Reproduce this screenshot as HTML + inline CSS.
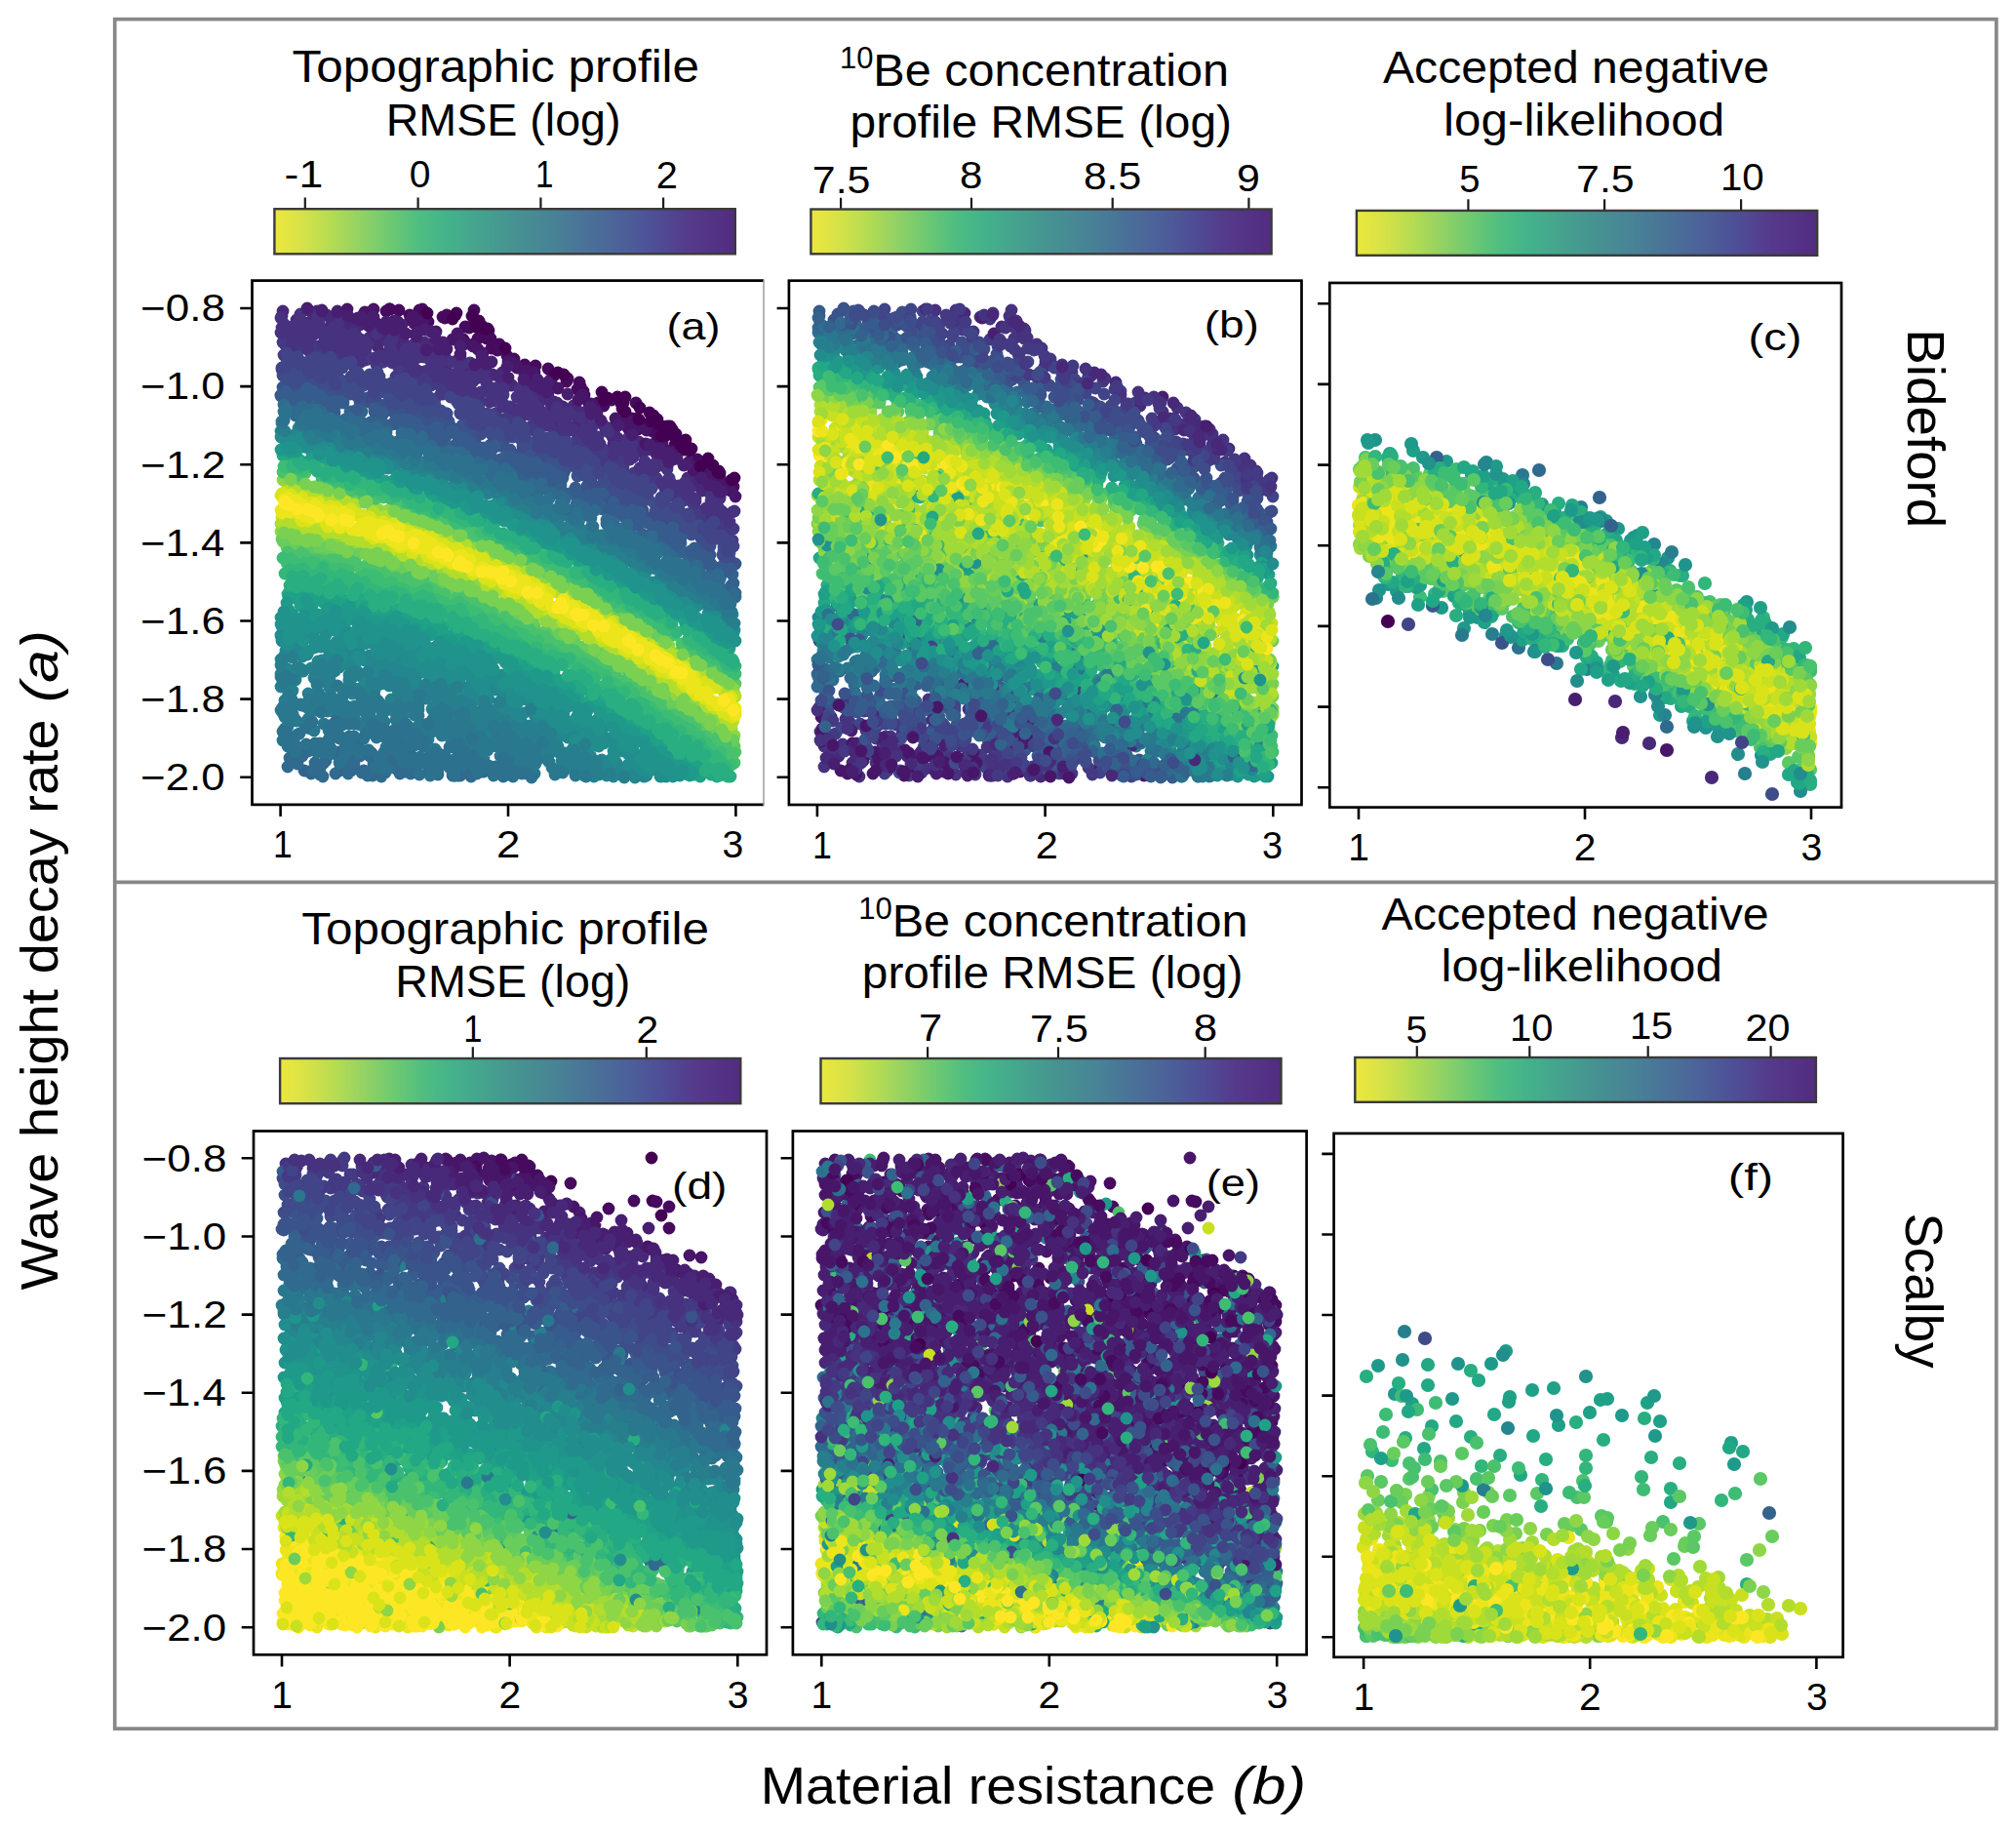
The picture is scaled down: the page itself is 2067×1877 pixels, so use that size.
<!DOCTYPE html>
<html><head><meta charset="utf-8"><title>Figure</title>
<style>html,body{margin:0;padding:0;background:#fff;overflow:hidden}svg{display:block}text{font-family:"Liberation Sans",sans-serif;fill:#000}</style></head><body>
<svg width="2067" height="1877" viewBox="0 0 2067 1877">
<rect width="2067" height="1877" fill="#fff"/>
<defs><linearGradient id="vg" x1="0" x2="1" y1="0" y2="0"><stop offset="0.00" stop-color="#ece73c"/><stop offset="0.06" stop-color="#d6e248"/><stop offset="0.12" stop-color="#b6dc52"/><stop offset="0.19" stop-color="#90d165"/><stop offset="0.25" stop-color="#6dc972"/><stop offset="0.31" stop-color="#50be80"/><stop offset="0.37" stop-color="#44b38b"/><stop offset="0.45" stop-color="#45a18e"/><stop offset="0.52" stop-color="#469291"/><stop offset="0.60" stop-color="#488396"/><stop offset="0.68" stop-color="#4a7198"/><stop offset="0.75" stop-color="#4c6299"/><stop offset="0.82" stop-color="#4e5097"/><stop offset="0.90" stop-color="#553a8b"/><stop offset="1.00" stop-color="#522c80"/></linearGradient></defs>
<g fill="none" stroke="#888888" stroke-width="3.7"><rect x="117.7" y="19.7" width="1929.2" height="1752.4"/><path d="M117.7 904.3H2046.9"/></g>
<g fill="none" stroke-linecap="round" stroke-width="12.8">
<path stroke="#a0da39" d="M295 496h0m0 0h0m16 3h0m11 2h0m2 2h0m-3 1h0m1 1h0m0 0h0m7-1h0m4 3h0m9 2h0m18 7h0m6 1h0m16 6h0m4-2h0m14 5h0m2 3h0m3-1h0m1 2h0m2 0h0m2 0h0m-122 7h0m7 4h0m8 0h0m1 1h0m21 3h0m2 0h0m93-12h0m1 3h0m5 1h0m14 6h0m-117 5h0m8-2h0m1 5h0m2-4h0m1 1h0m14 4h0m13 0h0m3 7h0m3-5h0m1 2h0m2 0h0m82-9h0m7 4h0m0 2h0m16 4h0m-106 4h0m7 4h0m9-4h0m1 2h0m8 1h0m0 3h0m4-1h0m1-1h0m3 5h0m7-1h0m1 3h0m2-1h0m12 2h0m59-13h0m12 7h0m7 3h0m1-1h0m-76 9h0m9 3h0m2-1h0m14 5h0m62-8h0m2-2h0m5 6h0m-59 8h0m0 2h0m0-3h0m7 6h0m4 2h0m4 1h0m1-1h0m4 2h0m2-2h0m1 2h0m2 2h0m0-2h0m5 3h0m53-13h0m5 5h0m17 5h0m-70 5h0m8 4h0m11 1h0m58-6h0m0 1h0m12 6h0m6 5h0m4 1h0m-68 7h0m0-6h0m8 5h0m9 6h0m1-3h0m51-6h0m7 1h0m16 10h0m2 0h0m-66 3h0m11 4h0m3 1h0m2 5h0m3-4h0m1 5h0m43-11h0m-35 16h0m3 0h0m2 1h0m2 2h0m11 1h0m3 5h0m2 0h0m46-11h0m6 4h0m1 1h0m7 6h0m-61 2h0m8 2h0m13 8h0m2-1h0m0 2h0m47-9h0m1 1h0m13 9h0m-59 4h0m9 2h0m4 1h0m4 2h0m8 5h0m41-12h0m7 3h0m4 3h0m-54 9h0m1-1h0m6 1h0m0 1h0m7 1h0m3 7h0m2 1h0m6 0h0m40-9h0m3 3h0m0-3h0m2 6h0m3-1h0m1-1h0m3 2h0m-43 11h0m5 3h0m2 0h0m1 2h0m3 1h0m44-8h0m0 2h0m1-2h0m8 7h0m-43 8h0m3 4h0m0-4h0m2 3h0m1 2h0m2 3h0m6 3h0m3-1h0m0 4h0m1 1h0m1-2h0m6 2h0m0 2h0m7 5h0m7 5h0"/>
<path stroke="#5ac864" d="M296 486h0m2 0h0m34 10h0m12 3h0m0 0h0m2 1h0m1 2h0m1-2h0m2 0h0m15 5h0m0-1h0m5 1h0m2 3h0m2 2h0m0-1h0m6 2h0m26 9h0m17 7h0m19 6h0m8-1h0m7 6h0m2 0h0m18 6h0m-183 15h0m3 0h0m5-1h0m187-5h0m12 5h0m0 0h0m3-3h0m-210 6h0m5 5h0m3-4h0m4 2h0m0 0h0m1-4h0m9 2h0m2 1h0m0 2h0m1-5h0m0 5h0m1-4h0m1-1h0m2 7h0m4-5h0m6 8h0m4-6h0m7 9h0m1-1h0m4-2h0m6 1h0m160-10h0m1 3h0m16 4h0m0 2h0m4 1h0m6 1h0m-215 2h0m27 2h0m7 3h0m3-5h0m5 8h0m4 3h0m3-6h0m3-2h0m4 3h0m1-1h0m1 6h0m2-2h0m7 4h0m5-5h0m5 0h0m137-8h0m4 3h0m6 6h0m8-1h0m5 1h0m4 4h0m-161 3h0m11-1h0m6-1h0m2 4h0m0 4h0m2 3h0m0-4h0m5 3h0m3-3h0m4 1h0m131-7h0m2 1h0m1 0h0m0 2h0m2-1h0m0-2h0m0 2h0m0-2h0m9 8h0m3 1h0m5 1h0m0 1h0m-147 2h0m6 1h0m1 1h0m3 6h0m13 4h0m125-12h0m1 0h0m5 4h0m17 7h0m4 0h0m-125 4h0m2 3h0m4 1h0m7 1h0m0 6h0m3-1h0m3-1h0m2 1h0m106-9h0m12 5h0m-116 7h0m5 6h0m1-2h0m1 2h0m3-4h0m2 2h0m3 4h0m1-3h0m3 4h0m1 0h0m2-2h0m6 3h0m1 0h0m0 3h0m102-9h0m0 0h0m0-2h0m3 3h0m6 1h0m2-1h0m2 3h0m7 1h0m1 2h0m-120 7h0m4 4h0m1-3h0m5 3h0m0-7h0m2 7h0m11 4h0m5-1h0m1-2h0m92-8h0m1 0h0m4 5h0m-105 8h0m0 0h0m2 0h0m1 2h0m14 4h0m1-1h0m11 6h0m101-4h0m3 2h0m-99 5h0m1 1h0m3 0h0m0 0h0m2 4h0m0 1h0m0-4h0m2 2h0m3 2h0m2 7h0m4-5h0m2 4h0m4-2h0m85-10h0m5 5h0m2 0h0m7 4h0m5 3h0m-101 2h0m0 0h0m9 12h0m10 1h0m96-8h0m0 3h0m-94 6h0m1 2h0m5-2h0m0 8h0m3-3h0m5 2h0m1 2h0m3 1h0m1-2h0m82-7h0m-79 22h0m2-6h0m5 0h0m7 6h0m1-2h0m3 5h0m-5 4h0m19 9h0m6 2h0m0 6h0m7-5h0m2 6h0m3-3h0m5 8h0m1-4h0m2 2h0m4 4h0m1 0h0m-3 2h0m4 12h0m2-4h0m6-3h0m3 1h0m1 1h0m2 1h0m1 6h0"/>
<path stroke="#24868e" d="M288 442h0m1-1h0m11 6h0m3-2h0m3-6h0m4 4h0m15 2h0m-14 4h0m4 3h0m1-3h0m4 4h0m6 2h0m3-1h0m0-1h0m2-2h0m0 8h0m1-11h0m7 10h0m1-5h0m2 1h0m7 5h0m2 1h0m4-3h0m1 4h0m2 0h0m1-3h0m0-1h0m-4 8h0m14-1h0m9 5h0m2-1h0m5 2h0m7 0h0m4 3h0m1-4h0m1 3h0m2-4h0m0 5h0m1-5h0m1 1h0m3 6h0m7-1h0m-7 7h0m17-4h0m1 2h0m1 6h0m0-9h0m1 0h0m2 9h0m1-1h0m3 0h0m9-3h0m3 5h0m7 3h0m4 1h0m24 10h0m2-1h0m2-1h0m3 3h0m-7 9h0m10-5h0m6 0h0m6 1h0m3-1h0m10 5h0m2 4h0m1 0h0m2-3h0m1 5h0m5-1h0m-2 4h0m5 3h0m5 1h0m4 3h0m5-2h0m3 5h0m5-1h0m6-3h0m0 5h0m7 7h0m2 2h0m5-1h0m11 3h0m2 5h0m5 9h0m10 0h0m2 0h0m2-1h0m0 3h0m6-2h0m1 2h0m0 2h0m9 7h0m6 4h0m15 3h0m12-1h0m5 10h0m4-3h0m1 8h0m9 10h0m8-4h0m0 4h0m3-4h0m4 2h0m1 5h0m4 0h0m-1 2h0m4 8h0m11-4h0m1 1h0m1 5h0m3 0h0m0-4h0m1 8h0m17 6h0m5 4h0m7 3h0m-6 5h0m5-1h0m7 5h0m3-4h0m1 7h0m-459 16h0m32-2h0m0-3h0m3 5h0m38 0h0m390-8h0m-459 18h0m2-1h0m4 5h0m1-7h0m5-2h0m6 6h0m2-1h0m2 4h0m14-8h0m9 7h0m3-8h0m1 8h0m6-1h0m5-3h0m1-5h0m4 0h0m3 9h0m7-1h0m19 0h0m3-1h0m2-4h0m18 7h0m49 0h0m-171 5h0m1 5h0m2-8h0m4 0h0m2-1h0m13 1h0m9 12h0m7-7h0m3 4h0m1 2h0m0-2h0m0-5h0m5 6h0m1-8h0m1 9h0m1-12h0m2 0h0m2 3h0m1 5h0m5 4h0m6-6h0m5 4h0m2-7h0m1 6h0m3-2h0m9-5h0m0 3h0m5-2h0m0-3h0m4 4h0m2 4h0m5-7h0m1 5h0m0-3h0m0 8h0m0-10h0m2 6h0m2 1h0m1 3h0m0-11h0m2 2h0m9 7h0m0-6h0m2 7h0m10-9h0m4 11h0m29-4h0m-158 6h0m1 0h0m3 6h0m3-4h0m8-2h0m18 2h0m11 8h0m6-9h0m14 12h0m0 0h0m1-8h0m1-3h0m6 0h0m6 7h0m1-4h0m1 8h0m5-12h0m0 2h0m5 3h0m6-5h0m1 2h0m1 3h0m6-4h0m0 3h0m1 7h0m0 0h0m3-11h0m3 2h0m0 9h0m4-10h0m4 4h0m4-3h0m0 0h0m1 2h0m2-1h0m3-2h0m3 9h0m1-4h0m6-5h0m3-2h0m6 8h0m1-7h0m1-1h0m0 6h0m3 1h0m5 1h0m1 3h0m1-4h0m0 6h0m3-3h0m10-4h0m5-1h0m0-5h0m9 6h0m3 7h0m6 0h0m7-5h0m12-1h0m-140 13h0m52-3h0m2-3h0m8 3h0m1 8h0m2-4h0m14 6h0m1-3h0m1-1h0m1-5h0m2 5h0m4-9h0m5 1h0m0 4h0m5-3h0m1 4h0m1 7h0m4-6h0m1-3h0m1 7h0m4-1h0m1-3h0m3 0h0m1-1h0m1 2h0m7 5h0m1-13h0m1 11h0m0 0h0m1-9h0m1 6h0m2-1h0m1-6h0m0 5h0m3-2h0m6 3h0m-60 15h0m16-8h0m10 2h0m11 1h0m6-3h0m1 3h0m1-2h0m0 3h0m2-4h0m1 0h0m2 6h0m3-3h0m9 10h0m6-2h0m0-10h0m2 8h0m2 2h0m3 2h0m1-11h0m1 4h0m4-2h0m19 7h0m3-4h0m-48 7h0m2 1h0m5 6h0m6-7h0m2 3h0m9 7h0m2-8h0m2 4h0m1 7h0m2-3h0m3-7h0m9-2h0m2 4h0m2 1h0m1-2h0m6 5h0m0 3h0m5-6h0m0 7h0m13-1h0m6-1h0m-62 8h0m1-4h0m9 0h0m14 5h0m6-5h0m2 3h0m3 3h0m6 6h0m1-12h0m3 4h0m15 7h0m0-3h0m2-5h0m5 3h0m2 5h0m3-1h0m16 1h0m-58 14h0m10-6h0m6-5h0m1 10h0m2-8h0m4-3h0m10 0h0m5 12h0m1-9h0m4 3h0m2-4h0m4 2h0m0 6h0m0-8h0m1 4h0m0-2h0m4 4h0m3-1h0m1-3h0m1 4h0m0-4h0m-19 17h0m9-2h0m3 8h0m3-7h0m1-2h0m1 4h0m10 5h0m1-4h0m8 3h0m1-3h0m6 3h0m-18 9h0m8 4h0m0-11h0m1 0h0m2 3h0m4 9h0m3-11h0m0 9h0m3-8h0m3 6h0m2 4h0m0 1h0m4-8h0m1 2h0m1 2h0m2-4h0m2 0h0m1 8h0m9-1h0m1 0h0m2-1h0"/>
<path stroke="#443a83" d="M305 349h0m6-10h0m39 4h0m-60 8h0m2 2h0m4-3h0m4 6h0m4-3h0m4 4h0m12-4h0m4 5h0m0 2h0m1 3h0m2-8h0m9-2h0m10 6h0m-55 5h0m41 1h0m4 8h0m7-4h0m9-1h0m7 1h0m1 1h0m3 6h0m1-4h0m1 3h0m2-9h0m8 1h0m0 2h0m3-1h0m0-1h0m4 1h0m2-1h0m2 7h0m1-6h0m0 7h0m4-5h0m2 1h0m10 1h0m2-3h0m2 0h0m0 5h0m6-1h0m10 0h0m-17 13h0m3-4h0m7-4h0m3 7h0m0 2h0m2-7h0m2 7h0m7 3h0m1-5h0m4-4h0m8 5h0m1 5h0m1-4h0m3 2h0m-41 5h0m7 1h0m26-2h0m1-1h0m1 3h0m0 0h0m10 2h0m0 7h0m1-10h0m1 10h0m4-12h0m2 3h0m5 2h0m4 0h0m2 3h0m3-2h0m1 7h0m1-4h0m4 1h0m3-2h0m10 2h0m8 0h0m15 3h0m-70 4h0m21-2h0m9 0h0m8 3h0m3 1h0m2-4h0m2 7h0m1-3h0m16-2h0m0 2h0m9 5h0m1 0h0m3 3h0m2-2h0m15 1h0m-30 6h0m9 6h0m7-3h0m0 4h0m1-5h0m3 1h0m4-4h0m4 0h0m7 2h0m3 3h0m0 0h0m1 5h0m7 0h0m15-9h0m-37 10h0m12 6h0m5 2h0m11-6h0m2-2h0m6 3h0m23 4h0m-18 12h0m0 1h0m4-3h0m12 5h0m3-6h0m0 8h0m1-4h0m3 5h0m2-3h0m1-3h0m1 5h0m0-1h0m8 4h0m4-11h0m7 11h0m-7 2h0m6 8h0m3-7h0m0-1h0m3 9h0m1 2h0m2 0h0m0-11h0m7 3h0m2 6h0m-20 8h0m8-4h0m8 7h0m4 0h0m0-3h0m3-1h0m11 6h0m13 4h0m1-6h0m-9 12h0m5 0h0m3 4h0m0-1h0m6-4h0m1-1h0m3-3h0m2 5h0m11-5h0m2 12h0m0-7h0m-4 9h0m11 6h0m4 2h0m2 1h0m10 4h0m5 7h0m2 7h0m2-1h0m1-5h0m0 5h0m6-2h0m7-3h0m1 1h0m2 3h0m2-3h0m2 5h0m-12 4h0m2 0h0m4 2h0m3 3h0m2-4h0m3 8h0m2-11h0m7 9h0m-8 7h0m2-2h0m5 7h0"/>
<path stroke="#460b5e" d="M396 319h0m3-2h0m1 0h0m9 1h0m21 0h0m3-1h0m53 1h0m-66 5h0m15-1h0m0 4h0m4 4h0m15-5h0m2 1h0m2-3h0m19 12h0m12-5h0m5 4h0m-19 14h0m6-12h0m9 11h0m6-5h0m3 5h0m2-8h0m1 7h0m1 1h0m-16 5h0m17 5h0m6 2h0m2-6h0m2 5h0m6 7h0m7 3h0m11 8h0m0-2h0m11 1h0m13 3h0m4 8h0m1 0h0m1-1h0m13 6h0m1-3h0m10 11h0m2-7h0m1 4h0m3 5h0m1 4h0m-2 2h0m7 7h0m9-1h0m6-3h0m0 6h0m8-6h0m9 0h0m2 2h0m14 1h0m-10 15h0m0 0h0m6 1h0m0 1h0m3 2h0m2-3h0m2 3h0m-4 6h0m3 2h0m3-3h0m5 2h0m1 2h0m2-2h0m4 3h0m9-5h0m0 10h0m-4 2h0m3 3h0m15 4h0m23 15h0m4 6h0m6 4h0m0 0h0m27 18h0"/>
<path stroke="#8ed645" d="M290 492h0m3 2h0m16 4h0m18 5h0m5 2h0m6 2h0m4 2h0m5 0h0m3 0h0m4 4h0m27 6h0m8 4h0m8 3h0m1-3h0m3 1h0m5 2h0m7 4h0m2 0h0m-127 15h0m13-1h0m3 0h0m4 1h0m6 0h0m108-12h0m5 1h0m6 3h0m12 5h0m-149 6h0m11-1h0m4 1h0m12 2h0m13 2h0m6 4h0m2 1h0m0-1h0m5 1h0m17 2h0m2-1h0m99-9h0m-120 13h0m14-1h0m1 2h0m2-3h0m1 1h0m2-1h0m0 0h0m0 2h0m9 2h0m1 0h0m0 1h0m6 3h0m3-3h0m1-2h0m0 4h0m13 4h0m86-11h0m9 2h0m4 1h0m0-1h0m18 11h0m1-1h0m0 0h0m-87 11h0m2 1h0m7 3h0m0 0h0m2 0h0m86-9h0m7 2h0m8 5h0m8 2h0m-97 6h0m0-3h0m2 1h0m2 0h0m3 0h0m0 2h0m2-2h0m4 2h0m7 5h0m2 0h0m2 3h0m4-3h0m3 2h0m62-12h0m5 0h0m4 4h0m1-2h0m3 4h0m3 1h0m2 2h0m11 4h0m3 0h0m-100 1h0m13 3h0m1 5h0m7-2h0m85-3h0m8 8h0m5 0h0m-79 4h0m8 4h0m14 4h0m2 2h0m2 0h0m67-10h0m12 8h0m-66 11h0m2 1h0m10 4h0m55-11h0m9 3h0m4 1h0m-61 12h0m2 1h0m4-1h0m82 6h0m5 0h0m1 1h0m-58 10h0m4 3h0m1 3h0m60-10h0m7 6h0m1-3h0m7 8h0m3 0h0m-65 2h0m2 2h0m1 3h0m1-1h0m1 0h0m7 5h0m55-9h0m4 4h0m0-1h0m8 5h0m3 0h0m4 4h0m-67 2h0m3 1h0m2 3h0m0-2h0m7 7h0m0-5h0m4 7h0m1-3h0m54-6h0m5 0h0m6 4h0m4 3h0m5 2h0m-54 12h0m2 1h0m2 2h0m4 1h0m3 0h0m44-9h0m10 2h0m-58 8h0m3 1h0m6 2h0m6 9h0m4-3h0m0 1h0m2 2h0m8 9h0m1-1h0m7 1h0m1 4h0m2 1h0m3 0h0m0 2h0m6 6h0m7-1h0m2 7h0m1 0h0"/>
<path stroke="#22a884" d="M290 467h0m2-2h0m6 2h0m7 3h0m3 2h0m9 3h0m6-1h0m9 0h0m-1 2h0m4 2h0m4 2h0m2 2h0m0-2h0m4 0h0m9 5h0m4-3h0m2 5h0m1-3h0m2 2h0m1-4h0m0 4h0m2-2h0m1 1h0m11 3h0m0 1h0m1 1h0m0 2h0m3 0h0m11 2h0m0 0h0m1 3h0m5 0h0m8 3h0m8 3h0m4 0h0m25 9h0m11 8h0m8-1h0m5 3h0m1 1h0m7 2h0m8 1h0m6 4h0m3 5h0m9 1h0m4 4h0m22 7h0m9 3h0m17 13h0m3 1h0m5-2h0m2 0h0m1 2h0m5 1h0m3 8h0m5-2h0m0 0h0m1 2h0m14 10h0m2-3h0m2 1h0m4 0h0m7 6h0m0-1h0m1-1h0m-311 15h0m1-1h0m313-8h0m0 0h0m3-2h0m8 2h0m2 9h0m7 0h0m-337 9h0m2-3h0m7-3h0m2 0h0m0 2h0m2 5h0m0 0h0m5 1h0m1 2h0m0 0h0m2-6h0m7-2h0m2 3h0m1 7h0m4-10h0m0-2h0m4 7h0m1-3h0m0 3h0m10 4h0m1-3h0m2 1h0m1-1h0m1 2h0m8 2h0m5-6h0m8 2h0m4 3h0m258-12h0m2 0h0m0 3h0m6 1h0m0 0h0m6 2h0m0-1h0m2 1h0m3 4h0m5-3h0m-324 9h0m0-1h0m19-1h0m7 4h0m0-4h0m6 3h0m5-1h0m3 6h0m12 3h0m6-7h0m1 2h0m1-1h0m4 3h0m0 1h0m5 2h0m2-4h0m3 1h0m2 0h0m2 2h0m1 1h0m2-1h0m13 3h0m10 0h0m227-9h0m10 1h0m6 3h0m2 4h0m-270 4h0m7-1h0m4 2h0m3 8h0m11-7h0m1-2h0m14 2h0m0 1h0m4 5h0m12 2h0m3-2h0m217-6h0m15 7h0m-236 4h0m8 2h0m7 4h0m4 5h0m9 1h0m7-1h0m9-1h0m206-3h0m0-3h0m15 5h0m-230 9h0m9 1h0m0-1h0m6-1h0m5 4h0m4 3h0m11 2h0m199-11h0m2 2h0m1 1h0m2 2h0m3-2h0m1 4h0m-225 5h0m3 2h0m6 3h0m7-4h0m9 6h0m7 4h0m1 2h0m5-4h0m-3 5h0m13 5h0m0-3h0m0-1h0m8 11h0m4 1h0m5-2h0m-7 8h0m4-2h0m0 0h0m2-2h0m1 6h0m2-3h0m1-4h0m2 5h0m2-5h0m1 0h0m2 9h0m0-3h0m2-1h0m9 7h0m0-3h0m10 2h0m0-3h0m-14 12h0m5-4h0m4 3h0m2-3h0m3 0h0m2 9h0m2-9h0m3 5h0m1 0h0m6 1h0m2 3h0m1 0h0m-4 8h0m3 0h0m4-3h0m5 0h0m5 7h0m0 0h0m14 11h0m2 1h0m4 4h0m3-3h0m9 5h0m1-2h0m-12 3h0m14 7h0m12 5h0m1 0h0m2 1h0m7-1h0m-15 5h0m4 2h0m3-3h0m8 6h0m3-8h0m4 10h0m4-4h0m3 7h0m2-1h0m1 8h0m1 1h0m8 3h0m6 2h0"/>
<path stroke="#69cd5b" d="M307 493h0m3 1h0m18 3h0m7 4h0m2-1h0m8 2h0m2 1h0m1-1h0m12 5h0m4-1h0m3 2h0m42 13h0m5 2h0m6 3h0m1 2h0m5 1h0m1 1h0m2-2h0m1 1h0m3-1h0m7 3h0m-1 1h0m11 5h0m14 8h0m4-1h0m-179 9h0m1 2h0m2 0h0m9-4h0m3 4h0m8 2h0m159-8h0m11 2h0m12 2h0m9 6h0m-201 1h0m5 2h0m3-1h0m17 0h0m8 0h0m4 3h0m7 0h0m2 0h0m3 1h0m7 1h0m10 2h0m141-6h0m0 2h0m1 0h0m0-2h0m3 4h0m1-1h0m10 3h0m-143 6h0m0 1h0m0 2h0m2-3h0m1 0h0m4 1h0m14 8h0m3-3h0m0-2h0m7 6h0m0-2h0m6 1h0m0 0h0m5 2h0m1-1h0m118-8h0m2 2h0m16 9h0m6 0h0m-137 2h0m11 9h0m2-9h0m6 5h0m1 2h0m9 3h0m8 2h0m99-11h0m4 1h0m8 6h0m2 1h0m-123 7h0m6-1h0m0-2h0m5 3h0m1 1h0m1-1h0m5 1h0m3 1h0m6 3h0m3 3h0m8 2h0m97-10h0m11 3h0m1 1h0m8 5h0m-128 2h0m25 2h0m2 5h0m12 1h0m3 2h0m97-3h0m3-1h0m10 6h0m-104 4h0m3 1h0m2-2h0m5 4h0m4 4h0m0 1h0m96-10h0m10 5h0m1 1h0m2 4h0m6 1h0m-87 9h0m15 6h0m84-9h0m1 5h0m5 0h0m-95 6h0m6 0h0m6 5h0m4 3h0m3 4h0m3-2h0m5 1h0m0 0h0m3 0h0m86-3h0m4 2h0m3 2h0m-80 11h0m2-1h0m4 3h0m1-1h0m2 4h0m15 5h0m16 8h0m62-13h0m4 3h0m2-2h0m6 5h0m0 0h0m2 2h0m-87 7h0m6 1h0m1 0h0m2-1h0m9 3h0m3 7h0m5 2h0m3 7h0m11 4h0m2 1h0m4 0h0m11 9h0m2-4h0m4 7h0m2 1h0m15 13h0m7 3h0m6 5h0m4 0h0"/>
<path stroke="#228d8d" d="M291 445h0m-3 3h0m5 6h0m4-2h0m11 4h0m1-8h0m1 10h0m1-5h0m2 2h0m4 5h0m3-4h0m11 3h0m5-1h0m2 3h0m16-1h0m-14 5h0m1-3h0m4 1h0m5-1h0m1 0h0m1 3h0m6 7h0m2-3h0m7 3h0m0-1h0m4-2h0m12 5h0m-7 4h0m4-1h0m17-1h0m1 4h0m17 6h0m12 7h0m11 2h0m2-3h0m3 2h0m2 3h0m6 2h0m2-5h0m4 6h0m0 3h0m4-2h0m1-1h0m1-1h0m3 3h0m5 1h0m2-4h0m6 8h0m1 2h0m1 1h0m3 1h0m1-7h0m2 11h0m1-8h0m20 10h0m3-3h0m-8 5h0m14 5h0m8 3h0m0-3h0m4 4h0m3-1h0m2 3h0m2 0h0m1 0h0m1 4h0m5 1h0m8 2h0m6 3h0m3-2h0m13 6h0m-2 4h0m6 1h0m2 5h0m2-7h0m0 3h0m9 2h0m0-1h0m2 6h0m6 1h0m-3 2h0m4 2h0m4-2h0m7 5h0m3-3h0m0 4h0m5 3h0m1-1h0m9 3h0m3 4h0m4 6h0m3 0h0m24 6h0m-15 1h0m29 10h0m4 3h0m1 6h0m2 0h0m1-2h0m1-1h0m3 0h0m1 6h0m1 3h0m1-3h0m3-2h0m9 6h0m-5 4h0m5 5h0m2-5h0m4 3h0m5-3h0m1 3h0m11 8h0m-437 13h0m20-2h0m11 1h0m409-11h0m1 6h0m3 2h0m2-2h0m0 3h0m1-6h0m2 3h0m-450 16h0m0-1h0m6 4h0m3 1h0m2-10h0m4 7h0m2 0h0m4-5h0m3 4h0m1-7h0m6 9h0m1-4h0m1 3h0m8-9h0m2 12h0m1-11h0m2-1h0m0 7h0m0-3h0m10-2h0m7 4h0m3-5h0m0 12h0m2-4h0m4-2h0m4-2h0m3 5h0m3-4h0m6 1h0m4 3h0m0 0h0m4-1h0m9-2h0m4 5h0m355-9h0m1-1h0m-460 14h0m3 1h0m16 9h0m5-3h0m5-3h0m2-2h0m2-3h0m0 4h0m9-1h0m2 0h0m5 2h0m3-6h0m2 0h0m2 2h0m21-1h0m4 1h0m7-1h0m5 9h0m1-7h0m1-1h0m0-2h0m2 12h0m0 1h0m2-13h0m0 8h0m1-8h0m0 5h0m3 0h0m3 4h0m2-4h0m1 0h0m2 0h0m1 6h0m1-1h0m1-5h0m0-4h0m6 6h0m2 1h0m3 5h0m2 0h0m3-10h0m0-3h0m2 8h0m1-1h0m1 6h0m0-4h0m0 2h0m2-4h0m12 3h0m8-3h0m3 5h0m6-3h0m-108 9h0m1-3h0m16 0h0m2 3h0m33-4h0m14 5h0m6 2h0m5-2h0m0-5h0m2 3h0m3 8h0m3-3h0m1 1h0m2-1h0m1 5h0m2-11h0m0 2h0m2 2h0m2 3h0m1 3h0m1-1h0m2-5h0m1 3h0m4-4h0m0-5h0m1 12h0m1-6h0m0 4h0m2 0h0m1-1h0m1-6h0m2-3h0m1 12h0m5-9h0m3 3h0m3 5h0m4 2h0m3-1h0m5 0h0m0 1h0m0 0h0m3-1h0m-52 6h0m0-4h0m9 3h0m1 6h0m0-6h0m9-2h0m3 8h0m1-9h0m5 8h0m6 2h0m3-10h0m8 7h0m1 1h0m1-6h0m3 4h0m4 4h0m4-4h0m0 3h0m6-9h0m1 7h0m2 0h0m0-4h0m1 6h0m2-5h0m8 2h0m0 6h0m1-5h0m10 5h0m7 0h0m-63 8h0m19-5h0m5 8h0m1-1h0m2 2h0m0-6h0m16-2h0m3 2h0m8-3h0m1 10h0m3 2h0m3-2h0m0-5h0m7 5h0m4 0h0m0 0h0m1-5h0m2 4h0m9 3h0m-56 4h0m27 1h0m5 2h0m1 0h0m8-3h0m1 0h0m7 7h0m1-3h0m5-6h0m1 3h0m2 4h0m1 2h0m1 1h0m4-9h0m2 5h0m5-1h0m2 3h0m0-2h0m1 3h0m7-5h0m-28 12h0m4 0h0m2-2h0m4 1h0m5 7h0m0-3h0m3 4h0m0 3h0m2-6h0m4 6h0m2-9h0m1 5h0m0-6h0m3 9h0m0 1h0m11-7h0m3-3h0m2 8h0m1-7h0m4 8h0m0-1h0m-32 7h0m10-2h0m0 2h0m6-2h0m10 1h0m1 2h0m2 4h0m1-5h0m1 7h0m5 2h0m1-7h0m1-1h0m3-5h0m1 6h0m2 4h0m1-10h0m0 9h0m2-6h0m1 2h0m-28 12h0m20 5h0m3-5h0m1 6h0m3-4h0m1-1h0m1 2h0m4-5h0m5 4h0m2-4h0m1 8h0m3-5h0m4 1h0m5 6h0m2-5h0m-16 8h0m0 6h0m7-6h0m6 1h0m2 2h0m5 5h0m1-2h0m0-5h0m2 11h0m2-5h0m4 4h0m4-9h0m0 10h0m1-7h0m0-2h0m-19 11h0m13 2h0m0 3h0m8 2h0m2-3h0m5 0h0m3 3h0m2-2h0m0 7h0m1 0h0m0-9h0m5 9h0m2-6h0"/>
<path stroke="#3a538b" d="M300 388h0m2 1h0m1 2h0m2-2h0m25 0h0m-40 8h0m4-2h0m5 5h0m3-4h0m2 5h0m2-7h0m4 4h0m0-2h0m1 2h0m3-4h0m3 4h0m7 6h0m1-6h0m8 7h0m2-3h0m1-8h0m1 2h0m2 9h0m15 0h0m7-8h0m26 6h0m-65 5h0m19-1h0m9 0h0m1 5h0m15-6h0m3 6h0m4-1h0m4-3h0m1 4h0m3 1h0m0-5h0m1 4h0m8 3h0m6 3h0m1 1h0m0-2h0m8 2h0m1-1h0m10-4h0m1 1h0m0-3h0m-32 12h0m8 0h0m1-4h0m9 2h0m1-2h0m2 3h0m6-3h0m4 11h0m8-2h0m4 4h0m1 0h0m2-8h0m0 8h0m1-6h0m9 3h0m5-2h0m3 5h0m3-1h0m6-8h0m2 8h0m-28 6h0m8-1h0m11 0h0m3-2h0m3 4h0m0 2h0m1-6h0m1 1h0m3 1h0m0 0h0m12-1h0m4 5h0m1 4h0m2 1h0m2 0h0m1-1h0m8-3h0m1 3h0m11 0h0m-31 4h0m13 6h0m1-3h0m16 4h0m2 4h0m2-9h0m0 4h0m1-1h0m2 2h0m1 0h0m1 1h0m4-9h0m1 10h0m6 3h0m-1 2h0m0 5h0m5-2h0m7-1h0m3 0h0m1 9h0m3-3h0m6-8h0m0 6h0m2 3h0m1-8h0m3 1h0m0 6h0m3-1h0m8-5h0m5 3h0m2 6h0m-9 3h0m15 2h0m1 6h0m2-4h0m12 7h0m-17 6h0m25 9h0m2-5h0m17-6h0m9 10h0m-9 14h0m0-11h0m0 7h0m1-5h0m3-1h0m11 9h0m3-5h0m5 7h0m1-5h0m1 2h0m-13 5h0m7 3h0m1-3h0m2-1h0m5 3h0m1 4h0m8 0h0m2-6h0m0 7h0m2-3h0m2 6h0m11-5h0m2 6h0m4 0h0m-11 4h0m1 4h0m12 3h0m1-8h0m3 1h0m2 9h0m19 1h0m-13 2h0m2 2h0m3 3h0m12-3h0m14 10h0m0 3h0m2 9h0m3-1h0m13 0h0m3 0h0m4-2h0m-5 11h0m0-1h0m1 4h0m10-3h0"/>
<path stroke="#482979" d="M290 319h0m26-1h0m9 1h0m21 0h0m-57 5h0m5 11h0m10-7h0m8 6h0m0-3h0m9-4h0m2-3h0m2 0h0m2-2h0m8 1h0m4 4h0m1 5h0m14-3h0m3 4h0m2-6h0m10 6h0m-67 3h0m31 2h0m8-2h0m6 3h0m4 4h0m1 5h0m12-7h0m1-5h0m14 10h0m5-6h0m8 8h0m4-7h0m1 3h0m1-3h0m3-2h0m2 0h0m1 9h0m4-3h0m-23 6h0m2 4h0m6 8h0m8-13h0m6 5h0m1 0h0m6-3h0m1 3h0m1 1h0m1 4h0m14 3h0m4-12h0m4 6h0m2 3h0m2-2h0m2-1h0m2 0h0m6-2h0m2 8h0m1 3h0m3 7h0m9-3h0m3 6h0m1-9h0m1 4h0m7 3h0m3-1h0m2 2h0m-11 13h0m2-8h0m5-2h0m1 6h0m5-4h0m7 0h0m3 1h0m8 3h0m6 1h0m2 3h0m1-4h0m1-2h0m2-1h0m3 8h0m18 2h0m-14 4h0m1 0h0m9 6h0m2 3h0m0-3h0m3 4h0m5-6h0m3-3h0m1 8h0m3-8h0m8 7h0m3 0h0m-7 6h0m0 1h0m10 5h0m3-3h0m3 1h0m0 2h0m1 1h0m1-1h0m4 2h0m11-1h0m-13 17h0m16-13h0m1 6h0m1 6h0m5-9h0m5 10h0m4-4h0m-4 5h0m4 2h0m11-1h0m7 6h0m0-2h0m5 1h0m0 7h0m-2 1h0m1 7h0m4-6h0m1 1h0m11-2h0m0 6h0m5 0h0m5-1h0m3 2h0m6 6h0m-14 4h0m9-1h0m0-2h0m13 2h0m2 8h0m2 3h0m1-2h0m2-4h0m26 21h0m3 0h0m1 3h0m8 6h0m3 4h0m8-2h0m0-1h0m7 9h0m3 2h0"/>
<path stroke="#c8e020" d="M298 501h0m-5 4h0m0-1h0m2 0h0m4 3h0m22 2h0m1 0h0m9 5h0m1 2h0m0-2h0m1-1h0m4 2h0m3 2h0m9-1h0m3 0h0m-63 15h0m3-1h0m50-11h0m21 4h0m20 8h0m7 0h0m-94 1h0m4 1h0m10 3h0m0-2h0m0 1h0m10 5h0m0-3h0m9 4h0m19 3h0m54-7h0m6-1h0m4-1h0m12 7h0m-78 4h0m20 2h0m6 4h0m3 1h0m3 1h0m1 0h0m1 1h0m4 0h0m4 0h0m4 3h0m0-3h0m2 0h0m46-4h0m1-2h0m-38 14h0m26 8h0m9-1h0m27-10h0m3 2h0m2-1h0m1-1h0m0 4h0m5 0h0m12 5h0m3 2h0m-57 3h0m16 3h0m11 6h0m13 2h0m25-9h0m4 1h0m6 3h0m10 5h0m6 0h0m4 1h0m-56 3h0m2-1h0m9 0h0m19 12h0m6 1h0m27-12h0m1 3h0m-24 10h0m4 3h0m1 1h0m0 1h0m3 2h0m1-2h0m41-3h0m6 1h0m7 3h0m-35 9h0m7 2h0m8 6h0m1 0h0m12 3h0m18 9h0m1 5h0m8 1h0m21-13h0m13 7h0m-26 11h0m3 1h0m9 8h0m33-8h0m-24 10h0m12 7h0m5 4h0m25-9h0m-21 13h0m13 6h0m28-6h0m6 4h0m-22 10h0m5 0h0m14 9h0m34 2h0m1 0h0m2-1h0m0 1h0m-32 2h0m10 8h0m9 4h0m1-2h0m16-9h0m11 7h0m-16 15h0m0-4h0m7 6h0m2-1h0m7 8h0m4 3h0m6 3h0"/>
<path stroke="#33638d" d="M288 406h0m5 11h0m12-1h0m1-5h0m0 5h0m0-6h0m3 1h0m6 7h0m0-8h0m3 7h0m6-3h0m3 1h0m1 3h0m-18 2h0m24 1h0m25 1h0m2 0h0m5 3h0m5-3h0m9 11h0m4-2h0m1 0h0m5 1h0m-19 4h0m3 2h0m9-4h0m3 0h0m5 5h0m1-4h0m2 2h0m0-2h0m8 0h0m15 5h0m6 3h0m2-3h0m5 1h0m2 2h0m-3 5h0m6 3h0m0-1h0m12 4h0m18 4h0m3-2h0m10 3h0m2 2h0m6-1h0m10-1h0m-32 3h0m3 3h0m3-3h0m3 1h0m8 1h0m2 4h0m1-1h0m1 1h0m3-1h0m2-3h0m2 7h0m4-3h0m3-3h0m4 2h0m1 3h0m7 4h0m3-1h0m5 5h0m2 5h0m0-6h0m3 2h0m1 6h0m1-6h0m9 6h0m4 3h0m6-2h0m-12 5h0m12 3h0m2-3h0m8 4h0m6 3h0m2-2h0m2 6h0m10-4h0m0 4h0m-7 2h0m3 2h0m13 0h0m8 6h0m1 4h0m4-4h0m1-2h0m1 7h0m0-3h0m1 1h0m5 2h0m-10 3h0m8 3h0m8-3h0m1 0h0m4 1h0m0-2h0m2 3h0m12 2h0m4 3h0m6 3h0m4 3h0m1 7h0m4-1h0m8 10h0m2-1h0m9-1h0m2 8h0m6-4h0m1 4h0m3-4h0m5 7h0m9-1h0m4 0h0m-11 14h0m0-10h0m6 6h0m4-5h0m2 4h0m7 4h0m9 3h0m-9 2h0m4 2h0m8 0h0m11 4h0m11 4h0m2-2h0m1 3h0m-9 11h0m5-6h0m11 9h0m1-1h0m0-10h0m1 9h0m-4 5h0m-416 167h0m-20 20h0m7 3h0m29-3h0m25 0h0"/>
<path stroke="#b2dd2d" d="M301 502h0m10 0h0m1 0h0m4 2h0m6 2h0m7 5h0m3-2h0m6 5h0m3-3h0m8 2h0m1 0h0m5 1h0m8 3h0m-72 14h0m65-13h0m27 7h0m12 4h0m6 0h0m1 1h0m-113 6h0m0 0h0m3-3h0m5 5h0m11 1h0m3 3h0m8-3h0m2 3h0m2-1h0m5 1h0m3 3h0m5 0h0m3 0h0m1 0h0m1-1h0m3 1h0m54-13h0m13 5h0m10 1h0m6 2h0m-95 6h0m21 3h0m7 4h0m4-3h0m4 5h0m7 1h0m2-1h0m2 4h0m7-1h0m0 1h0m1-1h0m47-12h0m9 4h0m2-1h0m5 0h0m4 6h0m2-5h0m10 4h0m3 4h0m1-1h0m8 2h0m-94 3h0m4-1h0m5 1h0m18 3h0m2 4h0m2-1h0m3 3h0m12 2h0m42-13h0m16 8h0m5 0h0m2-1h0m6 5h0m1-2h0m1 1h0m-61 5h0m1 2h0m17 6h0m4 0h0m1 3h0m56-8h0m19 7h0m-70 3h0m1 1h0m10 1h0m18 10h0m46-7h0m0-3h0m-45 11h0m10 2h0m0 0h0m14 7h0m2 2h0m8 2h0m34-12h0m5 5h0m16 6h0m3 1h0m-61 2h0m3-1h0m10 4h0m0 2h0m2 1h0m5 5h0m43-10h0m5 0h0m0 3h0m3 2h0m11 5h0m7 1h0m-43 9h0m4 1h0m5 4h0m33-13h0m1 3h0m12 5h0m-40 6h0m8 2h0m1 6h0m2-1h0m4 3h0m2-1h0m0 1h0m36-7h0m0-2h0m8 7h0m3 1h0m5 2h0m-35 8h0m2 1h0m1 2h0m0 1h0m13 4h0m34-7h0m10 5h0m-43 4h0m4 2h0m46-3h0m10 7h0m2 5h0m0-2h0m7 3h0m-45 3h0m6 6h0m8 4h0m4 1h0m30-9h0m4 0h0m7 6h0m1 1h0m-36 7h0m3-1h0m4 6h0m1-2h0m0-1h0m2 2h0m6 2h0m39 0h0m-23 11h0m2 3h0m4 0h0m24-10h0m1 0h0m-10 25h0m6 3h0m0 1h0"/>
<path stroke="#1fa187" d="M319 470h0m1 2h0m2-2h0m11 4h0m6-3h0m0 4h0m20 6h0m2 3h0m12 1h0m1 0h0m8 3h0m13 5h0m8 0h0m4 1h0m8 3h0m1 2h0m1 0h0m24 7h0m7 4h0m1-2h0m4 3h0m1 0h0m3 3h0m2 1h0m3 0h0m13 3h0m7 9h0m11 0h0m15 7h0m35 14h0m5 6h0m2-3h0m2 1h0m10 5h0m1 2h0m4 3h0m7 3h0m1 1h0m11 6h0m1-1h0m1-2h0m2 4h0m0-2h0m5 3h0m1 0h0m6 6h0m0-4h0m6 5h0m1 0h0m2 3h0m9 6h0m7 6h0m3 0h0m2-2h0m1 2h0m1 2h0m1 0h0m1-1h0m1-1h0m4 2h0m-345 15h0m5-1h0m1 1h0m7-3h0m2 2h0m4 2h0m4-2h0m1 2h0m327-11h0m14 7h0m3 1h0m3 1h0m-359 9h0m0-2h0m6 0h0m1 3h0m5-1h0m11-4h0m1 1h0m1 0h0m6 7h0m1-5h0m3-3h0m1 1h0m2 8h0m1-7h0m8 4h0m1-3h0m2 1h0m1-2h0m1 6h0m2 1h0m1 3h0m0-1h0m7-1h0m4-4h0m2 0h0m17-2h0m0 3h0m0 5h0m2-6h0m1 5h0m269-11h0m7-1h0m7 9h0m-296 8h0m11 0h0m1 0h0m7 1h0m6-1h0m0 7h0m5-5h0m3 2h0m1-4h0m0 0h0m2 4h0m6-2h0m0 8h0m5-1h0m2-5h0m3 3h0m266-5h0m5 1h0m2 2h0m-276 6h0m12 0h0m4 2h0m3 9h0m3-9h0m7 6h0m5 1h0m1-3h0m5 6h0m7 1h0m235-13h0m11 5h0m2-3h0m1 8h0m-248 8h0m3 0h0m3 0h0m3-1h0m0 1h0m4-1h0m4 9h0m4-3h0m1 0h0m1-4h0m3 6h0m1 1h0m3-1h0m1 1h0m7-2h0m2 2h0m215-11h0m7 1h0m3 5h0m1-4h0m1 2h0m1 2h0m-238 9h0m12 10h0m4-5h0m5 6h0m9-8h0m-1 9h0m5 3h0m3 8h0m8-7h0m2 4h0m4-6h0m11 9h0m7 2h0m-6 2h0m2 8h0m0-3h0m1-2h0m2-4h0m6 13h0m1-7h0m8 10h0m16 1h0m1 6h0m2 2h0m6-2h0m1 1h0m0 6h0m5-2h0m8 5h0m3 6h0m1-1h0m1-3h0m4 6h0m3 0h0m-2 3h0m3-1h0m3-1h0m8 5h0m2 4h0m11 3h0m5 1h0m-13 4h0m8-2h0m1 6h0m5 1h0m1-3h0m3 4h0m2 0h0m3 4h0m-7 5h0m10-2h0m3 1h0m4 0h0m2 6h0m3-1h0m1 2h0m0 4h0m11 10h0m1-7h0m0-1h0m2 6h0m0-6h0m3 6h0m1 4h0"/>
<path stroke="#3e4c8a" d="M305 377h0m2-1h0m1 1h0m-19 2h0m1 6h0m8 4h0m1-3h0m2-7h0m1 9h0m2 3h0m1-1h0m1-11h0m3 6h0m5 4h0m0-10h0m1 5h0m1-4h0m1 10h0m4-5h0m4-2h0m1 3h0m3 2h0m1 0h0m6-4h0m1 6h0m6-2h0m7 2h0m31-2h0m-84 5h0m22 2h0m6-1h0m3-1h0m11 2h0m9 3h0m1-4h0m3-2h0m4 6h0m3 6h0m0-8h0m2-4h0m3 2h0m3 11h0m1-5h0m1-7h0m1 3h0m3-1h0m9 1h0m2 0h0m2 9h0m1-4h0m9 2h0m7 1h0m14 1h0m-50 1h0m13 4h0m1-1h0m2-3h0m15 7h0m6 0h0m2 1h0m0-4h0m6 3h0m8 1h0m0-3h0m4 2h0m2-1h0m4 3h0m4-1h0m11 2h0m1-1h0m-25 5h0m18 2h0m12 0h0m1-1h0m6 3h0m14-1h0m6 4h0m7-1h0m4 6h0m2-3h0m17 3h0m-26 2h0m11 2h0m1 8h0m6-9h0m5 11h0m0-5h0m2 6h0m2 0h0m7-6h0m5 1h0m8 2h0m-9 4h0m6 0h0m9 4h0m1 6h0m2-2h0m4-3h0m8 5h0m16 2h0m-13 10h0m13-7h0m11 2h0m12 13h0m2 2h0m7-2h0m0 9h0m0-2h0m4 1h0m2-4h0m1 0h0m1 1h0m3-6h0m2 8h0m1 0h0m9 4h0m-15 2h0m5 8h0m10-4h0m3 0h0m5 5h0m0-3h0m2 6h0m8 0h0m0 7h0m7-1h0m2-2h0m0 8h0m3-4h0m0 1h0m1-7h0m3 8h0m1 1h0m1-3h0m6 1h0m1-2h0m7 6h0m-15 3h0m15 10h0m5-1h0m0-9h0m5-1h0m5 8h0m3-5h0m0 5h0m10 2h0m-16 5h0m7 0h0m1 3h0m1 0h0m9 3h0m1 2h0m1-2h0m2 1h0m1-2h0m1 3h0m1-3h0m2 0h0m6 4h0m1-3h0m11 6h0m-16 1h0m7 6h0m2-2h0m2 0h0m1 0h0m1-3h0m2 11h0m3-4h0m-2 6h0m14 5h0m0-4h0m1 10h0m3-6h0m2 8h0"/>
<path stroke="#4ac16d" d="M290 484h0m13 0h0m1-1h0m4 5h0m3-2h0m2-1h0m35 9h0m0 4h0m3 2h0m2-2h0m2 0h0m2 0h0m4 5h0m14-1h0m2-1h0m-5 5h0m3 0h0m1 1h0m9 4h0m6-3h0m0 1h0m2 1h0m12 3h0m10 3h0m12 6h0m15 5h0m5 1h0m9 5h0m15 6h0m10 4h0m4 4h0m1-1h0m1 1h0m1 2h0m7 1h0m4 0h0m0-2h0m1 2h0m2 5h0m4 1h0m2 1h0m9 1h0m-222 8h0m5 6h0m3-2h0m4 0h0m1 1h0m2-5h0m4 6h0m2 1h0m1 0h0m29 0h0m174-13h0m4 3h0m0-1h0m2 2h0m1 0h0m0 0h0m10 5h0m0 2h0m3 2h0m3 0h0m2-1h0m-242 2h0m2 1h0m2-1h0m13 0h0m6 0h0m1 4h0m0-3h0m4 3h0m1-2h0m2 0h0m1 1h0m0-1h0m4-2h0m1 2h0m3 5h0m9-3h0m1-1h0m2-1h0m5 4h0m1-4h0m1 4h0m2-3h0m1 1h0m1 2h0m6 7h0m3-5h0m1 5h0m0-4h0m5-1h0m1 4h0m8-4h0m1 3h0m158-10h0m5 3h0m3 0h0m3-1h0m5 6h0m4 2h0m2 2h0m7-1h0m-196 8h0m9-1h0m2-5h0m3 2h0m6 4h0m1 1h0m0-2h0m3-1h0m1 2h0m6 6h0m2 1h0m2-8h0m4-1h0m0 9h0m6 0h0m2-2h0m2-3h0m3-1h0m147-4h0m14 7h0m10 3h0m-175 6h0m0-5h0m1 7h0m2-6h0m6-1h0m2 9h0m0-4h0m2-3h0m1 10h0m0-10h0m3 8h0m3-4h0m2 6h0m4-5h0m0 5h0m12-1h0m7 0h0m1 2h0m132-12h0m2 4h0m13 6h0m4 1h0m-166 3h0m6 0h0m2-1h0m11 5h0m2 0h0m0-4h0m5 9h0m0-9h0m2 1h0m2 4h0m5 0h0m3 5h0m6 1h0m0 1h0m121-12h0m8 5h0m1-1h0m2 0h0m2-1h0m0 0h0m1 0h0m0-2h0m4 7h0m5 3h0m5 1h0m-161 3h0m9 3h0m4-3h0m13-1h0m1 1h0m1 4h0m5 6h0m2-1h0m3 1h0m119-10h0m-107 13h0m1 2h0m1 5h0m6 0h0m2-1h0m2 1h0m2 1h0m3 0h0m3 4h0m122-7h0m6 1h0m-132 7h0m4 2h0m2-1h0m6 3h0m2 3h0m3 3h0m1-3h0m4-3h0m5 6h0m3-1h0m3 4h0m1 0h0m106-11h0m1 0h0m6 4h0m8 7h0m-138 1h0m17 2h0m2 7h0m1-8h0m5 11h0m0-8h0m3 2h0m4 2h0m2 1h0m12 4h0m5-1h0m93-11h0m3 1h0m4 3h0m1 1h0m13 6h0m-135 2h0m7 1h0m4-1h0m2 2h0m4 2h0m0 2h0m2 4h0m5-5h0m7 7h0m5 1h0m3-6h0m1 2h0m101-7h0m2 2h0m-112 10h0m13 1h0m3-1h0m3 6h0m0 4h0m8 8h0m2-1h0m1-2h0m5-1h0m3 4h0m2 2h0m1 7h0m-3 1h0m16 5h0m1 4h0m1-1h0m5 2h0m1-3h0m2 0h0m9 6h0m-11 1h0m11 10h0m3-8h0m1 8h0m10 3h0m-3 2h0m14 5h0m0-5h0m2 4h0m3 3h0m4-1h0m1 6h0m1 7h0m6-4h0m1 10h0"/>
<path stroke="#3dbc74" d="M291 478h0m3 1h0m1-1h0m2 2h0m13 3h0m20 5h0m0 2h0m10 1h0m4 1h0m0 1h0m8 1h0m2-1h0m14 8h0m3 1h0m2 1h0m10 0h0m3-1h0m-5 2h0m9 2h0m6 1h0m4 4h0m1-1h0m17 3h0m0 3h0m8 3h0m4 2h0m3 4h0m1-3h0m8 2h0m23 8h0m2 4h0m5 2h0m4-3h0m17 10h0m7 2h0m6 1h0m1 5h0m2-3h0m7 4h0m0-2h0m2 2h0m1 5h0m-229 13h0m8 1h0m230-13h0m20 11h0m3-1h0m3 0h0m3-1h0m1 4h0m-264 4h0m0-1h0m3 0h0m0 3h0m4-3h0m7 5h0m4-4h0m0 3h0m0-2h0m1 1h0m2 2h0m3 1h0m2-6h0m0 7h0m3 0h0m1-5h0m9 2h0m6 4h0m0 0h0m2-1h0m1 4h0m7-4h0m3 0h0m1 3h0m4-1h0m201-9h0m3-1h0m8 4h0m2 3h0m4 1h0m9 4h0m-268 7h0m12-4h0m11 1h0m5-2h0m5 1h0m4 3h0m8 3h0m5-3h0m3 1h0m6-5h0m6 8h0m1-3h0m1-4h0m0 7h0m3 4h0m0 0h0m1-9h0m0 6h0m9 1h0m3 0h0m3-2h0m188-5h0m4 0h0m7 5h0m1 0h0m1 4h0m5 0h0m0 0h0m-224 2h0m5-1h0m3 3h0m15-2h0m4 5h0m0-1h0m2-3h0m1 2h0m1-1h0m2 4h0m1 1h0m1-2h0m2 2h0m1 5h0m1-7h0m9-1h0m1 7h0m1-3h0m0 2h0m1-3h0m2 1h0m1-7h0m3 9h0m1 0h0m6 2h0m161-13h0m8 3h0m8 6h0m-183 9h0m10-2h0m2-1h0m1 1h0m1 0h0m0 2h0m4 1h0m5 3h0m4 3h0m1-5h0m0-5h0m2 4h0m0 5h0m1-2h0m2-3h0m3 5h0m1 1h0m5-1h0m6 3h0m142-12h0m11 3h0m2 1h0m6 4h0m1 1h0m1-5h0m8 8h0m-175 3h0m3-1h0m5 2h0m1 3h0m0 1h0m10-2h0m6 4h0m5 4h0m140-13h0m4 2h0m8 1h0m1 6h0m2-2h0m2-3h0m-167 10h0m12 3h0m12 1h0m6 2h0m0 4h0m6 1h0m10 2h0m127-13h0m5 2h0m9 2h0m12 9h0m2 0h0m-146 9h0m2 3h0m1-3h0m5 4h0m140-9h0m10 3h0m1 4h0m3 3h0m0-1h0m1-2h0m1-2h0m-150 11h0m1-3h0m8 2h0m0 0h0m1 3h0m1-3h0m2 2h0m2 6h0m7-4h0m1 4h0m6-2h0m119-10h0m6 1h0m5 3h0m11 8h0m-138 8h0m0-1h0m1-5h0m1 6h0m1 3h0m4-6h0m7 3h0m126-4h0m1 1h0m6 2h0m-129 12h0m3-3h0m4 2h0m2 7h0m5 0h0m2-3h0m0 7h0m2-2h0m1-1h0m0-4h0m1 4h0m5 1h0m-1 10h0m6-1h0m10 4h0m2 1h0m6 6h0m9 3h0m3 0h0m4 5h0m6 2h0m-2 4h0m9 1h0m6 2h0m9 7h0m-13 7h0m10-4h0m5 6h0m4-3h0m2 2h0m3 4h0m-3 3h0m11 7h0m1 2h0m0-3h0m2-5h0m0 5h0m6 9h0m5-1h0"/>
<path stroke="#481668" d="M356 317h0m18 3h0m9-3h0m19 15h0m4 2h0m2 0h0m13-6h0m2-3h0m1 0h0m0 6h0m8 0h0m2-3h0m13 12h0m17 8h0m5-6h0m2 5h0m3 7h0m4-2h0m7 3h0m5 3h0m4 5h0m1-1h0m0 5h0m26 4h0m2 2h0m1-2h0m1 3h0m5 3h0m0-2h0m8 9h0m2 3h0m0-7h0m1 8h0m7-6h0m15 9h0m-12 3h0m14-1h0m7 5h0m25 7h0m-4 5h0m13 4h0m0 1h0m3 0h0m22 14h0m2 3h0m11 0h0m0 7h0m9-1h0m9 2h0m0 15h0m17-2h0m0 4h0m3 4h0m12 0h0m12 13h0m3 3h0m2 5h0m17 4h0m10 3h0m-11 2h0m11 0h0m7 6h0m4 6h0m5 6h0"/>
<path stroke="#dae319" d="M288 508h0m1-2h0m0 2h0m2-1h0m7 0h0m1 2h0m11 1h0m10 5h0m7 0h0m0 5h0m4 0h0m8-1h0m1 3h0m5-2h0m1 1h0m10 3h0m4-2h0m1 3h0m5 2h0m2 2h0m0-1h0m4 0h0m7 2h0m1 1h0m-71 3h0m7 0h0m18 3h0m2 3h0m1 0h0m3-3h0m10 4h0m23 3h0m8-8h0m3 0h0m9-1h0m10 2h0m3 5h0m0-3h0m3 5h0m0-2h0m4 1h0m7 2h0m-41 4h0m4 3h0m0 0h0m9-1h0m17 8h0m1 0h0m12 0h0m2-8h0m15-2h0m5 3h0m0-1h0m3 5h0m4 1h0m1 1h0m3 0h0m-46 3h0m3 0h0m11 6h0m1-4h0m14 7h0m5 2h0m4 1h0m5-13h0m6 3h0m3-1h0m8 0h0m2 2h0m0 3h0m1 0h0m5 0h0m3 0h0m5 4h0m2 2h0m4-4h0m5 4h0m-46 4h0m7-2h0m6 3h0m9 1h0m2 2h0m5-1h0m18-3h0m9 4h0m3-1h0m12 5h0m-36 3h0m12 5h0m7 3h0m17 5h0m3-11h0m5 0h0m4 4h0m4 2h0m5-2h0m4 6h0m3-1h0m-26 7h0m5-3h0m1 5h0m16 5h0m11-9h0m6 4h0m2 0h0m-7 12h0m11 5h0m3 3h0m0-1h0m19-9h0m1 2h0m3 3h0m1-1h0m0 0h0m5 2h0m3 4h0m-25 2h0m0 3h0m4 0h0m2 2h0m5 3h0m2-2h0m5 4h0m2 2h0m10-12h0m19 8h0m-11 14h0m0-2h0m8 6h0m3 1h0m1-12h0m4 0h0m7 1h0m5 3h0m1 3h0m7 3h0m1 1h0m4 0h0m-17 10h0m3-2h0m1 4h0m11 3h0m9-6h0m3-1h0m9 5h0m-22 6h0m3-1h0m15 8h0m10 2h0m14-2h0m6 2h0m-25 2h0m0 2h0m1-1h0m3 1h0m2 1h0m2 1h0m9 3h0m5 4h0m5-9h0m8 5h0m11 6h0m-23 2h0m2 2h0m7 3h0m1 2h0m4 2h0m0-2h0m0 4h0m0-3h0m11-8h0m8 4h0m-11 11h0m8 7h0m0-3h0m20-5h0m1 10h0m-10 5h0m6 3h0m4 2h0m1-4h0m1 2h0"/>
<path stroke="#ece51b" d="M291 512h0m3 1h0m1-1h0m0-2h0m9 7h0m0-4h0m0 1h0m6 3h0m13 0h0m-35 6h0m1 3h0m8-1h0m1-4h0m2-3h0m2 5h0m3-1h0m1 4h0m0-1h0m0-4h0m1 3h0m1-3h0m0 3h0m3-2h0m2 7h0m2-6h0m5 8h0m6-11h0m0 10h0m2-7h0m5 0h0m0 2h0m5 4h0m3-6h0m2 8h0m4-4h0m1 1h0m4-3h0m1 6h0m0-1h0m5-2h0m-19 6h0m5-1h0m0-1h0m2 5h0m2-4h0m0 8h0m0-8h0m2 2h0m11 8h0m4-1h0m2 2h0m4-7h0m1 2h0m2 5h0m1 0h0m1-8h0m3-1h0m2 9h0m1-7h0m8 1h0m0 6h0m1-5h0m0 2h0m2-1h0m2 2h0m2-2h0m4 2h0m8-1h0m-31 5h0m4 0h0m3 0h0m2 1h0m0 1h0m0-2h0m0 4h0m7-2h0m0 2h0m4 0h0m3 4h0m0-5h0m1 1h0m0 4h0m1-7h0m2 9h0m2-4h0m1 1h0m2 0h0m0 2h0m1-6h0m0 10h0m0-5h0m0 0h0m6-3h0m3 6h0m4-7h0m1-2h0m0 4h0m4 3h0m0-6h0m5 3h0m3 2h0m6 3h0m-18 3h0m5 2h0m4 0h0m9 5h0m3 2h0m4-2h0m1-5h0m3 10h0m1-7h0m1 3h0m0 3h0m4 0h0m0-1h0m8 1h0m4 0h0m1-2h0m3 3h0m-15 2h0m3 3h0m7-1h0m1-1h0m4 5h0m0-3h0m5 2h0m1-5h0m1 10h0m5 1h0m5-2h0m2-1h0m5 5h0m9-1h0m1 1h0m-6 2h0m6 1h0m1 1h0m5 7h0m2-5h0m0-1h0m1-1h0m2 8h0m3-8h0m1 8h0m5 0h0m4-4h0m0 5h0m3-4h0m2 1h0m-13 5h0m8 2h0m3 1h0m4 3h0m2 1h0m3-5h0m1 2h0m4 5h0m0-7h0m2 8h0m0-8h0m2 9h0m2-1h0m4 3h0m0-1h0m16 1h0m1-1h0m-25 3h0m13 5h0m5 1h0m4-4h0m1 3h0m6 4h0m1 1h0m2-1h0m2-5h0m1 8h0m1-6h0m0 2h0m7 12h0m2 1h0m2-1h0m1 2h0m3-9h0m4 3h0m1-1h0m2 4h0m2 0h0m1 0h0m4 4h0m2 1h0m3 0h0m-11 3h0m1 3h0m10 7h0m5 2h0m1-11h0m3 4h0m2 2h0m4 5h0m4-7h0m3 5h0m2-1h0m-17 5h0m6 1h0m6 1h0m2 4h0m1-1h0m2 1h0m0-6h0m0 6h0m0-3h0m2 0h0m2 3h0m3 3h0m0-5h0m1 5h0m0-1h0m1-2h0m1-5h0m3 3h0m0 2h0m0 1h0m6 0h0m1 0h0m1 1h0m2 1h0m-5 6h0m1 3h0m6-1h0m1-1h0m2 3h0m0 3h0m2 1h0m0 1h0m0-1h0m1-8h0m0 5h0m2 6h0m1-10h0m1 1h0m2 6h0m1-5h0m1 1h0m2 3h0m0 5h0m3 0h0m3-3h0m-4 8h0m3-1h0m6 4h0m1 3h0m0-2h0m0-8h0m5 8h0m1-3h0m1 1h0m1 0h0m0 9h0m1 4h0m1-4h0m2-1h0m1 1h0m5 11h0m0-1h0m3 0h0m3-2h0m0 1h0m1 1h0m3 6h0m7 3h0m1 3h0m6 0h0m3-7h0m1 8h0m0-6h0m0 3h0m1-4h0m1 0h0m6 9h0m0 5h0m0 2h0"/>
<path stroke="#365c8d" d="M288 405h0m5-4h0m17 4h0m5-7h0m6 3h0m5 4h0m-28 3h0m6 2h0m1-3h0m6 0h0m1 0h0m2 1h0m16-1h0m0 5h0m2-2h0m7 3h0m1 5h0m1-6h0m1 0h0m2 0h0m2 2h0m3-2h0m3 1h0m32 6h0m-41 4h0m23-3h0m18 2h0m7 1h0m1 0h0m14 7h0m0 0h0m4 3h0m4-3h0m1 2h0m1 1h0m1-1h0m1 1h0m1-3h0m-11 5h0m19-1h0m5 7h0m3 6h0m7-6h0m1 4h0m5-7h0m3 7h0m4 2h0m9-6h0m5 6h0m-32 1h0m2 2h0m14 0h0m2 6h0m0-7h0m2-1h0m9 9h0m6-5h0m1 0h0m3 4h0m0-7h0m1 7h0m4-3h0m2 2h0m9 4h0m4 2h0m4-1h0m1 1h0m1-1h0m5-3h0m-18 7h0m1 1h0m12 1h0m1-3h0m10 8h0m5-3h0m1 4h0m5-3h0m1 1h0m3 1h0m4 3h0m4-2h0m10 2h0m3 0h0m-23 5h0m6 3h0m2-2h0m5 0h0m1-3h0m2 7h0m7 3h0m3-10h0m0 0h0m6 4h0m1 4h0m3 1h0m0-5h0m0 8h0m6-1h0m2-2h0m-17 4h0m9 3h0m2-2h0m1 3h0m0-3h0m3 0h0m9-1h0m13 10h0m2 5h0m11 3h0m1 3h0m6 3h0m1-8h0m3 2h0m4-2h0m11 9h0m-4 7h0m8 2h0m2 2h0m2-1h0m0 0h0m6 2h0m5-4h0m7 7h0m1-5h0m-2 13h0m0-2h0m2 1h0m3-2h0m5 1h0m7 8h0m1 0h0m2-4h0m4 1h0m1 2h0m7 1h0m4-3h0m-15 11h0m2-1h0m5-3h0m4-2h0m0 10h0m1-2h0m4-5h0m2 10h0m3-2h0m2-5h0m-6 10h0m16 3h0m2-1h0m2-2h0m7 10h0m1-3h0m3 2h0m3 1h0m-3 6h0m2-3h0m0-1h0m4 5h0m0-1h0m9 4h0m5 4h0m2-3h0m1 2h0m3-2h0"/>
<path stroke="#32b67a" d="M300 479h0m0-2h0m2 2h0m4 0h0m3-2h0m2 0h0m11 3h0m7 1h0m4 6h0m0-3h0m6 4h0m0-1h0m2 2h0m2 0h0m8 0h0m8 8h0m0-5h0m12 3h0m9 3h0m1 4h0m8 0h0m8-1h0m9 8h0m12 2h0m3 0h0m1 4h0m9 4h0m3-1h0m4 0h0m9 7h0m0-4h0m9 2h0m1 2h0m8 4h0m2-1h0m5 2h0m2 1h0m-2 1h0m6 2h0m6 0h0m16 9h0m3 1h0m3 1h0m8 6h0m2-1h0m5 3h0m4-3h0m0 7h0m3-1h0m8 3h0m3 4h0m4 0h0m0-1h0m0 0h0m1 1h0m15 8h0m4 1h0m-266 12h0m9 0h0m5-1h0m18 3h0m2-4h0m247-7h0m12 12h0m7 0h0m-305 1h0m2 0h0m2 1h0m2 0h0m4-1h0m5 0h0m5 6h0m3-3h0m3 5h0m2-6h0m1 0h0m4 1h0m2-2h0m1 5h0m4-3h0m3 4h0m2 1h0m2-5h0m1 1h0m7 6h0m0 3h0m3-12h0m1 10h0m0 2h0m5-3h0m2-6h0m1 4h0m1 0h0m5 0h0m1 4h0m3 0h0m1 0h0m4-3h0m218-9h0m25 11h0m-271 3h0m17 2h0m12-1h0m5 1h0m2 1h0m2 1h0m0 0h0m2 0h0m7 3h0m4 0h0m6-1h0m2 5h0m0-7h0m6 6h0m1-3h0m1 0h0m6 5h0m1 1h0m6 0h0m5-3h0m1 3h0m2-4h0m7 3h0m168-12h0m11 4h0m2 0h0m2 4h0m0-1h0m0-5h0m4 2h0m3 2h0m5 5h0m-207 6h0m5-3h0m8 6h0m1 0h0m1-2h0m10 6h0m8 0h0m10-2h0m1 5h0m174-8h0m3 1h0m2-2h0m3 1h0m1-1h0m2 4h0m2 2h0m-201 5h0m1 0h0m3 2h0m7-1h0m3-1h0m1 0h0m1-1h0m1 6h0m9 7h0m1-5h0m0 4h0m1-3h0m6 2h0m1-6h0m4 6h0m178-8h0m10 6h0m3 2h0m-187 4h0m8 3h0m2 2h0m4-4h0m2 7h0m2 3h0m4-5h0m170-3h0m12 7h0m1-2h0m0-1h0m-176 7h0m5 5h0m6 3h0m5-1h0m0 4h0m3-2h0m0-4h0m4 7h0m158-12h0m6 3h0m2-3h0m2 4h0m1 2h0m1 1h0m9 4h0m-182 3h0m13 5h0m2-6h0m0 0h0m1 7h0m3-5h0m1 2h0m4 3h0m0-2h0m3-1h0m0 6h0m6-7h0m9 10h0m151-6h0m1-3h0m2 6h0m7 1h0m-161 7h0m2-3h0m5 3h0m1 1h0m8 4h0m14 4h0m-17 1h0m7 4h0m8 4h0m0-6h0m5 6h0m0 3h0m3-2h0m5 3h0m6-3h0m-15 5h0m1 2h0m21 8h0m1 0h0m7-4h0m0 4h0m0 3h0m0-3h0m5-2h0m-3 8h0m4-2h0m2 5h0m1 5h0m1-7h0m1-1h0m4 8h0m3-3h0m2 3h0m0 2h0m1 5h0m5 3h0m1-4h0m2-1h0m3 5h0m1 0h0m9 1h0m0 6h0m3 11h0m5-7h0m4 1h0m9 3h0m-2 8h0m6 4h0m2 1h0m0-5h0m5 6h0m1 4h0m2 0h0m2-6h0m4 5h0m-3 5h0m7 5h0m2-4h0m1 1h0m0 3h0m0-1h0"/>
<path stroke="#46327e" d="M288 326h0m3 6h0m1 1h0m3 2h0m5 0h0m6-5h0m2-8h0m6 11h0m9-1h0m3-8h0m1 7h0m16 4h0m4-3h0m-59 9h0m1-5h0m10 9h0m2 4h0m1-5h0m1-4h0m4 8h0m2-10h0m3 2h0m2 3h0m1 6h0m1-1h0m2 0h0m4-10h0m1 4h0m1-5h0m4 4h0m1-3h0m3 6h0m3 5h0m4-10h0m7 7h0m6 3h0m1-6h0m2 1h0m1 5h0m5-3h0m1-4h0m6 5h0m6 2h0m12-7h0m16 6h0m-103 8h0m3-3h0m5-3h0m9 9h0m15-6h0m2 1h0m3-2h0m1 6h0m4 0h0m4-6h0m1 0h0m3 2h0m2 7h0m1-4h0m3 4h0m1-6h0m7 0h0m4 0h0m6 2h0m1 2h0m1-1h0m2-5h0m22-1h0m0 9h0m1-4h0m0 1h0m2 3h0m14-3h0m0 3h0m7-7h0m6 6h0m2 2h0m-65 2h0m4 7h0m15-3h0m3-2h0m1-1h0m8 3h0m0 0h0m4 3h0m0-4h0m2 4h0m3-3h0m2 0h0m5-3h0m1 3h0m2-1h0m2 3h0m1 3h0m4 1h0m1-10h0m1 0h0m5 2h0m5 0h0m6 3h0m2 1h0m3-3h0m2 0h0m4 4h0m10 0h0m10 5h0m10-4h0m-65 13h0m8-4h0m0-2h0m3 1h0m12-1h0m5 3h0m3 4h0m0-8h0m8 10h0m0-5h0m3 6h0m1-1h0m3-4h0m3 3h0m3-4h0m0-1h0m1 1h0m0 5h0m8 0h0m3-2h0m4 5h0m2-2h0m0-4h0m5 0h0m3-5h0m1 2h0m1 7h0m-34 5h0m6 7h0m1-7h0m3 6h0m7 3h0m1-6h0m10 7h0m8-11h0m0 6h0m4-1h0m5 0h0m9 0h0m16 0h0m3 2h0m7 5h0m-41 7h0m8-6h0m4 3h0m1 8h0m0 0h0m9 1h0m6-11h0m5 12h0m1-8h0m2 1h0m2 5h0m5-5h0m2-1h0m5 7h0m19 0h0m-42 2h0m7 6h0m12-3h0m3 5h0m3-1h0m1 5h0m0-10h0m5 4h0m1 1h0m8-2h0m3 2h0m3 1h0m5 1h0m3-7h0m3 3h0m10 3h0m12 5h0m-45 3h0m5 7h0m9-9h0m1 5h0m1-1h0m0 8h0m4-9h0m5 4h0m9 2h0m3-3h0m3 5h0m1-1h0m1-3h0m2-3h0m1-3h0m1 12h0m12-7h0m3 3h0m-22 6h0m7 7h0m0-7h0m3 1h0m0 6h0m1-4h0m0-4h0m0 5h0m2 2h0m16 3h0m2 1h0m9-3h0m1-5h0m4 7h0m1-3h0m-19 11h0m11-4h0m4 0h0m2 6h0m0 3h0m1-9h0m1 4h0m1 3h0m12 4h0m-5 7h0m4 4h0m10-2h0m1-6h0m3 2h0m10 3h0m-6 14h0m4 6h0m4-5h0m10 2h0m6-3h0m5 6h0m-18 7h0m1 0h0m13-2h0m3 3h0m7 5h0m0-3h0m16-3h0m0 6h0m3 2h0m6-6h0m-14 11h0m6 9h0m4 1h0m2-9h0m1-1h0m3 3h0m1 3h0m10-2h0m2-1h0m-5 11h0"/>
<path stroke="#277f8e" d="M290 441h0m2 1h0m24 3h0m2 0h0m8-4h0m8 6h0m0-3h0m0-1h0m4 4h0m5-4h0m4 3h0m8 0h0m-36 4h0m2 0h0m3-2h0m1 1h0m21 0h0m4 8h0m1-5h0m2 0h0m3 0h0m3 1h0m2-1h0m2-3h0m5 11h0m4-1h0m2-5h0m1 2h0m5 4h0m14 1h0m-17 1h0m12 0h0m8 0h0m5 4h0m8 1h0m1-2h0m1 2h0m3 8h0m2-2h0m4 1h0m0-3h0m9 2h0m20 1h0m-30 2h0m11 2h0m5 0h0m4 1h0m7 1h0m3 5h0m1-7h0m6 7h0m4 2h0m3-4h0m0 1h0m1 3h0m10 0h0m-8 3h0m3 0h0m11 1h0m3 2h0m1 5h0m3 1h0m1-3h0m0-3h0m7 4h0m6 3h0m16 2h0m-18 2h0m10 1h0m16 9h0m0-4h0m4 4h0m3 3h0m2-2h0m1-1h0m1 2h0m4 5h0m6 0h0m1 2h0m1 2h0m2 0h0m1-2h0m7 0h0m2 4h0m3 0h0m2 0h0m4 5h0m0 4h0m1-4h0m1 1h0m5 10h0m8-4h0m1-3h0m5-2h0m1 7h0m2 4h0m4-1h0m1 1h0m0 7h0m6-3h0m0 2h0m4 1h0m2 0h0m8-3h0m2 7h0m6 2h0m0 1h0m7 0h0m-16 1h0m9 3h0m6-1h0m2 3h0m2 2h0m1-3h0m4 4h0m0 5h0m9-2h0m3 0h0m-6 5h0m4-1h0m4 3h0m2 1h0m1 0h0m2 1h0m5 2h0m6 1h0m10 3h0m-4 3h0m4 2h0m6 4h0m1 4h0m0-7h0m0 2h0m1 1h0m3 6h0m1-1h0m7-1h0m1 0h0m-3 7h0m3-3h0m2 1h0m3 2h0m4 3h0m4-1h0m0 5h0m2 0h0m6 1h0m3 0h0m0-1h0m0 7h0m5 0h0m15 14h0m2-3h0m3-1h0m2 9h0m-465 43h0m2-6h0m10-2h0m5 10h0m20 0h0m5-3h0m6 3h0m10-7h0m-58 14h0m0 3h0m5 0h0m5 3h0m5 0h0m5-9h0m3 0h0m11 7h0m4-1h0m3-2h0m0 7h0m7 0h0m4-10h0m3-1h0m15 4h0m0 5h0m5-4h0m1-4h0m3 2h0m10-2h0m18 3h0m7 7h0m-114 5h0m8 8h0m0-6h0m1 4h0m3-2h0m16 3h0m2 1h0m8-3h0m12-4h0m19-1h0m4 7h0m1-6h0m6 4h0m7 2h0m6-10h0m2-1h0m1 8h0m1-3h0m6-4h0m8 2h0m9 5h0m1-8h0m3 10h0m1-1h0m1-9h0m1 4h0m2 6h0m2 1h0m0 0h0m10 1h0m6-6h0m1-4h0m2 9h0m2 2h0m2-8h0m7-1h0m1 6h0m0-3h0m2-6h0m5 10h0m4 2h0m1-2h0m7-7h0m-177 14h0m16 4h0m5 2h0m6-7h0m5 8h0m2-6h0m23 3h0m4 3h0m17-11h0m4 4h0m16 4h0m11-5h0m0 7h0m7-6h0m1-2h0m3 4h0m4-6h0m2 9h0m2 1h0m1-9h0m1 6h0m0 4h0m4-5h0m11-4h0m6 11h0m2-2h0m4 0h0m0-10h0m8 6h0m3-2h0m3-1h0m10 1h0m2 5h0m2-2h0m6 2h0m13 3h0m0-1h0m1-7h0m1 7h0m14-6h0m32 7h0m-168 12h0m29-9h0m3 8h0m3-2h0m18-2h0m17-1h0m13-3h0m7-2h0m1 12h0m2-9h0m2 2h0m1 2h0m13-7h0m1 9h0m3-1h0m7 5h0m1-5h0m2-8h0m2 7h0m1-6h0m2 10h0m2-3h0m3 0h0m1-1h0m0 3h0m7 3h0m1-3h0m-74 4h0m33 10h0m7-9h0m1-1h0m4 3h0m2 5h0m9 2h0m3-5h0m8 2h0m4 6h0m6-10h0m2-2h0m0 10h0m0-9h0m1 2h0m4 4h0m0-5h0m6 8h0m3-6h0m5 2h0m1-5h0m2 2h0m4 6h0m0 3h0m7-9h0m9 6h0m-58 8h0m8-4h0m3 13h0m2-4h0m0 2h0m3-2h0m2-6h0m5-2h0m4 6h0m4-7h0m3 4h0m2-4h0m2 4h0m0 4h0m4-2h0m10 3h0m0-5h0m1 9h0m4-9h0m3 6h0m1 2h0m0-3h0m3-1h0m1 1h0m17 4h0m11-6h0m-63 19h0m14-12h0m1 2h0m4-2h0m7 3h0m2-3h0m5 0h0m2 0h0m2 2h0m2 8h0m1-4h0m2-4h0m1 1h0m3 8h0m0 0h0m9 1h0m0-1h0m1 2h0m5-5h0m2-2h0m0 6h0m1-5h0m10 3h0m-26 7h0m1 0h0m2 2h0m2-3h0m5 2h0m2 5h0m1-1h0m1 3h0m1-11h0m1 10h0m2-6h0m2 0h0m4 8h0m0-2h0m3-6h0m2 6h0m12-1h0m14 3h0"/>
<path stroke="#28ae80" d="M306 474h0m4 3h0m12 0h0m3 6h0m9 4h0m4-4h0m0-1h0m11 3h0m1 3h0m6-1h0m4 1h0m3 1h0m1 2h0m32 8h0m5 3h0m4 2h0m8 0h0m7 2h0m11 4h0m19 11h0m22 5h0m4 0h0m1 1h0m10 3h0m1 1h0m-2 2h0m3 1h0m1 0h0m13 4h0m0 3h0m3-2h0m7 8h0m3 0h0m1 1h0m2 1h0m9 1h0m2 2h0m1-1h0m6 4h0m2 4h0m0-1h0m3 4h0m7 0h0m18 7h0m5 4h0m2 1h0m8 2h0m20 10h0m-305 14h0m3-9h0m2 1h0m4 9h0m1-9h0m2 5h0m2 3h0m0-9h0m1 7h0m2-1h0m2 4h0m0-4h0m1 4h0m1-3h0m5-1h0m1 2h0m5-6h0m16 8h0m1-2h0m261-8h0m3 1h0m2 1h0m5 3h0m9 5h0m-322 1h0m22 2h0m12 4h0m1-5h0m8-1h0m4 2h0m11 6h0m3-5h0m2-2h0m12 7h0m6 5h0m6-1h0m2-1h0m1-2h0m7 4h0m1-3h0m14 3h0m225-7h0m2 3h0m1 3h0m5 1h0m2-1h0m-268 7h0m6-3h0m1 0h0m4 4h0m20 0h0m2-2h0m3 3h0m3 2h0m3 1h0m1 1h0m0-5h0m3-1h0m2 8h0m1-4h0m1-4h0m7 6h0m1-3h0m7 0h0m4 5h0m203-10h0m9 4h0m1 1h0m2 1h0m0 2h0m2-3h0m8 4h0m-234 2h0m2 1h0m1 2h0m4-1h0m14 1h0m1 5h0m1 1h0m2-2h0m1 6h0m9-5h0m195-8h0m16 8h0m-208 9h0m3-3h0m1 0h0m6 7h0m0 0h0m5 1h0m1-1h0m11 3h0m196-8h0m12 6h0m7 5h0m-216 1h0m8 0h0m4 7h0m7-3h0m2 1h0m0 0h0m1 3h0m0-4h0m3 6h0m3-1h0m2 3h0m0-6h0m2 3h0m9 4h0m2 0h0m181-6h0m2 2h0m3-3h0m1 2h0m5-2h0m-198 8h0m2 2h0m0 1h0m7 7h0m0-6h0m1 1h0m3 4h0m2-4h0m2 4h0m3-2h0m2 3h0m2 3h0m8-4h0m164-9h0m8 5h0m3-1h0m1 2h0m0 2h0m-170 13h0m2-1h0m1 0h0m11 0h0m6 5h0m6 15h0m1-4h0m1-1h0m12 5h0m6 0h0m-1 8h0m0 0h0m4-5h0m1 5h0m3 5h0m0-7h0m1 9h0m1-4h0m10-1h0m3 2h0m-11 5h0m5 1h0m2 2h0m1-3h0m6-1h0m2 9h0m0-1h0m8 5h0m2 0h0m1-2h0m8 9h0m3 4h0m3-5h0m3 0h0m7 6h0m-4 5h0m2-2h0m1 5h0m9 4h0m5-6h0m12 6h0m-25 5h0m7 3h0m12-3h0m1 5h0m3-5h0m9 4h0m1 0h0m0 16h0m2-3h0m8 2h0m3-1h0m2 7h0m2-7h0m3 3h0m3 5h0m3 0h0"/>
<path stroke="#2a788e" d="M289 432h0m2-1h0m23 1h0m4 1h0m-29 1h0m19 2h0m5 1h0m6-2h0m6 3h0m2 3h0m1 1h0m2-6h0m1 4h0m7 7h0m1-5h0m1 1h0m2-5h0m14 7h0m2-3h0m0 0h0m6 3h0m2-1h0m-10 5h0m3 6h0m5-7h0m3 5h0m1-4h0m3 3h0m2 1h0m11 0h0m0-1h0m1 4h0m1 2h0m1 2h0m7 1h0m2-3h0m3 2h0m3-4h0m2 2h0m7 0h0m4 1h0m0-1h0m-10 5h0m6 3h0m1-3h0m8-1h0m5 10h0m16-2h0m-1 6h0m7 1h0m7 0h0m3 1h0m10 9h0m3-5h0m1-2h0m1 2h0m9 5h0m4-3h0m3 5h0m7 6h0m7-3h0m2 0h0m3 7h0m9 3h0m5 1h0m4-2h0m3 11h0m1-4h0m1-1h0m3-1h0m3-2h0m3 7h0m3 2h0m4 1h0m3-2h0m1 0h0m4 1h0m-4 13h0m9-7h0m4 2h0m0 4h0m1-3h0m1 2h0m3 5h0m5-6h0m6 5h0m9 4h0m0 0h0m5 4h0m1-3h0m14 7h0m0 5h0m-1 5h0m9-1h0m1 3h0m1-3h0m3 4h0m5-1h0m2 2h0m13 6h0m4 5h0m8-3h0m3 8h0m7-4h0m1 3h0m3 8h0m4 1h0m0 0h0m4 2h0m5 6h0m1-3h0m4 3h0m3-5h0m-6 7h0m7 2h0m3 0h0m1 0h0m3 0h0m10 9h0m6 1h0m2 4h0m5 0h0m3 3h0m1 2h0m2-2h0m3 0h0m4 9h0m5 4h0m8 7h0m0-1h0m5 1h0m-460 68h0m4-2h0m5 3h0m-9 4h0m6 12h0m29-10h0m3 11h0m11 0h0m7-10h0m6 5h0m6 0h0m10 3h0m2 2h0m60 0h0m-140 12h0m9-8h0m0 10h0m1-7h0m2 1h0m7 2h0m7 3h0m1-9h0m0 7h0m7-2h0m8-3h0m2 4h0m1-1h0m1-4h0m4 3h0m2-3h0m3 4h0m1 5h0m5-13h0m1 7h0m1 3h0m7 1h0m4-1h0m6 0h0m2-5h0m2 7h0m9-7h0m1-5h0m3 4h0m1 1h0m1 6h0m8 1h0m3 1h0m8-4h0m3 2h0m8 0h0m4 1h0m6-2h0m24 2h0m-165 2h0m2 3h0m2 4h0m6 4h0m0-3h0m1 0h0m1-4h0m1 3h0m3 4h0m12-2h0m2-2h0m1-7h0m3 0h0m10 0h0m4 1h0m7 1h0m6 9h0m3-10h0m1 2h0m0 4h0m4-5h0m0 8h0m1-1h0m6 1h0m0-7h0m12 2h0m3-2h0m0-2h0m0 9h0m5 1h0m8-8h0m1 0h0m1 9h0m12-2h0m3 0h0m0-2h0m3-8h0m1 7h0m12-2h0m1 0h0m2 0h0m1-5h0m15 9h0m2-6h0m4 10h0m2 0h0m3-7h0m3 2h0m2-6h0m11 11h0m1-9h0m4 5h0m0-6h0m-184 16h0m3-2h0m23 2h0m4 2h0m10-7h0m5 7h0m5 4h0m7-11h0m20 1h0m9 4h0m8 5h0m2-10h0m16 11h0m10-6h0m5-2h0m2 9h0m4-4h0m5-7h0m2 0h0m6 10h0m1-11h0m0 11h0m4-3h0m3-7h0m1 6h0m6 3h0m0 2h0m3-1h0m4-7h0m1-1h0m5 5h0m0 1h0m7-8h0m1 10h0m8-7h0m10 9h0m14-11h0m3 7h0m9-6h0m5 9h0m-120 12h0m16-10h0m5 3h0m14 1h0m1-2h0m7 10h0m16-11h0m14 0h0m0 6h0m1-4h0m5-3h0m1 12h0m0-8h0m5-4h0m0 9h0m5 1h0m7 3h0m0-7h0m4 2h0m5-1h0m0 2h0m5-2h0m5-3h0m2 8h0m6-9h0m0 7h0m2-3h0m11-1h0m3 6h0m1 1h0m12-8h0m-74 22h0m0-11h0m2 6h0m4-3h0m3-1h0m5 3h0m17-2h0m2 3h0m1 2h0m9-9h0m1 9h0m6 2h0m0-9h0m9 10h0m1-11h0m3 1h0m1 9h0m1-4h0m1-1h0m1 6h0m0-13h0m2 9h0m11 1h0m1 1h0m-54 6h0m8-2h0m5 0h0m17 1h0m7 3h0m1-4h0m1 8h0m18-6h0m3 7h0m4-4h0m4 2h0m13 3h0m11 1h0"/>
<path stroke="#306a8e" d="M291 415h0m19 2h0m-9 5h0m2 4h0m2-2h0m14-4h0m0 4h0m1 0h0m4-2h0m0 0h0m2-2h0m1 6h0m0-4h0m2 0h0m3 5h0m5 3h0m9 1h0m8-1h0m4 2h0m1-3h0m4 3h0m3 1h0m5 0h0m-24 1h0m18 0h0m2 5h0m4 2h0m2-3h0m1-1h0m2 4h0m10-3h0m8 6h0m2 0h0m0-1h0m16 1h0m8 1h0m1 1h0m-12 6h0m9 0h0m5-3h0m6 2h0m3 3h0m1-6h0m9 9h0m1 4h0m3 1h0m3 3h0m3-1h0m3 0h0m3 1h0m2-1h0m1-2h0m2 3h0m4-1h0m5 2h0m0-2h0m5 4h0m13 6h0m-3 4h0m10 1h0m2 3h0m4-5h0m1 2h0m1 9h0m1-7h0m1-1h0m5 3h0m5 3h0m1-5h0m4 8h0m2-3h0m-5 5h0m7 5h0m18 1h0m1-1h0m2 7h0m1-3h0m2 0h0m3-1h0m1 1h0m1-4h0m1 5h0m9 4h0m1 1h0m9 3h0m1 1h0m0 0h0m1 7h0m2-5h0m12 5h0m-10 5h0m18-2h0m5 9h0m2 2h0m4-8h0m12 14h0m0-4h0m7 3h0m1 4h0m5 2h0m8 2h0m0-6h0m-7 9h0m15 4h0m6 6h0m1 2h0m3-3h0m1 0h0m4 2h0m3-8h0m0 16h0m1-2h0m1-3h0m6 0h0m1 1h0m3 2h0m1 0h0m5 7h0m1-2h0m1 7h0m1-1h0m25 5h0m2 14h0m1-6h0m4 3h0m3 1h0m4 4h0m4-5h0m1 5h0m2-7h0m1 9h0m1-4h0m1 12h0m15 2h0m0 4h0m0 0h0m-410 128h0m-19 25h0m33 0h0m7-5h0m-68 17h0m3 0h0m5 6h0m5-8h0m6-5h0m7 12h0m8 1h0m1-1h0m2-2h0m6-8h0m7 3h0m0-4h0m3 8h0m2 4h0m1-9h0m9 5h0m7-4h0m10 0h0m2-3h0m2 11h0m12-6h0m1 4h0m8-6h0m18 0h0m12 7h0m6 0h0m25 1h0m-170 3h0m26 3h0m2 2h0m5 3h0m0-6h0m3 8h0m13-3h0m11-8h0m2 0h0m0 8h0m2-4h0m1 0h0m0 1h0m2-4h0m1-2h0m8 8h0m3-1h0m3 0h0m0 4h0m0-3h0m5 3h0m7-9h0m1-2h0m1 12h0m4-4h0m2-5h0m9 1h0m2-4h0m2 9h0m6-2h0m5 2h0m3-3h0m16-1h0m9 5h0m15 1h0m1 0h0m3 0h0m4 0h0m2-6h0m2-1h0m7 8h0m5-3h0m1 0h0m7-2h0"/>
<path stroke="#7ad151" d="M298 492h0m0-1h0m0 0h0m15 5h0m9 3h0m6 1h0m8 3h0m12 3h0m26 9h0m2-1h0m28 10h0m9 5h0m2 1h0m0-2h0m9 4h0m7 2h0m2 0h0m2 1h0m6 3h0m8 2h0m1 1h0m8 3h0m-167 2h0m8 2h0m3 4h0m1-3h0m2 3h0m9 3h0m1-2h0m2 1h0m2-1h0m3 1h0m3 0h0m15 5h0m130-10h0m3 0h0m-125 13h0m8 4h0m19 2h0m4 1h0m2 3h0m4-4h0m0 5h0m1-1h0m1-5h0m0 5h0m1 0h0m9-1h0m97-11h0m8 0h0m5 6h0m4 1h0m0-3h0m8 6h0m3 2h0m-132 3h0m11 2h0m3 1h0m17 1h0m7 8h0m6 0h0m100-13h0m11 10h0m1-1h0m6 3h0m-121 2h0m24 6h0m7 4h0m7 3h0m3-2h0m9 2h0m84-10h0m6 7h0m3-2h0m-92 10h0m5 0h0m9 6h0m8 3h0m1-4h0m1 4h0m71-13h0m13 4h0m2 3h0m7 0h0m1 3h0m2 1h0m0-4h0m1 0h0m3 6h0m1-1h0m-93 5h0m2 1h0m6-1h0m1 2h0m4 4h0m3-1h0m2 1h0m79-7h0m10 6h0m-83 7h0m3 3h0m100 1h0m3 1h0m1-1h0m3 5h0m5 1h0m1-1h0m-75 10h0m4 4h0m2-2h0m77-5h0m2 0h0m-55 19h0m72-8h0m1 0h0m1 1h0m17 12h0m-80 2h0m2 2h0m4 1h0m6 2h0m2 5h0m1-5h0m2 3h0m0 2h0m8 0h0m68-5h0m1 3h0m5 1h0m-72 7h0m4 1h0m2 3h0m3 0h0m1-1h0m2 5h0m8 1h0m63-8h0m7 5h0m4 2h0m-67 11h0m5 2h0m1-4h0m1 5h0m66-10h0m-47 21h0m0 1h0m0-5h0m0 3h0m1-4h0m1 7h0m4 3h0m3 0h0m9 8h0m11 4h0m0 0h0m-1 4h0m12 5h0m0 0h0m3 5h0m1 2h0"/>
<path stroke="#440154" d="M438 321h0m30 0h0m-4 6h0m3-4h0m17 1h0m2 3h0m2 8h0m3-6h0m6 8h0m3 0h0m18 20h0m51 26h0m3-1h0m6 2h0m39 18h0m2 8h0m4-2h0m10-1h0m4 7h0m1 5h0m1-6h0m2-6h0m15 11h0m-15 4h0m14 8h0m11-7h0m1 9h0m3-6h0m0 3h0m0-2h0m4 3h0m1 5h0m3 12h0m5-1h0m1-9h0m3 0h0m2 3h0m4 5h0m0 6h0m4 4h0m3 2h0m1 4h0m2-10h0m6 9h0m-2 2h0m19 8h0m-8 8h0m13-1h0m5 7h0m1-1h0m1 2h0m12 7h0m3-2h0"/>
<path stroke="#1f9a8a" d="M288 461h0m7 1h0m3 1h0m6 0h0m51 15h0m20 4h0m0-1h0m1-1h0m2 2h0m2 0h0m1 2h0m26 4h0m2 3h0m1 3h0m15 6h0m2-1h0m0-6h0m1 8h0m0-1h0m12 2h0m13 5h0m8 6h0m1-3h0m4 5h0m2-4h0m3 1h0m7 7h0m4 3h0m1-2h0m7-1h0m8 6h0m7 2h0m1 2h0m2 2h0m9 3h0m8 4h0m3 0h0m6 5h0m3-1h0m5 2h0m7 2h0m5 4h0m1 2h0m1-2h0m3 6h0m8 2h0m1 0h0m1-2h0m4 4h0m12 8h0m9 1h0m17 10h0m0 5h0m8-5h0m2 3h0m3 2h0m5 2h0m-5 3h0m10 3h0m1-4h0m6 7h0m8 4h0m6 2h0m-341 14h0m347-8h0m1-4h0m9 11h0m1-6h0m4 3h0m5 4h0m3-1h0m-390 4h0m0 9h0m2-2h0m18 2h0m4-3h0m1 0h0m16 3h0m2-4h0m0 6h0m2-2h0m9 2h0m1 0h0m5 0h0m1-1h0m2 0h0m1-6h0m14 5h0m2 1h0m308-11h0m4 6h0m5-3h0m2 9h0m0-2h0m10 2h0m-404 1h0m1 0h0m20 2h0m4-2h0m2 0h0m13 4h0m2-1h0m1-2h0m2 4h0m4-4h0m1 0h0m4 5h0m3 0h0m6-3h0m1-3h0m3 7h0m13 0h0m3 1h0m0 4h0m3-5h0m1 1h0m3-1h0m3 6h0m3-3h0m4-3h0m1 1h0m0 5h0m4-3h0m1-6h0m1-2h0m6 9h0m2-2h0m296-2h0m0-2h0m4-2h0m1 3h0m4 5h0m6-1h0m-316 7h0m3 2h0m2-5h0m2 6h0m5-2h0m4 0h0m1-3h0m10 8h0m5-2h0m1-2h0m15 8h0m6 0h0m267-8h0m2 0h0m1 1h0m1 3h0m2-3h0m3 6h0m5 1h0m-290 1h0m0 3h0m6-1h0m5 0h0m1 3h0m1-1h0m1 1h0m4 5h0m6-10h0m3 5h0m3-1h0m0 5h0m6-5h0m1 7h0m255-10h0m-264 14h0m13 2h0m5 3h0m4-3h0m6-1h0m7 2h0m1 3h0m3 1h0m4 0h0m0 11h0m2 1h0m3-4h0m9 6h0m11-3h0m5 6h0m0 2h0m6-6h0m2 9h0m1 6h0m3-1h0m2 2h0m4 2h0m10 1h0m6 5h0m0 4h0m12 5h0m3-1h0m10 11h0m1-6h0m0 6h0m9 2h0m5 0h0m0-1h0m6 3h0m-7 5h0m6 2h0m6 8h0m1-3h0m0-4h0m1 1h0m1 2h0m5-1h0m3 2h0m1 1h0m1 5h0m8 1h0m3 7h0m3 4h0m11 0h0m4 6h0m2 0h0m2 6h0m10 3h0m7 2h0m1 4h0m1 3h0m2 1h0m3-3h0"/>
<path stroke="#414487" d="M294 362h0m-5 15h0m5-2h0m0-3h0m2-7h0m5 4h0m4-3h0m3 8h0m1-3h0m9-2h0m1 1h0m3 0h0m1 0h0m1-4h0m2 9h0m5-6h0m3 2h0m3 3h0m2-8h0m5 8h0m7 3h0m4-5h0m3 0h0m2-1h0m-43 11h0m7-4h0m2 2h0m3 7h0m4-8h0m6 6h0m1 0h0m7-5h0m13 6h0m6-5h0m1 3h0m0-2h0m4 9h0m3-1h0m4-2h0m0-3h0m1-1h0m6 3h0m2-5h0m2 4h0m20 4h0m6-2h0m-71 6h0m37 0h0m2 9h0m1-5h0m1-6h0m9 2h0m2 3h0m4-2h0m1-2h0m4 4h0m1 2h0m5 1h0m1 5h0m0-11h0m8 3h0m2-4h0m1 10h0m5-2h0m8-2h0m2 6h0m-7 4h0m0-3h0m4 3h0m7 0h0m20-2h0m6 4h0m2 3h0m5 3h0m4-1h0m0-4h0m6 6h0m1-3h0m2 0h0m3 4h0m-19 5h0m11-1h0m0 2h0m1-2h0m1 6h0m0-7h0m3 5h0m2-5h0m3 8h0m7-6h0m1 6h0m2-5h0m1 5h0m1-3h0m2 5h0m24 1h0m-45 1h0m7 1h0m23-1h0m7 12h0m0-5h0m8 0h0m5 0h0m0 6h0m1-9h0m1 9h0m15-2h0m-1 4h0m0 9h0m1-10h0m2 11h0m5-10h0m3 10h0m4-11h0m2 9h0m8-4h0m0 6h0m3 2h0m1-8h0m-14 9h0m3 1h0m9 9h0m1-6h0m2 0h0m2 2h0m0-5h0m0 9h0m2-8h0m1 0h0m3 3h0m1-5h0m1 13h0m6-11h0m4 4h0m1 1h0m6 4h0m5 11h0m11-5h0m3 3h0m2-1h0m0 8h0m8-3h0m3 3h0m-9 3h0m5 3h0m9-2h0m1 4h0m1-5h0m2 3h0m1 3h0m4-3h0m1 7h0m2-4h0m2-6h0m2 8h0m1 3h0m5-2h0m-7 3h0m3 1h0m14 5h0m1 5h0m3-3h0m3-5h0m0 0h0m10 9h0m-2 3h0m3 0h0m9 8h0m2 3h0m14 12h0m8-4h0m0 1h0m3-4h0m-6 11h0m3 5h0m2 0h0m3-1h0m1 2h0m2-3h0m3 0h0m0 4h0m8 2h0m-2 5h0m0 4h0m6-4h0"/>
<path stroke="#481f70" d="M315 316h0m15 3h0m0-1h0m16 2h0m11 4h0m9 3h0m1-1h0m3-1h0m1 4h0m7 5h0m0-5h0m4-4h0m1 0h0m1 4h0m12 1h0m5 5h0m3-6h0m0 2h0m1 4h0m3-5h0m4 3h0m-20 3h0m2 1h0m10 1h0m3-2h0m9 6h0m11 3h0m0-4h0m9-3h0m6 2h0m4 3h0m0 4h0m-9 12h0m13-1h0m4-7h0m4 7h0m14 5h0m0-8h0m15 19h0m7-9h0m1 3h0m3 5h0m2 0h0m4-2h0m16 5h0m1 11h0m16 2h0m14 0h0m-3 6h0m5-1h0m3 5h0m5 3h0m1-10h0m20 12h0m23 13h0m1 7h0m6-1h0m4 8h0m18 5h0m14 10h0m18 10h0m10 4h0m-2 4h0m3 0h0m5 1h0m1 2h0m3-2h0m0 9h0m2-6h0m2 3h0m4-1h0m7 7h0m3-1h0m15 14h0m8 7h0m7 2h0m3 5h0m3 0h0"/>
<path stroke="#fde725" d="M292 514h0m0 2h0m4 2h0m9 4h0m10 0h0m4 2h0m6 2h0m2 3h0m13 4h0m13 0h0m5 1h0m40 10h0m-6 3h0m12 2h0m5 1h0m15 7h0m25 9h0m1 1h0m8 1h0m1 2h0m11 9h0m2-3h0m3 3h0m4 2h0m15 5h0m9 0h0m2 1h0m11-1h0m-2 7h0m10 3h0m17 11h0m10 1h0m21 15h0m3-5h0m2 5h0m14 6h0m1 2h0m6-1h0m10 11h0m11 1h0m25 15h0m1-1h0m1 2h0m8 8h0m18 6h0m5 4h0m8 3h0m8 10h0m6 1h0m43 28h0m10 10h0"/>
<path stroke="#20938c" d="M295 459h0m3 1h0m2-1h0m27 7h0m11-2h0m1 1h0m2 7h0m10 0h0m6 3h0m0-4h0m11-2h0m-3 7h0m5 3h0m10-2h0m4-1h0m3 8h0m1-7h0m1 0h0m2 4h0m20 8h0m6 2h0m4 4h0m1 0h0m5-3h0m1 3h0m7 2h0m1-1h0m4-2h0m5 7h0m0-4h0m11 5h0m-2 2h0m8 3h0m3 1h0m3 1h0m1 1h0m7-2h0m8 5h0m6-4h0m-3 11h0m0 0h0m5-1h0m5-1h0m3 4h0m1-2h0m5 0h0m1 3h0m4 5h0m2-1h0m2-1h0m2 2h0m2-3h0m1 3h0m0 0h0m16 12h0m1-2h0m11 6h0m0-2h0m5 2h0m11-1h0m-6 4h0m2 1h0m1 0h0m0 2h0m1-2h0m0 4h0m1-6h0m1 5h0m2 2h0m2-5h0m13 9h0m7 0h0m1 2h0m-3 4h0m4 0h0m5 2h0m1 5h0m2-5h0m4 8h0m0-5h0m3 0h0m0 4h0m2-2h0m1 0h0m3 0h0m3 2h0m-6 3h0m12 1h0m3 3h0m1-1h0m0 3h0m9 0h0m3 1h0m-1 7h0m7 1h0m3-2h0m0 6h0m5-2h0m7 5h0m4 2h0m3 2h0m-12 1h0m21 3h0m3 0h0m1 0h0m0 8h0m6 0h0m-392 14h0m53-1h0m341-9h0m9 3h0m13 6h0m-419 7h0m0 7h0m7-6h0m5 6h0m2-5h0m6 8h0m4-12h0m1 7h0m11 5h0m5-4h0m0-1h0m2 2h0m3-5h0m5-2h0m5 10h0m0-6h0m5 2h0m17-1h0m3-1h0m3 6h0m6-1h0m18 1h0m313-12h0m1 0h0m14 3h0m0 2h0m3 7h0m4-6h0m1 2h0m3-1h0m0 2h0m4 2h0m-443 13h0m1-7h0m8 2h0m6 7h0m3-12h0m29 1h0m15 7h0m7-6h0m2-3h0m10 10h0m6-6h0m1 6h0m1-5h0m2-2h0m6 0h0m9 3h0m1-3h0m5 4h0m2 4h0m5-5h0m2-1h0m1-3h0m5 1h0m7 9h0m4-2h0m304-10h0m1 7h0m7-3h0m2 5h0m4 2h0m2 2h0m-394 3h0m60 1h0m3-1h0m14 7h0m1-4h0m4 8h0m5-8h0m4-5h0m3 10h0m0-1h0m3 0h0m1-3h0m0 6h0m1-1h0m1-3h0m1 4h0m8-4h0m4 1h0m3 3h0m-43 3h0m29 1h0m1 7h0m8-3h0m7-4h0m5 5h0m2 2h0m2-6h0m0 1h0m4 0h0m2-4h0m1 6h0m3 2h0m1 2h0m2-6h0m2 8h0m2-1h0m-13 6h0m3-1h0m11-1h0m1-1h0m15 13h0m9-5h0m-13 7h0m13-1h0m3 7h0m2-6h0m5-1h0m4 11h0m1-6h0m3 3h0m9-1h0m1 1h0m0 2h0m3 0h0m0 1h0m6 0h0m0-1h0m-14 9h0m7 2h0m2-7h0m5 4h0m5 4h0m0-3h0m4 0h0m0-2h0m3 3h0m1 2h0m3 2h0m9 2h0m8 1h0m-9 9h0m3-8h0m4 0h0m0 12h0m0-10h0m3 5h0m1-6h0m1 10h0m4 1h0m6 1h0m1 8h0m0-2h0m14-2h0m3 6h0m7 7h0m1 7h0m3-8h0m6 7h0m1 2h0m3-5h0m8 0h0m2 8h0m-5 9h0m5 5h0m0-8h0m0 8h0m4-8h0m3-3h0m4 11h0m1-4h0m3 1h0m7 3h0m-18 5h0m8-4h0m7 3h0m1 0h0m3-2h0m0 6h0m3-4h0m0 1h0m2 8h0m2-1h0m5 0h0m3-5h0"/>
<path stroke="#2c718e" d="M293 419h0m-2 12h0m0-9h0m1-1h0m1 3h0m17 7h0m2-1h0m2 0h0m1-5h0m5 6h0m3 2h0m2-10h0m1 5h0m1 3h0m6 0h0m1 2h0m5-4h0m-27 5h0m5 0h0m16 3h0m4-3h0m1 3h0m9-3h0m0 1h0m8 7h0m0-3h0m0 3h0m4 3h0m1-4h0m3 0h0m22 6h0m8-1h0m-15 4h0m2 1h0m12-1h0m4 1h0m1 4h0m3-3h0m8 5h0m0 1h0m2 0h0m3-2h0m3 2h0m2-2h0m1 3h0m0-1h0m2 0h0m17 3h0m-24 1h0m13 2h0m1-1h0m12 4h0m1-1h0m0 0h0m5-2h0m4 6h0m7 0h0m1 5h0m2 0h0m6-2h0m2-2h0m1 1h0m7 3h0m4-3h0m-24 4h0m14 2h0m0-2h0m6 2h0m1 4h0m4-4h0m1 2h0m4 0h0m6 4h0m3-3h0m17 8h0m3 0h0m-24 2h0m19 2h0m4 4h0m11-7h0m1 9h0m6 0h0m3 0h0m8 2h0m-6 4h0m16 7h0m10-1h0m12 5h0m-2 5h0m1-2h0m1 2h0m4 0h0m12 10h0m1-5h0m-3 6h0m18 7h0m19 3h0m9 3h0m-7 6h0m9-4h0m1 7h0m1-1h0m4 3h0m0-2h0m1-6h0m6 8h0m1-2h0m6 2h0m2 11h0m1-4h0m4-2h0m3 4h0m7 2h0m1-4h0m-7 11h0m3 0h0m1 3h0m9 2h0m2 0h0m0 0h0m1-4h0m1 7h0m1-5h0m2 7h0m5-4h0m1-3h0m3 8h0m0-4h0m1 0h0m3-2h0m5 8h0m7-1h0m-13 8h0m6-5h0m1 1h0m5 2h0m2 4h0m4 4h0m3 1h0m3 0h0m1-1h0m1 0h0m-4 3h0m10 3h0m1 1h0m0 0h0m1-4h0m2 2h0m7 10h0m0-4h0m1 8h0m5 0h0m-429 121h0m9-10h0m-39 20h0m3 0h0m12 3h0m2-1h0m6-6h0m25-2h0m1 4h0m6 7h0m1-12h0m1 10h0m4-10h0m7-1h0m0 13h0m5-13h0m0 13h0m12-3h0m7-10h0m1 10h0m1-8h0m9 8h0m1-5h0m11 1h0m9-2h0m2-4h0m6 10h0m6 1h0m11-11h0m-149 17h0m2 1h0m3 5h0m4-7h0m4 6h0m1 3h0m10-4h0m9-1h0m5 0h0m6 3h0m3-3h0m0-4h0m2 9h0m9-10h0m6 10h0m0-8h0m0 4h0m1-6h0m1 8h0m4 0h0m1-1h0m10 5h0m2-12h0m5 12h0m8-13h0m9 0h0m1 10h0m3-1h0m1 1h0m0-7h0m4 9h0m1-2h0m1-10h0m1 6h0m2-5h0m9 7h0m4-1h0m3 1h0m9 1h0m2-5h0m25 6h0m6-3h0m3 0h0m14-6h0m-181 14h0m22 0h0m7 1h0m6 1h0m1-3h0m9 12h0m6-8h0m2-2h0m12 0h0m21 4h0m3 1h0m2-6h0m16 4h0m3-3h0m0 9h0m5 1h0m6-4h0m2 3h0m2 1h0m3-6h0m9 0h0m2 7h0m1-8h0m0-2h0m5-2h0m2 11h0m3-8h0m3 1h0m3 4h0m8-1h0m0 2h0m1 3h0m2-12h0m4 3h0m3 0h0m0-3h0m3 9h0m4-6h0m7 8h0m26-5h0m0 4h0m4-1h0m-136 6h0m7 2h0m6 0h0m32 6h0m9-10h0m2 11h0m3-9h0m3 1h0m1 5h0m1-3h0m12-2h0m5 8h0m0-5h0m9-6h0m11 2h0m4-1h0m0 7h0m1-5h0m8 0h0m2-2h0m1 5h0m4 5h0m0 0h0m2-9h0m0 4h0m1-1h0m3 1h0m4 6h0m6-2h0m3-4h0m1 3h0m0 3h0m9-3h0m5 0h0m5 4h0"/>
</g>
<g fill="none" stroke-linecap="round" stroke-width="12.8">
<path stroke="#46327e" d="M1037 318h0m-32 7h0m37 4h0m-44 11h0m77 31h0m5 4h0m19 7h0m21 1h0m29 22h0m7 10h0m31-5h0m20 8h0m-15 4h0m26 10h0m-2 7h0m18 7h0m9-1h0m13 29h0m20-4h0m0 11h0m12 8h0m8 8h0m8-7h0m-352 227h0m41 10h0m-80 28h0m12-3h0m47 2h0m-108 9h0m17 20h0m82-11h0m-82 24h0m29-6h0m123 6h0m39-2h0"/>
<path stroke="#22a884" d="M912 397h0m3-3h0m48 19h0m19 12h0m23 10h0m23 6h0m35 16h0m50 24h0m7 5h0m49 26h0m10 3h0m19 10h0m-304 20h0m328-1h0m3-4h0m22 17h0m-94 3h0m95 2h0m-222 26h0m-180 25h0m261-9h0m-185 23h0m53-1h0m18-4h0m24-5h0m-124 14h0m92 9h0m122-8h0m-227 12h0m111 7h0m26 2h0m94-8h0m-134 22h0m31 0h0m3 3h0m0-4h0m21-3h0m2-1h0m27 12h0m-26 25h0m109 1h0m13 0h0m22 12h0m6 0h0m2 11h0m0 4h0m11-3h0m-70 8h0m61-3h0m28 10h0m75-6h0m-84 18h0m19 10h0m10-3h0m2-2h0m2 17h0m44 2h0m5 1h0"/>
<path stroke="#3a538b" d="M890 327h0m17-3h0m51 21h0m23 18h0m4 3h0m47 18h0m6 1h0m7-5h0m39 18h0m2 6h0m36 14h0m-2 6h0m28 19h0m10-5h0m2 9h0m4 6h0m16 2h0m18 3h0m-1 10h0m1-2h0m23 16h0m58 32h0m6 11h0m-168 186h0m-243 14h0m26-3h0m14 2h0m26 1h0m0-3h0m33 4h0m-94 4h0m23-1h0m43 11h0m73 0h0m-51 2h0m111 8h0m10-3h0m-37 22h0m17 8h0m100 2h0m29 14h0m54-9h0"/>
<path stroke="#8ed645" d="M855 410h0m1 0h0m4 1h0m18 4h0m52 18h0m6-2h0m-12 6h0m55 11h0m1 3h0m34 14h0m4 0h0m-129 23h0m86-12h0m119 25h0m-223 8h0m11 5h0m18 2h0m55-12h0m39 8h0m132 4h0m-284 14h0m23-8h0m18 1h0m12-3h0m11 4h0m58 5h0m161-8h0m-283 12h0m57 8h0m9-7h0m3 9h0m12-4h0m-58 16h0m16-9h0m10 13h0m6-13h0m31 9h0m88-1h0m40 2h0m2 1h0m112-8h0m19 5h0m-319 7h0m66 11h0m1-9h0m0 4h0m22-6h0m3 0h0m12 6h0m35 3h0m12-3h0m1 0h0m1-7h0m3 4h0m21 3h0m-78 16h0m46 4h0m7-11h0m69 10h0m3-8h0m151-1h0m-246 19h0m12-5h0m18 6h0m6-9h0m31 10h0m3-5h0m7 6h0m40-8h0m3 7h0m8 3h0m130-2h0m-163 10h0m2 4h0m30-5h0m34-6h0m113 1h0m-209 16h0m9 0h0m62 7h0m41-4h0m42 3h0m-85 8h0m19 6h0m15 11h0m11 6h0m6-5h0m12-4h0m62 5h0m-61 12h0m10 0h0m19 13h0m6-3h0m-15 20h0m49 17h0m32-10h0m-46 24h0"/>
<path stroke="#481668" d="M843 747h0m199 8h0m32 10h0m-184 7h0m65 3h0m36 1h0m1 7h0m105-1h0m60-4h0m-295 12h0m7 3h0m177-2h0m77-1h0m37 4h0"/>
<path stroke="#ece51b" d="M860 443h0m16 2h0m1-4h0m-29 11h0m94 18h0m11-1h0m13 6h0m-52 14h0m76-8h0m7-1h0m-76 15h0m29 2h0m72 6h0m-10 10h0m71 10h0m-107 14h0m129 15h0m43 3h0m-82 6h0m63 10h0m17-11h0m6 21h0m34 24h0m42 0h0m13 8h0m45 26h0m10 37h0"/>
<path stroke="#33638d" d="M842 333h0m2 2h0m19-1h0m-4 4h0m98 17h0m-22 13h0m21 0h0m13 2h0m29 8h0m33 19h0m2 3h0m10 2h0m36 18h0m68 39h0m25 5h0m42 25h0m38 24h0m4-4h0m29 22h0m6 5h0m-415 173h0m32-5h0m27 1h0m109 6h0m-67 9h0m-14 15h0m86-7h0m8 8h0m0 8h0m3 7h0m42-5h0m-48 18h0m16-4h0m10 3h0m60 6h0m9-3h0m-9 11h0m-80 10h0m90-3h0m25 3h0m11-1h0m78 0h0"/>
<path stroke="#32b67a" d="M852 388h0m15 2h0m11 3h0m9 1h0m22 10h0m38 13h0m80 32h0m-119 22h0m27-1h0m143 1h0m-235 45h0m317-2h0m-241 15h0m247-10h0m10 3h0m-86 37h0m154 0h0m6 7h0m-382 32h0m27 3h0m406-1h0m-403 12h0m74-2h0m-79 7h0m68 9h0m184-3h0m-193 11h0m3 0h0m90 2h0m-13 11h0m3-3h0m9 17h0m8 6h0m10-3h0m5-2h0m99-1h0m29 7h0m16-6h0m42 3h0m-112 19h0m11 0h0m136 11h0m-121 21h0m31 8h0m8 0h0m20 14h0m13-8h0m3 3h0m43 7h0m-4 9h0m-27 10h0m29 22h0"/>
<path stroke="#228d8d" d="M869 369h0m6-3h0m8-1h0m4 8h0m7 1h0m22 7h0m1 3h0m0-2h0m48 13h0m6 2h0m17 8h0m47 24h0m32 12h0m21 15h0m15 2h0m11 1h0m41 23h0m2 1h0m13 9h0m5 3h0m7 8h0m20 8h0m23 19h0m2-2h0m25 11h0m-385 34h0m411-13h0m14 9h0m2 2h0m-361 23h0m33 26h0m-81 24h0m14 16h0m52 3h0m22-2h0m81 2h0m-125 12h0m23-3h0m18 1h0m8 4h0m2-2h0m-70 13h0m61 2h0m31 4h0m91 17h0m129-1h0m-96 30h0m28-1h0m33-1h0m4 10h0m8 2h0m65-6h0m9 4h0m-52 15h0m29 15h0m18 5h0m-3 9h0"/>
<path stroke="#28ae80" d="M839 377h0m78 29h0m16 0h0m16 7h0m7 1h0m131 58h0m2 2h0m-208 16h0m235 1h0m53 25h0m-189 13h0m214-2h0m21 9h0m-298 12h0m311 3h0m17 6h0m4 0h0m-227 22h0m-119 14h0m383-4h0m-400 18h0m243 7h0m-248 3h0m39 10h0m23-6h0m2 1h0m58-4h0m116 7h0m-190 17h0m3 0h0m18-4h0m32-1h0m15-4h0m21 4h0m-134 11h0m50 6h0m137 2h0m-9 7h0m9 9h0m34 5h0m7 4h0m152-3h0m1-6h0m-114 18h0m32-4h0m-24 26h0m4 4h0m43 8h0m10 0h0m77-1h0m-110 10h0m14 4h0m18 1h0m1 3h0m76-11h0m-65 15h0m-8 12h0m79 5h0"/>
<path stroke="#4ac16d" d="M860 396h0m60 16h0m36 11h0m11 10h0m12 0h0m26 14h0m-116 14h0m158 7h0m8 2h0m61 24h0m-194 12h0m212 0h0m16 11h0m-152 4h0m-108 12h0m177 1h0m-215 24h0m15-4h0m340-5h0m-351 15h0m42 0h0m330-3h0m-372 14h0m2 6h0m8 0h0m33 2h0m-56 5h0m1 0h0m5 11h0m24-2h0m53-8h0m15 4h0m344 4h0m-430 5h0m58 7h0m30 4h0m4-4h0m23 5h0m12-2h0m2 2h0m214-11h0m-303 15h0m115 3h0m13 0h0m42 5h0m11 0h0m4-10h0m17 7h0m-84 10h0m23 10h0m54-4h0m-78 13h0m67 11h0m22 5h0m13 1h0m12-1h0m11 0h0m21-9h0m18 0h0m-55 15h0m31 17h0m29 0h0m45 20h0m-11 7h0m33-3h0m5 9h0m38 24h0m11 16h0m2 1h0"/>
<path stroke="#2a788e" d="M849 345h0m7 4h0m14 4h0m7 2h0m10-2h0m105 42h0m22-1h0m45 30h0m39 9h0m-15 1h0m4 7h0m12 1h0m39 22h0m15 4h0m34 15h0m11 14h0m8-2h0m6 9h0m60 46h0m8 1h0m23 9h0m-444 50h0m32 23h0m-44 15h0m97 3h0m-64 26h0m18 7h0m-53 2h0m96 3h0m7 2h0m11 17h0m25-1h0m173 5h0m-157 3h0m48 11h0m21-3h0m10 7h0m38 4h0m32 6h0m-53 6h0m25 0h0m31 7h0m43 36h0m17 7h0"/>
<path stroke="#7ad151" d="M843 401h0m33 4h0m-12 3h0m1 2h0m25 8h0m45 6h0m8 11h0m29 11h0m13 5h0m26 11h0m29 12h0m-156 13h0m173-6h0m16 8h0m-225 3h0m228-2h0m22 1h0m-253 13h0m1 8h0m37-7h0m86 11h0m146-11h0m14 7h0m-252 8h0m46 8h0m10-3h0m96-6h0m59 11h0m-228 4h0m29 11h0m9-1h0m37-8h0m5 2h0m1 3h0m67 3h0m-82 9h0m70-4h0m72-1h0m126 6h0m-337 8h0m20 0h0m13 2h0m12 1h0m12-5h0m108 0h0m-146 14h0m8 6h0m227 7h0m0-12h0m137 6h0m-271 15h0m10-1h0m26-4h0m21 7h0m20-9h0m1 7h0m202-7h0m12 11h0m-218 2h0m50 2h0m12 0h0m-84 23h0m31-5h0m13 2h0m23 3h0m48-9h0m9 10h0m52 1h0m-126 3h0m157 7h0m-106 11h0m28-1h0m38-4h0m-32 24h0m31-5h0m23 0h0m2 3h0m31-7h0m-53 15h0m29 6h0m6 3h0m3-5h0m1-2h0m12-4h0m-9 33h0m18 4h0m7-2h0m10 2h0m30 16h0m-12 15h0m2-2h0m6 8h0"/>
<path stroke="#24868e" d="M852 353h0m54 19h0m7 4h0m23 11h0m4-1h0m100 36h0m34 19h0m43 19h0m31 18h0m40 17h0m-250 77h0m357-3h0m4 4h0m-389 23h0m108 17h0m-48 24h0m-117 16h0m107 2h0m35-11h0m-123 20h0m4-1h0m35-3h0m113 23h0m-76 5h0m35 0h0m5-2h0m67 9h0m68 2h0m52-1h0m-182 9h0m33 6h0m4-4h0m88 3h0m-38 8h0m1 2h0m42 4h0m-67 5h0m93 3h0m17 10h0m28 9h0m24 19h0m21 18h0m7-3h0m25 5h0"/>
<path stroke="#c8e020" d="M856 424h0m4 7h0m25 2h0m-18 1h0m2 1h0m15 8h0m1 1h0m26-3h0m-72 7h0m11 11h0m14-4h0m3 5h0m3-4h0m11-5h0m24 6h0m1-8h0m3 4h0m26 0h0m12 5h0m4-6h0m-44 23h0m21-6h0m43 5h0m55 1h0m-132 14h0m11-11h0m23 10h0m20-8h0m66 4h0m-116 18h0m34-10h0m46 8h0m76-8h0m-213 15h0m124 9h0m5-10h0m29 4h0m42-1h0m56 5h0m-151 15h0m5-5h0m7 6h0m68-5h0m16-6h0m15 1h0m41 1h0m11-2h0m10 10h0m-119 11h0m37-7h0m21 1h0m63 2h0m10 5h0m11 0h0m-148 9h0m61 5h0m38-7h0m35 1h0m4-2h0m18 8h0m-162 15h0m196-8h0m9 11h0m-126 2h0m33 0h0m4 3h0m55 8h0m44-11h0m9 5h0m-11 12h0m13 9h0m-43 5h0m13-4h0m42 3h0m-10 19h0m20-1h0m41-3h0m-82 16h0m45 2h0m21-7h0m9 10h0m16-5h0m4 6h0m-79 8h0m46 5h0m11-3h0m27 5h0m7-8h0m-11 16h0m-26 16h0m30-2h0m3 15h0"/>
<path stroke="#414487" d="M959 334h0m18 11h0m77 26h0m-6 18h0m40 0h0m1-5h0m13 5h0m-4 7h0m6-2h0m63 37h0m7 12h0m10 7h0m39 14h0m1 0h0m64 46h0m3-6h0m14 5h0m-465 148h0m110 41h0m-103 14h0m2 15h0m93 4h0m-79 15h0m110 6h0m39-7h0m61-1h0m-168 15h0m134 6h0m21 0h0m11 0h0m14-2h0m17 16h0m143-7h0m-306 14h0m72 1h0m16 1h0m59 5h0m42-1h0m20 0h0m12 4h0m82-1h0"/>
<path stroke="#482979" d="M1047 342h0m6 5h0m63 39h0m58 22h0m32 24h0m15-5h0m39 33h0m9 17h0m19 6h0m-447 267h0m253 18h0m-220 14h0m28 1h0m75-2h0m17-6h0m219 8h0m-264 5h0m41 1h0m4-3h0m24 9h0m35-5h0m3 5h0m35-2h0"/>
<path stroke="#443a83" d="M1015 327h0m24 8h0m-24 13h0m7-1h0m23 18h0m26 11h0m6-8h0m12 6h0m2 13h0m18 16h0m60 7h0m57 25h0m-20 18h0m26 8h0m23 15h0m14 2h0m-377 197h0m-41 13h0m58 3h0m5 2h0m-74 32h0m62-4h0m56 17h0m52-8h0m-105 37h0m5-2h0m12 4h0m25-3h0m7 0h0m19-3h0m14-3h0m-105 12h0m103 10h0m30 1h0m1 7h0m0 5h0m140-7h0"/>
<path stroke="#dae319" d="M876 428h0m-17 8h0m17 2h0m7-1h0m5 10h0m21-2h0m-60 15h0m51-1h0m22 0h0m2-5h0m-76 13h0m69 5h0m43-5h0m-116 12h0m76 0h0m57 6h0m23 0h0m-148 17h0m38-11h0m8 12h0m4-9h0m17 7h0m8 0h0m86-1h0m3 2h0m5-12h0m3 9h0m21-4h0m24 7h0m-154 4h0m112 2h0m24-2h0m7 11h0m8-3h0m-101 16h0m73-10h0m-167 17h0m87-1h0m95 0h0m46 8h0m-64 3h0m117 10h0m10-5h0m16 7h0m-76 11h0m33-2h0m66 4h0m-98 14h0m12-3h0m55-4h0m41 8h0m-82 14h0m3-10h0m99 10h0m4-1h0m-110 3h0m43 2h0m64 10h0m10-5h0m11 4h0m-23 11h0m19-7h0m16 15h0m10 1h0m7 5h0m-99 6h0m33 7h0m7-7h0m45 4h0m34-2h0m-27 19h0m11-2h0m12-1h0"/>
<path stroke="#3e4c8a" d="M946 319h0m9 16h0m-13 1h0m5 5h0m49 16h0m22 13h0m8 10h0m20 2h0m43 9h0m29 21h0m40 24h0m35 20h0m34 19h0m10-1h0m1-6h0m14 9h0m16 22h0m2 4h0m19 8h0m13 14h0m-421 156h0m15 46h0m-27 8h0m296 1h0m-308 16h0m99-4h0m1 8h0m13 0h0m108 3h0m-11 21h0m146 3h0m68-2h0m-213 4h0"/>
<path stroke="#a0da39" d="M843 419h0m40 8h0m33 6h0m28 4h0m-101 17h0m15 2h0m2 2h0m30 0h0m14-6h0m0 8h0m43-9h0m22 1h0m5-3h0m-132 16h0m27 5h0m39 2h0m-20 10h0m3 0h0m5-2h0m-51 16h0m41 7h0m1-3h0m10 2h0m2-2h0m2 0h0m39 2h0m21-8h0m-123 14h0m22 9h0m23-1h0m6-2h0m9-5h0m6 4h0m14-5h0m87-4h0m10 4h0m89 5h0m-200 17h0m97-9h0m18 2h0m124 3h0m-283 10h0m27 4h0m84-4h0m186 3h0m-281 15h0m98 3h0m50-8h0m36 1h0m81 2h0m-152 18h0m13-8h0m53 7h0m2-3h0m16 6h0m9-4h0m11-6h0m16 11h0m5-1h0m89-10h0m-209 16h0m14-3h0m226 4h0m2 3h0m2 2h0m-139 15h0m16-2h0m21 0h0m6-9h0m16 13h0m27-3h0m1 0h0m-118 7h0m1 2h0m35-3h0m46 5h0m126-2h0m-185 10h0m1 8h0m117-1h0m45 5h0m29-13h0m18 11h0m-142 3h0m42 2h0m-26 24h0m8-7h0m6-3h0m7 8h0m18-7h0m42 10h0m-76 10h0m35-2h0m3 0h0m51-3h0m5 9h0m-112 6h0m75-3h0m2 6h0m28 4h0m3-2h0m22 2h0m-41 10h0m5 0h0m22 3h0m15-3h0m-70 10h0m60 35h0"/>
<path stroke="#b2dd2d" d="M841 415h0m37 11h0m14 12h0m14 23h0m41-6h0m-57 10h0m81-3h0m36 8h0m3 5h0m21-3h0m-180 5h0m9 0h0m48 5h0m10 3h0m13-8h0m135 12h0m-217 12h0m14 1h0m69 0h0m54-5h0m46-6h0m35 11h0m-225 10h0m99-4h0m77 3h0m61 1h0m8-8h0m-231 21h0m80-4h0m14 5h0m1 3h0m2 0h0m18-1h0m86-5h0m1 8h0m44-6h0m-262 11h0m119 5h0m72 2h0m9-9h0m103 2h0m2 9h0m-127 4h0m8 8h0m23-9h0m3 10h0m48-12h0m77 12h0m-223 12h0m22-10h0m48 9h0m37-2h0m13-5h0m73 8h0m3-8h0m57 8h0m-175 4h0m93 0h0m10 13h0m18-1h0m7-1h0m24-4h0m26-2h0m12-1h0m14 8h0m-187 15h0m22 0h0m74-9h0m29-1h0m57 2h0m8 2h0m5 6h0m-116 1h0m15 11h0m71-2h0m9-3h0m0-3h0m31 2h0m20 2h0m-237 8h0m90 5h0m44 2h0m2-1h0m104-1h0m-107 10h0m54-2h0m59 4h0m-71 13h0m-14 11h0m38 7h0m21 5h0m-41 3h0m10 7h0m52 18h0m19 26h0"/>
<path stroke="#1f9a8a" d="M867 380h0m9 6h0m34 0h0m60 25h0m40 21h0m93 33h0m-226 38h0m330 16h0m2 4h0m9 11h0m13 7h0m22 0h0m-294 9h0m-108 62h0m36 11h0m-16 9h0m24 3h0m51 5h0m30-5h0m123 8h0m-172 8h0m40-1h0m55 6h0m-178 11h0m132-2h0m43-2h0m15 4h0m1 14h0m111 0h0m-136 5h0m24 8h0m18-8h0m4 1h0m22 5h0m2-4h0m9 6h0m-31 13h0m128 18h0m47-8h0m-68 19h0m15 2h0m6-8h0m41 22h0m26 16h0m16-5h0m-31 9h0m22-2h0m36 19h0"/>
<path stroke="#365c8d" d="M840 319h0m33 19h0m6 0h0m17 8h0m71 12h0m0 9h0m8-3h0m23 3h0m52 32h0m76 34h0m29 11h0m-6 9h0m11-4h0m5 6h0m93 46h0m20 27h0m19 19h0m-344 100h0m4 16h0m25 40h0m-20 17h0m-35 19h0m3-10h0m46 4h0m3 1h0m22 7h0m111-11h0m-157 23h0m27-10h0m91 11h0m-5 15h0m20-13h0m-24 19h0m18 7h0m14-9h0m45 13h0m60 3h0m1 8h0"/>
<path stroke="#2c718e" d="M839 341h0m18 7h0m7-5h0m35 11h0m29 13h0m7 0h0m56 26h0m25 4h0m3 0h0m156 79h0m37 24h0m2 3h0m26 5h0m4 11h0m23 23h0m24 7h0m8 6h0m-283 108h0m-115 13h0m176 3h0m-218 9h0m20 4h0m49-3h0m-50 24h0m41-7h0m40-6h0m64 19h0m21-1h0m16 9h0m44-8h0m65 4h0m-146 9h0m13 5h0m66-6h0m14 21h0m6 4h0m26 2h0m21 2h0m-14 16h0m25-6h0m33 12h0m0 13h0"/>
<path stroke="#277f8e" d="M851 356h0m16 3h0m7 1h0m1 3h0m35 7h0m52 24h0m68 22h0m73 32h0m25 11h0m3 7h0m2 0h0m1 6h0m7-5h0m13 2h0m6 8h0m1 8h0m79 41h0m53 39h0m4-1h0m2 3h0m-441 43h0m177 34h0m-189 22h0m122 5h0m9 0h0m-102 13h0m125-6h0m11-3h0m-76 17h0m43 1h0m-14 7h0m60 7h0m58-1h0m-34 11h0m238 8h0m-184 7h0m56 8h0m-16 22h0m12 2h0m11 1h0m5-3h0m11-5h0m18 7h0m13-5h0m1 13h0m1 3h0m40 16h0"/>
<path stroke="#306a8e" d="M839 336h0m35 6h0m7 11h0m14-1h0m1 0h0m27 5h0m44 3h0m-47 11h0m5-2h0m14-4h0m18 9h0m1-5h0m15 5h0m1-1h0m1 6h0m54 9h0m-20 4h0m16 6h0m33 11h0m39 19h0m22 9h0m24 13h0m20 13h0m15 11h0m58 33h0m0 0h0m11 12h0m24 11h0m9 8h0m0-3h0m22 19h0m-384 115h0m-32 14h0m22 16h0m6-10h0m-66 21h0m84-9h0m2 7h0m91-4h0m19 7h0m-48 14h0m73 13h0m14 3h0m63 4h0m-134 12h0m103 0h0m42 6h0m-58 7h0m100 19h0"/>
<path stroke="#20938c" d="M873 370h0m28 7h0m-4 3h0m54 13h0m23 20h0m49 10h0m82 36h0m-5 5h0m49 21h0m8 6h0m5 8h0m31 18h0m6-2h0m-282 47h0m357-1h0m20 17h0m-325 30h0m-95 35h0m55-6h0m21 6h0m-88 9h0m12 5h0m41-8h0m12 5h0m5 5h0m24 10h0m8-4h0m7-4h0m52 7h0m-32 8h0m27-1h0m11-1h0m7 11h0m-69 4h0m76 11h0m7 6h0m43 0h0m14 16h0m16-3h0m40 29h0m125 7h0m-79 26h0m20-11h0m3 6h0m15 3h0m14 13h0m13-2h0m26 6h0"/>
<path stroke="#481f70" d="M1036 327h0m-49 375h0m-18 62h0m81-2h0m-104 19h0m-36 8h0m104 6h0m25-2h0"/>
<path stroke="#fde725" d="M888 447h0m-48 20h0m51-5h0m37 0h0m23 11h0m-35 3h0m57 19h0m31-5h0m9 9h0m25 6h0m30 19h0m47 19h0m68 51h0m40 22h0m62 24h0m12 19h0m-53 30h0"/>
<path stroke="#1fa187" d="M856 379h0m9 5h0m7 1h0m14-1h0m1 6h0m47 6h0m3 9h0m16-1h0m14 11h0m41 9h0m35 18h0m12 4h0m0-1h0m17 18h0m98 42h0m19 17h0m1-3h0m15 11h0m38 16h0m5 6h0m46 25h0m-110 15h0m117-3h0m-435 25h0m260-12h0m-236 25h0m56 1h0m46-6h0m-142 18h0m29-1h0m20 0h0m-5 7h0m36 8h0m23-4h0m76 7h0m-85 1h0m13 1h0m53 10h0m70-7h0m149 0h0m41 2h0m-278 10h0m76 2h0m-71 17h0m45-4h0m12 0h0m92 20h0m61-3h0m-30 14h0m41 5h0m-26 16h0m11-13h0m-18 19h0m8 2h0m47 4h0m-51 8h0m43 2h0m33-5h0m39 24h0"/>
<path stroke="#3dbc74" d="M849 389h0m5 2h0m120 38h0m19 12h0m8-4h0m31 16h0m15 6h0m66 27h0m12 12h0m30 13h0m-263 12h0m293 4h0m3-2h0m-316 17h0m200 11h0m156 2h0m-332 18h0m39-5h0m12 3h0m-76 5h0m32 10h0m-55 14h0m8 1h0m2-13h0m4 10h0m2-1h0m16-4h0m104 5h0m300-7h0m-353 13h0m81 0h0m293 8h0m-348 12h0m25 1h0m8 2h0m36-6h0m2 5h0m-83 7h0m91 5h0m152-4h0m-163 13h0m28 9h0m0 7h0m15 5h0m92 1h0m21 1h0m-78 6h0m34 0h0m18 6h0m17-7h0m29 26h0m25 39h0m22 9h0m10-1h0m18-3h0m4 8h0m6-2h0m19 20h0"/>
<path stroke="#69cd5b" d="M894 412h0m40 19h0m34 1h0m-3 54h0m103 0h0m14-4h0m-200 14h0m214-2h0m9 2h0m-256 11h0m38 8h0m231-11h0m3 2h0m-264 18h0m4 18h0m25-2h0m73 2h0m-113 6h0m72 6h0m24-7h0m136 9h0m124-5h0m-357 10h0m8-1h0m59 3h0m14 1h0m3 5h0m65-2h0m17-5h0m11 2h0m14 7h0m175-8h0m27 8h0m-377 12h0m16-5h0m13-2h0m12 7h0m13-5h0m25 4h0m86-2h0m-155 10h0m5 1h0m35 5h0m20 1h0m13-9h0m40 7h0m21-5h0m4 9h0m5-8h0m8 8h0m2-1h0m11-2h0m241 4h0m-315 7h0m1 1h0m21-5h0m8 4h0m70-3h0m11 5h0m5 4h0m70 2h0m6-7h0m152 4h0m-301 5h0m55 1h0m49 2h0m135 9h0m-224 14h0m62-11h0m8-1h0m49 6h0m43 0h0m24 3h0m-148 4h0m9 2h0m21 8h0m44-1h0m12-9h0m53 12h0m109 1h0m-164 6h0m101 22h0m-68 14h0m44 8h0m24-3h0m33 5h0m-18 18h0m4-8h0m6 5h0m7-3h0m3 3h0m16-6h0m-23 20h0m31-3h0m-30 7h0m20 6h0"/>
<path stroke="#5ac864" d="M921 422h0m35 8h0m1 0h0m32 20h0m-131 38h0m55-2h0m-30 27h0m261 3h0m-246 11h0m-34 18h0m5-6h0m243-2h0m-227 11h0m22 18h0m138-6h0m194 9h0m-329 11h0m6 0h0m15-3h0m10 8h0m43 2h0m17-10h0m100 10h0m-236 4h0m32 8h0m4 0h0m55-7h0m35 6h0m18-7h0m77-2h0m126 10h0m-229 16h0m14-13h0m7 2h0m22 11h0m37-13h0m-41 24h0m10-9h0m89 24h0m-61 7h0m69 7h0m30 2h0m-6 13h0m-26 2h0m17 13h0m24-7h0m4 7h0m4-1h0m9-7h0m0 6h0m21 5h0m4 9h0m3-7h0m37 17h0m6 2h0m-27 18h0m35-8h0m2 3h0m-41 6h0m61 6h0m16 20h0"/>
<path stroke="#c8e020" d="M860 420h0m14 13h0m-18 6h0m25-3h0m13 7h0m4 3h0m-29 4h0m10 3h0m85 3h0m-109 7h0m35 2h0m31 4h0m34-6h0m10-1h0m35 12h0m0-4h0m-141 7h0m16 6h0m6 5h0m20 1h0m14-3h0m13 3h0m1-7h0m93-2h0m-149 19h0m37-2h0m37 4h0m30-9h0m57 1h0m4 6h0m20 0h0m-215 5h0m1 9h0m11 4h0m65-12h0m5 4h0m92 6h0m18-4h0m26-6h0m15 9h0m-200 12h0m13-7h0m7 2h0m2 7h0m9-10h0m81 0h0m26 1h0m53 9h0m32-5h0m4 0h0m-128 19h0m2-8h0m13-2h0m86 6h0m35 0h0m38 6h0m-129 14h0m19-9h0m74-1h0m5 10h0m37-7h0m-205 14h0m71-4h0m108 10h0m30-1h0m29-3h0m5 1h0m-133 19h0m36-10h0m50-3h0m2 13h0m69-5h0m-133 12h0m23-2h0m56 1h0m20 7h0m9-5h0m35 2h0m13 2h0m0 1h0m-80 2h0m13 4h0m2-2h0m6 4h0m58-6h0m11 4h0m-108 14h0m21-3h0m19 0h0m16 4h0m43-1h0m18 1h0m5-3h0m2 3h0m-63 15h0m18 3h0m1 2h0m30-6h0m6 3h0m46 1h0m-80 13h0m54-6h0m1 8h0m-72 5h0m4 6h0m17-4h0m54 4h0m15-4h0m-23 13h0m5 4h0"/>
<path stroke="#a0da39" d="M861 417h0m7 0h0m-3 8h0m39 5h0m13-5h0m-1 9h0m25 5h0m5 5h0m-39 8h0m59 6h0m5 0h0m11-4h0m-111 18h0m29-10h0m108 3h0m-148 18h0m12-3h0m45 4h0m7 1h0m-75 6h0m11 3h0m18 3h0m33 6h0m61-8h0m35 7h0m-163 3h0m67 2h0m173-1h0m16 6h0m-161 11h0m89 4h0m52 1h0m33-7h0m11-2h0m-195 16h0m15 5h0m0-5h0m5 9h0m13-7h0m31-4h0m-150 22h0m22-2h0m19-6h0m83 4h0m33-2h0m10 4h0m27-6h0m43 5h0m27-2h0m72 1h0m0 3h0m10-1h0m-323 9h0m84 9h0m56 0h0m2-3h0m29-8h0m17 10h0m15 2h0m19-1h0m19-2h0m17 4h0m17-10h0m-156 11h0m38 1h0m27 1h0m67 11h0m53-11h0m51-2h0m10 12h0m3-7h0m-220 9h0m48 3h0m25 5h0m35 2h0m4-9h0m27 12h0m39-3h0m61 1h0m-223 3h0m110 12h0m122-5h0m3-5h0m7 3h0m-238 9h0m65 3h0m41 4h0m34 6h0m122-2h0m-198 13h0m57-10h0m41 5h0m65 2h0m-87 17h0m45 3h0m2-5h0m53 5h0m-72 7h0m31-6h0m23 9h0m18 3h0m-51 2h0m6 1h0m23 2h0m19 14h0m3 0h0m1 10h0m16-7h0m-32 13h0m44 1h0m-5 11h0m-19 17h0m1-2h0"/>
<path stroke="#32b67a" d="M850 388h0m39 7h0m44 8h0m-17 3h0m15 4h0m1-2h0m23 12h0m23 13h0m21 0h0m-91 28h0m200 20h0m34 24h0m41 19h0m3 2h0m-292 7h0m342 25h0m-170 6h0m-162 13h0m-56 12h0m42 2h0m5-2h0m-42 24h0m46-2h0m17-6h0m111 2h0m116 2h0m-236 19h0m1-7h0m16 2h0m20 1h0m4 1h0m32-6h0m-6 14h0m28 2h0m13-2h0m22 9h0m-32 4h0m32 10h0m3 6h0m56 12h0m8 8h0m22-3h0m18-5h0m7 2h0m3 2h0m-48 12h0m12 1h0m25-1h0m4 2h0m31 8h0m5 2h0m17 22h0m26-6h0m-31 12h0m55 12h0m44 11h0m-14 24h0"/>
<path stroke="#69cd5b" d="M861 407h0m19 5h0m2-2h0m9 2h0m72 32h0m23 6h0m30 8h0m-110 7h0m166 18h0m-93 18h0m128 0h0m4-3h0m-186 12h0m217 7h0m-278 12h0m308 8h0m-258 13h0m5 5h0m1 1h0m14-4h0m1-6h0m71 12h0m181-11h0m20 10h0m-339 6h0m1 2h0m25 8h0m33-8h0m293 1h0m-352 16h0m3-8h0m52 13h0m3-5h0m0-3h0m6 3h0m2-8h0m21 6h0m0-2h0m20 6h0m3-6h0m95 3h0m168-6h0m8 6h0m-349 8h0m57 5h0m11-5h0m4 12h0m33-7h0m6-1h0m14 3h0m3 5h0m248-1h0m-400 4h0m56 1h0m65 7h0m28 1h0m30 2h0m239-4h0m-300 9h0m30 4h0m36 4h0m37-4h0m-53 8h0m4 9h0m38-6h0m6 0h0m4 5h0m32 3h0m3-4h0m23 12h0m13 1h0m-45 6h0m24 5h0m40-4h0m19 8h0m1-1h0m41 4h0m-86 3h0m20-1h0m7 11h0m8-5h0m12-4h0m55 11h0m-5 7h0m33 0h0m-87 8h0m37 21h0m4-7h0m28 2h0"/>
<path stroke="#3dbc74" d="M885 402h0m134 45h0m33 19h0m2 1h0m38 17h0m-113 11h0m172 20h0m-219 8h0m230-3h0m-118 15h0m149 3h0m7 1h0m-346 16h0m17 5h0m181 10h0m18-10h0m-138 14h0m329 3h0m5 3h0m-405 11h0m36 10h0m13-5h0m7 4h0m40-10h0m80 8h0m140 3h0m-292 9h0m16 3h0m54-7h0m2-3h0m4 9h0m5-7h0m19 6h0m18-8h0m65 3h0m-120 18h0m40 5h0m32-13h0m21 13h0m-71 2h0m106 5h0m-8 11h0m177 1h0m-230 12h0m24 2h0m44 6h0m7-1h0m10 4h0m14-11h0m5 10h0m5-5h0m16-7h0m12 11h0m28-11h0m-65 20h0m11-1h0m58 5h0m6 27h0m10 2h0m32 0h0m6-2h0m-11 8h0m8 3h0m16-2h0m21 39h0m14 0h0m0 0h0"/>
<path stroke="#481f70" d="M1007 326h0m12 16h0m173 65h0m-192 300h0m-150 70h0m4-6h0m102 17h0m83 5h0"/>
<path stroke="#ece51b" d="M841 431h0m1 0h0m21 6h0m7 16h0m31-1h0m8 3h0m27 1h0m17 10h0m9-1h0m-106 14h0m8 6h0m48-1h0m126 23h0m31 9h0m-190 7h0m118 5h0m136 18h0m19 8h0m34 43h0m42 16h0m-32 8h0m58 20h0m26-11h0m13 30h0"/>
<path stroke="#7ad151" d="M856 411h0m40 3h0m14 8h0m61 23h0m3-2h0m13 5h0m48 20h0m28 15h0m11 3h0m-117 8h0m137 3h0m-103 9h0m-153 31h0m118 2h0m4 5h0m217-2h0m9 3h0m-345 1h0m15 6h0m73 7h0m7 0h0m9-9h0m9-1h0m8 5h0m59-5h0m88-2h0m86 1h0m6 8h0m-351 10h0m6-2h0m17 3h0m39-6h0m7 7h0m2-7h0m12 7h0m69-8h0m8 10h0m35-8h0m32 2h0m-200 10h0m102 13h0m46-2h0m20 1h0m-96 13h0m64-10h0m0 9h0m26 2h0m21-10h0m63 0h0m124 0h0m11 0h0m7 6h0m2-2h0m7 7h0m-282 12h0m104-9h0m41 5h0m14 3h0m133-5h0m-273 10h0m50 6h0m20 1h0m38 4h0m3-5h0m64 0h0m-101 15h0m2-7h0m56 0h0m21 5h0m7-3h0m0 8h0m-67 10h0m47-5h0m48 3h0m8 7h0m4-1h0m17-5h0m-51 13h0m11 3h0m62 5h0m-5 11h0m25-5h0m1-4h0m-48 24h0m5-11h0m3 2h0m25 3h0m2 1h0m41-2h0m-89 10h0m20 10h0m30-4h0m4 4h0m18-8h0m23-1h0m0 13h0m-27 19h0m10 9h0m7 21h0"/>
<path stroke="#443a83" d="M957 334h0m28-12h0m12 25h0m28 1h0m51 26h0m24 1h0m-38 10h0m2 3h0m55-3h0m12 6h0m-30 3h0m1 2h0m41 3h0m6 2h0m6 16h0m9-4h0m-8 11h0m48 14h0m4-1h0m22 20h0m15 13h0m13-8h0m31 29h0m11 12h0m-297 206h0m-31 6h0m-101 25h0m48 3h0m-21 14h0m75 18h0m61-1h0m-102 21h0m109-10h0m18 1h0"/>
<path stroke="#46327e" d="M959 318h0m59 3h0m-9 2h0m31 24h0m10 0h0m0-10h0m3 9h0m-25 6h0m35 1h0m5 4h0m49 29h0m42 29h0m34 13h0m32 2h0m-12 10h0m22-3h0m-10 12h0m2 3h0m24 5h0m3-6h0m-291 259h0m-96 27h0m169-9h0m-135 15h0m7 12h0m4 9h0m-23 9h0m85 5h0m-129 8h0m130 4h0m5 4h0m62-7h0m7 0h0m48 2h0m86-4h0"/>
<path stroke="#481668" d="M852 735h0m22 27h0m54 7h0m-24 5h0m35 2h0m22-1h0m-90 14h0m24 4h0m32 2h0m8-9h0"/>
<path stroke="#2a788e" d="M868 348h0m-11 2h0m96 21h0m89 43h0m26 16h0m55 24h0m60 29h0m9 6h0m-9 3h0m13 1h0m3-1h0m62 46h0m21 13h0m10 10h0m-434 60h0m214 15h0m-234 40h0m7-3h0m24 12h0m8-7h0m59 2h0m33 11h0m24 3h0m5-5h0m3 20h0m12 9h0m61 9h0m-15 9h0m49 1h0m4-3h0m-32 9h0m13 1h0m14 2h0m3 16h0m71 3h0m94 6h0m-67 18h0m21-2h0"/>
<path stroke="#3a538b" d="M876 324h0m14 8h0m61 18h0m14 5h0m47 16h0m23 20h0m3-2h0m12 4h0m61 9h0m26 23h0m-24 9h0m41 11h0m56 17h0m15 16h0m11 18h0m-390 159h0m22 69h0m24-6h0m4 4h0m42-4h0m-8 13h0m-2 16h0m53-4h0m156 1h0m-192 12h0m72 7h0m10-4h0m11-3h0m33 11h0m118-9h0m-38 24h0m-15 5h0m81 1h0"/>
<path stroke="#365c8d" d="M856 330h0m35 6h0m23 5h0m1-5h0m35 25h0m8-6h0m5 10h0m58 18h0m44 26h0m21 10h0m11 9h0m2-5h0m6 4h0m1-5h0m14 3h0m14 12h0m25 19h0m11 5h0m41 23h0m51 33h0m2-3h0m23 8h0m3 4h0m2 5h0m-6 6h0m-375 138h0m29-2h0m73 1h0m-172 21h0m100 6h0m28 24h0m78-6h0m19-4h0m-197 13h0m184 0h0m-154 14h0m117 8h0m1 1h0m8 2h0m44-6h0m3-2h0m2 8h0m5-8h0m30 15h0m2 9h0m11-5h0m-21 6h0m22 0h0m114 12h0m-87 13h0m4-7h0"/>
<path stroke="#1fa187" d="M851 369h0m7 8h0m33 8h0m76 27h0m4 2h0m9 1h0m16 13h0m211 97h0m-265 33h0m296-4h0m-233 11h0m72-1h0m194 5h0m6 3h0m-392 5h0m194 9h0m215 0h0m-385 36h0m-63 12h0m4-4h0m39 4h0m86 9h0m-104 10h0m0-1h0m191 3h0m62-5h0m14-2h0m-259 15h0m121 2h0m9 6h0m36 17h0m44-2h0m17 13h0m52-7h0m-77 8h0m43 1h0m2 5h0m-9 12h0m38 7h0m19 3h0m24 1h0m21 21h0m47 15h0m7 9h0"/>
<path stroke="#33638d" d="M841 332h0m13 8h0m48 3h0m1 5h0m10-6h0m5 5h0m7 2h0m-8 6h0m11-2h0m62 26h0m16 4h0m5 5h0m50 18h0m7 10h0m43 10h0m47 35h0m5-5h0m16 10h0m41 27h0m19 9h0m-5 2h0m38 21h0m9 5h0m11-3h0m-454 164h0m23-3h0m171 5h0m-185 13h0m61 2h0m72 5h0m10 0h0m171-6h0m-259 7h0m19 0h0m49 10h0m105 22h0m18 2h0m109 5h0m-169 3h0m42 3h0m16 3h0m4 7h0m1-9h0m22 5h0m22-6h0m9 1h0m-51 18h0"/>
<path stroke="#482979" d="M949 317h0m37 9h0m32-3h0m9 12h0m95 47h0m47 34h0m26 16h0m25-3h0m9 8h0m16 24h0m7 0h0m-248 265h0m-117 36h0m18 1h0m-45 12h0m43-1h0m16-2h0m11 3h0m14-4h0m-34 18h0m33-1h0m81 1h0"/>
<path stroke="#4ac16d" d="M847 393h0m42 12h0m78 26h0m11 3h0m4 4h0m46 18h0m21 9h0m20 7h0m26 14h0m5 1h0m54 36h0m8-3h0m5 1h0m-110 24h0m139-5h0m-327 13h0m151-4h0m-151 11h0m30 10h0m-47 6h0m1-2h0m73 13h0m-7 13h0m15-10h0m13 9h0m-72 9h0m69 1h0m37-7h0m22 12h0m40-9h0m-79 21h0m29-6h0m27 7h0m-31 5h0m35-1h0m20 2h0m13-1h0m13-1h0m212 6h0m-202 11h0m26 4h0m0 0h0m6 0h0m40 0h0m-87 6h0m40 13h0m29-13h0m35 11h0m-40 7h0m67 7h0m-40 3h0m14 2h0m54 6h0m7 12h0m18 3h0m-2 16h0m-9 23h0"/>
<path stroke="#28ae80" d="M839 379h0m1 6h0m40 4h0m29 7h0m10 4h0m18 3h0m54 27h0m17 5h0m24 11h0m29 10h0m41 21h0m17 11h0m-1 3h0m7 3h0m3-4h0m12 10h0m42 19h0m23 19h0m0-2h0m65 36h0m-195 13h0m198-7h0m-425 22h0m13 0h0m29-8h0m185 4h0m-205 18h0m55-11h0m28 9h0m19 3h0m20-4h0m-105 18h0m16-13h0m-14 17h0m67-1h0m12 1h0m-118 13h0m124 1h0m40 10h0m-12 1h0m26 0h0m42 12h0m12-11h0m117 2h0m-97 22h0m2 2h0m22-8h0m1 4h0m-20 13h0m11-6h0m46-1h0m102 3h0m-89 18h0m0 3h0m13-2h0m-22 16h0m23 5h0m42 4h0m7 5h0m-8 5h0m33 8h0m21 10h0m4 9h0m6 16h0"/>
<path stroke="#5ac864" d="M840 397h0m4-2h0m47 12h0m43 15h0m32 10h0m15 9h0m2 0h0m11 4h0m8 0h0m84 40h0m3 3h0m15 2h0m-244 44h0m30 0h0m283-1h0m-278 23h0m317 0h0m1 0h0m-327 5h0m1 3h0m30-4h0m9 8h0m85 3h0m11 0h0m16 2h0m188-10h0m12 8h0m-356 5h0m29 0h0m73 8h0m118-1h0m-225 6h0m40 4h0m16 4h0m4-5h0m0 6h0m27 2h0m2 1h0m-78 7h0m75 1h0m21 2h0m3 0h0m7-7h0m296 2h0m-350 12h0m22 9h0m10-2h0m49-3h0m0 10h0m17 7h0m7-4h0m0 2h0m25-7h0m25 22h0m19 5h0m28-6h0m49 15h0m1 5h0m13-9h0m12 3h0m20 4h0m-78 11h0m18-4h0m3 6h0m-8 10h0m11-6h0m18 13h0m24-1h0m-29 12h0m36 3h0m-18 20h0m3-3h0m88 1h0"/>
<path stroke="#b2dd2d" d="M890 443h0m8-9h0m7 5h0m3 3h0m-47 7h0m35 0h0m67 14h0m28 4h0m8-2h0m-153 21h0m43-3h0m38-5h0m8-2h0m3 1h0m34 0h0m48-1h0m17 4h0m-197 12h0m21 7h0m11 2h0m26-7h0m23 8h0m33-9h0m118 10h0m-233 5h0m87-1h0m37-3h0m40 3h0m31 6h0m28 1h0m23 1h0m2 1h0m-231 5h0m61 6h0m37-3h0m36 7h0m124-6h0m3 2h0m25 4h0m-302 5h0m54-4h0m32 4h0m20 6h0m105 1h0m64-4h0m9 5h0m12-8h0m3-4h0m11 13h0m8-5h0m0 5h0m-284 5h0m44 8h0m20-10h0m5 7h0m5-5h0m37 2h0m19 3h0m66-6h0m12 2h0m5 8h0m23-3h0m28-1h0m-221 5h0m20 1h0m8 6h0m82 5h0m12-4h0m22-6h0m56 0h0m21 9h0m15-3h0m-141 15h0m47-3h0m11 5h0m23-9h0m15 2h0m52 3h0m27 1h0m23-3h0m9-5h0m-124 17h0m49 8h0m89-11h0m2 7h0m5 0h0m2-5h0m-130 25h0m42-6h0m14 4h0m85-10h0m2 1h0m3 4h0m1 4h0m7-4h0m0 5h0m10 1h0m-130 8h0m30-5h0m9 5h0m17-2h0m10 9h0m3-9h0m67 6h0m6-6h0m-118 10h0m5 0h0m16 0h0m18 6h0m2-4h0m77 1h0m-92 25h0m77 5h0m11 4h0m3-7h0m-95 17h0m64 7h0m42-2h0m-47 4h0m4 2h0m25 5h0m1-3h0m18-1h0"/>
<path stroke="#228d8d" d="M855 366h0m178 59h0m38 23h0m50 26h0m31 12h0m53 27h0m2 1h0m15 15h0m56 29h0m-272 62h0m-167 31h0m25-6h0m29 1h0m11 11h0m73 15h0m9 9h0m28 0h0m-28 5h0m18 7h0m5 2h0m7-1h0m18-6h0m8 8h0m-8 10h0m14-2h0m26-3h0m-27 13h0m35 6h0m7-3h0m19 8h0m67-4h0m-18 27h0m43 18h0m96 24h0"/>
<path stroke="#22a884" d="M844 375h0m0-3h0m7 7h0m24 4h0m5 5h0m19 6h0m8 4h0m48 15h0m2-3h0m55 27h0m45 20h0m20 9h0m15 5h0m-97 30h0m159 7h0m11 0h0m43 18h0m-357 25h0m94 4h0m-105 17h0m97-9h0m-93 14h0m240-3h0m196 7h0m-355 16h0m122-4h0m256 5h0m-449 5h0m12 4h0m-22 20h0m1-9h0m14 1h0m5 0h0m6 5h0m42 2h0m4 11h0m19 0h0m19 3h0m9-5h0m236 5h0m-284 7h0m89 20h0m16-1h0m78 5h0m107-5h0m-172 13h0m15 1h0m25-6h0m36 7h0m196 2h0m-173 10h0m70-3h0m2-3h0m-86 20h0m42 1h0m13 4h0m34-2h0m-87 10h0m39-3h0m3 2h0m23-1h0m-5 15h0m26 3h0m29 7h0m5 18h0m7 8h0m40 19h0"/>
<path stroke="#24868e" d="M915 375h0m52 10h0m-11 12h0m64 17h0m6 3h0m7 6h0m18 1h0m1 6h0m7 2h0m15 14h0m47 17h0m58 34h0m11 6h0m8 4h0m9 4h0m16 13h0m18 9h0m1 3h0m21 10h0m-301 19h0m-123 68h0m163 1h0m-17 20h0m-135 10h0m92 0h0m0 2h0m1-3h0m-42 10h0m94 8h0m-79 7h0m33 10h0m97 4h0m21 2h0m157 4h0m-103 13h0m85-1h0m-84 15h0m9 9h0m37 1h0m-4 14h0m21 1h0m8 7h0m24 8h0m18 1h0"/>
<path stroke="#20938c" d="M845 362h0m1 3h0m26 5h0m11 9h0m47 5h0m73 37h0m32 5h0m8 4h0m8 5h0m16 13h0m75 40h0m52 26h0m-278 45h0m35-10h0m323 22h0m-202 14h0m223-4h0m4 2h0m-401 46h0m-58 13h0m286-4h0m-278 18h0m53-6h0m8 11h0m51 10h0m38 12h0m9-5h0m24 6h0m20-8h0m28 1h0m-39 22h0m45 2h0m19 12h0m72-10h0m-85 14h0m126-2h0m-110 14h0m22 2h0m106 38h0m12 4h0m46 18h0"/>
<path stroke="#1f9a8a" d="M911 392h0m70 17h0m28 15h0m24 10h0m3 0h0m21 13h0m28 5h0m18 19h0m0-1h0m-208 32h0m274 4h0m5 0h0m23 15h0m8 4h0m7 4h0m36 22h0m45 32h0m-416 32h0m169-3h0m-204 15h0m5-2h0m-8 15h0m320-7h0m-277 12h0m28 6h0m37 5h0m11-5h0m29 2h0m-47 15h0m13-5h0m17 8h0m3-13h0m19 10h0m18-8h0m16 10h0m35-1h0m-78 14h0m22 1h0m24 1h0m3-12h0m4 11h0m12-2h0m5 2h0m22-4h0m-9 18h0m1-5h0m150 4h0m1-9h0m-135 19h0m11 4h0m46-6h0m78 4h0m-91 10h0m13 2h0m3 5h0m9-6h0m29 2h0m-38 12h0m37 3h0m6 3h0m-24 2h0m111 33h0m7 19h0m6 2h0m2-1h0m5-5h0"/>
<path stroke="#414487" d="M907 317h0m26 8h0m19 7h0m2-1h0m-10 6h0m10 1h0m19 16h0m87 5h0m-37 8h0m22 0h0m21 15h0m47 21h0m9 12h0m17 1h0m10 7h0m10 12h0m13 5h0m58 29h0m48 28h0m-415 227h0m84 2h0m52-1h0m-85 13h0m94-2h0m-126 6h0m16 11h0m66-6h0m0-1h0m15 7h0m11 0h0m13-1h0m-96 13h0m44 1h0m3 2h0m-57 7h0m93 7h0m16-7h0m11 5h0m3-9h0m8 3h0m37 4h0m2 3h0m58-9h0m-202 18h0m154 3h0"/>
<path stroke="#306a8e" d="M852 336h0m10 4h0m16 1h0m81 27h0m16 13h0m24 5h0m12 9h0m40 7h0m55 30h0m12 11h0m31 21h0m26 8h0m6 9h0m8 5h0m17 9h0m-360 191h0m8 11h0m23-3h0m31 3h0m204-9h0m-236 14h0m131-2h0m-84 19h0m46 4h0m26 14h0m16-7h0m67 8h0m-10 7h0m25 4h0m-1 11h0m25 7h0m2-8h0m25-1h0m14 6h0m18 18h0m-39 5h0m59 4h0"/>
<path stroke="#277f8e" d="M846 350h0m48 19h0m8-1h0m36 14h0m22 0h0m13 11h0m30 11h0m1 0h0m26 8h0m88 50h0m24 13h0m20 10h0m19 4h0m33 23h0m1-2h0m7 6h0m36 25h0m33 12h0m-402 117h0m221 7h0m-250 9h0m34 1h0m66 1h0m13 0h0m22 4h0m13 4h0m86 31h0m7-6h0m7 19h0m75-7h0m-72 10h0m82 14h0m20 12h0m-5 9h0m20-4h0"/>
<path stroke="#dae319" d="M862 430h0m-23 4h0m1 7h0m38 1h0m3-2h0m-42 21h0m35-13h0m17 5h0m1 1h0m9 6h0m10-8h0m10 0h0m16 8h0m7 1h0m0 0h0m-71 9h0m17 5h0m49-13h0m8 0h0m15 4h0m-73 14h0m53 1h0m48-5h0m14 1h0m-74 15h0m87-2h0m18 11h0m1-3h0m3-2h0m7 1h0m-105 9h0m125 8h0m8 1h0m-111 15h0m13-1h0m65-10h0m12 0h0m12 7h0m27-2h0m-191 17h0m21-4h0m3 7h0m98-12h0m31 9h0m2-2h0m36 5h0m-16 13h0m23-3h0m15 5h0m4-1h0m40-1h0m1 2h0m-43 5h0m37 9h0m2-5h0m2 2h0m11-4h0m-24 17h0m15 4h0m16-9h0m47 5h0m-100 6h0m31 8h0m31-1h0m-39 6h0m16 5h0m15 4h0m15-3h0m8 7h0m36-1h0m8-4h0m-92 14h0m74-3h0m29 2h0m-84 19h0m42-7h0m47-4h0m2 4h0m5 1h0m-22 12h0m-26 13h0m39 3h0m14 4h0m32 12h0"/>
<path stroke="#fde725" d="M882 448h0m36 12h0m-16 2h0m60 12h0m-117 4h0m94-1h0m40 7h0m3-6h0m12 16h0m34 6h0m59 38h0m17 6h0m-25 6h0m32-2h0m58 21h0m-7 10h0m13 2h0m21 13h0m23 3h0m21 13h0"/>
<path stroke="#3e4c8a" d="M866 318h0m14 0h0m45 2h0m-39 3h0m24 4h0m18 2h0m-25 14h0m51 5h0m10 4h0m24 7h0m3 1h0m15 3h0m16 0h0m-20 8h0m47 2h0m-17 13h0m15-5h0m28 14h0m19 10h0m4-10h0m7 14h0m26 20h0m11-9h0m21 3h0m35 32h0m54 40h0m31 21h0m3-7h0m2 12h0m11 14h0m-368 119h0m-79 67h0m17-4h0m34 8h0m149 10h0m97-5h0m-216 22h0m5-10h0m6 10h0m118-3h0m-138 8h0m179 15h0m4-2h0m20 10h0m-205 12h0m216-3h0m51 3h0"/>
<path stroke="#8ed645" d="M838 405h0m59 29h0m40 4h0m32 18h0m23 1h0m25 7h0m6 2h0m0-2h0m-113 17h0m111-3h0m16 0h0m10 1h0m-199 12h0m250 12h0m-219 1h0m20 9h0m36-2h0m178 0h0m-230 14h0m69 5h0m14 0h0m10-11h0m50 7h0m-150 19h0m55-9h0m21 6h0m-52 10h0m30-3h0m22 1h0m10 4h0m14-2h0m90 0h0m-221 14h0m3 7h0m49-9h0m83 7h0m1-9h0m17 11h0m2-7h0m63 0h0m6 4h0m54 3h0m86-6h0m6 2h0m-284 6h0m40 4h0m11 4h0m10 4h0m47-2h0m200-4h0m-263 11h0m109 3h0m31-5h0m59 10h0m-186 4h0m29 2h0m26 4h0m69-2h0m62 2h0m104-3h0m-138 11h0m5 4h0m28-4h0m-179 13h0m133 7h0m12 0h0m9 4h0m10-10h0m15 9h0m26-9h0m1 2h0m-38 10h0m16 1h0m26 30h0m23 6h0m3 3h0m13-12h0m-32 17h0m29 8h0m9 15h0m47-2h0m0 8h0m-22 12h0m23 3h0m7 0h0"/>
<path stroke="#2c718e" d="M865 349h0m74 17h0m28 12h0m13 12h0m2-5h0m21 9h0m21 6h0m7 2h0m41 17h0m3 8h0m7 6h0m4-7h0m37 27h0m20 5h0m32 16h0m35 21h0m3 4h0m6 2h0m10 9h0m4 2h0m62 37h0m-446 81h0m-2 42h0m9 12h0m149-12h0m4 9h0m-101 11h0m56 0h0m23-2h0m92 23h0m-68 6h0m49 16h0m22-1h0m38 7h0m6 0h0m-56 2h0m87 17h0m58 6h0m-48 17h0m13-7h0m10 21h0m38-1h0"/>
<path stroke="#ece51b" d="M865 432h0m-25 9h0m6 18h0m33-5h0m39-1h0m-23 10h0m24 1h0m-35 20h0m72-3h0m18-5h0m38 11h0m-113 11h0m38 4h0m29-5h0m25 5h0m96 12h0m-103 8h0m94 0h0m10 28h0m0 5h0m-83 17h0m73-12h0m9 11h0m12 0h0m71-3h0m-17 12h0m27 6h0m7 27h0m40-2h0m8-6h0m-17 22h0m27-7h0m-62 18h0m44-5h0m57 5h0m-8 11h0m13-5h0m-26 15h0m33 6h0"/>
<path stroke="#2c718e" d="M845 335h0m41 17h0m16 5h0m15 7h0m37 8h0m9 1h0m6 0h0m27 9h0m3 7h0m28 12h0m39 16h0m17 6h0m4 0h0m17 22h0m47 12h0m-10 5h0m49 17h0m25 26h0m15 10h0m26 12h0m2 3h0m10 9h0m-353 80h0m-53 51h0m47 12h0m32 1h0m-62 16h0m76-1h0m41-9h0m-128 23h0m65-12h0m66 10h0m44 3h0m-76 1h0m47 0h0m11 2h0m36 22h0m71 3h0m79 55h0m22-9h0m2 4h0m21 3h0"/>
<path stroke="#277f8e" d="M851 349h0m24 9h0m39 14h0m55 13h0m43 22h0m22 3h0m2 5h0m18 10h0m28 16h0m48 20h0m37 19h0m34 18h0m26 21h0m26 20h0m22 11h0m-331 37h0m-36 28h0m-9 16h0m-50 40h0m14-4h0m28-5h0m151 7h0m38-3h0m-193 18h0m25-3h0m30-6h0m140 10h0m-205 3h0m40 3h0m24-4h0m91 5h0m-33 12h0m20 0h0m2 2h0m8 4h0m16-1h0m-2 8h0m1-2h0m27 10h0m60 21h0m59 9h0m24 18h0m3 15h0m6 0h0m10 8h0"/>
<path stroke="#306a8e" d="M862 339h0m28 0h0m17 16h0m18 4h0m0-1h0m26 9h0m27 13h0m16 6h0m37 17h0m11 1h0m24 13h0m38 16h0m7 3h0m18 10h0m1-8h0m39 33h0m42 21h0m35 24h0m26 14h0m10 5h0m-264 127h0m-179 19h0m41 1h0m8-10h0m16 6h0m103 4h0m6 2h0m-173 16h0m72 5h0m53-1h0m4 7h0m17-5h0m12 7h0m14 0h0m24-5h0m-28 13h0m17 3h0m-62 4h0m54 0h0m23 8h0m-4 6h0m78 5h0m25 7h0m-61 12h0m36-6h0m160 1h0m-144 11h0m20 4h0"/>
<path stroke="#4ac16d" d="M854 401h0m6-3h0m15 0h0m5 9h0m89 26h0m67 22h0m27 16h0m-163 14h0m242 27h0m8 2h0m-292 7h0m212 7h0m-210 38h0m93-3h0m-106 21h0m37-8h0m7 7h0m24-6h0m-63 11h0m31 3h0m25 1h0m8 4h0m3-2h0m27-4h0m7 5h0m18-3h0m7 3h0m42-6h0m54 2h0m201 1h0m13 6h0m-407 7h0m16-3h0m16 8h0m12 4h0m38-5h0m35 6h0m114-1h0m-127 2h0m27 10h0m4-2h0m15-3h0m4 5h0m91-7h0m94 5h0m-252 9h0m110 8h0m14-7h0m45 9h0m-85 2h0m35 5h0m21 3h0m81 3h0m-116 10h0m15-2h0m37-6h0m25 8h0m-12 12h0m22-5h0m-1 13h0m73 12h0m-38 12h0m18-8h0m34 11h0m2-2h0m47-7h0m-121 17h0m9 4h0m40-11h0m17 9h0m10 12h0m2 0h0m8 6h0m3-7h0m1 7h0m10-6h0m6 4h0m8 22h0m3 3h0m-4 13h0"/>
<path stroke="#28ae80" d="M864 389h0m31 5h0m23 11h0m10 3h0m28 10h0m7 2h0m134 54h0m-258 32h0m52 5h0m297 14h0m19 12h0m-70 35h0m120-2h0m-375 8h0m-25 14h0m10 9h0m8-2h0m250-3h0m-261 19h0m33-4h0m4-7h0m274 5h0m-293 9h0m23 5h0m30 4h0m49-6h0m22-3h0m43 9h0m77-9h0m-213 15h0m20 0h0m30 8h0m18 1h0m-6 6h0m27 7h0m15-5h0m94 3h0m27 3h0m-189 11h0m55-6h0m5 6h0m68 2h0m-40 7h0m5 0h0m236 1h0m-135 23h0m23 8h0m19 1h0m-34 17h0m20-10h0m26 6h0m15 6h0m24 6h0m12 21h0m20 0h0m7 0h0m-6 9h0m10 3h0"/>
<path stroke="#8ed645" d="M862 407h0m31 16h0m96 38h0m38 7h0m-173 15h0m52 4h0m4 1h0m-5 5h0m24-3h0m140 1h0m17 8h0m-215 5h0m29 5h0m31 2h0m19 0h0m21 0h0m157 6h0m-273 5h0m1 4h0m105 4h0m47-5h0m8 4h0m-150 5h0m13 7h0m92 4h0m6-5h0m23-3h0m85 6h0m54-11h0m-282 15h0m26 4h0m0-5h0m70 1h0m8 6h0m0 2h0m12 4h0m38-8h0m38-1h0m4 9h0m14-1h0m126-2h0m-278 5h0m19 1h0m85 0h0m22 9h0m12-11h0m46 2h0m65 4h0m50 0h0m-351 11h0m71 3h0m57 7h0m24-3h0m6-5h0m5 0h0m19 3h0m12-1h0m69 2h0m108-8h0m-121 20h0m131-5h0m-254 12h0m67 5h0m41-1h0m46 8h0m18 0h0m-80 3h0m12 10h0m9-10h0m19 6h0m12 4h0m15-9h0m-74 16h0m54-4h0m18 7h0m45-2h0m10 0h0m-62 14h0m18 5h0m46 2h0m-25 8h0m53-6h0m18 8h0m15 5h0m19-1h0m-31 14h0m10-4h0m21 4h0m19-6h0m-52 18h0m21-8h0m4 11h0m-1 12h0m27 14h0"/>
<path stroke="#1f9a8a" d="M860 371h0m16 9h0m13 5h0m32 6h0m-18 1h0m32 0h0m32 13h0m78 39h0m-103 95h0m-5 8h0m304 2h0m-289 45h0m-61 26h0m32 4h0m-53 17h0m29-10h0m7 22h0m3 0h0m63-5h0m-74 10h0m26 2h0m13 1h0m119 8h0m-34 17h0m109 13h0m-23 8h0m1 1h0m18-4h0m11 0h0m-34 11h0m35 2h0m31 7h0m-1 6h0m45 11h0m-49 6h0m48 2h0m18-2h0m1 18h0m17 0h0m-6 10h0m18 0h0m13-1h0"/>
<path stroke="#46327e" d="M983 331h0m1-3h0m51-4h0m39 49h0m39 5h0m20 10h0m-21 4h0m58 18h0m14 22h0m32-9h0m-14 15h0m3 2h0m8-1h0m30 17h0m1-5h0m32 30h0m6-4h0m5 7h0m-269 222h0m-150 11h0m36 18h0m-16 14h0m-43 16h0m236-8h0m-183 25h0m120 1h0m74 0h0m-125 8h0m59-7h0m11 2h0"/>
<path stroke="#69cd5b" d="M871 401h0m46 19h0m26 4h0m15 11h0m76 32h0m7-3h0m16 16h0m12-2h0m-215 36h0m17 17h0m275-11h0m-299 18h0m7 6h0m19-3h0m11-4h0m73 5h0m-105 10h0m70 0h0m8 2h0m68 2h0m204-2h0m-304 8h0m38 3h0m0 8h0m13-7h0m13 6h0m203 0h0m-301 7h0m6 4h0m7-8h0m4 7h0m11 5h0m1-6h0m56 1h0m5-4h0m34 3h0m3 6h0m266 0h0m-325 7h0m42-6h0m5 11h0m54-1h0m39 1h0m-98 9h0m12 2h0m39-4h0m50 5h0m9-7h0m199 2h0m-314 17h0m54 1h0m30-3h0m137-1h0m-151 11h0m42 11h0m17-2h0m10-4h0m33 0h0m10 1h0m-37 15h0m19-6h0m1 8h0m21-6h0m12 9h0m54-4h0m69 3h0m-146 15h0m36-5h0m-17 12h0m23-2h0m15 10h0m17 12h0m2-8h0m8-3h0m-37 19h0m57 7h0m21-1h0m-25 14h0m8-9h0m24 7h0m5-1h0m3 3h0m-20 4h0m24 10h0m15-7h0"/>
<path stroke="#443a83" d="M987 338h0m50 14h0m3 6h0m24 0h0m-9 26h0m92 23h0m42 12h0m-8 10h0m18 0h0m34 36h0m4 0h0m4 6h0m25 0h0m35 21h0m-415 237h0m-31 24h0m37 0h0m52-6h0m67-1h0m22 0h0m-48 19h0m5-7h0m-124 12h0m128 3h0m10 1h0m5 5h0m15-5h0m4-3h0m3 9h0m8-5h0m-134 10h0m2 8h0m38-1h0m55-3h0m98-4h0m22 9h0"/>
<path stroke="#5ac864" d="M865 398h0m9 6h0m18 8h0m7 0h0m3 0h0m41 11h0m17 10h0m5-3h0m62 26h0m10 4h0m-6 4h0m10 1h0m24 8h0m-96 30h0m144-10h0m1 3h0m1 6h0m45 21h0m-302 16h0m23 6h0m136-9h0m-165 26h0m47 0h0m7 9h0m2-5h0m325-2h0m-309 21h0m5-8h0m9-2h0m31 8h0m283-4h0m-386 22h0m141-10h0m52 10h0m210-13h0m-413 15h0m28 7h0m71 3h0m36 1h0m15 0h0m7-12h0m7 12h0m18-8h0m18 9h0m24-7h0m122 6h0m-182 3h0m29 3h0m90 9h0m105-2h0m-182 12h0m34 0h0m6 9h0m54 9h0m-39 15h0m83 8h0m8 5h0m-16 13h0m14-10h0m-13 23h0m2-5h0m70 7h0m-5 14h0m9 0h0m18-4h0m-9 6h0m4 6h0m13 20h0"/>
<path stroke="#481668" d="M875 722h0m-34 9h0m1 4h0m62-4h0m-61 19h0m-1 10h0m191 8h0m25-8h0m-173 20h0m12-9h0m4 8h0m31-7h0m37 10h0m29-11h0m3 11h0m-123 12h0m35-8h0m14 6h0m246 3h0"/>
<path stroke="#32b67a" d="M860 385h0m5 9h0m4 1h0m18 1h0m69 23h0m95 41h0m17 8h0m-107 21h0m153 2h0m-245 33h0m112-5h0m34 26h0m-87 1h0m123 1h0m175 4h0m-368 20h0m143-4h0m-139 11h0m17 8h0m55-12h0m323 1h0m-371 20h0m11 3h0m55-1h0m-89 14h0m76-9h0m52 11h0m-102 12h0m6 1h0m1 0h0m1-7h0m2 10h0m14-1h0m1 1h0m6-11h0m23 3h0m207-3h0m-192 15h0m53-2h0m82 24h0m-53 6h0m36 1h0m12 9h0m13-7h0m26 1h0m4-3h0m9 5h0m148-1h0m-192 13h0m20 3h0m57 8h0m34-3h0m-43 17h0m16 5h0m35-8h0m-38 15h0m34 6h0m15 1h0m24-1h0m-42 8h0m95-2h0m-70 19h0m66 12h0m-11 20h0m3 9h0"/>
<path stroke="#7ad151" d="M848 408h0m30 10h0m11-5h0m109 41h0m17 8h0m-91 23h0m151 0h0m-180 8h0m201 3h0m7 3h0m-180 9h0m202 1h0m1 1h0m-284 21h0m34-1h0m95-4h0m178-6h0m6 9h0m-301 13h0m7-7h0m16 10h0m20-8h0m73-4h0m-126 26h0m17-11h0m55 11h0m16-13h0m6 9h0m17 1h0m3-3h0m95 2h0m134-8h0m-310 14h0m88 7h0m53-6h0m1 9h0m196-10h0m2 4h0m4-1h0m4 3h0m-311 7h0m90 11h0m7-1h0m56 2h0m28-2h0m63-9h0m82 1h0m-341 14h0m78 11h0m47-12h0m51 1h0m13 6h0m-94 8h0m39 6h0m59-2h0m23 0h0m12 7h0m9-10h0m148 2h0m-202 18h0m56-4h0m4 8h0m46-8h0m112-2h0m-216 14h0m65-3h0m28 8h0m-48 9h0m7 1h0m24 6h0m18 3h0m2-12h0m23 10h0m-43 11h0m51-2h0m-49 10h0m11 6h0m62 1h0m21 1h0m46-6h0m-117 10h0m28 2h0m23 11h0m16 9h0m0-5h0m17 8h0m24-7h0m-13 20h0"/>
<path stroke="#228d8d" d="M931 388h0m15 9h0m39 12h0m34 2h0m19 16h0m4 2h0m1 7h0m44 11h0m33 21h0m9 4h0m51 28h0m10 10h0m3 2h0m15 7h0m34 17h0m-353 67h0m21 13h0m95 10h0m-153 9h0m148-3h0m-145 18h0m270 6h0m-264 12h0m32-4h0m11-3h0m39-3h0m30 26h0m13-4h0m8 7h0m23 5h0m109 6h0m-76 3h0m62 9h0m0 1h0m-15 13h0m26-2h0m11 2h0m-5 13h0m46 1h0m-25 13h0m1-5h0m14 3h0m31-6h0m5 9h0m-12 13h0"/>
<path stroke="#dae319" d="M877 431h0m1 10h0m-3 8h0m7 10h0m18-2h0m-11 7h0m28 7h0m31 1h0m3-4h0m20 3h0m-80 18h0m100-10h0m16-1h0m9 9h0m-111 11h0m20 4h0m34-11h0m31 1h0m41 7h0m2-1h0m7-5h0m13 7h0m-102 10h0m61-3h0m20 3h0m37 1h0m7-1h0m-52 21h0m52-4h0m24-1h0m-117 11h0m8 6h0m16-5h0m12 6h0m8-9h0m67 0h0m5 7h0m3-5h0m18 1h0m2-6h0m6 11h0m-71 5h0m9-1h0m83 11h0m-88 6h0m14-1h0m33 1h0m48 8h0m23-1h0m10 2h0m-28 11h0m1 0h0m50 3h0m-116 1h0m59 13h0m6-9h0m24-3h0m43 4h0m-55 20h0m5-7h0m20 2h0m15-5h0m-8 16h0m72 10h0m19 5h0m-14 20h0m1 38h0"/>
<path stroke="#a0da39" d="M856 416h0m9 2h0m4 2h0m1 4h0m6-4h0m67 26h0m2-2h0m16 14h0m-103 14h0m145-8h0m13 9h0m-168 13h0m14-9h0m181 7h0m13 4h0m-197 10h0m49 0h0m38-5h0m21 6h0m35 0h0m74-3h0m-210 8h0m6 1h0m0 4h0m0-3h0m0-1h0m83 8h0m48-2h0m16-1h0m9 0h0m-188 16h0m50-4h0m58 1h0m0 3h0m33-5h0m42 9h0m34-1h0m14-1h0m44-1h0m14 1h0m1-7h0m-167 14h0m1 8h0m90 1h0m0-6h0m-84 19h0m9-2h0m14 2h0m27 0h0m46-3h0m2 0h0m22 4h0m25-7h0m24 6h0m33-4h0m5-1h0m-234 10h0m100 6h0m24 5h0m27 0h0m24-4h0m83 2h0m4 0h0m-292 9h0m130 3h0m5-6h0m5 9h0m33-6h0m34 5h0m55-1h0m56-5h0m1 4h0m-152 7h0m5 10h0m12 0h0m154-6h0m-174 8h0m2 1h0m63 12h0m4-13h0m5 4h0m27 8h0m20-7h0m72-3h0m-120 17h0m12-3h0m32 2h0m13 0h0m24 4h0m-84 19h0m56-8h0m37 6h0m58-10h0m-100 22h0m7-7h0m31 4h0m-43 20h0m12-3h0m48 12h0m0-3h0m-47 14h0m16-2h0m23 5h0m2 16h0"/>
<path stroke="#3dbc74" d="M852 389h0m1 2h0m2-2h0m2 5h0m18 0h0m26 13h0m40 8h0m6 4h0m-3 1h0m9 2h0m16 8h0m22 7h0m7 1h0m16 3h0m8 11h0m2 0h0m10 3h0m8 4h0m33 11h0m-4 7h0m14 3h0m62 32h0m48 21h0m-285 20h0m310 2h0m-370 17h0m225-4h0m163-7h0m5 1h0m1 5h0m-397 12h0m180-2h0m-181 12h0m4 2h0m2 1h0m19-2h0m19 1h0m383 0h0m7 5h0m9-2h0m-428 18h0m3 1h0m100-9h0m184 9h0m-242 7h0m3-1h0m56 3h0m12 7h0m130-4h0m64 4h0m40-3h0m-265 7h0m13 7h0m24 4h0m274 13h0m-159 9h0m17 0h0m-19 9h0m19 4h0m2-7h0m10 2h0m2 8h0m36-6h0m18 7h0m-23 12h0m1 0h0m37-6h0m9 4h0m90-5h0m-158 12h0m33 8h0m20 5h0m12-13h0m9 5h0m10 3h0m19 4h0m-60 3h0m24 12h0m69 7h0m29 20h0m-50 8h0"/>
<path stroke="#24868e" d="M840 351h0m18 6h0m177 61h0m7 1h0m12 11h0m49 19h0m24 16h0m7 3h0m22 14h0m46 30h0m32 21h0m-345 41h0m-25 64h0m39-2h0m-48 17h0m29-2h0m-41 9h0m32 2h0m20-4h0m43 11h0m41-4h0m-89 7h0m6 5h0m21-4h0m3 3h0m13 0h0m9-3h0m15 2h0m-28 14h0m17 3h0m6-5h0m94 5h0m-45 12h0m33 3h0m14 3h0m20-9h0m138 0h0m58 22h0m-176 8h0m10 2h0m22 5h0m172 27h0m-91 6h0m23 12h0m38 11h0m6-2h0m16-3h0"/>
<path stroke="#414487" d="M896 319h0m8 10h0m29-4h0m13 5h0m13 0h0m45 21h0m33 23h0m44 3h0m-39 8h0m29 4h0m43 2h0m-20 8h0m29-1h0m-2 15h0m1 3h0m1-1h0m53 24h0m4 1h0m18 6h0m-4 5h0m2 3h0m19 7h0m19 6h0m28 15h0m8 8h0m-332 168h0m17 5h0m154 47h0m-201 32h0m68 8h0m-26 9h0m0 6h0m39-5h0m37-3h0m34 6h0"/>
<path stroke="#1fa187" d="M855 377h0m80 21h0m138 63h0m30 16h0m9 0h0m-171 32h0m41 1h0m203 5h0m25 20h0m-276 20h0m118 17h0m12-7h0m45 6h0m167 3h0m13 8h0m-186 6h0m-258 21h0m24 3h0m36 16h0m197 0h0m-225 2h0m7 5h0m36 2h0m45 2h0m-32 9h0m65 15h0m6-5h0m4 12h0m16-3h0m54-4h0m-57 15h0m38 15h0m25 5h0m14-1h0m14-4h0m165 6h0m8-12h0m-171 21h0m10 3h0m24-6h0m9 4h0m106-9h0m-133 22h0m81 26h0m13 0h0m5 7h0m24-9h0m26-3h0m21 3h0m-97 15h0m93 8h0m-42 18h0m43 9h0"/>
<path stroke="#482979" d="M989 321h0m140 63h0m15 8h0m59 21h0m-10 15h0m5 2h0m6-1h0m10 12h0m26-1h0m8 15h0m-164 283h0m-208 27h0m81-3h0m204 2h0m-314 13h0m29-6h0m36 8h0m104 16h0m51 1h0"/>
<path stroke="#481f70" d="M885 723h0m170 16h0m-182 10h0m169 1h0m-164 12h0m27-5h0m-50 26h0m88-6h0m17 16h0"/>
<path stroke="#365c8d" d="M840 324h0m24 9h0m29 2h0m-10 3h0m24 11h0m30-7h0m55 27h0m27 13h0m2 6h0m4 0h0m43 10h0m48 17h0m26 26h0m8-1h0m35 26h0m2 6h0m42 23h0m3 6h0m14 9h0m28 11h0m9 14h0m5 5h0m-407 116h0m-42 26h0m158 2h0m25 12h0m-53 15h0m38 0h0m86 0h0m-203 10h0m35-3h0m14 1h0m12 8h0m45 4h0m26 10h0m0-8h0m38 2h0m-128 7h0m57 0h0m116 7h0m-39 7h0m44 9h0m58-4h0m-35 20h0m58 15h0"/>
<path stroke="#22a884" d="M894 388h0m95 34h0m70 32h0m-212 71h0m34-5h0m36 24h0m302-6h0m4 6h0m14 12h0m22 9h0m2-1h0m5 9h0m14 6h0m-345 36h0m-51 3h0m59 25h0m7-6h0m66 2h0m-99 5h0m17 9h0m47 3h0m12-7h0m5-3h0m105 11h0m-66 5h0m-29 20h0m37-7h0m6 3h0m68 7h0m11 14h0m23-2h0m7-5h0m-84 19h0m14-11h0m6 10h0m38 3h0m0-12h0m-21 13h0m17 5h0m136 7h0m-78 9h0m8 2h0m50 4h0m10 18h0m33 10h0m-48 1h0m55 15h0"/>
<path stroke="#33638d" d="M839 326h0m38 5h0m26 18h0m34 6h0m13 3h0m-2 10h0m16 0h0m53 19h0m3 7h0m48 22h0m5 1h0m71 37h0m82 41h0m41 29h0m21 5h0m6 15h0m-316 125h0m-130 28h0m46-9h0m-48 24h0m126-9h0m-90 16h0m4-1h0m116 23h0m25-10h0m91 35h0m-25 6h0m55 3h0m68 16h0"/>
<path stroke="#2a788e" d="M855 353h0m29 1h0m7 4h0m6 1h0m4 2h0m5 0h0m19 6h0m4 1h0m7 6h0m2 1h0m4-5h0m27 17h0m34 10h0m35 18h0m1-8h0m3 4h0m32 20h0m58 22h0m140 89h0m5 4h0m-431 115h0m58 5h0m32 2h0m-86 6h0m94 5h0m-94 17h0m106-7h0m-36 24h0m48-3h0m6-10h0m154 0h0m-79 20h0m13 0h0m-40 15h0m47-4h0m147 0h0m-69 16h0m21 0h0m-9 13h0m20 1h0m13 10h0m33 20h0m10-6h0m5 11h0"/>
<path stroke="#fde725" d="M868 475h0m65-1h0m11 20h0m78 18h0m16 8h0m35-1h0m49 29h0m67 33h0m86 55h0m22 12h0"/>
<path stroke="#20938c" d="M874 378h0m51 12h0m4-5h0m33 15h0m35 9h0m25 15h0m76 39h0m29 16h0m65 39h0m-344 41h0m431 10h0m-279 8h0m-16 36h0m-79 16h0m-43 2h0m230 6h0m-254 15h0m32-2h0m0 4h0m42 3h0m54-7h0m162-4h0m-171 22h0m-9 6h0m36-1h0m18 7h0m35 5h0m2-1h0m95 8h0m-117 10h0m109 7h0m10-2h0m-26 14h0m11 2h0m9-3h0m86-3h0m-63 22h0m67 15h0m6 10h0m19 4h0m15 12h0m-10 10h0m13-3h0m6 9h0"/>
<path stroke="#c8e020" d="M842 421h0m9 26h0m12-13h0m43 8h0m11 2h0m18 3h0m-73 6h0m3-1h0m53-3h0m10 1h0m31 8h0m3 0h0m8 0h0m-87 16h0m6-3h0m79 2h0m11-10h0m12 7h0m1-4h0m-151 12h0m9 1h0m23-2h0m7 4h0m4 6h0m27-3h0m15-4h0m55 4h0m17-7h0m4 1h0m5 7h0m0-9h0m19 11h0m2-5h0m-183 14h0m17 6h0m42-4h0m5-6h0m5-1h0m29 3h0m2 3h0m44-2h0m22 6h0m53-4h0m-175 10h0m43-3h0m68 4h0m54-3h0m10 5h0m15-2h0m-170 20h0m3-3h0m29 6h0m15-11h0m17 7h0m45 1h0m5-2h0m15 4h0m10-5h0m21 0h0m22-4h0m8 7h0m0-3h0m17-1h0m-121 18h0m5-10h0m40 2h0m81-2h0m15 7h0m-5 18h0m9 2h0m3-2h0m17-5h0m-232 13h0m160 4h0m2 4h0m15-3h0m21-4h0m4 7h0m48-10h0m14-3h0m-142 27h0m15-10h0m29 8h0m54-4h0m26-2h0m32 3h0m2-3h0m-138 12h0m93 0h0m3-2h0m5 1h0m15-2h0m-67 15h0m21 3h0m92 1h0m13 1h0m9-2h0m2 6h0m18 2h0m-71 12h0m13-9h0m17 0h0m56 19h0m6 2h0m3-4h0m-135 13h0m32 5h0m60-6h0m-57 15h0m101 16h0m-25 15h0"/>
<path stroke="#3a538b" d="M855 328h0m4-6h0m70 12h0m-17 12h0m31 2h0m4-4h0m46 14h0m-12 8h0m86 39h0m17-4h0m14 3h0m-2 8h0m51 16h0m-19 6h0m55 25h0m14 12h0m13-7h0m12 12h0m15 14h0m1 5h0m26 16h0m26 13h0m6 9h0m-424 122h0m-22 53h0m16 3h0m23 2h0m37-2h0m57 0h0m-124 11h0m7 4h0m10-7h0m97 6h0m-100 3h0m36 9h0m70-9h0m9 25h0m19 0h0m-48 4h0m74 3h0m1-3h0m73 4h0m12 7h0m-77 6h0m71 6h0m30 1h0m-68 9h0m87-2h0m3 6h0m11-1h0"/>
<path stroke="#3e4c8a" d="M881 319h0m15 1h0m20 7h0m1-1h0m3 7h0m14 7h0m18-1h0m1 9h0m5-12h0m9 20h0m14 6h0m5-11h0m4 6h0m7 0h0m12 1h0m-12 9h0m70 14h0m9 14h0m10 5h0m19 10h0m23 7h0m-2 11h0m17 4h0m10 1h0m5-4h0m1 4h0m-5 1h0m9 18h0m65 12h0m7 17h0m25 12h0m-357 215h0m21 18h0m75-4h0m42-8h0m-192 22h0m1-4h0m43-2h0m14 8h0m89-5h0m-82 9h0m20 2h0m63 5h0m26-6h0m-134 24h0m90 15h0m55-4h0m82-8h0m12 6h0m21 2h0m-1 15h0"/>
<path stroke="#b2dd2d" d="M841 422h0m27 11h0m3-2h0m3-9h0m14 8h0m1-1h0m24 3h0m-72 13h0m27 0h0m38 0h0m11-6h0m5 2h0m24 2h0m-87 5h0m64 5h0m29 3h0m2 2h0m39 3h0m-138 9h0m137-4h0m26 5h0m-166 8h0m74 2h0m31 7h0m16-9h0m20 7h0m27-4h0m11 5h0m2-7h0m6 9h0m-161 11h0m55 3h0m25-3h0m19-7h0m0 0h0m1 6h0m64-8h0m34 10h0m-202 16h0m9-8h0m198-2h0m11 6h0m-215 16h0m130-6h0m11-1h0m22 8h0m7-12h0m40 12h0m19-5h0m-191 17h0m32-2h0m26-7h0m8 1h0m4 1h0m7 3h0m37-4h0m15 11h0m35-7h0m9 4h0m1-8h0m-152 24h0m23 1h0m15-11h0m16 3h0m4 1h0m8 6h0m30-7h0m31 0h0m15-4h0m33 10h0m1-5h0m1-6h0m26 5h0m32 5h0m-179 16h0m3-3h0m64-7h0m1 2h0m8 8h0m21-9h0m4 0h0m1 9h0m9-9h0m85 1h0m-156 20h0m23 3h0m55-10h0m11 10h0m101-10h0m-205 16h0m63 6h0m11-5h0m3 0h0m29-4h0m4 7h0m11 1h0m19-7h0m17-2h0m54 0h0m4 2h0m7 1h0m0 2h0m-166 12h0m18 1h0m15 5h0m46 1h0m0-4h0m115 4h0m-183 3h0m71 3h0m45 3h0m88 7h0m-70 10h0m3-2h0m8 7h0m-25 27h0m22-2h0m26-1h0m6-7h0m-36 21h0m16 3h0m22-5h0m19-7h0m-44 17h0m14 0h0m48 1h0m-34 21h0m1-3h0m11-8h0"/>
<path stroke="#2c718e" d="M866 348h0m9-11h0m12 21h0m50 10h0m7 3h0m30 16h0m22 0h0m14 2h0m7 18h0m36 5h0m22 14h0m53 25h0m0 2h0m20 3h0m12 17h0m19 9h0m8-2h0m54 28h0m28 23h0m10 14h0m18 15h0m-456 116h0m1-3h0m45 11h0m3 5h0m113 8h0m103-11h0m-94 19h0m1-4h0m7 12h0m-85 1h0m111 13h0m1-1h0m29-6h0m130 17h0m-47 10h0m6 5h0m-15 8h0m-19 13h0m56-3h0"/>
<path stroke="#24868e" d="M889 366h0m19 6h0m71 29h0m59 10h0m-3 11h0m54 25h0m76 37h0m38 21h0m53 35h0m4 8h0m9 4h0m5-2h0m23 15h0m-381 73h0m-71 17h0m59-10h0m-19 17h0m7 8h0m20 0h0m8-11h0m21 11h0m64-2h0m-145 5h0m81 5h0m49 7h0m31-7h0m24 0h0m-51 8h0m-75 23h0m130-2h0m40 4h0m9 14h0m1-4h0m84-1h0m-86 9h0m34 11h0m17-12h0m-6 25h0m54 9h0m22-6h0m25 12h0m-67 11h0m25-3h0m4 1h0m7-2h0m22 8h0m-9 1h0m38 2h0"/>
<path stroke="#7ad151" d="M874 414h0m67 18h0m12 3h0m32 12h0m36 15h0m21 9h0m-188 13h0m200-5h0m15 2h0m-175 18h0m190-8h0m15 9h0m-199 13h0m13 4h0m203-11h0m-277 25h0m7-13h0m46 1h0m86 11h0m178 1h0m-305 13h0m8 1h0m39-12h0m34 4h0m51-3h0m198 6h0m-281 17h0m3-8h0m154 4h0m13 6h0m139 0h0m-351 1h0m38 12h0m31-8h0m41 7h0m33-4h0m38 2h0m54-7h0m56 3h0m-275 13h0m29 0h0m34 5h0m14-6h0m11 5h0m60-6h0m8 5h0m29-1h0m19-2h0m32 4h0m127-5h0m6 3h0m-262 16h0m55-8h0m32 4h0m33 1h0m51 4h0m36-1h0m74-4h0m-268 22h0m43-1h0m36-6h0m15-2h0m14 6h0m0-3h0m101 4h0m-70 14h0m-81 9h0m18-3h0m40 5h0m19-4h0m32 3h0m53 2h0m-120 7h0m65 8h0m64-8h0m6 7h0m-65 11h0m78 8h0m-72 14h0m14-11h0m1 4h0m12-4h0m26 0h0m5 2h0m5-1h0m14 7h0m-47 9h0m27-3h0m13 2h0m10 3h0m26-5h0m11 7h0m-41 6h0m50 3h0m5 11h0m3-1h0"/>
<path stroke="#46327e" d="M980 318h0m-7 7h0m58 11h0m17 1h0m3 2h0m21 32h0m76 34h0m19-3h0m16 5h0m5 7h0m1-2h0m1 1h0m12 19h0m18 10h0m58 49h0m25 8h0m-465 229h0m31 19h0m-28 12h0m8-1h0m5 9h0m31-2h0m127 1h0m-129 16h0m36-7h0m98 3h0m15 5h0m-154 5h0m70-1h0m11-3h0m38 3h0m60 8h0m6-5h0m10-5h0"/>
<path stroke="#2a788e" d="M853 344h0m33 5h0m24 20h0m7-3h0m16 2h0m39 12h0m22 11h0m12-3h0m-20 11h0m34 2h0m1-1h0m5 5h0m32 27h0m21-5h0m9 11h0m7 2h0m16 9h0m29 7h0m-3 8h0m64 31h0m5 7h0m43 26h0m10 10h0m25 12h0m4-1h0m-348 69h0m-81 30h0m6 23h0m3-4h0m73 4h0m-61 13h0m1-2h0m6-7h0m6 5h0m65 1h0m2 1h0m-36 17h0m6-12h0m47 10h0m21-2h0m6 4h0m33-7h0m17 1h0m82-1h0m-148 19h0m13-1h0m11 1h0m40-7h0m80-1h0m-97 14h0m10-3h0m22 11h0m8-9h0m1 2h0m102 2h0m-111 8h0m39 3h0m7 10h0m19-2h0m-98 4h0m5 2h0m90 6h0m1 3h0m27 1h0m25-4h0m-60 14h0m72 8h0m35 23h0m6-6h0m4-3h0"/>
<path stroke="#277f8e" d="M842 353h0m8 3h0m60 15h0m46 15h0m4 4h0m6-2h0m-8 6h0m34 1h0m34 12h0m8 16h0m22 4h0m11 7h0m52 23h0m-2 6h0m17 0h0m98 55h0m5 8h0m20 12h0m19 9h0m5 7h0m5-2h0m-217 101h0m29 17h0m-182 9h0m8-5h0m64 6h0m-102 19h0m38-8h0m18 1h0m26-3h0m57-3h0m-61 23h0m15 3h0m266-3h0m-257 7h0m46 8h0m74 0h0m115 7h0m-92 15h0m6 3h0m-4 7h0m17 6h0m23-5h0m30 1h0m36 15h0m19 22h0"/>
<path stroke="#c8e020" d="M852 422h0m1 4h0m31 5h0m-17 14h0m20-11h0m10 1h0m11 7h0m-41 7h0m47 0h0m16 2h0m5 1h0m30 7h0m-117 4h0m30 3h0m69 7h0m8 2h0m-41 7h0m16 0h0m85 1h0m8-1h0m-129 10h0m52 7h0m22 0h0m-91 16h0m33 1h0m5-12h0m54 9h0m50-4h0m11 0h0m20-5h0m31 10h0m7-9h0m-230 19h0m108 4h0m18-10h0m13 7h0m28-7h0m19 9h0m32-3h0m7 3h0m3-1h0m19 4h0m7-3h0m2-5h0m-264 11h0m40 12h0m63-8h0m-15 9h0m98 0h0m28 1h0m3 3h0m89-1h0m1 6h0m1-5h0m-113 17h0m32-3h0m16-2h0m20 0h0m8 3h0m20 8h0m4-4h0m19-7h0m22 3h0m-4 10h0m17 1h0m8 2h0m15 0h0m-112 16h0m15-2h0m2-3h0m13 3h0m65 9h0m-51 8h0m32-7h0m35 12h0m15-10h0m-32 17h0m54 5h0m2-10h0m23 33h0m2 4h0m5-2h0m-96 13h0m102 3h0m-48 5h0m-17 26h0m32-5h0m14 3h0m15 1h0m-31 11h0"/>
<path stroke="#306a8e" d="M862 331h0m43 13h0m46 27h0m4-2h0m31 12h0m5 11h0m68 19h0m15 7h0m40 18h0m3 12h0m54 15h0m5 16h0m33 19h0m5 0h0m26 23h0m40 18h0m-338 83h0m-67 8h0m134 34h0m-62 19h0m-108 11h0m10-2h0m23 3h0m36 4h0m-70 5h0m51 1h0m7-2h0m107-2h0m-99 23h0m115 7h0m133 4h0m-79 8h0m27 0h0m-7 13h0m46 3h0m12 4h0m4 11h0m7 6h0m21 2h0m102 3h0"/>
<path stroke="#1fa187" d="M938 401h0m86 35h0m20 9h0m14 6h0m27 14h0m13 4h0m31 16h0m24 13h0m9 8h0m36 17h0m31 20h0m0-2h0m8 3h0m0 2h0m39 24h0m20 13h0m0 2h0m-303 4h0m-146 17h0m310 9h0m-292 7h0m5-1h0m54 7h0m142-8h0m31 7h0m89 1h0m-327 15h0m20-5h0m35-8h0m23 8h0m40 3h0m-42 8h0m25-2h0m247 6h0m-202 24h0m60 15h0m16 2h0m24 3h0m-6 11h0m47-2h0m-19 11h0m39 13h0m28 11h0m27-3h0m-29 6h0m37 9h0m22 27h0m5-10h0m11 1h0m4 20h0"/>
<path stroke="#32b67a" d="M855 390h0m43 8h0m30 14h0m3 1h0m2-1h0m13 6h0m36 9h0m21 5h0m7 4h0m20 9h0m22 15h0m1-4h0m1 7h0m21 6h0m-118 40h0m224 15h0m-256 20h0m-31 13h0m68 2h0m256-12h0m-255 22h0m86-7h0m-183 35h0m2-1h0m39 2h0m256-7h0m-303 19h0m58-7h0m23 11h0m357-11h0m7 5h0m-395 17h0m35-2h0m31 4h0m0-5h0m6 7h0m-100 11h0m13-3h0m93-3h0m27 4h0m4 4h0m6-12h0m-61 14h0m54 1h0m15 6h0m14 1h0m15-2h0m-31 12h0m30 8h0m8-5h0m19 5h0m21-12h0m83 2h0m26 6h0m-69 18h0m-55 5h0m73 22h0m-24 5h0m33-2h0m20 18h0m47 4h0m18 16h0m14 24h0m13 4h0m9-4h0m4 8h0"/>
<path stroke="#28ae80" d="M864 379h0m68 30h0m80 28h0m21 9h0m29 10h0m48 29h0m2 4h0m-117 8h0m156 6h0m-259 6h0m51 1h0m-50 21h0m64 21h0m269 0h0m5-1h0m-139 23h0m177 3h0m-332 24h0m365-2h0m-438 14h0m31 1h0m56 1h0m16 0h0m-40 8h0m6-2h0m272 0h0m-298 15h0m39 7h0m20-6h0m60-1h0m2 2h0m8-6h0m-93 15h0m20 2h0m45 8h0m51-3h0m16-3h0m137 0h0m-246 15h0m67-4h0m24 8h0m28-3h0m142-3h0m-159 15h0m51 8h0m46 2h0m63-1h0m-114 14h0m15 3h0m54 20h0m65 13h0m-9 10h0m5-3h0m51 41h0"/>
<path stroke="#3a538b" d="M865 316h0m10 3h0m-2 13h0m48-3h0m31 6h0m-54 4h0m32 7h0m19-5h0m4-2h0m13 22h0m44 12h0m11 3h0m2-5h0m8 3h0m2-2h0m4 8h0m8 0h0m61 19h0m-25 8h0m7 5h0m9-1h0m15 16h0m16 12h0m10 2h0m18 0h0m7 9h0m1-2h0m18 10h0m2-9h0m11 13h0m3 0h0m9 18h0m17 10h0m56 18h0m-436 186h0m45 2h0m-39 24h0m109-2h0m-111 21h0m96-8h0m16 5h0m86 5h0m100-10h0m-250 12h0m98 7h0m1-8h0m59 5h0m11 8h0m-178 3h0m201 24h0m11-5h0m43 5h0m10 1h0m-7 5h0m38 6h0"/>
<path stroke="#1f9a8a" d="M857 376h0m1-2h0m19 1h0m54 19h0m1 2h0m15 7h0m15 2h0m5 9h0m17 0h0m17 8h0m28 5h0m27 14h0m30 17h0m20 12h0m25 11h0m18 6h0m96 61h0m18 14h0m-273 18h0m304 6h0m-408 41h0m36 16h0m282-2h0m-284 9h0m27 13h0m41 4h0m-42 5h0m47 6h0m7 3h0m72-1h0m36 1h0m71-1h0m-133 15h0m25 4h0m5-1h0m24-7h0m-53 17h0m104 19h0m66 26h0m84-11h0m-89 17h0"/>
<path stroke="#414487" d="M934 317h0m20 12h0m9 4h0m3 9h0m12-1h0m15-1h0m4 3h0m26 12h0m21 8h0m-37 3h0m38 2h0m87 36h0m11 6h0m14 4h0m-23 8h0m47 25h0m14-8h0m6 15h0m8 1h0m4 0h0m47 22h0m19 24h0m6-2h0m-306 225h0m-130 12h0m41 12h0m5 7h0m42-3h0m32-7h0m116 8h0m-130 13h0m21-2h0m-86 6h0m143 2h0m14 5h0m4 8h0m101 9h0"/>
<path stroke="#b2dd2d" d="M843 417h0m12-1h0m14 8h0m11-2h0m16 9h0m26 2h0m-33 4h0m16 5h0m1 4h0m8-1h0m7-9h0m6 5h0m16 9h0m27 9h0m-96 15h0m103-10h0m20 0h0m22 8h0m-129 15h0m20 0h0m135-6h0m-181 15h0m32 4h0m111 3h0m45-11h0m9 1h0m-216 17h0m4-1h0m50-3h0m18 11h0m29-10h0m26 8h0m37 0h0m27-11h0m54 7h0m14 1h0m-251 11h0m35 6h0m43-10h0m25 7h0m4-5h0m17 1h0m7 3h0m9-1h0m13-4h0m28 0h0m0 6h0m61 3h0m46 5h0m4-1h0m-253 23h0m36-2h0m14-3h0m32 0h0m13 3h0m15 3h0m4-7h0m99 0h0m63 2h0m1-3h0m15 10h0m-246 13h0m78-12h0m44 4h0m65 1h0m12-2h0m4 8h0m-81 15h0m12-7h0m25 4h0m23-4h0m8-4h0m12 12h0m86-7h0m6 6h0m-134 2h0m46 12h0m96-10h0m5 10h0m7-1h0m-132 6h0m98 7h0m-171 5h0m117 11h0m38-3h0m93-6h0m1 7h0m-129 4h0m18 3h0m91 7h0m5-4h0m6-3h0m-64 14h0m35 6h0m45 2h0m-67 7h0m50-3h0m-14 18h0m19-5h0m-47 17h0m54-1h0m6 23h0"/>
<path stroke="#a0da39" d="M843 424h0m32-2h0m0 1h0m2-1h0m8-1h0m23 11h0m1-3h0m5 12h0m9-3h0m10-4h0m25 23h0m1-5h0m6 6h0m-82 16h0m122-10h0m4 11h0m15-12h0m-176 17h0m37-2h0m15 10h0m32-4h0m1 4h0m93-10h0m6 0h0m4 6h0m13-2h0m14 7h0m-206 4h0m67 10h0m153-4h0m5 0h0m-232 8h0m52 9h0m23-10h0m80 5h0m7 4h0m89-3h0m-253 9h0m29-1h0m26 11h0m28 0h0m2 0h0m23-3h0m24 0h0m58 3h0m26-4h0m46-4h0m13 0h0m1-2h0m-278 11h0m44 5h0m42 7h0m68-3h0m10-3h0m12 1h0m118-7h0m-227 20h0m48-3h0m13 1h0m6-1h0m9 0h0m2 0h0m54 4h0m1-3h0m4 0h0m25 0h0m27 2h0m17-4h0m48 1h0m-204 22h0m12-8h0m1 10h0m8-11h0m23 6h0m1-5h0m20 4h0m26 4h0m39 1h0m45-3h0m58-4h0m-181 12h0m15 3h0m24-3h0m62 6h0m2 4h0m10-1h0m-146 2h0m39 2h0m15 10h0m54-3h0m18-7h0m19 1h0m0 0h0m2 7h0m17 0h0m13 3h0m-98 3h0m43 8h0m20-4h0m18-3h0m50 1h0m3 8h0m63-8h0m19 7h0m-199 8h0m17 1h0m44 3h0m13-2h0m38-3h0m10 8h0m15-5h0m67-3h0m-148 15h0m25 6h0m46-1h0m2-10h0m92 11h0m3-11h0m-166 22h0m56-3h0m3 8h0m9-5h0m31-6h0m9 24h0m27-11h0m3 6h0m2 1h0m19-3h0m-118 18h0m52-3h0m31 1h0m25-3h0m11 8h0m-83 11h0m57-5h0m4 9h0m5-13h0m4 3h0m22 2h0m-44 10h0m3 0h0m20 4h0m9 4h0m-16 11h0m9 0h0m10-4h0m1 5h0m2-4h0"/>
<path stroke="#228d8d" d="M841 364h0m40 5h0m3 2h0m4 3h0m57 20h0m6 1h0m6 4h0m24 7h0m11 3h0m52 26h0m27 7h0m8 2h0m13 9h0m9 5h0m71 31h0m0 6h0m7 7h0m18 7h0m31 21h0m6 4h0m22 10h0m18 14h0m-311 26h0m342-6h0m-410 65h0m22 11h0m-41 5h0m11 3h0m12 7h0m40-9h0m36 6h0m17 5h0m-68 6h0m42 0h0m88 6h0m-48 4h0m270 8h0m-231 13h0m18-6h0m32 3h0m-43 12h0m52 1h0m-4 16h0m48 5h0m5-10h0m11 12h0m-6 13h0m7-3h0m14-6h0m32 16h0m19 4h0m-2 15h0m26-2h0m-26 11h0m4-2h0m16 8h0"/>
<path stroke="#443a83" d="M951 317h0m33 0h0m-14 6h0m1 5h0m3 3h0m1-6h0m15 5h0m35 24h0m11 1h0m9 7h0m9-5h0m-3 16h0m20-8h0m0 22h0m20 1h0m0-8h0m54 16h0m10 18h0m22-4h0m28 20h0m-21 6h0m33 20h0m10 4h0m-3 12h0m55 14h0m10-1h0m-10 15h0m-425 239h0m45 0h0m98 29h0m45 14h0m-101 2h0m59 10h0m23 1h0m76-2h0m17-6h0m56-3h0"/>
<path stroke="#365c8d" d="M872 327h0m1-3h0m24 8h0m4 11h0m35 8h0m13 1h0m2 5h0m29 3h0m20-2h0m-7 12h0m27 13h0m11-5h0m23 20h0m5 0h0m31 19h0m33 10h0m30 22h0m9 1h0m49 23h0m3 10h0m33 15h0m6 8h0m50 36h0m-381 153h0m-73 22h0m36 5h0m36 2h0m38-8h0m-77 12h0m25 2h0m48 0h0m7 6h0m16-3h0m70 3h0m5-7h0m19 39h0m28 0h0m38 0h0m127 8h0m-113 20h0m13-5h0m8-7h0m7 12h0m11 0h0"/>
<path stroke="#482979" d="M1040 330h0m5 4h0m44 42h0m26 17h0m106 33h0m8 21h0m0 0h0m1 6h0m-274 285h0m-48 27h0m7-5h0m106 3h0m-87 20h0m143-3h0m148-1h0m-317 6h0m81-1h0m69 6h0m82 5h0"/>
<path stroke="#fde725" d="M839 442h0m71 16h0m0-1h0m20 3h0m-12 9h0m-37 7h0m50 1h0m39-1h0m16 20h0m-72 27h0m142 4h0m52 13h0m21 14h0m-5 6h0m34 21h0m14 1h0m14-1h0m-8 15h0m33 14h0m23-3h0m65 58h0"/>
<path stroke="#33638d" d="M850 335h0m33 9h0m31 11h0m30 8h0m9-2h0m-6 7h0m66 16h0m75 34h0m14 0h0m-9 7h0m9 3h0m49 30h0m26 5h0m24 22h0m19 9h0m30 18h0m-311 125h0m64 33h0m-159 23h0m108 6h0m-40 12h0m7 0h0m31-8h0m-39 22h0m23-6h0m25 4h0m14-2h0m55 1h0m-113 9h0m44 7h0m17-5h0m50 4h0m42 4h0m77-13h0m-299 17h0m158 9h0m47-2h0m48 0h0m1 3h0m10 0h0m-84 8h0m70 1h0m24 6h0m23 13h0m57-5h0m-6 6h0m14 2h0"/>
<path stroke="#ece51b" d="M843 442h0m29 8h0m4 5h0m5 4h0m22 6h0m72 7h0m-113 14h0m112-1h0m12-7h0m-92 21h0m81 1h0m15-6h0m17 6h0m1 14h0m5-4h0m24 5h0m47 2h0m-91 10h0m92 3h0m-79 3h0m80 7h0m-142 8h0m168 2h0m8 6h0m11-6h0m19 2h0m-4 13h0m23-5h0m-23 20h0m21 16h0m26-6h0m3-2h0m4 11h0m0 9h0m39-4h0m-64 21h0m57 3h0m24-10h0m-32 16h0m59 16h0m16 3h0"/>
<path stroke="#481f70" d="M1237 437h0m-330 335h0m56 9h0m-89 10h0m51 0h0m16 5h0m51-1h0m49-3h0m49-6h0"/>
<path stroke="#dae319" d="M839 432h0m25-2h0m-10 15h0m30 2h0m5-5h0m26 6h0m10 8h0m11 2h0m14 2h0m-93 14h0m35-2h0m9 0h0m51-4h0m11-1h0m17 6h0m-140 11h0m51-4h0m46 4h0m11-8h0m52 13h0m18-2h0m-144 16h0m26-3h0m31-2h0m20 4h0m53-8h0m-111 15h0m76 2h0m61-4h0m-46 21h0m48-1h0m1-5h0m19-2h0m9 8h0m-39 10h0m6 6h0m95-11h0m-198 23h0m60-10h0m131 7h0m-1 9h0m47 8h0m-40 12h0m24-8h0m7 2h0m-33 15h0m48 8h0m59-1h0m-35 8h0m11-4h0m9 5h0m22 6h0m-40 12h0m42-8h0m3 17h0m18 2h0m29 2h0m-21 6h0m2 8h0m14-3h0m5 1h0m18-4h0m-54 14h0m39 2h0m1 1h0m3 1h0m-19 8h0m5 9h0"/>
<path stroke="#8ed645" d="M839 406h0m17 1h0m68 31h0m12-4h0m9 1h0m23 5h0m-122 22h0m150 0h0m14 2h0m24 4h0m-129 17h0m-62 9h0m42 7h0m83-10h0m27 6h0m-141 16h0m6-3h0m10 5h0m21 2h0m14-3h0m10-9h0m10 10h0m1-1h0m119-9h0m-207 18h0m12-5h0m61 4h0m7 6h0m11 2h0m35-7h0m87-1h0m80 0h0m-292 23h0m47 0h0m6-1h0m7-11h0m1 2h0m40 9h0m9-12h0m22 6h0m4-6h0m40 0h0m-142 16h0m61 4h0m3-2h0m16 4h0m7 5h0m35-8h0m45 2h0m12 5h0m49-7h0m-231 14h0m76-1h0m15 5h0m60-5h0m10 3h0m4-7h0m12 13h0m2-10h0m46 0h0m65 2h0m-303 9h0m97 8h0m58-8h0m1 4h0m12 3h0m7-2h0m77-3h0m23 0h0m86 1h0m30 8h0m-258 11h0m30 5h0m1-7h0m10-3h0m8 7h0m15 2h0m11-7h0m22-1h0m121 5h0m55 3h0m9 1h0m-291 6h0m25-2h0m38 10h0m114-1h0m1-11h0m13 10h0m122 2h0m-224 2h0m4 4h0m47 7h0m0-1h0m7-4h0m57-2h0m5-1h0m1-2h0m37 10h0m-110 8h0m6 6h0m23-2h0m2-2h0m15-2h0m5 4h0m41 1h0m9-8h0m-23 30h0m33-4h0m-19 21h0m7-4h0m11 6h0m7-6h0m44 18h0m4 1h0m-43 15h0m19-9h0m22 19h0m21 19h0"/>
<path stroke="#69cd5b" d="M861 405h0m11 3h0m39 14h0m64 18h0m-88 18h0m97-10h0m22 8h0m11 1h0m12 2h0m-98 9h0m108-4h0m62 36h0m4 0h0m1-5h0m-225 19h0m3-7h0m-29 15h0m6 0h0m5 1h0m-13 18h0m17-1h0m187 0h0m-217 15h0m9-7h0m4 1h0m34 3h0m34 4h0m30-2h0m256 2h0m-343 16h0m19-2h0m49 2h0m6-5h0m1-6h0m41 12h0m62-4h0m180-8h0m-333 23h0m1 0h0m15-8h0m27 10h0m3-1h0m38 0h0m19-9h0m-39 17h0m46 1h0m45 7h0m-109 2h0m32 6h0m15-2h0m24 2h0m11-4h0m3 0h0m36 6h0m12-3h0m17 7h0m20-2h0m88-2h0m94-6h0m-241 17h0m9 6h0m23-3h0m17-5h0m11 5h0m11-3h0m55 7h0m-91 5h0m8 5h0m112-5h0m-47 18h0m41-3h0m46 2h0m-120 11h0m2-4h0m3 2h0m13 4h0m17 4h0m25 0h0m17-4h0m77 4h0m-141 8h0m23-3h0m4 8h0m10-8h0m12 5h0m4-2h0m36-1h0m21 3h0m-40 15h0m4-1h0m36 11h0m7-2h0m3 16h0m10 7h0m15-7h0m-10 20h0m17-1h0m17-5h0"/>
<path stroke="#22a884" d="M867 382h0m12 6h0m0-1h0m21 3h0m24 5h0m47 25h0m63 25h0m23 10h0m11 3h0m-121 11h0m140-4h0m12 7h0m1 2h0m71 33h0m-215 23h0m47 17h0m230 1h0m42 27h0m5 3h0m11 7h0m-390 16h0m389-10h0m-417 14h0m160 1h0m16-3h0m2 5h0m-187 19h0m4-3h0m16-7h0m57 3h0m11 7h0m39-3h0m-58 14h0m-72 19h0m2-12h0m75 2h0m30 2h0m73 2h0m-52 12h0m63 4h0m41 0h0m141-8h0m-196 16h0m5-3h0m105 8h0m-96 13h0m24-2h0m57 21h0m3-6h0m22 10h0m3 7h0m25 16h0m13 3h0m26 13h0m7-7h0m69-5h0m-41 17h0m28 16h0"/>
<path stroke="#5ac864" d="M850 400h0m52 13h0m81 30h0m20 7h0m2-1h0m34 18h0m-114 15h0m128-5h0m21 2h0m2 0h0m-111 24h0m-122 11h0m36-3h0m248-1h0m-225 15h0m-24 17h0m45 2h0m112-10h0m145 2h0m6 6h0m8 2h0m-332 13h0m75 1h0m91 1h0m189-1h0m-360 12h0m317 0h0m-318 14h0m6-4h0m43-4h0m3 9h0m12-3h0m14-3h0m6-4h0m12 8h0m-73 7h0m41 10h0m60-11h0m25 4h0m12 8h0m10-3h0m4 3h0m-110 10h0m22-6h0m1 6h0m10-3h0m11-2h0m36 2h0m6 2h0m278-7h0m-279 15h0m33 0h0m29 9h0m12-5h0m-5 14h0m46 1h0m-144 8h0m71 6h0m53 1h0m5-3h0m-19 15h0m24 2h0m32 5h0m18-2h0m6-3h0m-10 6h0m-11 15h0m41 11h0m6 1h0m2-6h0m1 2h0m37-6h0m-45 11h0m25 2h0m37 4h0m45 0h0m-67 14h0m22 3h0m47 13h0m-13 15h0"/>
<path stroke="#4ac16d" d="M867 398h0m17 7h0m50 14h0m8 4h0m66 18h0m0 7h0m11 8h0m12 5h0m15 0h0m16 13h0m14 5h0m14 1h0m-159 75h0m279-7h0m10 2h0m-366 20h0m12 3h0m362-11h0m3 2h0m-384 12h0m38 0h0m27 3h0m15 4h0m337 3h0m-402 8h0m4 0h0m12 0h0m9 2h0m50 5h0m30-8h0m11 6h0m202-3h0m18-8h0m87 8h0m-405 7h0m50 7h0m5-4h0m34 4h0m1 5h0m-61 5h0m46 3h0m25-2h0m18 3h0m35-3h0m5 5h0m4-4h0m14 7h0m7-2h0m24-6h0m-124 11h0m30-2h0m16 1h0m13 9h0m33-5h0m11 8h0m11-1h0m62 0h0m-5 33h0m2 4h0m11-6h0m31 11h0m15-11h0m-58 24h0m23-6h0m10-5h0m49 13h0m33-2h0m-40 11h0m-10 13h0m50 0h0m9 5h0m5-3h0m-6 16h0m11-4h0m24 19h0m8 9h0m-25 7h0m27 2h0"/>
<path stroke="#481668" d="M860 723h0m101 2h0m45 9h0m-118 10h0m-34 20h0m82-8h0m-53 14h0m63 7h0m35-1h0m95-5h0m-178 19h0m16-6h0m13 7h0m45 2h0m26-1h0m62-3h0m17 7h0m19 1h0"/>
<path stroke="#20938c" d="M870 370h0m59 18h0m-9 5h0m0 3h0m53 7h0m3 9h0m19 4h0m1-1h0m43 17h0m20 15h0m18 1h0m38 17h0m25 13h0m2 2h0m46 30h0m-285 23h0m329 0h0m5 10h0m4-2h0m-402 12h0m256 94h0m-240 15h0m118-2h0m205 9h0m-249 3h0m44 7h0m40-7h0m41 3h0m7-1h0m133 7h0m-172 10h0m26 3h0m9-8h0m0 4h0m235 7h0m-253 4h0m81 8h0m51-7h0m-58 14h0m2 5h0m48 4h0m-47 12h0m25-1h0m38 9h0m13 7h0m15-5h0m44 19h0m-31 6h0m25 1h0m19-3h0m6 12h0m5 5h0"/>
<path stroke="#3e4c8a" d="M877 322h0m0 2h0m30 9h0m13-8h0m14 4h0m70 26h0m-28 9h0m47 12h0m11-3h0m1 2h0m29 9h0m23 17h0m3 4h0m-4 6h0m57 15h0m26 9h0m7 6h0m3 7h0m17 0h0m-5 14h0m9 7h0m1-4h0m27 8h0m28 17h0m3 0h0m29 14h0m-2 22h0m18-2h0m-445 116h0m86 40h0m137 31h0m-240 7h0m109 6h0m-56 16h0m32-7h0m2 5h0m5 1h0m219 1h0m-164 2h0m8 1h0m31 9h0m-53 7h0m69 7h0m21-3h0m35-1h0m-28 18h0m11-7h0m16 10h0m14-2h0m0-8h0m21 8h0m18-4h0m51 5h0"/>
<path stroke="#3dbc74" d="M850 386h0m3 10h0m9 2h0m43 7h0m18 6h0m59 22h0m25 6h0m16 10h0m14 3h0m15 9h0m4-1h0m-146 9h0m163-1h0m10 6h0m7 3h0m35 25h0m24 8h0m7 7h0m13 5h0m22 8h0m-346 11h0m109-4h0m-81 17h0m239-6h0m-251 13h0m222 9h0m-239 6h0m29 7h0m-14 14h0m171-1h0m-174 9h0m40-3h0m17 2h0m21 2h0m3 0h0m39 9h0m5-6h0m226 0h0m-324 9h0m61 11h0m15-5h0m43 5h0m21 0h0m-17 11h0m18-9h0m19 10h0m235 2h0m-310 3h0m74 5h0m3 6h0m2 13h0m10-12h0m59 1h0m-44 25h0m15-11h0m4 4h0m3-5h0m8 1h0m15 6h0m5-3h0m12 0h0m49-1h0m5 6h0m68-5h0m-82 16h0m-42 11h0m73-1h0m67 9h0m-67 9h0m40 4h0m-21 11h0m19 2h0m37 2h0m-16 8h0m25 8h0m5-7h0m-18 15h0m27-4h0"/>
</g>
<g fill="none" stroke-linecap="round" stroke-width="14.2">
<path stroke="#228d8d" d="M1538 520h0m48 11h0m-79 98h0m230 116h0m69 29h0"/>
<path stroke="#481668" d="M1709 769h0"/>
<path stroke="#5ac864" d="M1403 471h0m-2 10h0m95 20h0m83 28h0m-167 40h0m261 17h0m22-2h0m-215 22h0m28 6h0m9-10h0m79 5h0m138 8h0m14 10h0m-166 7h0m2 5h0m191 2h0m-171 16h0m183-9h0m12-1h0m2 0h0m-65 19h0m-29 20h0m43-8h0m70 3h0m14 0h0m19 3h0m-166 4h0m33 13h0m-8 4h0m6-1h0m27 6h0m24 23h0m34 9h0m11 21h0m20 21h0"/>
<path stroke="#7ad151" d="M1453 489h0m27 12h0m27 14h0m-23 4h0m30 5h0m30 7h0m-33 14h0m48-9h0m5 9h0m16 0h0m6-1h0m-146 2h0m10 11h0m-46 13h0m61 0h0m166-8h0m-154 24h0m151-10h0m23 3h0m-58 16h0m69 5h0m14-6h0m-139 17h0m27-5h0m108 7h0m24-6h0m8-5h0m22 9h0m-158 9h0m14 4h0m7 3h0m120-7h0m2 3h0m52 9h0m4 22h0m-96 8h0m12 7h0m-14 6h0m159 2h0m-117 17h0m2-6h0m136 2h0m-123 20h0m7-6h0m14 8h0m14-9h0m1 1h0m-4 19h0m10-1h0m16-6h0m26 6h0m-12 24h0"/>
<path stroke="#2c718e" d="M1557 664h0"/>
<path stroke="#414487" d="M1444 640h0"/>
<path stroke="#3dbc74" d="M1535 505h0m27 14h0m-48 41h0m158 0h0m-250 19h0m34 33h0m71 2h0m3 9h0m226 3h0m-165 17h0m9-5h0m191 11h0m36 4h0m-31 15h0m12-5h0m-157 19h0m3-2h0m47 1h0m144-7h0m9 41h0m-54 38h0m53-1h0m-2 32h0"/>
<path stroke="#a0da39" d="M1404 495h0m54 22h0m-61 12h0m22-7h0m19 3h0m38 5h0m21-12h0m1 0h0m9 8h0m-109 11h0m118-5h0m30 9h0m27 4h0m-166 2h0m16 12h0m11-1h0m32-9h0m70-2h0m29 2h0m6 4h0m5-6h0m-144 22h0m40 0h0m6-2h0m56-7h0m16 7h0m0 3h0m7-5h0m-88 17h0m36-2h0m134-5h0m1 0h0m-147 19h0m13-5h0m27 0h0m6-1h0m19 12h0m54-7h0m35-3h0m4 6h0m-115 8h0m27-1h0m14 7h0m6-5h0m22 0h0m103 1h0m-89 19h0m14 4h0m62-5h0m20-5h0m17 5h0m14 5h0m-134 5h0m57 8h0m3-5h0m59 6h0m20-7h0m-105 8h0m111 5h0m2 5h0m13 2h0m1-2h0m5 3h0m-95 3h0m27-1h0m5 10h0m51-10h0m10 8h0m4-6h0m-104 20h0m101-6h0m25 3h0m-78 10h0m5 5h0m4-5h0m47 9h0m25 2h0m51-11h0m-112 15h0m16 8h0m12-6h0m45 4h0m29-8h0m-54 21h0m23-1h0m-11 14h0m3-2h0m10-5h0m22 9h0m14-7h0m0 10h0m-38 3h0m29 7h0m-10 9h0m10-1h0m10 5h0"/>
<path stroke="#1fa187" d="M1449 462h0m192 68h0m-10 8h0m45 26h0m-57 77h0m-58 15h0m63 3h0m30 33h0m138 34h0"/>
<path stroke="#1f9a8a" d="M1425 465h0m34 4h0m-14 29h0m80 13h0m56 6h0m78 25h0m-227 64h0m20-4h0m26 21h0m84 26h0m140 84h0m86 5h0m22 13h0"/>
<path stroke="#b2dd2d" d="M1410 501h0m3 0h0m-15 11h0m25-1h0m1 1h0m2-8h0m17 10h0m13-10h0m17 2h0m-54 19h0m7-4h0m31 9h0m20-11h0m7 1h0m32 1h0m16 8h0m-138 9h0m9 2h0m4-3h0m1 2h0m8 2h0m2-9h0m29 2h0m46 4h0m23 0h0m-116 13h0m15-1h0m6 1h0m13-5h0m5 12h0m9-8h0m2 1h0m5 8h0m3 0h0m21-5h0m19-1h0m5 0h0m3 2h0m5-4h0m14 0h0m12-4h0m27 10h0m-134 5h0m58 9h0m2 0h0m13 2h0m32 0h0m29-1h0m15-5h0m7-2h0m41 7h0m-143 8h0m4-4h0m7 4h0m15 0h0m8 5h0m81-6h0m2 2h0m3 2h0m2-7h0m15 2h0m23-3h0m-147 14h0m39 3h0m4-4h0m16 13h0m20-7h0m1 3h0m48-4h0m-61 10h0m24 11h0m13 0h0m1-2h0m93-2h0m-117 10h0m13 1h0m19 7h0m51-9h0m53 15h0m20 8h0m0-1h0m6-2h0m-76 9h0m8-3h0m25 8h0m6-9h0m5 0h0m40 3h0m3 3h0m-77 14h0m74-5h0m77 19h0m11 18h0m-36 15h0m28-5h0m1-5h0m10 2h0m8 10h0m-67 7h0m12-2h0m1 5h0m12-5h0m20-2h0m18 5h0m-50 12h0m12-2h0m3 5h0m11 5h0m28-10h0m2 10h0m-43 1h0"/>
<path stroke="#277f8e" d="M1511 612h0m116 74h0m162 107h0"/>
<path stroke="#20938c" d="M1710 572h0m-164 79h0"/>
<path stroke="#dae319" d="M1409 521h0m19 6h0m3-2h0m1 5h0m8-5h0m10 4h0m61-6h0m-85 10h0m12 5h0m2-5h0m4 6h0m14-1h0m13-5h0m17 11h0m3-10h0m2-2h0m13 7h0m2 3h0m-80 10h0m9 0h0m4 4h0m1-8h0m63 4h0m2 5h0m9 0h0m33 2h0m11-4h0m-92 17h0m77-9h0m5 1h0m10 5h0m6-2h0m15-3h0m15-4h0m3 8h0m-127 9h0m11-2h0m43 3h0m14 5h0m21-9h0m31 1h0m16 5h0m8-1h0m0-5h0m3 2h0m23 9h0m-99 4h0m11 0h0m15 6h0m1-3h0m16 7h0m14-3h0m11 4h0m9-3h0m5-4h0m4-5h0m14 9h0m-55 15h0m9 2h0m4-11h0m42 1h0m11 2h0m-13 13h0m7 0h0m6 6h0m2-1h0m11-8h0m4 2h0m4 0h0m17 7h0m-33 6h0m8 4h0m19-5h0m3 6h0m9-4h0m25 8h0m27 2h0m-73 5h0m65 6h0m-41 8h0m14-1h0m9 1h0m23 5h0m19-4h0m-33 15h0m29 0h0m10-3h0m8 8h0m6-1h0m-18 14h0m32 2h0m22-5h0m-44 17h0m7 1h0m35-8h0m6 1h0m9 10h0m-19 2h0m21 2h0m-7 11h0m0 6h0m10-3h0m0 4h0m1-7h0m2 10h0m12-3h0m-20 18h0m19-5h0m-5 13h0"/>
<path stroke="#ece51b" d="M1403 505h0m27 10h0m11-5h0m-48 8h0m2 12h0m7-6h0m9-2h0m11 4h0m1-5h0m8 8h0m4-3h0m29 5h0m12-2h0m4-3h0m-75 7h0m16 5h0m4 4h0m9-9h0m12 2h0m10 8h0m1-3h0m13-6h0m0 2h0m23 0h0m-85 11h0m65 1h0m0 4h0m20 3h0m6-6h0m17 2h0m4 5h0m24-7h0m0-1h0m-63 13h0m28 5h0m8 4h0m5-5h0m8-5h0m8 8h0m7 0h0m2-5h0m11 2h0m35 5h0m13-6h0m-44 17h0m5 4h0m17-8h0m12 5h0m3-8h0m0 4h0m11-4h0m-18 15h0m7 6h0m10-3h0m8 7h0m35-1h0m-35 4h0m2 8h0m3-4h0m1 0h0m31 7h0m4-5h0m3-5h0m5 10h0m-29 6h0m61 4h0m10-7h0m-38 27h0m48-4h0m1 0h0m-4 10h0m0 1h0m38-1h0m-42 10h0m13 0h0m2 7h0m4 3h0m0-1h0m6-5h0m1 8h0m24-4h0m-27 5h0m44 11h0m1-5h0m5-1h0m4 1h0m-45 11h0m26-3h0m8 9h0m14 4h0m7-1h0m1-9h0m24 8h0m-35 5h0m8 0h0m3-2h0m1 0h0m0 1h0m6 12h0m3 0h0m9-3h0m1-8h0m6 25h0m27 0h0m2-10h0m-54 14h0m38 4h0m13-5h0m0 7h0m5-6h0m-28 13h0m14 0h0"/>
<path stroke="#c8e020" d="M1423 499h0m-16 5h0m35 5h0m19-1h0m-68 20h0m2-4h0m24-2h0m0-2h0m8 3h0m40 5h0m4 3h0m31-3h0m12-3h0m-86 11h0m38-2h0m10 6h0m14 4h0m7-10h0m1 0h0m9 4h0m7-4h0m-104 17h0m19 0h0m10 6h0m4-10h0m5 5h0m24 0h0m21-4h0m11 0h0m43 4h0m9-4h0m2 1h0m-100 21h0m3-9h0m26 0h0m4 5h0m4 4h0m30-8h0m11 3h0m15 4h0m14-6h0m9 10h0m21-4h0m6 4h0m-53 12h0m4 2h0m-43 6h0m64-2h0m4 0h0m36 3h0m6 1h0m15 0h0m28 0h0m2-2h0m-59 18h0m66 1h0m-79 9h0m4 0h0m1-3h0m16 6h0m9-4h0m81 2h0m-64 14h0m29-4h0m5 4h0m19 6h0m17-8h0m1 6h0m10-2h0m5-5h0m35 7h0m-116 4h0m61 9h0m-30 10h0m14 1h0m71-5h0m31 5h0m-78 8h0m10 10h0m35-3h0m28-6h0m8 2h0m-28 24h0m8 0h0m8-13h0m7 1h0m16 3h0m11 5h0m0-1h0m-71 6h0m17 1h0m24 6h0m0 0h0m20-7h0m6 1h0m26 12h0m-59 7h0m10-3h0m11 1h0m19 0h0m17 7h0m4-8h0m-36 17h0m2 7h0m21-6h0m11-3h0m9 16h0"/>
<path stroke="#28ae80" d="M1466 486h0m57 15h0m79 72h0m-158 28h0m76 27h0m11 0h0m40 27h0m31 7h0m111 54h0m19 8h0m35 24h0m83 45h0m6 11h0"/>
<path stroke="#69cd5b" d="M1408 488h0m23 9h0m7-2h0m63 8h0m-17 10h0m36-3h0m38 28h0m35 11h0m-165 24h0m3-10h0m29 22h0m26 0h0m32 16h0m9 12h0m23-8h0m18 7h0m151-2h0m3 3h0m-178 3h0m161 2h0m57 11h0m-165 6h0m29 6h0m136-11h0m6 1h0m14 5h0m-128 9h0m112 7h0m-107 19h0m139-1h0m23-9h0m17 23h0m-111 24h0m28-5h0m33 21h0m-5 7h0m-11 14h0m47 11h0m4 11h0m28 17h0"/>
<path stroke="#32b67a" d="M1427 468h0m43 12h0m-33 11h0m120 18h0m64 32h0m21 16h0m50 9h0m-252 25h0m1 10h0m12-6h0m295 3h0m-87 38h0m147-3h0m-223 13h0m5 2h0m236 6h0m-164 4h0m170 8h0m-119 43h0"/>
<path stroke="#8ed645" d="M1409 496h0m18 5h0m-8 10h0m32-6h0m24 3h0m44 9h0m-60 1h0m22 5h0m4-1h0m29 6h0m56 2h0m-141 9h0m89-4h0m18-1h0m-129 36h0m39-9h0m163 9h0m15-4h0m21 15h0m-138 12h0m10-2h0m152 3h0m2 3h0m22 0h0m-145 6h0m22 6h0m17 10h0m32 10h0m33 12h0m9-8h0m77 4h0m13 2h0m-52 9h0m44 9h0m-55 8h0m73 1h0m39 3h0m-120 6h0m5 6h0m47-7h0m55 24h0m22-6h0m2 5h0m26-3h0m5-2h0m1 0h0m-85 13h0m4-1h0m-2 15h0m12 6h0m28-3h0m-6 13h0m16 17h0m11-9h0m10 4h0m2 0h0m16 10h0"/>
<path stroke="#24868e" d="M1704 578h0m-293 35h0m296 120h0"/>
<path stroke="#482979" d="M1663 756h0m28 6h0m64 35h0"/>
<path stroke="#4ac16d" d="M1400 469h0m40 20h0m5-7h0m4-2h0m18 8h0m94 32h0m-147 66h0m31 1h0m16-5h0m224 7h0m5-1h0m32 2h0m-212 23h0m29-1h0m2-7h0m77 4h0m46 2h0m76 1h0m28 13h0m-194 16h0m32 1h0m18 8h0m156 0h0m8 1h0m15 16h0m16-9h0m-143 23h0m8-4h0m22 5h0m136 15h0m-13 8h0m-87 15h0m10 2h0m41 25h0"/>
<path stroke="#22a884" d="M1479 475h0m56 26h0m3 8h0m25 56h0m15 6h0m134 14h0m-206 38h0m57 25h0m19 5h0m226-3h0m-181 24h0m66 1h0m-31 23h0m13 0h0m61 41h0m79 34h0m28 29h0"/>
<path stroke="#4ac16d" d="M1403 472h0m23 11h0m67 12h0m38 4h0m5 15h0m6-7h0m56 36h0m-130 42h0m85-2h0m-103 5h0m236 2h0m-190 13h0m32 12h0m5 1h0m220 1h0m-196 21h0m36 0h0m52 13h0m168-5h0m-153 22h0m151-10h0m-155 23h0m200 2h0m-163 5h0m86 56h0m21 14h0m5 8h0"/>
<path stroke="#b2dd2d" d="M1401 507h0m17 5h0m5-7h0m12 4h0m4-1h0m15 4h0m-60 17h0m10-4h0m10-4h0m9 0h0m51-3h0m9 2h0m0-1h0m0 4h0m4-3h0m2 11h0m6-2h0m13-4h0m-108 9h0m41 1h0m-44 14h0m9 0h0m26 8h0m5-11h0m3 1h0m28 2h0m0 7h0m11-8h0m7 9h0m26 0h0m20-11h0m13 12h0m37 0h0m-165 4h0m2-2h0m7 3h0m10 4h0m35-6h0m8 9h0m10-8h0m20 9h0m2-11h0m48 5h0m13 5h0m58-2h0m-145 9h0m19 5h0m45-6h0m61 2h0m20 8h0m11 1h0m15-2h0m-53 4h0m3 8h0m59 4h0m-100 6h0m25 2h0m24 1h0m21-3h0m33 1h0m30-4h0m3 4h0m1-5h0m-114 13h0m27 3h0m90-1h0m-67 17h0m18 1h0m63 6h0m31 0h0m-97 9h0m14-2h0m8 3h0m-11 11h0m20 5h0m14-8h0m44 11h0m1-11h0m26 5h0m1 5h0m-45 12h0m17-3h0m29 4h0m2-7h0m15-1h0m30 5h0m-67 10h0m14-2h0m20 6h0m7-7h0m14 12h0m13-12h0m10 10h0m-63 6h0m16 0h0m29-3h0m8 1h0m5 6h0m22 3h0m9 1h0m-85 10h0m65-1h0m1 6h0m10-2h0m3-8h0m-56 16h0m42-2h0m-10 19h0m7 0h0m23 3h0m-17 8h0"/>
<path stroke="#277f8e" d="M1621 520h0"/>
<path stroke="#69cd5b" d="M1424 475h0m-30 6h0m32 14h0m50 7h0m-43 7h0m86 3h0m4 4h0m62 19h0m18 10h0m-186 10h0m106-9h0m11 5h0m88 7h0m11-1h0m6 2h0m-202 11h0m167-10h0m-171 16h0m14 7h0m52-1h0m15 2h0m123-1h0m-166 7h0m47 11h0m149-9h0m30-2h0m2 4h0m4 2h0m-175 18h0m2 0h0m185-6h0m12-1h0m-150 10h0m2 1h0m11 8h0m3-6h0m4 9h0m168-2h0m-198 3h0m207 7h0m-156 8h0m21 12h0m16 0h0m7-4h0m138 4h0m-110 11h0m95-10h0m-100 17h0m152 0h0m-67 13h0m29 69h0"/>
<path stroke="#1f9a8a" d="M1402 451h0m81 22h0m-53 30h0m111-12h0m106 43h0m25 20h0m5 1h0m-254 44h0m368 18h0m-276 16h0m-14 11h0m98 15h0"/>
<path stroke="#365c8d" d="M1469 621h0"/>
<path stroke="#7ad151" d="M1403 479h0m14 21h0m57-3h0m8 5h0m-80 25h0m35-5h0m118 7h0m6 16h0m-144 23h0m5-3h0m22 7h0m102-2h0m-78 12h0m38 2h0m34-8h0m109 2h0m27 13h0m-185 20h0m36-9h0m18 2h0m4 9h0m143-7h0m-100 27h0m12 12h0m171 5h0m-83 15h0m101 4h0m-82 10h0m133 2h0m-143 8h0m33 0h0m2 1h0m105 0h0m-93 10h0m108 2h0m-104 19h0m36 19h0m48 2h0"/>
<path stroke="#32b67a" d="M1577 516h0m-181 15h0m168-11h0m49 13h0m22 7h0m60 33h0m-258 20h0m34 16h0m313 18h0m-207 9h0m52 34h0m210-5h0m-193 23h0"/>
<path stroke="#1fa187" d="M1509 487h0m47 16h0m-11 2h0m71 77h0m-125 29h0m175 85h0m19-7h0"/>
<path stroke="#c8e020" d="M1400 502h0m6-8h0m20 4h0m-22 17h0m27-2h0m10-1h0m-46 16h0m13-4h0m9-6h0m14 11h0m12-2h0m22-3h0m27 7h0m-84 11h0m21-6h0m21-4h0m36 11h0m0-8h0m32 8h0m-107 6h0m24 3h0m6-2h0m61 7h0m0-1h0m14-2h0m2 5h0m24-4h0m-135 8h0m26-3h0m31 2h0m31 9h0m16-9h0m48 1h0m16 8h0m8-6h0m5-1h0m4-1h0m33 5h0m-134 15h0m44-2h0m11 0h0m34-1h0m13 7h0m6-7h0m-15 19h0m7-2h0m8 2h0m6-3h0m49 0h0m-105 9h0m22 4h0m15 0h0m16 5h0m48-4h0m4-5h0m-63 18h0m53-4h0m12 2h0m73 6h0m-98 4h0m17 8h0m6 4h0m55-1h0m40-2h0m-109 8h0m10-3h0m42 11h0m11-3h0m29 0h0m3 1h0m41 2h0m-46 13h0m8 0h0m1-4h0m24 1h0m15-8h0m-43 14h0m0 4h0m5 1h0m41 1h0m26-5h0m2 6h0m-57 9h0m5 11h0m7-3h0m22-8h0m8 8h0m33-8h0m5 1h0m-74 21h0m2-6h0m43-2h0m5 7h0m2-4h0m3 7h0m1-11h0m2 7h0m13-3h0m9 4h0m0-5h0m-72 14h0m38-1h0m16 7h0m9-3h0m5-3h0m11 1h0m1 5h0m-39 6h0m10 0h0m9-2h0m21 1h0m-4 31h0m11 14h0"/>
<path stroke="#24868e" d="M1524 474h0m113 58h0m59 26h0"/>
<path stroke="#22a884" d="M1510 483h0m102 35h0m84 51h0m-221 37h0m20 0h0m-26 10h0m124 36h0m235-2h0m-207 36h0m106 25h0m-20 4h0m17 9h0m118-6h0m-2 72h0"/>
<path stroke="#20938c" d="M1614 527h0m-200 78h0m130 46h0m138 63h0m67 32h0"/>
<path stroke="#dae319" d="M1424 512h0m15 4h0m2-1h0m10-2h0m-57 18h0m2-10h0m8-1h0m5 7h0m6-7h0m15 10h0m10-3h0m-45 7h0m21 5h0m9 5h0m1-9h0m32 9h0m10-3h0m17-2h0m2-3h0m-73 16h0m31 7h0m46-10h0m16 10h0m16-11h0m3 11h0m-80 2h0m44 2h0m29-3h0m14 6h0m19 1h0m9 0h0m3-6h0m3-1h0m8 4h0m-81 13h0m24 5h0m1-5h0m53 8h0m4-9h0m29 10h0m34-5h0m-72 19h0m33-2h0m2 2h0m3-11h0m42-1h0m6 8h0m-58 7h0m13 12h0m39 0h0m3-11h0m9 1h0m3 0h0m7 10h0m-57 4h0m26 1h0m3 9h0m2-4h0m15-2h0m-5 13h0m45 6h0m6-7h0m1 4h0m-25 6h0m14 0h0m21 4h0m26 7h0m5-6h0m2-5h0m-9 25h0m40-5h0m1 1h0m-51 9h0m7 9h0m25-2h0m2-4h0m7-4h0m1 1h0m20-1h0m-27 20h0m22-5h0m1 10h0m12-9h0m1 5h0m12-1h0m1-7h0m-38 16h0m4 4h0m12 3h0m3 2h0m1-5h0m11 2h0m0-7h0m12-2h0m16 13h0m-56 1h0m22 10h0m13 1h0m36 3h0m-10 17h0m10 14h0"/>
<path stroke="#3dbc74" d="M1469 489h0m-25 2h0m47 0h0m72 24h0m44 15h0m-22 13h0m127 44h0m-6 6h0m-125 50h0m26 12h0m152 16h0m-86 1h0m25 23h0m149 3h0m9-10h0m-73 12h0m25 3h0m-59 24h0m39 12h0"/>
<path stroke="#228d8d" d="M1624 634h0m-75 19h0m297 158h0"/>
<path stroke="#481f70" d="M1664 751h0"/>
<path stroke="#ece51b" d="M1421 515h0m-23 4h0m0 7h0m6-5h0m3 10h0m2-5h0m4 0h0m21 5h0m-35 8h0m28-1h0m16-4h0m16 9h0m57-3h0m-105 7h0m6 0h0m66 6h0m22 5h0m-69 2h0m47 1h0m14 7h0m22-1h0m0-1h0m1 0h0m2 5h0m5-6h0m18-1h0m3 1h0m19 2h0m2 0h0m-56 11h0m15 0h0m21-4h0m7 6h0m18 3h0m14 2h0m14-6h0m3 8h0m2-6h0m4-7h0m17 8h0m0 2h0m-96 13h0m52-8h0m7 5h0m1 5h0m15 2h0m3-11h0m-12 18h0m37-1h0m-16 10h0m11 11h0m14-3h0m44-1h0m6 1h0m7-4h0m-80 12h0m46 7h0m21-7h0m0 6h0m11-1h0m18 0h0m7-5h0m-38 15h0m13 1h0m12-2h0m0-2h0m5 4h0m-3 14h0m17 0h0m10 10h0m10 3h0m-6 14h0m15 5h0m18-5h0m2 6h0m11-2h0m17 3h0m-46 7h0m42 0h0m2-1h0m8-3h0m3 4h0m3 2h0m2-3h0m5 3h0m6 6h0m10 0h0m-26 6h0m3 0h0m3-3h0m7 2h0m6 10h0m21-2h0m-30 7h0m5-4h0m8 13h0m2 0h0m5-11h0m7 19h0m3 6h0m0 1h0"/>
<path stroke="#28ae80" d="M1423 469h0m3-3h0m44 7h0m133 58h0m12 11h0m6 3h0m27 2h0m-230 30h0m307 13h0m-229 28h0m2 1h0m308 17h0m4 3h0m-235 15h0m57 19h0m94 48h0m45 19h0"/>
<path stroke="#8ed645" d="M1430 501h0m35 2h0m-54 6h0m16 5h0m24-6h0m32 2h0m33 4h0m2-3h0m19 17h0m22-5h0m-79 12h0m-86 23h0m200 0h0m7-3h0m1-2h0m-192 13h0m23-5h0m8 11h0m78-11h0m86 5h0m20 5h0m-213 7h0m30 0h0m63 6h0m41-6h0m82-3h0m-113 22h0m103-5h0m40 9h0m30-13h0m-156 25h0m27-9h0m3 0h0m34 3h0m-16 11h0m45 1h0m81 2h0m1 0h0m8-4h0m30 9h0m-120 16h0m24-2h0m14-8h0m74 6h0m18 4h0m-100 13h0m3-3h0m101-4h0m1 2h0m-71 13h0m117 5h0m6-4h0m-134 12h0m4-4h0m24 10h0m7 3h0m84 0h0m17-1h0m6-12h0m-94 18h0m26 15h0m15 4h0m46 0h0m13-2h0m-60 17h0m9-8h0m-1 18h0m43 12h0m1 0h0m12-3h0m24 12h0m-23 12h0"/>
<path stroke="#a0da39" d="M1428 504h0m33 20h0m0 2h0m37-7h0m-96 13h0m8 6h0m3-2h0m5 2h0m60 0h0m71 7h0m3-12h0m8 11h0m3-3h0m-168 6h0m21 7h0m17 2h0m17-3h0m1-2h0m13 0h0m28 5h0m119-5h0m-216 11h0m67 24h0m3-1h0m30-4h0m119-7h0m2 11h0m53 2h0m-190 7h0m49 3h0m2 2h0m25 1h0m8-4h0m23-5h0m0-2h0m55 1h0m-108 18h0m56-6h0m35 8h0m61 0h0m11-4h0m-117 12h0m44 7h0m37 3h0m-56 10h0m15-7h0m43 12h0m96-6h0m-15 10h0m9-2h0m-72 20h0m9-2h0m107 1h0m-97 12h0m8 1h0m30 7h0m17 5h0m12 19h0m4-8h0m76 8h0m9 4h0m-51 2h0m34 8h0m-39 11h0m27 9h0m9 13h0m5-11h0m9 6h0m-10 12h0"/>
<path stroke="#5ac864" d="M1432 481h0m46 18h0m23-3h0m13 20h0m18 5h0m11 8h0m57 15h0m-11 10h0m23 7h0m70 31h0m5 5h0m-174 8h0m9-3h0m201 7h0m4 6h0m-223 3h0m10 1h0m2 5h0m72 8h0m1 5h0m1 6h0m7-3h0m38-2h0m59 0h0m55 2h0m11-10h0m30 23h0m-163 7h0m214 18h0m-106 19h0m-6 12h0m36 24h0m2-3h0m32 22h0m57 37h0"/>
<path stroke="#306a8e" d="M1709 745h0"/>
<path stroke="#2a788e" d="M1596 680h0"/>
<path stroke="#33638d" d="M1473 469h0m167 41h0"/>
<path stroke="#277f8e" d="M1714 566h0m-184 84h0m44 17h0"/>
<path stroke="#3e4c8a" d="M1587 676h0"/>
<path stroke="#c8e020" d="M1412 503h0m9-1h0m26 8h0m18 0h0m-39 15h0m6 6h0m30-12h0m16 4h0m3 6h0m38-5h0m-123 8h0m5 12h0m10 0h0m10 0h0m6-12h0m5 5h0m31 6h0m8-5h0m22 0h0m13 3h0m2 2h0m-104 3h0m91 9h0m2-7h0m23 4h0m21 2h0m24-3h0m12-1h0m-111 22h0m1-3h0m0-3h0m7-2h0m16 4h0m19 0h0m9-4h0m8 6h0m11-1h0m6-4h0m70 0h0m-124 9h0m12 1h0m13 8h0m2 1h0m10 2h0m30-10h0m29-1h0m3 7h0m13-5h0m-94 16h0m17-1h0m17 2h0m29 3h0m4 3h0m33-1h0m39-2h0m-64 15h0m13-2h0m21 5h0m0-13h0m5 12h0m31-5h0m19 2h0m4-9h0m-75 15h0m4 9h0m5-2h0m15 4h0m6-9h0m1-1h0m16 6h0m42 5h0m-49 4h0m10 7h0m17-1h0m22-9h0m40 12h0m12 1h0m-82 10h0m89 0h0m-16 17h0m36 0h0m-65 5h0m5 3h0m16 7h0m3-13h0m3 8h0m23 1h0m9 1h0m15-5h0m1 6h0m-4 16h0m12 0h0m37 0h0m1-11h0m-47 16h0m19 4h0m4-4h0m32 0h0m8 7h0m6 1h0m-101 2h0m46 11h0m12-3h0m35 0h0m2-1h0m-17 13h0m11 6h0m14-10h0m-12 13h0m17 18h0"/>
<path stroke="#22a884" d="M1510 485h0m12 9h0m3 2h0m41 12h0m91 46h0m-229 43h0m159 54h0m6 5h0m92 0h0m-48 23h0m207-6h0m-93 65h0m83 56h0m11 9h0"/>
<path stroke="#28ae80" d="M1440 489h0m96 2h0m-2 24h0m40-10h0m24 11h0m-4 8h0m27 1h0m11 19h0m31 22h0m11-5h0m5 7h0m8-2h0m-269 23h0m289 0h0m-42 24h0m-98 11h0m-74 7h0m165 3h0m134 1h0m-136 14h0m20 52h0m124 1h0m-100 15h0m153 77h0m3 6h0"/>
<path stroke="#4ac16d" d="M1463 493h0m60 16h0m6 7h0m7-3h0m6-7h0m87 49h0m7-3h0m16 7h0m-190 20h0m107 6h0m73-7h0m-161 21h0m177-5h0m45 0h0m-192 16h0m40 22h0m44 1h0m223 23h0m-188 4h0m144-1h0m58 10h0m-149 19h0m30 10h0m-7 4h0m16 8h0m129-6h0m-59 18h0m-29 15h0m13 3h0m5 9h0"/>
<path stroke="#32b67a" d="M1473 487h0m46 12h0m160 69h0m-259 24h0m31 2h0m127 47h0m11 7h0m262 16h0m-190 14h0m189 4h0m-112 52h0m40 2h0m13 12h0"/>
<path stroke="#ece51b" d="M1400 503h0m-2 6h0m10 6h0m1-7h0m0 2h0m1 5h0m5 2h0m11-13h0m-27 19h0m8 7h0m1-1h0m7-2h0m21-8h0m7 10h0m0 0h0m21 2h0m4-12h0m20 4h0m-88 13h0m6 2h0m3 2h0m1 1h0m5-6h0m17-3h0m0 3h0m6 1h0m7-3h0m5 3h0m21-3h0m13 0h0m-21 18h0m31 0h0m13 5h0m20-10h0m12 11h0m2-10h0m-96 20h0m28-3h0m20 1h0m47-4h0m21 1h0m25 4h0m34 7h0m-89 9h0m33 1h0m7-5h0m32 5h0m3 3h0m1-12h0m-30 24h0m8-7h0m1 0h0m4 3h0m3 3h0m1 2h0m9 13h0m7-10h0m18 0h0m11 7h0m15 3h0m-57 5h0m34 8h0m7 3h0m1-12h0m10 12h0m3-4h0m8-2h0m0 4h0m7-8h0m7 1h0m9-3h0m2 2h0m8 3h0m7 4h0m11 1h0m-45 17h0m13-8h0m3-5h0m2 4h0m27 12h0m1 1h0m18 0h0m-18 18h0m7 1h0m22-3h0m11 5h0m16-5h0m-46 12h0m30 0h0m4 1h0m13-1h0m-38 16h0m31 2h0m3 1h0m8-7h0m4 0h0m11 4h0m2 3h0m0-1h0m7 5h0m5-11h0m-47 14h0m15 4h0m24-5h0m1 5h0m1 5h0m2-8h0m14 8h0m2-6h0m3-1h0m5 8h0m-34 8h0m30-3h0m4 10h0m17-4h0m4 5h0m2-5h0m-2 14h0m5-5h0m4-3h0m-4 22h0m8 12h0"/>
<path stroke="#1fa187" d="M1521 488h0m107 46h0m60 38h0m-232 28h0m238 8h0m96 17h0m-119 75h0m79 40h0"/>
<path stroke="#3dbc74" d="M1426 483h0m10-5h0m43 9h0m4 0h0m10-6h0m97 42h0m5 18h0m27 7h0m-124 64h0m20 11h0m9 5h0m71-9h0m149-1h0m-179 15h0m12 4h0m15 18h0m58 22h0m200 6h0m-143 14h0m43 30h0m34 19h0m8 12h0"/>
<path stroke="#228d8d" d="M1619 536h0m4-1h0m60 53h0m-249 25h0m401 30h0m-135 81h0m82 49h0"/>
<path stroke="#7ad151" d="M1399 484h0m30 6h0m14 5h0m31 6h0m15 13h0m-15 6h0m-35 13h0m105 0h0m36 8h0m-181 18h0m26 3h0m203 7h0m-158 16h0m22 11h0m129 1h0m46-6h0m41 14h0m-136 16h0m158 7h0m24-3h0m-15 16h0m32 2h0m-160 3h0m167 5h0m5 5h0m31 15h0m-121 2h0m7 3h0m111 0h0m1 0h0m-102 18h0m29 3h0m66 33h0m35 15h0m10 6h0"/>
<path stroke="#481f70" d="M1615 717h0"/>
<path stroke="#b2dd2d" d="M1404 495h0m-1 17h0m4 5h0m7-11h0m30 1h0m-29 15h0m3 2h0m11-4h0m73 2h0m-90 16h0m6 0h0m26 7h0m35-13h0m6 7h0m33 3h0m16-1h0m19 1h0m-129 6h0m15 1h0m23 6h0m6-5h0m25-3h0m23 11h0m41-4h0m0-6h0m24 3h0m-174 18h0m10-9h0m58 5h0m13-2h0m6 0h0m97-1h0m19 2h0m16 9h0m-144 2h0m5 6h0m34 0h0m24 1h0m9 4h0m34-7h0m12-2h0m-44 19h0m24-2h0m4 6h0m53-3h0m24 2h0m0-7h0m34 6h0m-122 10h0m4 3h0m13-2h0m21-1h0m13 6h0m4-12h0m32 9h0m3-4h0m13 5h0m-45 7h0m49 5h0m10-1h0m2 0h0m16 3h0m6 1h0m2-3h0m3-6h0m-100 19h0m65-5h0m4 5h0m6-2h0m10-4h0m1 8h0m-37 13h0m66-5h0m21 10h0m19-1h0m-85 11h0m11-8h0m16 8h0m26 0h0m4-4h0m22 2h0m-66 17h0m10-5h0m2-1h0m41 2h0m21 2h0m9-5h0m19-2h0m-78 16h0m15 10h0m53-6h0m26 5h0m-73 9h0m5 3h0m21 1h0m22-2h0m10-2h0m30-4h0m7 16h0m4 7h0m5-5h0m2 5h0m-56 9h0m8-2h0m41 2h0m-10 27h0m7-2h0m11 5h0"/>
<path stroke="#69cd5b" d="M1398 482h0m16 2h0m55 12h0m36 20h0m42 16h0m39 12h0m11 6h0m28 4h0m-36 14h0m43 0h0m8-5h0m-134 23h0m75 0h0m-126 4h0m18 1h0m20 0h0m15 0h0m162-1h0m20 3h0m-112 14h0m139 5h0m14-6h0m-156 12h0m7 10h0m178-6h0m-185 15h0m21-2h0m33-2h0m119-1h0m-95 34h0m150-7h0m-125 16h0m64 35h0m28 2h0"/>
<path stroke="#dae319" d="M1406 511h0m15 0h0m1 3h0m2-6h0m7 0h0m-25 13h0m31 9h0m19-10h0m31 8h0m1-1h0m-91 10h0m13-3h0m5 11h0m8-2h0m3-5h0m44-4h0m6 9h0m58 2h0m2-1h0m-111 15h0m60-7h0m13-1h0m33 6h0m34 1h0m-127 10h0m33 1h0m9-3h0m41-4h0m1 7h0m31-4h0m2-2h0m13 9h0m0-2h0m-27 8h0m16 0h0m4-4h0m16 13h0m1-8h0m18 8h0m21-2h0m-25 14h0m7 0h0m1-8h0m4-1h0m52 11h0m-57 1h0m21 13h0m22-10h0m20 10h0m33-1h0m-40 8h0m6 2h0m13 3h0m4 13h0m13-4h0m33-2h0m11 2h0m-41 11h0m19 7h0m4 3h0m1-9h0m34 3h0m-54 9h0m72 17h0m6 7h0m2-9h0m-27 23h0m31-11h0m2 11h0m15-9h0m1-1h0m7 2h0m9 4h0m-44 14h0m11 2h0m30-9h0m24 7h0m7 2h0m-27 6h0m3 10h0m1-3h0m-17 9h0m37-3h0m12 7h0m-12 13h0m2-6h0m9 0h0"/>
<path stroke="#5ac864" d="M1467 483h0m-33 9h0m20-1h0m57 1h0m-12 23h0m11-6h0m14 4h0m43 16h0m9-1h0m3 10h0m26 7h0m3-6h0m4 5h0m11 10h0m21 4h0m-49 5h0m-162 19h0m30 2h0m205-3h0m32 6h0m-279 1h0m40 4h0m6 1h0m8 3h0m27 3h0m20 1h0m105-8h0m41-2h0m25 8h0m-164 17h0m188-6h0m2-4h0m13 3h0m-194 13h0m226-1h0m-134 36h0m59 0h0m102-3h0m-166 14h0m0-7h0m35 4h0m12 1h0m3 18h0m146-10h0m-140 16h0m116 59h0m1 4h0m7 2h0"/>
<path stroke="#440154" d="M1423 637h0"/>
<path stroke="#3a538b" d="M1540 659h0"/>
<path stroke="#2a788e" d="M1561 487h0m12 181h0"/>
<path stroke="#2c718e" d="M1407 614h0"/>
<path stroke="#24868e" d="M1562 496h0m78 36h0m2 2h0m37 15h0m18 163h0"/>
<path stroke="#8ed645" d="M1414 486h0m-19 13h0m48-3h0m18-4h0m-36 22h0m50-5h0m23 2h0m2 3h0m-79 8h0m5 2h0m64-1h0m48 7h0m3-2h0m1 3h0m11-1h0m-42 2h0m41 6h0m7-4h0m-139 17h0m36-1h0m11 8h0m145-7h0m-180 19h0m37-6h0m62 4h0m115 4h0m-193 3h0m202 9h0m11-1h0m2-2h0m-161 11h0m29 0h0m2 8h0m118-11h0m17 2h0m12 9h0m-104 12h0m101-3h0m38 1h0m20 4h0m-165 2h0m27 8h0m110 1h0m19 2h0m-129 8h0m23 8h0m46-2h0m64-4h0m21 5h0m-101 17h0m4 11h0m23-3h0m19 0h0m88 3h0m21 15h0m23-1h0m-125 8h0m6-2h0m110 18h0m24-2h0m-85 8h0m48 26h0m13-11h0m-5 17h0m3 6h0m7-7h0"/>
<path stroke="#20938c" d="M1410 451h0m124 35h0m194 93h0m-179 73h0m25 16h0m63 17h0m101 56h0m35 11h0"/>
<path stroke="#1f9a8a" d="M1447 455h0m96 39h0m132 57h0m-117 87h0m13 12h0m83 33h0m87 35h0m21 28h0"/>
<path stroke="#482979" d="M1656 719h0"/>
<path stroke="#a0da39" d="M1413 485h0m20 4h0m-36 24h0m16-8h0m4 1h0m13 6h0m2-8h0m7 2h0m6-1h0m30 5h0m14 0h0m10 0h0m-39 17h0m69 2h0m-19 16h0m18-7h0m-90 8h0m35 2h0m87 3h0m-156 10h0m6 3h0m3-3h0m23 12h0m44-7h0m19 5h0m15 1h0m22-7h0m37-1h0m16 6h0m2-6h0m62 7h0m-171 9h0m2 5h0m38-7h0m45 1h0m49 4h0m25 1h0m18 0h0m-147 12h0m3-8h0m51 8h0m61-5h0m33-1h0m-102 14h0m50 8h0m60-3h0m-93 17h0m3 1h0m1-3h0m25 0h0m33-7h0m53 9h0m5 1h0m10-9h0m19 7h0m26-3h0m-125 10h0m36 10h0m67-7h0m17 2h0m39 2h0m-84 5h0m15 4h0m43 0h0m-82 20h0m15-2h0m60 5h0m2-6h0m19 5h0m16-1h0m-84 8h0m9-1h0m5 6h0m9 1h0m44-7h0m10 6h0m7-5h0m-45 17h0m17-3h0m31 0h0m20 4h0m22-1h0m-27 15h0m9-5h0m30-3h0m-80 20h0m38-5h0m5 1h0m6 22h0m19-9h0m5 11h0m-16 9h0m19 2h0m6 2h0m4 7h0"/>
<path stroke="#28ae80" d="M1471 483h0m5-3h0m72 31h0m92 41h0m-211 16h0m225-4h0m29 3h0m-193 9h0m-41 17h0m81 20h0m268 28h0m-231 3h0m17 19h0m12-1h0m75 14h0m5 16h0m22 14h0m27 5h0m83 60h0"/>
<path stroke="#3e4c8a" d="M1817 814h0"/>
<path stroke="#ece51b" d="M1398 516h0m19-3h0m3 2h0m7 1h0m46 1h0m-79 1h0m3 9h0m2-6h0m3 3h0m6 3h0m2 4h0m1-4h0m4-5h0m0 5h0m9 0h0m12-1h0m2-4h0m0-2h0m3 4h0m24 7h0m16 0h0m5-9h0m-72 17h0m12-6h0m5 2h0m16-2h0m5 5h0m1-2h0m4 3h0m2 2h0m12-4h0m1 7h0m3-1h0m25-6h0m11 2h0m11-2h0m3 2h0m-111 11h0m3-3h0m9 0h0m1 4h0m50 0h0m1 6h0m4-11h0m7 11h0m2 0h0m1-7h0m4-4h0m4 9h0m8 0h0m2 3h0m1-3h0m1-7h0m11 5h0m21-2h0m23-1h0m-118 15h0m8-3h0m58 1h0m6 1h0m9 7h0m1 2h0m6-9h0m5 4h0m2-4h0m0 7h0m-13 9h0m1 0h0m49 0h0m1 0h0m4 0h0m4 6h0m2-1h0m2-4h0m6 1h0m18-3h0m-57 13h0m39 6h0m10-7h0m3 0h0m7 6h0m23-2h0m-71 11h0m29 1h0m23-4h0m5 11h0m3-5h0m0 2h0m10-1h0m20 1h0m-58 12h0m26 4h0m12-8h0m6-1h0m8 10h0m22 1h0m9-7h0m6 4h0m-41 4h0m16 13h0m5-5h0m21 3h0m5-5h0m2-3h0m2 4h0m9-5h0m-15 15h0m20 2h0m23 5h0m20 3h0m-43 14h0m11-5h0m2 3h0m4-4h0m19 1h0m14 2h0m-29 4h0m2 5h0m19-3h0m2-2h0m7 13h0m7-9h0m-4 17h0m5-7h0m1 12h0m1-9h0m9 8h0m12-6h0m-24 12h0m7 2h0m6 0h0m9-5h0m7 10h0m6 1h0m4-3h0m3-6h0m-7 19h0m4 0h0m13-2h0m0-1h0m11 0h0m0-3h0m2 10h0m16 2h0m-40 2h0m14 8h0m4-9h0m7 8h0m14 13h0m0 4h0m0 3h0"/>
<path stroke="#20938c" d="M1465 475h0m56 40h0m230 207h0m10 33h0m46 26h0"/>
<path stroke="#c8e020" d="M1399 487h0m-5 12h0m1-4h0m51 4h0m-26 12h0m15-1h0m37 3h0m-77 14h0m1-5h0m1 5h0m2-6h0m9-3h0m2 9h0m23-9h0m6 6h0m6 0h0m2 1h0m16 6h0m10-11h0m9 11h0m7 0h0m11-4h0m6 0h0m-101 12h0m13-4h0m16 10h0m18-2h0m4 2h0m14-2h0m25-5h0m20 2h0m-114 7h0m36 2h0m12 3h0m16 7h0m12-4h0m8-6h0m26-1h0m8 3h0m25 2h0m4-1h0m10 3h0m36-4h0m-177 14h0m30-1h0m15 8h0m45-8h0m27-3h0m4 9h0m23-9h0m11 11h0m11-7h0m2-5h0m15 8h0m-85 6h0m29 1h0m28 5h0m72 4h0m0-10h0m-60 19h0m1-1h0m88 8h0m-108 3h0m55 8h0m3-6h0m52 8h0m-74 12h0m71-7h0m32 8h0m4-5h0m37 6h0m-117 4h0m27 10h0m29 1h0m4-2h0m1 3h0m-49 6h0m43 7h0m3-3h0m9 3h0m6 0h0m9-12h0m38 4h0m-79 11h0m41 2h0m9-2h0m10 12h0m43-1h0m8-7h0m-34 13h0m24 9h0m-10 12h0m7-6h0m17 4h0m2-7h0m1 7h0m8-4h0m3 8h0m16-1h0m10 0h0m10-10h0m13 2h0m-70 12h0m20 9h0m29 0h0m2-3h0m2-5h0m6 6h0m2 3h0m6-6h0m5 4h0m-71 6h0m13 0h0m29 0h0m10-1h0m15 5h0m-7 15h0m13-7h0m1 7h0m-8 10h0m12 10h0"/>
<path stroke="#1fa187" d="M1551 493h0m42 36h0m-18 18h0m102 10h0m7-11h0m-182 20h0m184-5h0m-243 35h0m37-1h0m-26 25h0m334 0h0m17 3h0m-283 15h0m70 22h0m6 2h0m39 27h0m12 8h0m41 2h0"/>
<path stroke="#5ac864" d="M1424 476h0m44 17h0m9 6h0m8 10h0m1 5h0m6-10h0m15 4h0m60 11h0m10 25h0m-90 6h0m152 0h0m16 18h0m-221 9h0m114 7h0m-8 40h0m35 14h0m82 28h0m144 14h0m36 6h0m15 10h0m-110 20h0m2 5h0m110 2h0m-62 26h0m33 12h0m19 15h0m4 4h0"/>
<path stroke="#228d8d" d="M1617 698h0m229 95h0"/>
<path stroke="#1f9a8a" d="M1403 454h0m131 24h0m13 38h0m64 7h0m19 8h0m8 2h0m-119 90h0m-12 10h0m38 13h0m272-2h0m-201 25h0m110 38h0"/>
<path stroke="#b2dd2d" d="M1414 497h0m-6 15h0m11 1h0m30-1h0m24-2h0m1 5h0m-38 14h0m4 1h0m24 0h0m42 1h0m-100 13h0m11-2h0m49-7h0m41 5h0m49 0h0m-19 6h0m13 4h0m4 0h0m3 1h0m11 2h0m14 3h0m-120 6h0m24 7h0m42-1h0m31-7h0m-52 21h0m10 4h0m46-4h0m9-2h0m12-2h0m6 1h0m1-2h0m18 7h0m3-5h0m31 8h0m-95 10h0m5-3h0m14 2h0m8-2h0m83-1h0m7-5h0m23 9h0m-111 7h0m68 1h0m18 10h0m1-10h0m5 6h0m16-4h0m30 8h0m-152 3h0m65 0h0m44 4h0m19 4h0m6-8h0m5 11h0m-36 4h0m8 10h0m1-9h0m8 1h0m58-1h0m-85 19h0m79-5h0m-39 23h0m34-3h0m2 2h0m8-11h0m15 3h0m26 18h0m24 2h0m-70 13h0m48-4h0m5 6h0m1-5h0m9 5h0m31 2h0m3 1h0m14 11h0m-52 7h0m6 8h0m9-10h0m39-2h0m1 7h0m-27 10h0m7 8h0m-6 15h0m17 5h0m8 2h0m6 23h0"/>
<path stroke="#7ad151" d="M1401 471h0m40 17h0m-46 6h0m28 0h0m33 12h0m5 6h0m59 29h0m31-9h0m23 7h0m11 2h0m1-1h0m-22 10h0m58-1h0m4 12h0m-22 22h0m34-2h0m10-3h0m-149 11h0m20 12h0m17 1h0m8 1h0m54 4h0m-60 12h0m81-3h0m22 6h0m20 20h0m6 7h0m30-2h0m-33 11h0m15 2h0m116-2h0m0 1h0m8 12h0m-110 12h0m65-10h0m57-1h0m4 7h0m-132 7h0m158 4h0m-86 24h0m75 20h0m13-4h0m0 36h0m7 9h0"/>
<path stroke="#8ed645" d="M1417 500h0m36 1h0m-45 13h0m42-8h0m73 10h0m4 8h0m9-1h0m-3 13h0m11-3h0m26 11h0m23 0h0m-194 14h0m44-7h0m2 6h0m115-4h0m5 3h0m12 1h0m-56 14h0m14 0h0m121-9h0m-201 16h0m47-2h0m9 9h0m132-1h0m-138 11h0m168-4h0m1-2h0m15 11h0m0-3h0m-148 18h0m10-1h0m32-5h0m72-6h0m48 8h0m0 0h0m12 3h0m-115 4h0m13 3h0m113-3h0m-108 14h0m3 9h0m9-6h0m117 1h0m-118 18h0m47 0h0m4-5h0m101 2h0m5 3h0m-130 11h0m7-6h0m15 0h0m49 11h0m71-1h0m4-6h0m-118 14h0m26 1h0m16 2h0m14 27h0m8-1h0m32-3h0m62 5h0m14-5h0m-90 16h0m14 7h0m52-10h0m-37 19h0m9 0h0m20 22h0m30 22h0"/>
<path stroke="#306a8e" d="M1578 482h0"/>
<path stroke="#33638d" d="M1652 539h0"/>
<path stroke="#414487" d="M1786 761h0"/>
<path stroke="#3dbc74" d="M1481 485h0m17 11h0m46 6h0m-135 14h0m195 20h0m10 7h0m44 29h0m-211 14h0m223-11h0m46 14h0m-154 35h0m102 3h0m98-2h0m7-5h0m18 8h0m-195 33h0m89 25h0m29 9h0m75 11h0m13 48h0"/>
<path stroke="#32b67a" d="M1410 468h0m133 36h0m21 7h0m100 50h0m18 10h0m-70 14h0m-109 32h0m15 2h0m71 26h0m37 12h0m5-5h0m181 0h0m3 3h0m-231 6h0m142 58h0"/>
<path stroke="#22a884" d="M1501 479h0m59 20h0m-27 7h0m6-2h0m115 77h0m29-7h0m-154 58h0m181 22h0m103 24h0m-146 19h0m17 6h0m139 67h0"/>
<path stroke="#4ac16d" d="M1413 485h0m23-6h0m0 1h0m8 13h0m34 4h0m29 23h0m30-2h0m-82 25h0m122-7h0m-26 16h0m76-1h0m-1 19h0m-132 27h0m106-4h0m-25 20h0m156-11h0m-170 23h0m173-6h0m47 6h0m-223 12h0m3-2h0m13 3h0m11 1h0m180 1h0m-180 4h0m76 12h0m126-9h0m-66 13h0m112 19h0m23 4h0m-112 27h0m-7 7h0m22 20h0m11 3h0m79 15h0"/>
<path stroke="#2a788e" d="M1499 651h0"/>
<path stroke="#24868e" d="M1522 476h0m-109 110h0m110 45h0"/>
<path stroke="#dae319" d="M1408 504h0m24 0h0m4 4h0m19 8h0m24 1h0m-72 12h0m41-9h0m48 3h0m-102 22h0m12-12h0m40 7h0m3 4h0m13-4h0m1 0h0m1 5h0m9-7h0m3 6h0m16-10h0m18 11h0m-74 8h0m22-7h0m32 13h0m8-5h0m4 3h0m15-7h0m15 6h0m3-8h0m2 4h0m-63 8h0m22 2h0m2-2h0m7 13h0m3-4h0m3 0h0m26-3h0m8-2h0m5 8h0m9-10h0m8-2h0m5 8h0m18-2h0m-42 14h0m0 15h0m15-2h0m12 0h0m27-1h0m6 8h0m58-3h0m-72 5h0m13 5h0m37 4h0m8-9h0m19 4h0m-54 14h0m16-3h0m24 10h0m7-7h0m-4 22h0m18 1h0m6-7h0m56 5h0m-71 9h0m32 7h0m59-8h0m-43 11h0m1 6h0m3 0h0m20-6h0m18 0h0m-43 19h0m35-5h0m0 7h0m7-3h0m10 11h0m0 7h0m0-1h0m12-3h0m2 1h0m18 4h0m6-10h0m6 0h0m15 10h0m-41 8h0m21 4h0m44 3h0m-46 4h0m26 7h0m1 2h0m12-10h0m1-1h0m4 3h0m-39 13h0m10 1h0m31 8h0m-23 8h0m12 1h0m8 3h0m7-9h0"/>
<path stroke="#69cd5b" d="M1397 478h0m10-2h0m22 3h0m-16 23h0m86 10h0m45 4h0m-67 28h0m121 11h0m-189 8h0m66 0h0m176 6h0m15 8h0m-197 12h0m14 3h0m6 7h0m37 1h0m181-1h0m-15 13h0m17-8h0m16 10h0m-192 2h0m23 13h0m21-5h0m-15 8h0m51 12h0m0 5h0m2-2h0m70 18h0m15 3h0m121 1h0m-137 14h0m100-9h0m-70 22h0m9 2h0m15 0h0m32-8h0m-40 10h0m37 28h0m52 11h0m28 25h0m8 1h0"/>
<path stroke="#a0da39" d="M1395 483h0m4-5h0m1 5h0m-1 17h0m36-7h0m-22 19h0m7-4h0m20 1h0m19-4h0m1 6h0m13 5h0m55 10h0m-117 14h0m26-2h0m50-2h0m45 0h0m-135 14h0m83-2h0m5 5h0m63-7h0m1 0h0m10 9h0m11 0h0m6-6h0m2-3h0m-141 27h0m70-12h0m27 1h0m15 8h0m43-4h0m-118 8h0m93 2h0m62 1h0m4-1h0m9 6h0m2 3h0m6-2h0m-159 5h0m21 6h0m53 5h0m97-5h0m-64 10h0m-31 13h0m3 0h0m30 4h0m41 2h0m94 6h0m-51 12h0m47-6h0m2-5h0m1 10h0m28-8h0m1 11h0m2-6h0m-105 10h0m30-2h0m14 0h0m73 8h0m-93 16h0m16 1h0m73-1h0m3-2h0m-33 10h0m33 0h0m58 1h0m-98 18h0m8-5h0m81 8h0m21 4h0m-78 15h0m1-3h0m62 2h0m24 2h0m-53 11h0m51 4h0"/>
</g>
<g fill="none" stroke-linecap="round" stroke-width="12.8">
<path stroke="#28ae80" d="M300 1455h0m4-2h0m0-7h0m4 9h0m24-3h0m83 3h0m-126 7h0m4 3h0m28-4h0m2 7h0m1-9h0m14 4h0m16 2h0m2-2h0m3 6h0m40-1h0m-79 6h0m1 3h0m7 0h0m35-2h0m1-2h0m3 3h0m3 3h0m16 4h0m8-2h0m1-8h0m3 9h0m1-6h0m2 1h0m7 0h0m-89 14h0m31-7h0m12 13h0m14-6h0m1-6h0m1 1h0m3 1h0m16 4h0m4 6h0m14 0h0m9-2h0m3-3h0m2-4h0m11-3h0m6 11h0m7-1h0m22-9h0m-118 13h0m5 0h0m23 4h0m35-3h0m17 7h0m3 3h0m31-3h0m11 3h0m-67 7h0m14-1h0m1 0h0m33 2h0m1 6h0m1-3h0m5-1h0m9-4h0m7-4h0m34 13h0m69-11h0m2 8h0m-127 4h0m33 11h0m20-10h0m7 3h0m19 9h0m5-2h0m9-6h0m-53 17h0m11-4h0m1 1h0m41 4h0m26-3h0m2 3h0m-239 15h0m205 3h0m33-4h0m9-9h0m6 9h0m6 2h0m23 2h0m-210 3h0m86 0h0m50 2h0m8 4h0m6-1h0m13-5h0m16 6h0m4-7h0m6 4h0m1-5h0m7 5h0m6-5h0m0 4h0m3-2h0m5 10h0m-132 14h0m142-9h0m5-3h0m4 9h0m23 0h0m8 4h0m-44 1h0m24 0h0m10 2h0m13-1h0m5 10h0m-238 9h0m243-6h0m3 1h0m0 0h0m3 9h0m30-6h0m16 9h0m-202 2h0m183-1h0m3 11h0m7-1h0m14-4h0m6-3h0m-112 16h0m81-3h0m-405 21h0m356-3h0"/>
<path stroke="#46327e" d="M293 1193h0m10 6h0m2-4h0m4-5h0m16 7h0m2 0h0m2 1h0m5 2h0m4-7h0m13-3h0m20 6h0m6 3h0m5 3h0m2-9h0m2-1h0m7 10h0m12-2h0m-29 8h0m6 9h0m7-4h0m3-6h0m9 6h0m4-6h0m1 8h0m3-5h0m13 2h0m12 5h0m4-11h0m23 8h0m-84 9h0m20 2h0m12-2h0m4-5h0m8 0h0m0 0h0m18 11h0m8-11h0m10 8h0m2 5h0m11-1h0m6-6h0m-52 9h0m16 0h0m14 10h0m7 1h0m3 0h0m18-4h0m2 1h0m2-2h0m2 6h0m4-2h0m5 2h0m3-12h0m2 4h0m3 6h0m3 0h0m8 2h0m2-10h0m-51 11h0m49 1h0m3 1h0m3 5h0m1-7h0m16 6h0m8 1h0m6 6h0m-35 3h0m18 8h0m6 3h0m2-7h0m16 3h0m15-3h0m-23 8h0m4 10h0m4-4h0m3-1h0m0 0h0m8-3h0m16 0h0m8-1h0m13 2h0m1 7h0m3 0h0m-32 11h0m10-3h0m39 6h0m39 2h0m-68 6h0m9-1h0m18 3h0m5 0h0m2-3h0m4-2h0m7 8h0m11 0h0m4-6h0m4-1h0m6 11h0m1-5h0m4 3h0m2-10h0m4 8h0m-33 6h0m2 1h0m13 10h0m41-9h0m3 5h0m-16 9h0m2 1h0m8 6h0m16 2h0m8-6h0m6-3h0m-10 19h0m6-1h0m4-7h0m2 8h0m4 1h0m3-3h0m5-2h0m3 6h0m-13 16h0m0-10h0"/>
<path stroke="#33638d" d="M318 1266h0m-28 20h0m2-2h0m1 1h0m6-10h0m5 9h0m16-3h0m2 1h0m45 3h0m-69 9h0m4-1h0m9 6h0m17-1h0m2 3h0m2-5h0m0-3h0m25 6h0m4 0h0m3 2h0m-42 3h0m26 0h0m5-1h0m6 0h0m35 10h0m0 2h0m40 0h0m-61 4h0m3-2h0m15 12h0m2 0h0m15-5h0m1-2h0m0-3h0m18 0h0m1 1h0m10 3h0m2-6h0m1 11h0m30 1h0m-52 8h0m12 1h0m0-2h0m4-3h0m6-2h0m3 1h0m6 1h0m4 4h0m5-4h0m57 5h0m208 5h0m-250 9h0m10-4h0m2-2h0m0 3h0m7-1h0m10 7h0m1-2h0m3-4h0m3 2h0m-17 17h0m4-10h0m11 1h0m0-1h0m12 10h0m2-5h0m3 7h0m5-1h0m0-6h0m1 1h0m5-6h0m10 12h0m3 2h0m7 0h0m0 5h0m16 6h0m3-5h0m0 1h0m8 2h0m-23 6h0m10 5h0m5-4h0m11 1h0m0 0h0m5 3h0m7-2h0m1 9h0m2 0h0m3-10h0m19 8h0m-8 15h0m4-9h0m20-3h0m2 3h0m1 0h0m5 2h0m2 6h0m-26 3h0m11 3h0m5 2h0m14 4h0m12 5h0m20 1h0m11 0h0m4 9h0m13 0h0m2 1h0m5 0h0m-29 6h0m24 4h0m1 6h0m0-11h0m15 1h0m0-1h0m1 6h0m-3 10h0m15-2h0m0 3h0m6 3h0m-2 11h0m4-2h0m-33 136h0"/>
<path stroke="#ece51b" d="M300 1562h0m0 10h0m4 9h0m4-12h0m8 10h0m2 0h0m3 0h0m1-6h0m2-1h0m27 6h0m4-2h0m16 1h0m19-4h0m-97 16h0m2-6h0m6-1h0m1 6h0m1-5h0m3 12h0m4-12h0m25 7h0m7-7h0m4 5h0m4-2h0m1-2h0m1 3h0m7-4h0m2 9h0m11-2h0m22-1h0m-85 17h0m32-4h0m18-3h0m2-1h0m3 5h0m1 0h0m5 1h0m16 1h0m21-3h0m2 7h0m29 0h0m-139 14h0m1-3h0m2-6h0m3-3h0m1 5h0m7 5h0m2-7h0m14 4h0m8-6h0m9 2h0m12 8h0m16 1h0m13-11h0m4 10h0m6-6h0m2-5h0m4 1h0m3 11h0m3-10h0m3 4h0m12-3h0m8 7h0m6-8h0m7 5h0m4-1h0m5 1h0m-146 13h0m5 5h0m0-11h0m0 7h0m7-5h0m12 7h0m6 1h0m12 2h0m2-2h0m1 0h0m12-3h0m7-3h0m4-1h0m0 3h0m2 0h0m16 0h0m3 2h0m10-8h0m20 5h0m2-5h0m10 4h0m3-4h0m9-1h0m12 9h0m0-7h0m1-2h0m9 1h0m5 8h0m14-8h0m3 11h0m-197 13h0m36-8h0m5 8h0m18 2h0m2-12h0m6 0h0m8 12h0m36-4h0m5-5h0m1 5h0m5 3h0m5-9h0m1-2h0m5 0h0m26 9h0m12-9h0m5 8h0m14-5h0m3 6h0m16-5h0m19 1h0m40 5h0m5-8h0m-263 24h0m3-1h0m1-6h0m7-4h0m4 2h0m37 8h0m5-7h0m6 7h0m17-12h0m4 7h0m16-6h0m13 10h0m8-1h0m13-8h0m27 1h0m17-1h0m3-1h0m4 11h0m8-6h0m3-2h0m32 0h0m13-1h0m-128 11h0m74 1h0m13 1h0m52 0h0"/>
<path stroke="#dae319" d="M336 1544h0m-30 12h0m2 9h0m15 2h0m-28 6h0m12 6h0m25-7h0m7 5h0m8 4h0m6-3h0m23-3h0m13-7h0m-78 19h0m21-5h0m9 6h0m9-2h0m2-2h0m11-2h0m23 1h0m29 2h0m0-1h0m6 8h0m22-1h0m-97 5h0m5 5h0m22-4h0m1 10h0m10 1h0m10-3h0m24-4h0m6 4h0m23 3h0m19-4h0m-159 9h0m58 1h0m17-3h0m7 6h0m38-2h0m4-4h0m13 0h0m12 1h0m6 6h0m7 5h0m12-9h0m2 6h0m39-1h0m-193 15h0m16-7h0m24 8h0m16-11h0m72 7h0m1 3h0m26 2h0m7 1h0m7-5h0m27-7h0m5 12h0m20-7h0m-207 17h0m62-7h0m9-1h0m21 6h0m32-3h0m24-4h0m13 8h0m0 1h0m13-1h0m9 5h0m1-4h0m1-6h0m8 2h0m9 6h0m6-3h0m10 5h0m-236 2h0m10 1h0m25 3h0m36 2h0m69-2h0m27 4h0m44-5h0m11 1h0m7-4h0m3 3h0m2-4h0m2 4h0m21 6h0m13-2h0m16-5h0m28 7h0m-89 6h0m40-1h0m27 1h0m2-2h0"/>
<path stroke="#4ac16d" d="M456 1468h0m-131 19h0m2 9h0m32-6h0m2 1h0m-37 12h0m9 4h0m9 2h0m15-5h0m1-3h0m6 7h0m6-4h0m2-6h0m-13 15h0m1 7h0m7-5h0m1 0h0m5 1h0m9-3h0m11 2h0m13 9h0m8-7h0m-123 14h0m78-5h0m14 0h0m14 13h0m6-13h0m22 3h0m19 8h0m17-8h0m17 9h0m-45 5h0m5-3h0m4 4h0m6 1h0m1 3h0m20-2h0m2 3h0m6-2h0m6 2h0m6 3h0m16 1h0m-14 5h0m1 7h0m3-1h0m16 1h0m6-6h0m-106 14h0m37 0h0m46-5h0m2 3h0m6-3h0m3 0h0m21 8h0m1 5h0m14-4h0m3-5h0m11 4h0m2 0h0m2 3h0m18 1h0m3-8h0m5 8h0m76-10h0m-119 12h0m17 5h0m8-4h0m3 2h0m4 5h0m3-7h0m2 1h0m17 10h0m9-2h0m-18 9h0m5 2h0m14 6h0m12-2h0m8 2h0m6-6h0m9 4h0m-62 9h0m35-2h0m13 2h0m13-1h0m0 1h0m19 4h0m8-6h0m-6 21h0m3-10h0m8 6h0m0 5h0m5-6h0m15 2h0m-363 14h0m352-5h0m3-3h0m3 12h0m3-7h0m7-2h0m0 2h0m21 6h0m2 0h0m-23 3h0m24 11h0m2-3h0m6-1h0m9 5h0m9-5h0"/>
<path stroke="#2c718e" d="M485 1250h0m-173 26h0m112 14h0m-119 24h0m9-5h0m10-1h0m-27 8h0m3 1h0m10 4h0m1-1h0m11-3h0m7 0h0m6 7h0m3 5h0m-18 3h0m17-2h0m19 10h0m4-4h0m11 0h0m2-3h0m9 1h0m1-4h0m8 12h0m-15 5h0m1-2h0m7 6h0m13-6h0m1 5h0m12 5h0m2-3h0m4 4h0m3-10h0m2 10h0m8-12h0m2 5h0m2 6h0m31-4h0m-42 9h0m12 5h0m11-5h0m22 4h0m0 15h0m3-1h0m5-2h0m10-4h0m12 7h0m1-2h0m2 7h0m-21 3h0m32-1h0m4 0h0m1 7h0m18 5h0m5 0h0m7 1h0m5 8h0m1 5h0m9-5h0m3-1h0m1 1h0m1 3h0m7 6h0m2-2h0m4 6h0m30 5h0m1-6h0m39 5h0m-34 13h0m3-9h0m13 13h0m1-2h0m1-5h0m5-3h0m3 10h0m1-4h0m3-4h0m12 8h0m-16 12h0m3-10h0m6 4h0m9-4h0m5 2h0m1-2h0m3 1h0m7 4h0m1 5h0m3-1h0m-13 7h0m13 10h0m4-8h0m0-4h0m7 8h0m1-4h0m3 5h0m17-7h0m-17 20h0m5-8h0m3 8h0m5 3h0m7-12h0m3 13h0m1-5h0m13-3h0m-2 10h0m1 10h0m4-3h0m2-2h0m2-3h0m9 0h0m-353 22h0"/>
<path stroke="#365c8d" d="M409 1203h0m89 40h0m-194 9h0m7 7h0m-7 8h0m7-6h0m5 8h0m165 1h0m61 0h0m-240 10h0m4 0h0m5-6h0m7 7h0m9 1h0m8 5h0m8-9h0m16-3h0m10 6h0m3 0h0m2 4h0m25-4h0m-72 8h0m1-1h0m12 2h0m17-2h0m18 4h0m15 4h0m6-4h0m1 4h0m2 5h0m2-8h0m2 4h0m0-4h0m11 3h0m-52 6h0m2 6h0m15-3h0m19 1h0m3-4h0m1 1h0m36 4h0m19 5h0m1 3h0m11-1h0m3-2h0m-59 9h0m17-4h0m13 9h0m2 2h0m7-6h0m8-1h0m16 7h0m30 0h0m-38 9h0m2-7h0m9 10h0m15-6h0m1 7h0m9-4h0m6 1h0m9 5h0m5-4h0m225-4h0m-221 16h0m17-5h0m15 0h0m2 9h0m10-5h0m-75 9h0m21-1h0m42 8h0m6 2h0m5 1h0m1-2h0m2-3h0m3 5h0m2 2h0m8-9h0m5 2h0m28 3h0m-55 11h0m15-3h0m2 3h0m11-1h0m21 0h0m10 7h0m0-7h0m-8 11h0m19-2h0m0 8h0m12 4h0m5-10h0m0 7h0m17-2h0m5 4h0m-18 11h0m11-7h0m22 6h0m6 3h0m14 3h0m-53 5h0m23 1h0m2-2h0m7 4h0m4-5h0m2 3h0m5 4h0m5 0h0m10-2h0m4 3h0m3-4h0m-42 9h0m18 5h0m4-4h0m6-2h0m3 3h0m8 3h0m5 4h0m7-4h0m1-5h0m2 11h0m3-7h0m-13 13h0m2-4h0m8 1h0m3 10h0m12-8h0m5 7h0m1-8h0m-21 13h0"/>
<path stroke="#440154" d="M668 1187h0m10 59h0"/>
<path stroke="#c8e020" d="M305 1538h0m-13 14h0m5-10h0m2 3h0m9 6h0m5-8h0m9 9h0m4 0h0m18-7h0m-55 9h0m21 3h0m15 8h0m38-4h0m3 6h0m10-5h0m-61 8h0m26-2h0m16 5h0m10 8h0m1 13h0m5-8h0m14 4h0m1-3h0m10 5h0m1-1h0m5 1h0m22-8h0m2 3h0m11 4h0m53 4h0m-113 2h0m13 3h0m35-3h0m10 12h0m4-2h0m9-2h0m16-9h0m2 10h0m1 2h0m2-5h0m20 6h0m-97 4h0m28-2h0m54 6h0m26-5h0m14 7h0m3 3h0m-174 9h0m104-2h0m23 0h0m36-3h0m14 10h0m17-8h0m15 4h0m2 2h0m3 1h0m31-2h0m-194 16h0m2-6h0m124 6h0m7-10h0m3 2h0m19 2h0m24 2h0m15 4h0m-258 11h0m92 4h0m42 1h0m105-4h0m6-6h0m1-3h0m14 0h0m1 5h0m7 3h0m1 8h0m10-1h0m38 0h0"/>
<path stroke="#3e4c8a" d="M303 1225h0m6-4h0m13 10h0m-28 11h0m1-7h0m11 4h0m8 2h0m0-5h0m4 7h0m8-3h0m9-7h0m16 12h0m7-10h0m8 10h0m5-3h0m-62 8h0m42 4h0m1-1h0m4-2h0m3 1h0m0 7h0m6-2h0m19-1h0m25-3h0m8 2h0m10 4h0m-95 4h0m25-1h0m24 9h0m8-7h0m8 0h0m8-3h0m2 11h0m6-8h0m1 6h0m-31 10h0m16-2h0m0 1h0m8-1h0m4 0h0m10 8h0m5-8h0m3-4h0m5 11h0m11-1h0m28-2h0m59-2h0m-110 10h0m17 2h0m6 6h0m12 0h0m3-7h0m5 4h0m3-6h0m5 0h0m25 8h0m34 3h0m-57 2h0m14 0h0m6 10h0m2-2h0m2-4h0m1 1h0m2 2h0m6-4h0m2 7h0m1 3h0m6-9h0m9 2h0m6 6h0m5-2h0m11-2h0m-51 6h0m28 10h0m2 1h0m1-11h0m32 13h0m1 0h0m2-3h0m3-1h0m0 2h0m5-10h0m4 7h0m-22 8h0m9 11h0m1-2h0m3-4h0m8-1h0m1 2h0m2-4h0m3 8h0m2-11h0m19 3h0m5 4h0m-34 15h0m3-4h0m7 1h0m3-4h0m4 2h0m8 4h0m2-8h0m1 1h0m0 2h0m9 9h0m17-9h0m3 1h0m14 3h0m2 2h0m4-6h0m65-2h0m-91 25h0m3-4h0m10-6h0m6 1h0m11-2h0m7 12h0m13-2h0m1-6h0m5 0h0m-20 15h0m23 7h0m3-1h0m29 0h0m28-4h0m-58 15h0m11-2h0m1-2h0m0 4h0m11 4h0m25-3h0m4 3h0m1-11h0m-32 13h0m8 6h0m7 6h0m5-12h0m18-1h0m1 2h0m3 11h0m4-6h0m-38 11h0m16 0h0m14 5h0m4 0h0m4-5h0m4 3h0"/>
<path stroke="#7ad151" d="M291 1498h0m7 13h0m3 3h0m18 0h0m16 7h0m-36 9h0m17-2h0m6-1h0m17 5h0m2 4h0m21 1h0m6 2h0m2 0h0m2-1h0m1-3h0m-51 9h0m20-3h0m4 2h0m6-2h0m8 4h0m18 1h0m7 0h0m2-5h0m1 0h0m12 6h0m1 4h0m1-4h0m15 1h0m-32 9h0m3 0h0m16 3h0m18-4h0m11-1h0m3 12h0m3-12h0m7 9h0m4-1h0m7-1h0m7 1h0m4-3h0m11 2h0m-39 9h0m19 6h0m8-6h0m2 2h0m5 1h0m19 15h0m5-5h0m9 1h0m7 9h0m23-3h0m1-4h0m-12 9h0m3 7h0m13-2h0m26 4h0m-105 8h0m83 1h0m6 2h0m6-6h0m16 9h0m10 0h0m4 2h0m1-5h0m10 0h0m11-2h0m-16 10h0m4 8h0m2-8h0m0 3h0m2 0h0m1 6h0m18-6h0m1 5h0m8-5h0m-336 15h0m325 3h0m12-4h0m0 9h0m11-5h0m14 1h0m3 1h0m18 2h0m16-9h0m-49 13h0m13 10h0m15 0h0m12-8h0m0-3h0m2 9h0m1-5h0m-258 10h0m291 0h0"/>
<path stroke="#24868e" d="M295 1349h0m22 2h0m34 1h0m-53 10h0m13 3h0m0 2h0m8 4h0m12-12h0m2 6h0m5-1h0m2 6h0m8-2h0m6-5h0m1 5h0m9-1h0m4 0h0m22 2h0m-53 12h0m6-6h0m16 10h0m2-13h0m14 1h0m1 8h0m1 0h0m7 4h0m2-4h0m4-3h0m10-6h0m4 10h0m2-2h0m25 4h0m86-8h0m-145 11h0m1 11h0m14-11h0m4 3h0m1 0h0m8 1h0m3-4h0m3 0h0m2 5h0m25-2h0m15-3h0m6 11h0m0-8h0m10 6h0m7-4h0m-56 11h0m9-2h0m5 2h0m5 4h0m10-1h0m1 1h0m0-4h0m16 0h0m7 8h0m1-5h0m9-5h0m-21 13h0m7 5h0m7 3h0m5-1h0m1-4h0m4 2h0m6 2h0m12-5h0m12 7h0m4-9h0m3 2h0m3 8h0m4 2h0m-33 3h0m23 7h0m2 3h0m0-3h0m1-8h0m1 10h0m5-4h0m6-4h0m2 2h0m9 8h0m15-3h0m1 3h0m104 0h0m-125 6h0m18-3h0m1 1h0m4 5h0m1-6h0m6 7h0m6-1h0m14-3h0m7 4h0m9 3h0m0 2h0m4-3h0m-33 14h0m7 3h0m13 0h0m13-6h0m1 6h0m-24 1h0m17 6h0m2-2h0m3 0h0m13-3h0m16 5h0m0 5h0m1-2h0m15 3h0m-53 5h0m37-2h0m21 7h0m1-8h0m4 0h0m1 5h0m1-3h0m5 2h0m5 2h0m1 7h0m1-4h0m5-2h0m8 3h0m-63 9h0m24-5h0m18 4h0m8 4h0m10-8h0m8 7h0m0-2h0m5 6h0m0-5h0m3 6h0m14-2h0m6 0h0m7 1h0m-305 4h0m251 1h0m25 5h0m1-7h0m13 2h0m2 9h0m1 2h0m3-5h0m7-4h0m14 8h0m-21 2h0m10 8h0m6-3h0m0 3h0m4-2h0m7 6h0m5 0h0m-4 7h0"/>
<path stroke="#2a788e" d="M291 1323h0m3 2h0m2-3h0m28 4h0m15 2h0m-39 12h0m3-10h0m3 6h0m7 5h0m5-11h0m13 11h0m8-1h0m1-7h0m6 4h0m14 1h0m4-2h0m-30 9h0m9 5h0m16 3h0m3-8h0m8 0h0m3 2h0m3 9h0m5-1h0m4-11h0m8 5h0m12 2h0m1-2h0m-53 10h0m53 0h0m2 8h0m4-3h0m3-2h0m2 2h0m0 2h0m5-6h0m19 4h0m9 4h0m-33 8h0m10 0h0m5-3h0m3 2h0m40 16h0m4-3h0m9 2h0m7 3h0m5-4h0m3 8h0m4-4h0m13 0h0m-14 11h0m5 1h0m1-5h0m2 6h0m24 7h0m6 0h0m-29 2h0m27 2h0m0-3h0m16 3h0m7 6h0m8 3h0m12-4h0m1-2h0m4 7h0m-8 9h0m30-1h0m3 9h0m4 1h0m1 5h0m1 5h0m6-7h0m8 0h0m1 3h0m4 3h0m2-1h0m5 1h0m-27 3h0m38 4h0m2 3h0m4-4h0m3 4h0m5 2h0m25 3h0m-26 4h0m9 10h0m4-13h0m4 5h0m4 6h0m9-3h0m1 0h0m1-7h0m-17 19h0m24 3h0m10-8h0m2 10h0m10-2h0m-18 5h0m5 12h0m25-5h0m5 1h0m0-3h0m3-4h0m1 18h0m-156 52h0"/>
<path stroke="#b2dd2d" d="M336 1532h0m-31 11h0m8 6h0m22-8h0m15 9h0m15 0h0m-64 5h0m21 10h0m24-11h0m3 4h0m6 7h0m24-4h0m3 5h0m15-2h0m6-3h0m3 5h0m-49 8h0m11-2h0m13-1h0m0 2h0m6-5h0m7 13h0m9-11h0m5 10h0m1-11h0m2 2h0m3 7h0m7-1h0m12 0h0m3 4h0m10-4h0m-88 7h0m30 4h0m14-6h0m2 1h0m6 2h0m5 2h0m2 0h0m9-4h0m18 9h0m3-5h0m9 0h0m24 7h0m12 1h0m-78 14h0m44-5h0m22-3h0m1 6h0m9-2h0m4-5h0m5 9h0m-164 7h0m107-2h0m37 8h0m4-10h0m9 10h0m2-1h0m11 1h0m7-7h0m23 8h0m9-4h0m1-5h0m4 4h0m2-7h0m-147 24h0m62 2h0m24-11h0m46 0h0m9 8h0m1-3h0m13 6h0m3-5h0m7 0h0m16-3h0m3-5h0m-214 24h0m184-1h0m1-7h0m6-1h0m4 10h0m1-10h0m15 5h0m14 7h0m7-2h0m5 2h0m9-2h0m-179 15h0m134-6h0m3 5h0m12-11h0m7 12h0m4-12h0m1 1h0m17 1h0m11 5h0m-12 8h0m26-1h0"/>
<path stroke="#228d8d" d="M300 1355h0m4 11h0m6-2h0m2 6h0m6-1h0m10-8h0m7 7h0m-44 4h0m2 12h0m5-8h0m9-1h0m11 6h0m4 4h0m6-2h0m11-5h0m9 6h0m28-1h0m0 2h0m-62 5h0m6 0h0m5 0h0m16 4h0m2-7h0m11 11h0m2-9h0m6-2h0m0 5h0m7-5h0m8 9h0m7-6h0m2-1h0m3 3h0m25 2h0m-70 16h0m22-5h0m19 2h0m2-2h0m8-4h0m5 0h0m2 9h0m17 2h0m0-5h0m2 6h0m11-13h0m-37 14h0m3 8h0m19-5h0m21 9h0m0-12h0m6 13h0m2-12h0m3 10h0m2-11h0m1 0h0m7 9h0m14-4h0m21-1h0m8 4h0m-63 10h0m28 1h0m1-2h0m5 8h0m11-9h0m2 2h0m6-1h0m5 3h0m5 6h0m0-5h0m3 0h0m8 3h0m3 3h0m10-6h0m-57 13h0m10-1h0m21 1h0m7 5h0m20-1h0m4-8h0m3 1h0m3 8h0m8-2h0m8 3h0m16 1h0m-41 1h0m2 9h0m3-2h0m27 1h0m3-2h0m1-2h0m5 8h0m21-9h0m4 10h0m-47 1h0m9 2h0m7 0h0m5-1h0m2 0h0m0 5h0m3 4h0m7 0h0m5-5h0m12 2h0m5 1h0m13-4h0m4 1h0m6 8h0m3-8h0m-48 14h0m31-5h0m6 0h0m1 12h0m33 1h0m-51 4h0m16 7h0m10-2h0m1-5h0m6 10h0m3-10h0m18 1h0m12 8h0m13-4h0m1 5h0m3-1h0m-29 2h0m8 10h0m1 3h0m17-12h0m1 9h0m1-6h0m3 0h0m7 9h0m6-4h0m1-2h0m2 6h0m4-1h0m-165 9h0m118-6h0m16 2h0m37 10h0m6-8h0m1 7h0m2-10h0m5 9h0m10 1h0m6-5h0m8 3h0m3 2h0m-41 2h0m12 10h0m0-10h0m4 11h0m3-5h0m4-3h0m3 10h0m1-6h0m8 4h0m0-6h0m3 2h0m2 6h0m-40 2h0m23 1h0m7-1h0m0 11h0m2-3h0m5-2h0m8-4h0m-108 36h0"/>
<path stroke="#69cd5b" d="M347 1454h0m-51 46h0m3 0h0m0-2h0m7 1h0m10 6h0m2 4h0m-13 6h0m7 0h0m8 4h0m2-5h0m9 7h0m11-4h0m3 2h0m3 3h0m2 1h0m16 2h0m6 0h0m-47 9h0m12-7h0m27 9h0m0-5h0m18 0h0m17 3h0m3 4h0m25 0h0m-62 5h0m27 0h0m7 6h0m5-1h0m15-6h0m21 6h0m1 0h0m-44 9h0m55 6h0m11-5h0m1 8h0m13 1h0m3-5h0m46 16h0m3-2h0m11 5h0m-202 7h0m133-5h0m33 7h0m16-5h0m6-1h0m4 0h0m0 8h0m14-1h0m3-9h0m-19 16h0m10 0h0m2 5h0m3-7h0m17 12h0m7-10h0m13 4h0m5 0h0m25 5h0m-247 8h0m28-3h0m181 1h0m12 5h0m14-8h0m2 1h0m6 10h0m54-6h0m-158 21h0m93-9h0m16 1h0m20 7h0m0-3h0m63 4h0m-324 12h0m265-3h0m12 0h0m27 1h0m5 0h0m8 1h0m12 4h0m-304 10h0m278-7h0m29 5h0m0-4h0m8 8h0m7 4h0m4 0h0m4 0h0"/>
<path stroke="#443a83" d="M353 1187h0m-54 10h0m22 1h0m0 5h0m14-4h0m16-4h0m-59 15h0m53-1h0m2 5h0m0-3h0m6 1h0m1 2h0m1 3h0m4-13h0m7 10h0m1 3h0m2-1h0m17 0h0m17 0h0m148-2h0m-212 4h0m31 1h0m2 2h0m43 2h0m14 6h0m11 2h0m-91 4h0m49 5h0m11-4h0m8 4h0m12-3h0m1 6h0m6-5h0m18 6h0m3-6h0m9 0h0m15 2h0m10 1h0m8 1h0m-72 5h0m12-1h0m1 10h0m21 3h0m0-13h0m21 13h0m10-6h0m-81 7h0m55 12h0m17-3h0m1-6h0m8 9h0m2-5h0m4-2h0m2 6h0m24-1h0m5-3h0m3-7h0m6 12h0m21 1h0m-60 4h0m5 10h0m8-6h0m13-6h0m10 2h0m7-1h0m12 4h0m28 1h0m1 1h0m1 4h0m-35 8h0m3-4h0m13 2h0m5 1h0m4 6h0m9 1h0m5-2h0m-8 5h0m1 6h0m33 4h0m0-4h0m5-4h0m3 7h0m0-2h0m1-6h0m0 4h0m10 1h0m-27 13h0m7-4h0m6 4h0m19 6h0m5-9h0m2 10h0m3 0h0m4-1h0m3-2h0m7-3h0m30 6h0m-54 5h0m3-3h0m9 11h0m15-1h0m5-7h0m2 9h0m7 0h0m7-1h0m5-2h0m12-3h0m-48 9h0m28 2h0m6-4h0m20 10h0m6 0h0m10-3h0m-19 15h0m20 3h0m2-3h0m2 4h0m18-12h0m-25 14h0m10 2h0m3-1h0m15 6h0m3 4h0m-27 8h0"/>
<path stroke="#481f70" d="M405 1189h0m43 0h0m9-1h0m-20 9h0m5 2h0m62 3h0m3-5h0m-42 8h0m11 5h0m2-1h0m12 8h0m1-13h0m10 3h0m3 2h0m6-3h0m5 9h0m14-6h0m-35 13h0m22-3h0m0 2h0m7 0h0m33 1h0m-28 17h0m30 3h0m3 0h0m33 1h0m-19 9h0m31 2h0m59 5h0m-58 11h0m2-8h0m2 2h0m9 2h0m10-3h0m14 10h0m-23 7h0m35 0h0m12 1h0m0-1h0m4 4h0m1 5h0m7 3h0m7 7h0m3-7h0m-7 12h0m11 0h0m9 7h0m0-5h0m18 2h0m1 2h0m5 4h0m7 3h0m3 9h0"/>
<path stroke="#5ac864" d="M463 1470h0m-167 23h0m30 2h0m17 1h0m-46 7h0m5-5h0m14 9h0m11 0h0m4 1h0m3-8h0m3 11h0m10-3h0m3-1h0m-11 8h0m41 4h0m26 4h0m-27 4h0m5 0h0m20 6h0m9 2h0m3-1h0m4 14h0m20 2h0m1-2h0m20 4h0m2-2h0m32-4h0m-32 17h0m2-8h0m6 7h0m4 0h0m0-2h0m1-2h0m4 6h0m2-9h0m10 4h0m-6 11h0m7 6h0m11 2h0m0-7h0m16-1h0m6-2h0m18 10h0m129-9h0m-376 16h0m251 2h0m7 3h0m19 2h0m-219 17h0m30-6h0m174-6h0m5 3h0m1-2h0m34 3h0m-9 12h0m36 5h0m2 1h0m6-1h0m6 1h0m-27 10h0m18 4h0m7 4h0m1-13h0m21 13h0m-15 4h0m8-2h0m14 1h0m66 9h0m-39 13h0m24 2h0m9 1h0"/>
<path stroke="#20938c" d="M324 1365h0m179-7h0m-204 26h0m2-2h0m-1 5h0m3 3h0m6-1h0m11 7h0m14-1h0m10-3h0m0 6h0m9-1h0m13-5h0m-66 14h0m11 5h0m0-9h0m5-2h0m3 4h0m2 0h0m6 4h0m1-3h0m11 2h0m10-5h0m6-1h0m5 0h0m1 9h0m0-4h0m1-1h0m3 2h0m4 1h0m7-8h0m1 6h0m1 4h0m2 2h0m0-5h0m1 4h0m10 0h0m10-11h0m9 13h0m38-1h0m-113 12h0m0-10h0m12 1h0m18 0h0m5-1h0m1 4h0m4 1h0m2-2h0m0 4h0m2 6h0m16-3h0m2 3h0m3-2h0m4-11h0m8 2h0m1 2h0m0 2h0m5-5h0m14 2h0m2 10h0m3-3h0m0 1h0m1-6h0m61 8h0m-128 13h0m10-9h0m3-1h0m4 4h0m8-5h0m3 10h0m4-7h0m2 4h0m26-4h0m13 2h0m18-2h0m3 4h0m8-2h0m24-4h0m120 4h0m-290 17h0m127 3h0m15-3h0m4-7h0m5-1h0m0 7h0m3-7h0m5 2h0m1 1h0m9 7h0m36 1h0m-73 10h0m19-3h0m2 1h0m5 1h0m23 0h0m8-3h0m9 6h0m5-2h0m2-4h0m19 5h0m-60 5h0m5 2h0m23 3h0m1 1h0m4-5h0m7-1h0m3 8h0m0 2h0m4-1h0m0-9h0m8 0h0m8 11h0m3 0h0m15-2h0m12 2h0m-260 4h0m90 8h0m124-5h0m10-1h0m13-3h0m2 3h0m1 8h0m2-5h0m9-6h0m1 6h0m2-3h0m16 3h0m8 6h0m1-6h0m4 1h0m3 5h0m20 1h0m-61 3h0m18 8h0m6-7h0m3 0h0m6 7h0m4-3h0m1-5h0m7 5h0m4-7h0m6 0h0m0 9h0m3 4h0m2-4h0m34-1h0m-347 12h0m272-6h0m30 4h0m1-4h0m10 6h0m9 6h0m20 0h0m48 1h0m-62 3h0m7 0h0m10 5h0m1 5h0m11-12h0m5 7h0m14 4h0m5-2h0m1-1h0m7 1h0m-37 12h0m9-7h0m7 0h0m1 1h0m1-1h0m7 13h0m1-3h0m4 1h0m12-2h0m3-2h0m12 3h0m19-1h0m-38 13h0m2-4h0m10 0h0m5 9h0m12-2h0m1-2h0m2 3h0m-185 11h0m164-8h0m16 6h0m8-1h0m5 7h0m6-7h0m0 7h0m3-3h0m-249 13h0m239-9h0m1 0h0m4 1h0m-35 27h0"/>
<path stroke="#482979" d="M369 1189h0m14 13h0m0-10h0m5 2h0m17 7h0m1 1h0m16-8h0m6 7h0m3-3h0m5 1h0m-28 8h0m9-3h0m7 1h0m0 11h0m21-12h0m18 9h0m2 1h0m-31 8h0m43 4h0m1-1h0m7-3h0m5 1h0m7 0h0m8 7h0m-28 2h0m8 5h0m16-4h0m20 4h0m18-1h0m4 3h0m20 2h0m-24 13h0m5-1h0m4-7h0m6 3h0m7 5h0m13 1h0m-9 11h0m6 2h0m3-5h0m1 3h0m9 2h0m8 5h0m9-8h0m33 6h0m-58 3h0m5 7h0m20-4h0m6 0h0m2 0h0m10 0h0m17 9h0m1-4h0m-6 13h0m10 5h0m1-6h0m4-5h0m0 4h0m2-3h0m1 0h0m10-2h0m14 5h0m1 10h0m3-1h0m10 13h0m3-4h0m4-9h0m8 13h0m10-7h0m3 3h0m5 0h0m-62 7h0m43 5h0m9-5h0m2 11h0m5-9h0m3 7h0m4 0h0m6-1h0m5 1h0m13-2h0m1 0h0m-38 11h0m8 4h0m9-10h0m14 12h0m1-9h0m-7 19h0m18 1h0"/>
<path stroke="#1fa187" d="M333 1356h0m-28 54h0m-3 9h0m5-1h0m9 6h0m5-1h0m-23 5h0m7 1h0m2 2h0m8 5h0m1-7h0m2 5h0m0 5h0m0-2h0m1-9h0m7 7h0m0 5h0m7-9h0m3-2h0m0 11h0m1-9h0m7 7h0m11-2h0m16-6h0m15 9h0m5 0h0m-99 9h0m32 5h0m9 0h0m8 2h0m0-6h0m7-2h0m11-3h0m1 4h0m1 7h0m2-12h0m2 3h0m7-1h0m10 1h0m3-1h0m4 5h0m2-6h0m2 9h0m2-9h0m5 1h0m13 4h0m1 0h0m7-4h0m-53 19h0m10-7h0m7 1h0m2 2h0m4-4h0m1 13h0m3-5h0m2-3h0m2-2h0m12 3h0m3 6h0m6-10h0m0 3h0m1 1h0m15 1h0m5 2h0m2 1h0m14-1h0m174-8h0m-215 22h0m0 2h0m7 2h0m19-13h0m6 2h0m7 2h0m4 9h0m5-7h0m1-5h0m1 4h0m38 5h0m24 1h0m-124 3h0m21 3h0m16 5h0m28-4h0m1 9h0m2-8h0m10 2h0m9 4h0m0-7h0m2-1h0m5 5h0m1 3h0m6-3h0m0-2h0m3 2h0m3-1h0m4-1h0m1-1h0m0 7h0m29 0h0m-36 6h0m19-2h0m0 7h0m15-2h0m2 5h0m7-8h0m8 9h0m5-2h0m-12 14h0m3-6h0m9 7h0m15-2h0m3-3h0m5 4h0m10-5h0m-69 12h0m3 9h0m12-7h0m44 4h0m2-1h0m4-7h0m1 11h0m29-9h0m3 0h0m-276 12h0m242 3h0m19 6h0m7-7h0m2 4h0m2 0h0m17-3h0m11 7h0m36 0h0m-285 10h0m228-8h0m13 8h0m2-6h0m1-1h0m5 2h0m1 8h0m4-5h0m2 5h0m22-10h0m9 8h0m8 0h0m-227 5h0m172 4h0m13-3h0m11 6h0m4-2h0m5 4h0m5-5h0m12 7h0m1 0h0m10-3h0m3 4h0m19-6h0m-72 9h0m34 2h0m1 0h0m7-1h0m8 3h0m6 6h0m16 0h0m0 2h0m11-7h0m5 4h0m-51 13h0m7-2h0m18-5h0m0 0h0m6 1h0m2 4h0m5-1h0m19 7h0m4-12h0m3 5h0m0 2h0m1 11h0m-177 20h0m172-3h0"/>
<path stroke="#481668" d="M472 1189h0m17-1h0m24 1h0m-54 1h0m8 6h0m1-4h0m14 0h0m8-2h0m11 10h0m2-6h0m2 9h0m0-1h0m3-4h0m20-6h0m-40 13h0m3-1h0m34 11h0m10-7h0m8 0h0m-9 12h0m54 17h0m22 19h0m2-8h0"/>
<path stroke="#277f8e" d="M494 1305h0m-205 33h0m6-4h0m1 7h0m3-1h0m34 2h0m33 0h0m-54 4h0m1 4h0m0-1h0m7 0h0m8-4h0m11 7h0m4 5h0m23-3h0m3 0h0m4-1h0m169-9h0m-227 17h0m10 0h0m27-2h0m1 0h0m1 3h0m17 3h0m5-6h0m3 6h0m12 0h0m10-1h0m0-5h0m128 3h0m25 4h0m-193 12h0m23 3h0m3-9h0m12 13h0m2-9h0m2 4h0m17-3h0m12 8h0m22-7h0m-24 8h0m2 7h0m8 0h0m3-7h0m6 0h0m0 9h0m8 0h0m8 4h0m2-7h0m12 0h0m12 5h0m84-11h0m-113 19h0m2 2h0m11-7h0m2 8h0m18 4h0m2-9h0m5-2h0m7 11h0m15 1h0m13 0h0m106-1h0m-156 5h0m19-3h0m1 2h0m3-1h0m5 2h0m8 2h0m0 6h0m7-3h0m2-4h0m2 8h0m8-1h0m6-3h0m3 1h0m9-2h0m8 6h0m-41 1h0m12 1h0m13 11h0m1-9h0m4 2h0m8-5h0m4 1h0m5 12h0m5-10h0m9-1h0m-17 20h0m12-6h0m6-2h0m0 4h0m9 8h0m6-2h0m2-1h0m9 1h0m20 2h0m-19 9h0m0-7h0m2 1h0m6 4h0m7 1h0m11 3h0m7-4h0m8 8h0m76-6h0m-100 9h0m13 7h0m0 0h0m10-5h0m0 5h0m5-9h0m3 7h0m1 0h0m10 3h0m0-1h0m1-1h0m12-3h0m-22 10h0m9 5h0m3-4h0m7 7h0m9-3h0m6 5h0m1 12h0m2-6h0m11 6h0m5-7h0m25 9h0m6 6h0m1 5h0m2 0h0m-193 19h0m178-8h0m14-4h0"/>
<path stroke="#306a8e" d="M294 1287h0m-4 3h0m4 9h0m13-9h0m2 7h0m-11 10h0m12-4h0m6 6h0m4-2h0m1-2h0m9 3h0m2-1h0m2 1h0m3 1h0m25-4h0m1 2h0m4 1h0m8 1h0m153 1h0m-203 13h0m2-2h0m8-5h0m4 9h0m35-7h0m10 9h0m6-8h0m7 5h0m5 0h0m8 5h0m31-2h0m-52 6h0m7 5h0m4 4h0m18-2h0m7-4h0m10 2h0m35-3h0m17 6h0m-89 4h0m4 1h0m16 0h0m10-2h0m21 2h0m5 10h0m1 0h0m16-11h0m7 2h0m9 4h0m-59 9h0m15 5h0m8-7h0m33 8h0m1-8h0m2 6h0m7 4h0m4-3h0m0-2h0m5 1h0m22 6h0m9 0h0m-27 5h0m3 0h0m10-3h0m3 1h0m1 2h0m3-3h0m5 8h0m16-4h0m4 5h0m114-2h0m58-5h0m-183 12h0m8 1h0m13 6h0m25 2h0m9 0h0m-39 12h0m24-4h0m14 5h0m2-8h0m21 6h0m4 7h0m40-10h0m-57 18h0m22-5h0m9 1h0m4 10h0m2-10h0m25 10h0m12 0h0m-48 7h0m3 2h0m10-4h0m3 0h0m6 1h0m2 4h0m4-4h0m2 1h0m15 1h0m-28 9h0m27 6h0m6-5h0m0 9h0m6-7h0m19 7h0m4-3h0m14 3h0m4 14h0m5-1h0m4-3h0m4 14h0m12 2h0m-5 9h0m5 3h0m-243 36h0"/>
<path stroke="#3dbc74" d="M327 1421h0m-31 44h0m-2 5h0m12 7h0m12 6h0m15-11h0m4 6h0m29-2h0m-45 18h0m9-9h0m2 1h0m1 1h0m0-3h0m0 6h0m26 1h0m7-5h0m-38 14h0m8-1h0m22 9h0m8-4h0m2 4h0m12-5h0m6 2h0m17 5h0m29-7h0m35 3h0m-88 8h0m5 0h0m3-1h0m20 6h0m0 5h0m2-5h0m14-4h0m16 2h0m10 5h0m1-4h0m35 5h0m1-3h0m-99 7h0m17 10h0m40 0h0m1-9h0m15 5h0m6-2h0m1 3h0m4 4h0m9-8h0m13-2h0m10 5h0m4 5h0m165-3h0m-227 7h0m43 11h0m0-8h0m0-5h0m2 4h0m15 8h0m13-3h0m11 4h0m-56 5h0m73 1h0m5 7h0m5-2h0m4-2h0m11-4h0m16 9h0m-82 1h0m66 3h0m1 6h0m5-6h0m9 8h0m2-4h0m16 3h0m23 0h0m-177 9h0m125-1h0m5 5h0m2 3h0m3-5h0m3 5h0m1-8h0m6 8h0m12-7h0m12 4h0m8 4h0m10-4h0m12 3h0m6-2h0m46-6h0m-106 13h0m18 7h0m5-8h0m10 8h0m2-6h0m16 8h0m20 1h0m4-10h0m25 10h0m-204 2h0m151 5h0m22 1h0m0-5h0m1-1h0m21-1h0m4 12h0m-21 10h0m16-7h0m3 8h0m49-6h0m-50 23h0m16 0h0m11-12h0m5 6h0m9-6h0m11 0h0m-20 15h0m22 3h0m8 8h0"/>
<path stroke="#414487" d="M522 1203h0m-232 5h0m13-3h0m2 9h0m12-1h0m5-8h0m0 12h0m10-1h0m-25 4h0m0 6h0m1-7h0m15 7h0m3-1h0m28 2h0m121 3h0m-163 11h0m10-9h0m16 2h0m42 3h0m6 6h0m13 2h0m0-2h0m4-1h0m9 2h0m-46 3h0m3 7h0m16 4h0m15 1h0m5-1h0m8-6h0m13-2h0m6 4h0m7-7h0m5 6h0m13 2h0m6 2h0m-69 3h0m24 8h0m8-8h0m23 8h0m3 0h0m6-4h0m13 6h0m17-7h0m1 0h0m2 2h0m2 7h0m-54 7h0m17-5h0m4 13h0m9-3h0m6-2h0m11-2h0m4 2h0m7 4h0m23-3h0m34-9h0m0 7h0m-65 11h0m8 1h0m31 7h0m18-1h0m20 1h0m-28 4h0m43 5h0m26 4h0m2 1h0m-55 9h0m12-5h0m21 7h0m3-7h0m6 9h0m2-7h0m3-4h0m15 12h0m-25 14h0m5-1h0m30-10h0m2 8h0m1 0h0m5 0h0m7 0h0m6 3h0m5-8h0m6 9h0m-29 8h0m6-7h0m12 2h0m2 2h0m3-1h0m7 4h0m4-4h0m2 6h0m0 4h0m30-2h0m10 0h0m-46 3h0m1 2h0m15 4h0m3 1h0m1-6h0m2 1h0m2-1h0m6 8h0m21-2h0m-30 7h0m16 7h0m2-6h0m12 9h0m10-4h0m3 5h0m1-11h0m1 4h0m8 5h0m6 1h0m-9 13h0m1-6h0m0 9h0m4-2h0m6-3h0m1-7h0m2 7h0m0-3h0m6 1h0m-13 18h0m9-7h0m1-1h0"/>
<path stroke="#fde725" d="M293 1576h0m27 4h0m8 1h0m9-7h0m-36 18h0m10-3h0m2 2h0m7-3h0m0 4h0m7 3h0m3-1h0m3-8h0m1 1h0m18 8h0m10-1h0m-67 4h0m4-2h0m5 7h0m3-3h0m1 3h0m2 4h0m1 0h0m4-6h0m5 8h0m13-11h0m7 5h0m3-2h0m3 8h0m3 0h0m3-4h0m2 2h0m6-9h0m0 10h0m3-9h0m4 5h0m3-7h0m1 11h0m1-4h0m3 5h0m13-6h0m8-6h0m2 5h0m17 5h0m-126 6h0m6 10h0m1-6h0m1 4h0m1-1h0m5 2h0m5-1h0m17-9h0m6 8h0m1-5h0m7 6h0m8 1h0m4 1h0m0 0h0m5-11h0m2 11h0m13-6h0m2 0h0m5 5h0m9-2h0m2-3h0m3 5h0m2-7h0m7 1h0m1 1h0m21 1h0m5 4h0m32-9h0m-168 20h0m6-3h0m0-3h0m7 3h0m1 0h0m5-5h0m0 6h0m5 4h0m3-6h0m17 3h0m3-3h0m1-1h0m0 7h0m4-3h0m0 4h0m4-5h0m3 2h0m3-9h0m7 5h0m5-5h0m25 9h0m2 2h0m3 0h0m5-11h0m6 7h0m5-2h0m3 0h0m5-1h0m4-2h0m0 3h0m1 7h0m4 1h0m3-1h0m0-7h0m1 8h0m2-5h0m1 4h0m8 0h0m1-10h0m10 10h0m1-6h0m2 4h0m7-6h0m4-1h0m3 5h0m1-2h0m21 2h0m-182 12h0m1 1h0m3 1h0m1 5h0m3-13h0m1 3h0m2 1h0m1 2h0m10 3h0m0-6h0m3 9h0m9-11h0m1 12h0m1-2h0m1-3h0m3 0h0m15-1h0m12-5h0m3 9h0m2-5h0m6-3h0m1 4h0m4 6h0m1-6h0m1 6h0m1-3h0m1-6h0m21 0h0m5 6h0m0-2h0m2 2h0m4 3h0m2-5h0m2 0h0m6-7h0m2 3h0m7 8h0m5 0h0m0-9h0m7-1h0m2 11h0m7-12h0m3 6h0m3 4h0m2-2h0m1 3h0m0 0h0m15-1h0m4-1h0m2 3h0m11-3h0m3 3h0m8-7h0m4 5h0m1-4h0m7 2h0m-245 7h0m0 9h0m3-5h0m2 7h0m3-8h0m8 3h0m0 0h0m4 0h0m15-1h0m1 1h0m4 1h0m5 0h0m2 4h0m6-5h0m9-8h0m2 3h0m1 5h0m0-6h0m4 3h0m1 2h0m2 5h0m2 1h0m3-7h0m2 4h0m1 1h0m1-6h0m0-3h0m8 3h0m6 0h0m3 7h0m5-2h0m0-5h0m1 3h0m0-1h0m2 6h0m2-4h0m0-8h0m5 2h0m1 2h0m3 6h0m1 1h0m9-5h0m12 3h0m3-2h0m1-4h0m2 3h0m3-3h0m0 7h0m0-11h0m1 12h0m7-1h0m5-8h0m11 2h0m6 2h0m1-6h0m11 8h0m7-3h0m1 4h0m4 0h0m1-9h0m2 3h0m6 4h0m0-1h0m4 6h0m10-1h0m0 0h0m2 1h0m2-2h0m3 0h0m1-3h0m6 2h0m6 0h0m9-2h0m4-1h0m9 4h0m46-5h0m-285 8h0m49 0h0m57 1h0m4 0h0m2-1h0m64 2h0m1-2h0m5 0h0m56 0h0"/>
<path stroke="#a0da39" d="M318 1510h0m-18 15h0m5-2h0m20-1h0m-35 5h0m1 3h0m3 7h0m3-1h0m1-8h0m11 8h0m12-5h0m2 6h0m1 1h0m-32 12h0m20-5h0m5 7h0m52-1h0m4-6h0m-81 13h0m33-2h0m10 7h0m3-9h0m31 13h0m4-3h0m4-6h0m8 7h0m4-6h0m27 6h0m-33 3h0m10 2h0m19 9h0m11-11h0m13 4h0m2 2h0m2-2h0m0 4h0m1-4h0m16 5h0m7-3h0m9 2h0m18 0h0m-62 11h0m0 6h0m7-5h0m1 1h0m4 5h0m9-11h0m11 10h0m3 1h0m10-4h0m15 1h0m10 3h0m-50 5h0m26-3h0m14 1h0m3 11h0m6-6h0m1 1h0m10 5h0m11-4h0m12 3h0m17-2h0m-68 12h0m39-1h0m14-4h0m1 9h0m8-4h0m3 1h0m20-2h0m-40 13h0m18 2h0m0-5h0m10 6h0m26 0h0m5-1h0m8-2h0m2-2h0m5 2h0m4 5h0m3-9h0m-36 16h0m5 5h0m18-1h0m16 0h0m5-1h0m15-2h0m11-2h0m7 9h0m-275 14h0m130-3h0m104 0h0m1-7h0m2 5h0m2 5h0m24-6h0m7 3h0m3-6h0m3 5h0m1 3h0m1 1h0m6-1h0"/>
<path stroke="#22a884" d="M419 1390h0m-123 47h0m31 1h0m-33 10h0m15-2h0m9 1h0m6 3h0m9-3h0m0 2h0m13 1h0m3-2h0m4 7h0m17-3h0m-78 15h0m32-5h0m1 6h0m2-10h0m3 8h0m7 2h0m6-8h0m7 0h0m4-3h0m8 8h0m3-9h0m2 6h0m18-3h0m5 1h0m8 7h0m-61 10h0m3-4h0m33 8h0m9-2h0m3-9h0m5 9h0m5-9h0m6 4h0m4 0h0m11 7h0m8-10h0m4 7h0m3 0h0m2 5h0m8 0h0m2-5h0m1-3h0m19-1h0m188 7h0m-274 15h0m6-8h0m19-3h0m4 8h0m1 4h0m23-3h0m31-3h0m7 1h0m-47 15h0m6-3h0m4-5h0m44 12h0m6-11h0m7 9h0m11-4h0m15 5h0m19 1h0m-78 9h0m32 3h0m3-9h0m0 8h0m4 0h0m10-10h0m7 0h0m4 8h0m12 1h0m1-7h0m23 2h0m0 3h0m3 4h0m-51 13h0m8 1h0m6-4h0m12-5h0m27 9h0m15 1h0m15 1h0m7-1h0m100-8h0m-178 13h0m18 1h0m26 9h0m18-11h0m7-1h0m9-1h0m1 5h0m2-1h0m4 7h0m15 2h0m8-2h0m20 1h0m-75 2h0m1 10h0m4-1h0m26 3h0m1-6h0m25-3h0m10 8h0m1-4h0m11 5h0m20-1h0m-113 16h0m94-10h0m4-3h0m2 2h0m13-2h0m3 9h0m1-5h0m7 7h0m7-6h0m13-4h0m-43 16h0m7 8h0m4-8h0m2 5h0m6 5h0m5-13h0m9 8h0m5 4h0m1-5h0m20 4h0m14 2h0m-46 2h0m23 1h0m6-2h0m2 13h0m4-9h0m1 7h0m0-5h0m9 2h0m10 3h0m9 2h0m-37 9h0m1 4h0m3-5h0m26 2h0m2 1h0m3-3h0m1 5h0m1-5h0m0-2h0m1 4h0m1 0h0m8 4h0m-2 1h0m1 7h0m-12 20h0"/>
<path stroke="#460b5e" d="M488 1196h0m36-2h0m19 2h0m8 9h0m99 26h0m36 6h0m0 22h0"/>
<path stroke="#32b67a" d="M371 1399h0m-81 55h0m11 3h0m2 0h0m7 4h0m6 7h0m22-3h0m3-3h0m14 1h0m118 5h0m-184 15h0m0-10h0m10 3h0m7-3h0m10 9h0m9-11h0m5 5h0m1-6h0m20 12h0m7-7h0m17-2h0m10-1h0m5 5h0m5 1h0m16 1h0m-90 6h0m3 3h0m2-3h0m20 6h0m11 5h0m35-5h0m4 3h0m10-3h0m26 0h0m-101 8h0m51-1h0m41 0h0m4 10h0m5-5h0m6 1h0m27-1h0m20 2h0m-154 13h0m79 4h0m1-5h0m16 3h0m4-1h0m4-4h0m3-1h0m1 11h0m2-3h0m14-7h0m1 7h0m8 3h0m64 0h0m-129 2h0m39 8h0m3-8h0m0 5h0m8-1h0m10 3h0m18 0h0m4 1h0m8-7h0m0 0h0m0 3h0m9 4h0m0-4h0m6 1h0m6 4h0m-48 5h0m1 4h0m20-1h0m5 4h0m12-6h0m1 4h0m1 0h0m3-2h0m1 0h0m10 4h0m27-7h0m1 11h0m3-2h0m23 3h0m14-5h0m-98 7h0m5 7h0m26-3h0m36-5h0m16 6h0m13 3h0m2 4h0m-69 9h0m34-6h0m9 0h0m2-1h0m2 0h0m2 1h0m2 2h0m2 7h0m0-6h0m7-4h0m6 2h0m13 3h0m3-3h0m4-3h0m1 10h0m1-7h0m2-2h0m4 4h0m5-3h0m25 11h0m108-3h0m-239 7h0m74 5h0m5 0h0m8-5h0m8 7h0m2 2h0m17-10h0m5 6h0m0-3h0m3-4h0m6 5h0m9 4h0m13 2h0m6-4h0m3 5h0m11-8h0m-70 10h0m14 1h0m21 8h0m2-4h0m5-5h0m0 12h0m2-6h0m41 1h0m2 4h0m-176 2h0m144 1h0m23 2h0m6 9h0m1-11h0m7 8h0m1 1h0m5 1h0m15-5h0m6 7h0m-404 10h0m319 1h0m33-3h0m15-6h0m1 5h0m2-5h0m4-1h0m4 7h0m0 4h0m4-1h0m4-4h0m6-5h0m8 10h0m31 1h0m-60 2h0m1 4h0m16-1h0m3 1h0m24 0h0m5 8h0m8-10h0m2 8h0m-185 5h0m59-1h0m99 2h0m19 9h0m11-5h0"/>
<path stroke="#8ed645" d="M292 1511h0m0 11h0m2-6h0m11 3h0m17 1h0m-31 11h0m9-3h0m6 2h0m1 1h0m13 6h0m13-1h0m3-5h0m10 1h0m1-2h0m5 5h0m2 2h0m26 0h0m-47 4h0m3 4h0m3-2h0m17 5h0m13-3h0m12 1h0m3 6h0m-5 3h0m10 0h0m11 3h0m6 0h0m7 3h0m3-5h0m4 8h0m2-5h0m8 1h0m5 5h0m-106 15h0m72-11h0m0 9h0m33-7h0m30 1h0m0 3h0m14 6h0m-153 13h0m121-3h0m19-1h0m6-2h0m0-2h0m6 7h0m7 2h0m0-4h0m4 1h0m3-2h0m6-7h0m1 7h0m46 4h0m-144 10h0m119-5h0m7 7h0m10-10h0m1 13h0m20-7h0m-220 20h0m207-12h0m2 1h0m3 11h0m5-4h0m2-2h0m31 3h0m2 4h0m-19 2h0m15 12h0m1 0h0m27-11h0m-192 17h0m187 3h0m10 4h0m3-6h0m4-5h0m2 5h0m1-6h0m14 4h0m14 9h0m-57 6h0m43 6h0m18-2h0m7 1h0m2-9h0m2 5h0m35 7h0m-33 2h0"/>
<path stroke="#1f9a8a" d="M398 1333h0m-107 79h0m7-5h0m11 3h0m3-2h0m5-3h0m15 1h0m24 7h0m-54 12h0m1-11h0m2 8h0m1-7h0m14 6h0m5 2h0m4 3h0m1-12h0m2 3h0m4 0h0m3 9h0m1 0h0m0-7h0m4-5h0m0 1h0m1 9h0m1-8h0m8 2h0m29 7h0m22 2h0m-88 7h0m10-5h0m9 8h0m3-6h0m4-1h0m5 0h0m0 6h0m9-2h0m6-2h0m8 2h0m9-5h0m9 9h0m5-1h0m3 4h0m2-5h0m0 1h0m5-3h0m-15 13h0m3-4h0m16 6h0m1-7h0m5 1h0m6 8h0m3-2h0m7 5h0m2-7h0m10-4h0m6 12h0m0-12h0m177 1h0m-217 19h0m2-1h0m28 2h0m0-4h0m1-1h0m6 4h0m1-5h0m2 5h0m5-1h0m5 3h0m2-6h0m1 4h0m1-5h0m2-1h0m2 11h0m3-2h0m1-4h0m23 3h0m4-9h0m1 7h0m8 1h0m0-2h0m-124 11h0m84 3h0m13 1h0m7 1h0m25-3h0m2-3h0m7-1h0m6 4h0m10-2h0m4 7h0m-142 5h0m76-1h0m18 9h0m5-3h0m22 4h0m10-7h0m2 5h0m8-4h0m3-4h0m1 7h0m0 6h0m5 0h0m3-3h0m3 0h0m3-2h0m2-6h0m12 9h0m3 2h0m2-4h0m2 2h0m-52 13h0m3-9h0m9 8h0m8-8h0m3 0h0m8 7h0m6-2h0m1 4h0m1 1h0m5-5h0m6 1h0m13 2h0m5-6h0m2 3h0m1 5h0m2-3h0m5 0h0m11 4h0m106-2h0m-157 8h0m7-4h0m4 3h0m7 0h0m1 6h0m3-1h0m6-7h0m6 2h0m1 6h0m9 4h0m1-2h0m2-11h0m11 10h0m2-7h0m14 5h0m15 3h0m5 1h0m-105 8h0m56 5h0m28 1h0m4-2h0m8 0h0m20 3h0m-47 2h0m4 2h0m7 9h0m9-9h0m3-1h0m18 4h0m4-2h0m2 6h0m3-7h0m7 2h0m0 8h0m0 0h0m1-7h0m1-4h0m-69 21h0m68-3h0m1-2h0m10 3h0m11 4h0m4-7h0m14-2h0m13 8h0m-95 6h0m43-2h0m6 0h0m1 2h0m2 6h0m1 1h0m14-4h0m2 0h0m10 4h0m5-2h0m5 6h0m1-2h0m1-5h0m0-1h0m3 2h0m4 0h0m1 3h0m0-9h0m1 10h0m1-2h0m8-2h0m-290 13h0m249-6h0m1 3h0m3 0h0m15 2h0m23-3h0m7-1h0m-37 15h0m11 7h0m-3 7h0"/>
<path stroke="#3a538b" d="M316 1221h0m-16 21h0m-9 13h0m11-1h0m2-8h0m3 8h0m9 2h0m1 2h0m8-9h0m16 10h0m211-13h0m-261 15h0m10 1h0m6 3h0m11 6h0m13-8h0m0 3h0m7 7h0m3-9h0m28 4h0m9 5h0m5-5h0m-42 14h0m2-8h0m4 7h0m14-4h0m2 1h0m8 9h0m6-4h0m1-4h0m11 6h0m0 0h0m21-1h0m5-6h0m6 5h0m-21 10h0m6 2h0m8-5h0m7 2h0m8-1h0m2-3h0m11 2h0m1 10h0m12-5h0m36 4h0m-101 8h0m43-2h0m3 5h0m4-7h0m0-1h0m14 10h0m38-9h0m-18 15h0m1 0h0m26 5h0m1 3h0m4-8h0m11 7h0m2 1h0m-14 10h0m12-1h0m5-5h0m5 12h0m1-6h0m3 1h0m6-7h0m13 3h0m4 9h0m3-4h0m12-3h0m8 6h0m-20 3h0m3 3h0m15-1h0m7 4h0m6 3h0m7 3h0m-28 6h0m8-3h0m7 1h0m3 2h0m8-1h0m15-2h0m63 10h0m-50 4h0m11-1h0m2 13h0m7-7h0m2 0h0m6 5h0m-31 5h0m37 2h0m5-2h0m1 5h0m15 2h0m1 2h0m55 2h0m-95 2h0m6-1h0m25 5h0m14 2h0m9-6h0m11 7h0m3-2h0m4-5h0m6 1h0m5 5h0m-6 7h0m2 3h0m4 1h0m2 0h0m3 8h0m8 1h0m15-4h0m-52 10h0m21-1h0m17 4h0m16-3h0"/>
<path stroke="#1fa187" d="M388 1339h0m-59 43h0m82 12h0m-117 33h0m2-5h0m23-2h0m22 7h0m13-3h0m15-8h0m-77 17h0m2 4h0m1-6h0m1 3h0m2 1h0m2-3h0m17-4h0m6 12h0m1-7h0m21 7h0m3-10h0m3 11h0m0-9h0m2-1h0m4 7h0m1 2h0m10 1h0m14 0h0m26-8h0m-99 17h0m18-8h0m9 12h0m0-2h0m12-8h0m6 5h0m4 3h0m8-8h0m17 3h0m6 0h0m-80 16h0m13-5h0m25 3h0m7-3h0m4 4h0m1-4h0m9 0h0m0 1h0m4 5h0m1 2h0m3-10h0m10 9h0m4-8h0m0 1h0m9 6h0m2-2h0m3-3h0m0 3h0m0 2h0m1 4h0m7-5h0m1 3h0m2-2h0m4 4h0m4-1h0m9-4h0m21 0h0m8 6h0m-73 13h0m45-10h0m3-2h0m3 4h0m7 7h0m7-1h0m23-8h0m17 7h0m-70 6h0m19 4h0m4-4h0m7 12h0m6-12h0m8 1h0m1 4h0m1 3h0m20 2h0m8-4h0m2 1h0m3 2h0m3-6h0m33 6h0m8 1h0m-93 3h0m19 6h0m12-3h0m27 4h0m10 6h0m1-11h0m5 2h0m9 1h0m11 1h0m10 3h0m3-3h0m12 7h0m92-12h0m-138 21h0m6-6h0m13 6h0m5 4h0m1-10h0m3 6h0m9-2h0m24 2h0m-57 7h0m13 0h0m15-1h0m1 1h0m2 12h0m8-11h0m3-1h0m4 1h0m14 4h0m4 3h0m0-4h0m0 6h0m2-6h0m9 6h0m6-3h0m0 4h0m4 1h0m21-3h0m-51 4h0m13 4h0m6 0h0m5 4h0m9 2h0m5-9h0m11 7h0m8 0h0m4 3h0m1-7h0m7-2h0m10 5h0m7 6h0m-67 3h0m20 9h0m15-10h0m4 1h0m4 5h0m7 1h0m4-8h0m2 7h0m1-7h0m3 3h0m7 3h0m2 5h0m0-3h0m2 2h0m-36 15h0m0-4h0m13-6h0m13 3h0m10 7h0m5-3h0m12 2h0m7 3h0m1-1h0m4 14h0m0-12h0m2 11h0m0-10h0m1 0h0m2 5h0m0 0h0m4-2h0m6-1h0m4 0h0m30 7h0m-223 8h0m188-3h0m12 11h0m3-5h0m0-5h0m6 2h0m0-1h0m7 7h0m1-2h0m1-1h0m1 1h0m0-3h0m5 6h0m-47 10h0m3-6h0m19 11h0m3-2h0m12-8h0m3-1h0m9 0h0m-21 19h0"/>
<path stroke="#ece51b" d="M291 1566h0m30-3h0m-23 13h0m6 5h0m4-12h0m1 11h0m20-5h0m8-4h0m3 6h0m-45 10h0m1 8h0m2 0h0m2-6h0m9 4h0m2-4h0m0-5h0m21 6h0m2 1h0m0 4h0m12-13h0m21 6h0m4 4h0m22 1h0m-104 10h0m2 6h0m14-3h0m16-8h0m13 5h0m4-4h0m6 6h0m0 3h0m4 0h0m22-2h0m5-6h0m3 0h0m1 2h0m2 1h0m2-6h0m3 10h0m1-5h0m2 2h0m6-8h0m4 8h0m2-3h0m5 7h0m1-6h0m3 4h0m21 1h0m-142 7h0m6-4h0m1 10h0m13 2h0m9-10h0m7 10h0m15 0h0m6-11h0m43 7h0m3 5h0m1-12h0m14 12h0m10 0h0m4-5h0m2 2h0m7 0h0m5-10h0m1 11h0m15-5h0m6-2h0m1 5h0m23-3h0m-185 17h0m8 3h0m0-12h0m10 5h0m7 8h0m24-10h0m9-3h0m8 7h0m4 6h0m5-1h0m2-3h0m2-9h0m8 6h0m3 3h0m9 1h0m19-3h0m3 5h0m4-9h0m10 3h0m13-2h0m5-4h0m3 0h0m3 11h0m6-8h0m4 5h0m1-5h0m1 3h0m3 6h0m2-4h0m10 2h0m4 3h0m2-3h0m23 1h0m31-5h0m-242 18h0m5-9h0m7 9h0m5-6h0m3-4h0m5 3h0m37 8h0m0-10h0m24 3h0m0 6h0m4 0h0m10 3h0m19-10h0m10-1h0m2 0h0m13 4h0m8 7h0m2-2h0m5 1h0m3-6h0m13-4h0m1-1h0m16 2h0m0 6h0m3-8h0m2 2h0m8-1h0m5 6h0m2-7h0m0 7h0m13-4h0m0 8h0m5-5h0m19 2h0m-243 12h0m37-5h0m4 7h0m14-3h0m18 1h0m6-3h0m30 8h0m4-9h0m19 0h0m28-2h0m1 10h0m16-5h0m3 3h0m8-8h0m0 1h0m32 3h0m6-3h0m3 7h0m3-6h0m8 9h0m2-11h0m20-1h0m8 10h0m-270 6h0m19 0h0m60 0h0m33 0h0m34-2h0m8 0h0m49 2h0m41-1h0"/>
<path stroke="#7ad151" d="M293 1503h0m2 20h0m11-1h0m12-3h0m-19 10h0m21 8h0m0-6h0m25-1h0m18 9h0m20-7h0m-60 10h0m28 1h0m4 2h0m2-4h0m20 8h0m4-7h0m7-1h0m16 6h0m10 2h0m42 0h0m-83 5h0m30 0h0m4 0h0m14 8h0m2 0h0m10-2h0m3 5h0m15-10h0m6 7h0m6 2h0m16 3h0m-125 1h0m108 11h0m29-2h0m3-9h0m5 10h0m2 2h0m-3 4h0m33 4h0m2-6h0m5 9h0m10 0h0m-25 12h0m10-5h0m0 0h0m2 0h0m18 5h0m1-1h0m3-1h0m0 2h0m2-2h0m4 2h0m6 0h0m5 2h0m0 1h0m2-2h0m2 1h0m18 4h0m-58 14h0m5-11h0m25 2h0m10-1h0m5 1h0m1 7h0m3-4h0m18-7h0m3 11h0m-174 11h0m166 1h0m20 0h0m3 0h0m1-9h0m11 6h0m1 7h0m-149 12h0m31-1h0m84-10h0m27 2h0m0 6h0m5 2h0m4-2h0m4 3h0m1-5h0m0-6h0m3 3h0m0 6h0m2-4h0m9 7h0m17-9h0m-171 18h0m31 0h0m122-4h0m4-2h0m5 1h0m15 7h0m1-9h0m1 2h0m0 3h0m22 8h0m-254 3h0m256-1h0m2 0h0"/>
<path stroke="#440154" d="M536 1196h0m29 15h0m104 20h0"/>
<path stroke="#fde725" d="M302 1561h0m15 5h0m3 0h0m-27 9h0m3 3h0m3 1h0m15-7h0m-8 19h0m0 1h0m0 3h0m3 0h0m3-5h0m0 3h0m1-11h0m3 7h0m4 1h0m1 0h0m10 4h0m3-5h0m7 5h0m1-3h0m46 3h0m-95 10h0m0 2h0m7-4h0m8 1h0m0-4h0m18 5h0m0-4h0m7 1h0m6 1h0m7-1h0m0 7h0m3-5h0m5-4h0m5 5h0m3-7h0m4 11h0m1-8h0m7 8h0m1-4h0m-84 11h0m0-2h0m6 2h0m12 4h0m1 2h0m0-6h0m4 8h0m7-3h0m4-8h0m5 3h0m1 7h0m3-7h0m1 1h0m7-6h0m0 5h0m4 3h0m4 3h0m0 2h0m4-13h0m1 1h0m1 3h0m8-2h0m0-1h0m2 6h0m2 2h0m4-4h0m1 6h0m10-3h0m1-7h0m0 3h0m6 0h0m1 0h0m23 8h0m2-9h0m11 3h0m0-5h0m18 2h0m0-3h0m32 9h0m-184 15h0m2-9h0m4 2h0m3-2h0m0 12h0m1-2h0m2-4h0m1 6h0m8-5h0m6-3h0m7 7h0m0-10h0m13 11h0m7-3h0m1 2h0m5-3h0m2 0h0m2 0h0m5-1h0m1 2h0m2-7h0m4 9h0m2-11h0m3 5h0m1 7h0m7-2h0m6-5h0m3 1h0m4-2h0m6-5h0m0 8h0m5 2h0m0 1h0m4-6h0m1 2h0m4 6h0m3-13h0m1 12h0m0 0h0m1-4h0m2-4h0m2-2h0m1 1h0m3 1h0m7 6h0m0-7h0m5 8h0m10-4h0m0 2h0m7-6h0m16 1h0m4 3h0m3 4h0m-188 6h0m3 3h0m7 6h0m1-12h0m4 10h0m3-1h0m6-4h0m1-1h0m3-4h0m2 12h0m6 0h0m1-6h0m1-3h0m9 1h0m0-3h0m12 11h0m5 1h0m4-7h0m1 4h0m0-9h0m0 4h0m9 7h0m7-1h0m5-2h0m9 1h0m2-9h0m0 2h0m3-3h0m5 10h0m7 2h0m0-2h0m9-5h0m1-2h0m2 4h0m3 3h0m0-5h0m1 7h0m3-2h0m2-8h0m5-1h0m8 7h0m0-2h0m4 5h0m15-4h0m2-1h0m7 2h0m5 4h0m5-9h0m7 8h0m3 0h0m2 0h0m16-8h0m4 10h0m6-3h0m-226 9h0m3 6h0m4 2h0m0-8h0m12-2h0m8 9h0m4-5h0m6-5h0m3 6h0m3-3h0m4 8h0m0-12h0m9 9h0m2 3h0m10-1h0m0-12h0m1 11h0m4-7h0m0 0h0m2 0h0m5 6h0m4-2h0m5 5h0m1-6h0m3-4h0m2 3h0m5-5h0m1 3h0m1-3h0m9 12h0m1-12h0m1 2h0m6 2h0m12 5h0m1 0h0m3 1h0m0-5h0m3 3h0m1 1h0m4 3h0m1-10h0m4 9h0m2-10h0m2 10h0m2-5h0m1-6h0m8 1h0m4-1h0m1-1h0m1 11h0m3-4h0m0-5h0m2 11h0m3-13h0m1 8h0m1-7h0m2 4h0m3 1h0m5 6h0m1-2h0m5-3h0m9-5h0m2 6h0m0 4h0m4-12h0m5 11h0m2-3h0m3 1h0m1-5h0m1 1h0m7 7h0m0-4h0m4-6h0m10 6h0m3-8h0m23 11h0m11 1h0m-265 2h0m47 0h0m8 0h0m4 2h0m14-1h0m1-1h0m14 1h0m0-1h0m29 0h0m9 1h0m44 1h0m21-2h0m57 0h0m16 1h0"/>
<path stroke="#2c718e" d="M492 1270h0m-174 45h0m0 0h0m17 4h0m8 7h0m0 0h0m7-1h0m2 1h0m11-8h0m1 10h0m-40 8h0m14-6h0m8 2h0m7-2h0m8 12h0m2-3h0m10-3h0m3-4h0m2-2h0m213 10h0m-218 7h0m3-2h0m18 2h0m12 3h0m2-6h0m3 0h0m3 13h0m10-1h0m4 7h0m2-2h0m2-3h0m1 0h0m4 2h0m1 0h0m9 2h0m9 3h0m3 2h0m2-9h0m0 4h0m9 6h0m1-7h0m5 2h0m4 3h0m2 0h0m-26 9h0m11-3h0m15 5h0m9 1h0m13 1h0m2 0h0m-8 10h0m27 0h0m7 4h0m11-1h0m9 4h0m-14 10h0m31 2h0m7 2h0m3 1h0m4 2h0m4-2h0m-34 9h0m12-5h0m14 4h0m12-3h0m4 3h0m15 8h0m15 0h0m-29 4h0m8-3h0m20 5h0m1 6h0m38 2h0m81-5h0m-134 10h0m24-4h0m10 10h0m4-9h0m13 8h0m11-3h0m8 7h0m-3 8h0m5-1h0m6 5h0m3-4h0m5 6h0m10-4h0m14 4h0m-20 7h0m8 4h0m17 3h0m0-10h0m0-1h0m9 9h0m-9 8h0m4-2h0m5 4h0m12 2h0m3 0h0m6 1h0m0 0h0m-280 19h0m191 87h0m86 54h0"/>
<path stroke="#24868e" d="M400 1305h0m-44 30h0m-65 9h0m16 10h0m8-3h0m17-1h0m0 6h0m0-4h0m4 5h0m-38 10h0m20-7h0m13 0h0m2 8h0m1-1h0m9 1h0m4 3h0m4 0h0m3-3h0m0 0h0m3-5h0m6 3h0m5 5h0m22-1h0m-62 6h0m25 0h0m2-4h0m7 1h0m11 6h0m14 6h0m1-3h0m16 2h0m29 1h0m40 0h0m-119 1h0m33 1h0m12 2h0m26 7h0m0-2h0m8-5h0m2-1h0m24 10h0m-61 12h0m34-7h0m1 3h0m26-1h0m14 5h0m2-2h0m1-5h0m16 8h0m2-3h0m2 5h0m0-1h0m5-2h0m-32 9h0m15 2h0m8-4h0m3-1h0m2 5h0m16 4h0m2-5h0m25 5h0m-49 5h0m11 5h0m10-6h0m1 6h0m4-4h0m5 6h0m0-2h0m23-4h0m8 5h0m6-3h0m4 7h0m31 1h0m-52 7h0m5-6h0m22 5h0m0 7h0m3 0h0m1-2h0m1-3h0m5 3h0m1 1h0m15-2h0m7 3h0m1-6h0m20 5h0m-67 10h0m10-1h0m4 1h0m4-2h0m5 2h0m1 6h0m3-12h0m9-1h0m4 0h0m11 11h0m4 2h0m4 0h0m2-1h0m127-2h0m-419 6h0m270 2h0m7-2h0m8 5h0m12-4h0m1 0h0m9-3h0m1 13h0m8-13h0m13 9h0m-29 8h0m16-2h0m1 6h0m0 6h0m1-4h0m14-8h0m0 6h0m5-3h0m3 8h0m4-9h0m2 2h0m1 0h0m7 2h0m-8 7h0m6 2h0m9 11h0m1-6h0m4-5h0m3 6h0m9-3h0m-335 15h0m346 5h0m13-7h0m6 0h0m4-1h0m-29 11h0m16 9h0m10-6h0m2 8h0m2-10h0m1 4h0m3 5h0m-235 10h0m237 2h0m-216 15h0"/>
<path stroke="#3dbc74" d="M312 1466h0m7-3h0m183 1h0m-208 11h0m10-1h0m11 2h0m2 7h0m15-12h0m13 5h0m-44 9h0m4-1h0m1 7h0m2-1h0m12 7h0m10-11h0m3 10h0m0-7h0m19 3h0m28 1h0m33 2h0m-82 10h0m13-2h0m4 0h0m5 0h0m14 5h0m1 2h0m3-9h0m1-1h0m18 10h0m3-3h0m0 4h0m5-7h0m8 5h0m27 0h0m8-6h0m-51 21h0m14-3h0m11 1h0m2 1h0m12-6h0m17-2h0m16 10h0m10-9h0m6 5h0m21 1h0m113-8h0m-192 14h0m7 4h0m2 0h0m1-3h0m14 6h0m29 1h0m6 1h0m4 1h0m5-8h0m2 9h0m151-2h0m-179 8h0m15 6h0m5-2h0m29 3h0m3-9h0m0 3h0m10-3h0m39 8h0m64-10h0m-333 25h0m190-12h0m15 0h0m3 3h0m6-2h0m6 9h0m9-10h0m1 2h0m5 9h0m23-5h0m19 4h0m37 1h0m-61 13h0m6-6h0m2 3h0m2-5h0m22 10h0m1-11h0m2-1h0m7 2h0m10 8h0m1-6h0m6 1h0m-67 18h0m25-9h0m3 1h0m17-1h0m7 3h0m27 7h0m1 2h0m-42 4h0m14-2h0m21 5h0m8 3h0m14-7h0m12 7h0m8-8h0m16 13h0m-37 6h0m10 7h0m3-1h0m8-1h0m12-10h0m29 12h0m12-4h0m7-1h0m-66 9h0m10-1h0m6 3h0m4 5h0m11-7h0m2 4h0m16 5h0m7-5h0m19 3h0m-27 8h0m4-2h0m28 7h0m6 1h0m6 3h0m9-11h0m-152 13h0m141 9h0m3-1h0m4-5h0"/>
<path stroke="#277f8e" d="M410 1298h0m-94 15h0m-23 27h0m14-8h0m151 0h0m-167 15h0m20 7h0m9-9h0m5 7h0m8 0h0m24-3h0m8 8h0m-61 2h0m34 2h0m2-3h0m20 7h0m1-4h0m8-3h0m0 3h0m9 7h0m11-9h0m12 4h0m-33 14h0m39-5h0m13 11h0m1-6h0m1 6h0m0-2h0m3-5h0m2 4h0m64 5h0m58-8h0m-106 14h0m2-3h0m3 10h0m5 1h0m6-5h0m5-1h0m3 0h0m4 3h0m5 0h0m13 2h0m36-2h0m-75 13h0m13-7h0m11 4h0m2-4h0m13 3h0m1 4h0m3-7h0m7 4h0m5 7h0m5-5h0m-5 11h0m2 5h0m26-5h0m2-4h0m8 6h0m4 0h0m27 6h0m-60 3h0m30 11h0m16-13h0m11 11h0m0-2h0m1 1h0m6 1h0m2 0h0m2 0h0m14 2h0m-4 10h0m0-9h0m1 2h0m20 10h0m-13 9h0m10 0h0m5 0h0m2-3h0m14-1h0m0 6h0m3-2h0m16 6h0m-11 5h0m4-3h0m10 6h0m0-5h0m8-1h0m1 7h0m13-7h0m2 20h0m2-7h0m20 11h0m2-7h0m-8 14h0m8-4h0m14 2h0m6 5h0m6 5h0m20-1h0m-39 7h0m8-1h0m31 7h0m5-10h0m-7 20h0m-154 28h0m-7 11h0m-25 14h0m153 66h0"/>
<path stroke="#5ac864" d="M386 1448h0m-74 46h0m-18 5h0m0 1h0m7 4h0m7 3h0m3-4h0m8-2h0m1 6h0m1-7h0m8 5h0m6-3h0m31 6h0m-41 15h0m21-7h0m4 8h0m0-8h0m7 0h0m5 7h0m6-6h0m6 8h0m5-3h0m23 3h0m16-5h0m11 5h0m-68 5h0m18-1h0m7-2h0m6 4h0m20 3h0m3-1h0m1-5h0m1 7h0m8 2h0m46-2h0m-66 5h0m4 3h0m17 8h0m28-3h0m8-6h0m1 9h0m9-9h0m-18 19h0m8-6h0m6 9h0m17 2h0m5-6h0m3-6h0m4 5h0m1 5h0m21 0h0m-164 10h0m124-3h0m3-3h0m5 6h0m14-2h0m9-4h0m10 2h0m5-1h0m3 6h0m0-4h0m15-1h0m15 24h0m5-2h0m8 2h0m23-10h0m0 11h0m-73 6h0m44 1h0m10-1h0m4 7h0m31-3h0m4-4h0m1-1h0m10 3h0m-65 13h0m23-5h0m7 2h0m11 0h0m10 7h0m1-6h0m9 0h0m10 4h0m3 4h0m1-5h0m18 5h0m2 1h0m11-1h0m7 1h0m-41 12h0m12-9h0m6 8h0m19 0h0m9-9h0m-156 19h0m152 6h0m16-3h0m-172 17h0m189-8h0m2-1h0m14 5h0m7 6h0"/>
<path stroke="#20938c" d="M303 1351h0m-9 31h0m4-6h0m8 9h0m13-1h0m-27 13h0m10-8h0m2 8h0m8-4h0m7 5h0m8-2h0m6-6h0m2 1h0m0-5h0m18 11h0m49-2h0m59-6h0m-150 14h0m11-2h0m2 9h0m7-5h0m4 1h0m6 1h0m1 6h0m13 0h0m0-5h0m1 3h0m8 2h0m1-4h0m16 3h0m1-4h0m1-5h0m0 6h0m0-9h0m2 12h0m2 1h0m5 0h0m-54 13h0m4-5h0m4-4h0m2-2h0m12 10h0m2-8h0m3-3h0m4 12h0m0-7h0m6 5h0m5-7h0m11-1h0m11 6h0m9 3h0m4-9h0m11 8h0m5-4h0m1 7h0m17 0h0m-115 3h0m33 1h0m11-3h0m16 1h0m4-1h0m3 2h0m10 10h0m10-6h0m1 6h0m3-8h0m7-2h0m6 9h0m34 2h0m1-2h0m0-2h0m20-1h0m-86 7h0m15 4h0m48-3h0m6 6h0m2 5h0m0-13h0m15 1h0m3-1h0m3 0h0m1 9h0m12 4h0m77-6h0m-128 10h0m33 2h0m8 5h0m1 0h0m5-7h0m2-3h0m10 5h0m6 5h0m0-3h0m11-4h0m9 3h0m12 1h0m19 6h0m-247 9h0m178 3h0m1-9h0m9 4h0m17-2h0m6 8h0m0-3h0m8 3h0m2-2h0m2-3h0m30 6h0m22-1h0m-40 11h0m3 2h0m0-9h0m4 1h0m4 0h0m9 2h0m6 7h0m14 1h0m9-12h0m9 4h0m111-5h0m-146 24h0m8-9h0m9 3h0m6 3h0m3 4h0m9-3h0m6-7h0m4 4h0m-30 12h0m1-2h0m17 0h0m4 3h0m3 0h0m2 6h0m13 2h0m4-5h0m0 0h0m2-1h0m24 5h0m7 2h0m0-11h0m-261 13h0m225-1h0m4 10h0m26-6h0m4 9h0m1-4h0m1-9h0m2 10h0m9-3h0m1 0h0m3 6h0m10-2h0m-42 3h0m28 0h0m0 0h0m8 2h0m4 1h0m4 8h0m2 0h0m3-6h0m7 7h0m-21 8h0m4 4h0m3-1h0m6-6h0m7-3h0m9 9h0m8-4h0m0 5h0m8-6h0m3 8h0m6 0h0m0 0h0m3-7h0m-204 16h0m174 5h0m13-6h0m2-2h0m10 3h0m-237 14h0m243-2h0m-66 33h0m-84 4h0"/>
<path stroke="#a0da39" d="M290 1534h0m4 4h0m13-7h0m6-5h0m1 3h0m12 8h0m1-1h0m-27 16h0m1-10h0m33 2h0m22 3h0m17 3h0m3-9h0m7 1h0m2 5h0m-51 14h0m3-4h0m3-3h0m9 4h0m12 0h0m18 0h0m8 9h0m5-8h0m1-3h0m27 11h0m13-6h0m18 4h0m-59 16h0m8-3h0m10-4h0m12 0h0m4-2h0m7 5h0m3-7h0m3 8h0m0-1h0m4-3h0m4 0h0m5-1h0m-80 10h0m80 10h0m9-10h0m2 9h0m22-2h0m-44 12h0m13-2h0m27 6h0m10-10h0m9 7h0m2-1h0m8 1h0m6 6h0m9-3h0m10-5h0m4-4h0m-226 21h0m165-8h0m7 0h0m6 9h0m4-6h0m8 2h0m16 3h0m1 4h0m5-11h0m8 12h0m1-9h0m4-1h0m9 1h0m3 9h0m4-7h0m10 5h0m11-9h0m-112 24h0m92-7h0m7-1h0m14 2h0m4 6h0m10-10h0m3 8h0m6 3h0m2-5h0m6-1h0m-34 18h0m27-4h0m1-6h0m0 2h0m2 1h0m3 1h0m14-1h0m5 6h0m3 0h0m3-9h0m2 12h0m3-3h0m3-7h0m-24 12h0m8 12h0m3-7h0m20-2h0m13 4h0m23 2h0m-64 4h0m45 1h0"/>
<path stroke="#69cd5b" d="M291 1493h0m2-1h0m3 15h0m5-3h0m6 2h0m12 3h0m19-2h0m1-5h0m-40 17h0m27 0h0m6-5h0m0 10h0m28-5h0m2 4h0m0-9h0m2 10h0m4-4h0m-36 19h0m6-10h0m22 7h0m2 1h0m4-6h0m2-1h0m3 4h0m13-1h0m0-4h0m1 6h0m0-8h0m4 7h0m15-3h0m6-5h0m-16 24h0m20-4h0m3-3h0m1 6h0m26-6h0m3 0h0m4 9h0m-101 9h0m11 4h0m66-11h0m23 0h0m8 0h0m5 3h0m5 10h0m8-10h0m21 0h0m-45 12h0m51 10h0m19 2h0m12-3h0m-31 7h0m0-3h0m20 8h0m5-5h0m23 3h0m2 7h0m18 0h0m-269 3h0m229 1h0m15 0h0m15 2h0m6 3h0m2-6h0m9 9h0m11 0h0m0-2h0m21-8h0m-125 17h0m90-2h0m8 4h0m14-4h0m6 6h0m5 3h0m8-10h0m2 10h0m8-2h0m28 2h0m-54 6h0m35 0h0m0-3h0m17 8h0m11-4h0m-28 12h0m26 1h0m7 8h0m4 0h0m37 2h0m-44 4h0m20 6h0m7-6h0m18 11h0"/>
<path stroke="#365c8d" d="M290 1201h0m95-6h0m103 45h0m-186 16h0m34 12h0m119 4h0m-150 11h0m2-7h0m23-2h0m3 7h0m15-3h0m12 0h0m15 9h0m-41 7h0m9 4h0m3-7h0m2 8h0m2-6h0m5 3h0m9-2h0m17 1h0m18 2h0m4-2h0m19 2h0m8-1h0m-55 11h0m10 5h0m10-2h0m3 1h0m10 1h0m1 1h0m2 2h0m6-3h0m6-5h0m7-3h0m47 6h0m-37 15h0m0 3h0m17-7h0m2-2h0m5 3h0m3 1h0m18 6h0m9-3h0m13 3h0m-44 2h0m3 1h0m8-2h0m1 6h0m0-5h0m7 8h0m13-6h0m14 10h0m17-3h0m54-2h0m-65 18h0m0-6h0m9 4h0m5-4h0m0 0h0m1 2h0m16 4h0m2-10h0m0 8h0m1 3h0m1-7h0m4 2h0m-19 10h0m38 2h0m5 3h0m11 4h0m13-6h0m29 4h0m-46 5h0m3 3h0m2 4h0m26-2h0m-5 10h0m6-3h0m7 12h0m7-1h0m4-5h0m3-3h0m16 10h0m-20 3h0m3 1h0m12 3h0m5-6h0m6 13h0m4-11h0m4 3h0m2 7h0m20 0h0m-13 10h0m6 2h0m2 1h0m2-9h0m12 11h0m5-9h0m13 6h0m-6 9h0m2 6h0m1-9h0m0 9h0m6-5h0m23 7h0m2-3h0m2 1h0m-4 7h0m8 6h0m1-7h0"/>
<path stroke="#3e4c8a" d="M292 1214h0m0 11h0m12 4h0m12-4h0m12 3h0m6 3h0m-43 12h0m7-7h0m14 6h0m2-4h0m3 7h0m5-10h0m20-1h0m3 1h0m159-2h0m-165 14h0m8-1h0m17 2h0m2 2h0m1 9h0m3 0h0m12-8h0m4 5h0m36 0h0m-110 4h0m36 2h0m3 2h0m10-1h0m5-1h0m11 4h0m8-5h0m9 3h0m22 8h0m2-4h0m42 2h0m-77 10h0m8-2h0m35 1h0m11 5h0m1-6h0m14-1h0m16 4h0m22 2h0m-85 5h0m18 0h0m14 3h0m22-2h0m11 4h0m2 0h0m4 8h0m15-9h0m21 8h0m-17 9h0m5 5h0m7 1h0m2-8h0m2-1h0m13 4h0m11 2h0m-35 8h0m36-3h0m0 11h0m2-4h0m3 3h0m9 0h0m3-3h0m26 5h0m21-7h0m7 6h0m-51 5h0m1-3h0m30 6h0m2-2h0m9 5h0m13-4h0m6 7h0m4-4h0m13 3h0m-84 3h0m45 5h0m8 4h0m5 2h0m4-10h0m2 3h0m1 0h0m3 9h0m28-4h0m7 4h0m-38 1h0m13 5h0m1-1h0m13 2h0m1 2h0m0 2h0m5 1h0m2 1h0m8-4h0m0-2h0m1 7h0m12-6h0m2 6h0m15 0h0m-67 2h0m22 8h0m10 3h0m3-3h0m10-5h0m0 3h0m7 3h0m5 3h0m1-11h0m0 0h0m43 9h0m-55 7h0m18 0h0m2-3h0m15 1h0m13 1h0m2 5h0m13-6h0m-33 21h0m20-4h0m13 2h0m12-1h0m3 0h0m6-6h0"/>
<path stroke="#481668" d="M458 1189h0m38-2h0m-25 8h0m11 3h0m19 0h0m3-8h0m10 2h0m5 11h0m0 0h0m7-6h0m-24 13h0m12-1h0m33 6h0m6-6h0m5 4h0m5 4h0m-22 1h0m16 5h0m6 6h0m10 8h0m23 12h0m47 15h0m21 14h0m43 9h0m12 2h0m-26 13h0"/>
<path stroke="#443a83" d="M339 1189h0m-43 7h0m5 7h0m22-6h0m5-4h0m9 9h0m-42 4h0m6 2h0m3 9h0m21-12h0m17 8h0m4-2h0m9 4h0m4 2h0m3-13h0m-32 14h0m17 1h0m7 5h0m14-5h0m7 2h0m7-2h0m12 1h0m2 5h0m1 2h0m4-1h0m8-4h0m4 6h0m4-4h0m3 5h0m-52 6h0m48 7h0m0-7h0m7 5h0m19 3h0m21-7h0m-80 15h0m6-2h0m30-2h0m9-1h0m9 2h0m9 3h0m15-1h0m13 1h0m10 1h0m7 5h0m-14 10h0m19-3h0m13 5h0m0-4h0m9 4h0m13-3h0m8 4h0m-38 8h0m4 6h0m20-10h0m11 5h0m4-1h0m2-3h0m49 1h0m-59 19h0m9-5h0m12 7h0m21 2h0m1-8h0m1 5h0m2-2h0m8-1h0m-29 12h0m23-2h0m10 2h0m3-1h0m0 7h0m5-3h0m2 0h0m5 6h0m22-4h0m-13 9h0m11 6h0m4 0h0m19-3h0m3 2h0m2 1h0m38-1h0m-69 6h0m34 4h0m14-3h0m3 1h0m0 10h0m1-4h0m1-6h0m1-1h0m2 10h0m9-7h0m24 3h0m-42 11h0m9 4h0m10-8h0m1 0h0m4 10h0m1-4h0m12-2h0m14 0h0m14 1h0m-36 11h0m11 0h0m4 5h0m24-1h0m2 6h0m16-4h0m-21 6h0m18 8h0"/>
<path stroke="#28ae80" d="M390 1406h0m-87 15h0m-5 32h0m2-4h0m2-1h0m7 2h0m-8 16h0m6-9h0m3 6h0m11 0h0m3 2h0m2 2h0m16 0h0m2-7h0m1-2h0m16 11h0m14-3h0m-75 10h0m3-2h0m7 2h0m20-3h0m1 10h0m22-7h0m20 7h0m7-10h0m5-3h0m13 2h0m1 7h0m1 3h0m5 1h0m245-7h0m-259 10h0m0 10h0m7-12h0m2 25h0m19-5h0m3-5h0m39 11h0m9-3h0m4 4h0m3 0h0m5-7h0m2-6h0m26 12h0m153-5h0m-258 9h0m29-2h0m20 1h0m3 0h0m8 12h0m5-4h0m60-2h0m24 4h0m17-5h0m-101 8h0m0 5h0m8-3h0m21 1h0m3 10h0m3-4h0m14 1h0m6 2h0m-71 5h0m50 2h0m18 6h0m4-5h0m7 1h0m5 2h0m8-3h0m8 0h0m9-2h0m18 8h0m2-2h0m12 2h0m-243 5h0m19 6h0m156-8h0m25 0h0m7 7h0m22 0h0m5-5h0m5 4h0m5-1h0m21 6h0m14-1h0m-47 5h0m17 1h0m11-3h0m5 10h0m18-7h0m10 6h0m6 0h0m-211 9h0m162 8h0m28-7h0m28 1h0m5-2h0m13 3h0m-51 10h0m28-2h0m7-1h0m12 5h0m11 4h0m12-2h0m9-4h0m23 10h0m-32 13h0m25-12h0m12 12h0m15-2h0m1 2h0m-23 8h0m2 1h0m10-1h0m3-3h0m-54 21h0m27-9h0m41 10h0"/>
<path stroke="#460b5e" d="M514 1189h0m21 0h0m-17 10h0m20-2h0m4-2h0m43 18h0m39 26h0m49-7h0"/>
<path stroke="#1f9a8a" d="M321 1349h0m-24 50h0m30-1h0m-21 6h0m5-1h0m25 7h0m-42 4h0m11 1h0m2 4h0m18-4h0m1 11h0m6-8h0m3 6h0m12-6h0m0 7h0m1 2h0m4-9h0m3 6h0m1-9h0m6-1h0m0 6h0m2 4h0m0-1h0m12 1h0m1 2h0m-57 9h0m8-5h0m6 6h0m15 2h0m3 1h0m3-7h0m7-2h0m3 10h0m2-10h0m10 0h0m8 4h0m2 3h0m3-7h0m3-1h0m5 9h0m12 2h0m6-8h0m14 7h0m13 2h0m-65 3h0m8-2h0m14 1h0m1 5h0m2 1h0m1 1h0m3-8h0m7 4h0m4-4h0m4 10h0m2-10h0m0 3h0m7-1h0m3 0h0m11 8h0m2 2h0m0-10h0m8 10h0m12-8h0m41 9h0m64-13h0m-173 14h0m33 0h0m2 11h0m0-7h0m1-1h0m7-2h0m0 7h0m4-1h0m5-6h0m8 2h0m2-1h0m4 1h0m1 8h0m8-5h0m3 6h0m5-8h0m29 2h0m23 7h0m-87 6h0m22 3h0m12-1h0m1-2h0m3 0h0m2 4h0m6-4h0m3-3h0m4 9h0m2 1h0m6-10h0m4 2h0m1 6h0m10 0h0m3-8h0m83 3h0m-111 11h0m3 5h0m13 5h0m13-11h0m5 7h0m15 2h0m2 2h0m3-2h0m9 1h0m6 0h0m0-6h0m-40 12h0m9 2h0m14-4h0m5 4h0m1-1h0m1 6h0m24-7h0m6-2h0m5 0h0m6 4h0m5 7h0m-93 9h0m26-7h0m26 8h0m32 2h0m3 3h0m6-7h0m1-2h0m4 6h0m1-7h0m1 6h0m7-1h0m1-5h0m8 6h0m2 0h0m13 3h0m-107 6h0m63-2h0m5 9h0m6-11h0m5 8h0m1-7h0m2 4h0m9-2h0m5 4h0m4 3h0m2 1h0m4-4h0m0 5h0m1 0h0m12-2h0m0 1h0m-76 12h0m34-4h0m26 1h0m7-1h0m2-5h0m2 7h0m2-4h0m1 3h0m3 3h0m1-4h0m9-4h0m10 10h0m1-4h0m0 6h0m2-10h0m5 3h0m4 6h0m5-9h0m-278 14h0m128 3h0m132-3h0m1 4h0m1-1h0m3 5h0m2-2h0m0-7h0m2 7h0m3-8h0m12 10h0m2-2h0m9 1h0m0-4h0m9 0h0m-30 10h0m17 4h0m6 7h0m4-6h0m5 5h0m3-3h0m3 2h0m7-3h0m4 0h0m10 1h0m2 0h0m-69 17h0m46-7h0m4-2h0m3 9h0m9-5h0m1 6h0m1-3h0m5-8h0m-27 25h0m32-13h0m0 3h0"/>
<path stroke="#414487" d="M300 1200h0m3 16h0m2-1h0m10-5h0m5-1h0m5 4h0m2 2h0m-31 6h0m10-1h0m3 4h0m6 0h0m3-4h0m1 3h0m4-1h0m3 6h0m17 3h0m5-4h0m11 4h0m1-9h0m19 7h0m22 1h0m-63 11h0m18-3h0m8-6h0m7 4h0m11 2h0m2-1h0m16 7h0m12-5h0m22-3h0m-64 12h0m7 6h0m3-5h0m9 8h0m30 0h0m7-4h0m16 1h0m4-3h0m4 0h0m47 7h0m-108 2h0m19 5h0m9-4h0m18 4h0m2-2h0m4-2h0m4 8h0m18-7h0m16 11h0m-16 14h0m3-9h0m8 9h0m12-4h0m20-5h0m3 3h0m22 2h0m12-3h0m21 6h0m-86 3h0m16 8h0m6-9h0m5 3h0m27-1h0m0-1h0m3 0h0m13 2h0m11 9h0m6-7h0m-52 13h0m3 0h0m23 4h0m1 2h0m13 2h0m4-9h0m12 8h0m4-10h0m10 12h0m4-10h0m0 8h0m4-5h0m4 6h0m2-7h0m-4 20h0m6-2h0m2-8h0m1 3h0m2 1h0m9 6h0m7-9h0m7-2h0m20 12h0m-96 3h0m57 11h0m11-10h0m26 8h0m17-3h0m-65 13h0m11 3h0m22 0h0m2-1h0m6 3h0m2 0h0m0-2h0m6-7h0m12 9h0m4-10h0m3-1h0m7 13h0m8-7h0m3 3h0m3-4h0m31 7h0m-63 15h0m6-7h0m8-4h0m10 6h0m4 0h0m1-3h0m39 8h0m-42 3h0m19 3h0m4-4h0m1 9h0m14-3h0m22 2h0m6-7h0m0 7h0m-34 5h0m3 10h0m0-7h0m9 4h0m8 2h0m16-2h0m0 14h0m4-1h0"/>
<path stroke="#46327e" d="M302 1189h0m15 0h0m4 5h0m3 1h0m10-1h0m9 1h0m29 7h0m4 2h0m47 12h0m24-11h0m9 10h0m-77 5h0m9-1h0m0 1h0m18 3h0m12-4h0m5-1h0m2 9h0m1 0h0m3-2h0m2 0h0m45 0h0m-27 12h0m4 0h0m12-3h0m16 2h0m3 3h0m4-3h0m12 8h0m1-7h0m10 8h0m7 0h0m30-1h0m-57 15h0m2-13h0m9 2h0m6 2h0m9 7h0m1-11h0m4 12h0m4-7h0m25 7h0m-51 7h0m32-4h0m2 1h0m1 0h0m1 9h0m6-8h0m26 7h0m12-5h0m5 7h0m-38 7h0m29 2h0m3 4h0m4-10h0m2 9h0m3-2h0m1-1h0m9 5h0m1-5h0m6 5h0m-14 5h0m0-2h0m8 11h0m6-7h0m5-3h0m6 2h0m7 0h0m2 3h0m17 5h0m6-4h0m0 0h0m-33 8h0m3 2h0m17-3h0m9 3h0m2-1h0m4 8h0m3 2h0m2-12h0m4 0h0m12 12h0m5-9h0m-21 10h0m15 6h0m22 4h0m-15 9h0m11 0h0m7-3h0m1 10h0m20-12h0m3 2h0m3 10h0m-31 7h0m1-4h0m17 9h0m15-3h0m4 2h0m11-9h0m16 11h0m-28 8h0m6 0h0m16 5h0m4 0h0"/>
<path stroke="#481f70" d="M399 1188h0m33 0h0m-23 9h0m20-5h0m17 1h0m8 8h0m7 0h0m17-5h0m-5 18h0m1-6h0m9 6h0m1-10h0m5 7h0m30 4h0m3-1h0m9-2h0m-46 8h0m10 1h0m21 2h0m1 0h0m1-3h0m1 9h0m14-5h0m5-4h0m3 4h0m13-2h0m10 9h0m-35 5h0m34 6h0m3-9h0m8 3h0m7-2h0m14 18h0m4 3h0m38-4h0m-45 12h0m8 2h0m9-2h0m5 5h0m4-3h0m11 8h0m8-6h0m1-6h0m3 4h0m11 6h0m-18 9h0m3 2h0m16-8h0m17 6h0m14 13h0m0-2h0m6 11h0m12 0h0m4 4h0m12 4h0m8 3h0m1-2h0m1 4h0m9 14h0m8 0h0m-23 8h0m26-4h0m3-1h0"/>
<path stroke="#3a538b" d="M449 1224h0m-154 30h0m3 1h0m11 1h0m3-6h0m26 8h0m1 1h0m20 0h0m-70 1h0m36 5h0m0-2h0m2-3h0m7 10h0m2 3h0m4-4h0m13-6h0m15 10h0m31-8h0m-49 9h0m12 10h0m1-6h0m8-4h0m14 6h0m16 3h0m26-5h0m30-4h0m-52 20h0m2-4h0m16 7h0m6 1h0m12 3h0m11-2h0m1 2h0m4 0h0m3-12h0m7 4h0m1 7h0m15-2h0m-48 7h0m3-3h0m5 7h0m9-6h0m16 8h0m2-3h0m7 2h0m9-2h0m3-3h0m19 3h0m-66 8h0m18 8h0m3 2h0m14-9h0m3 2h0m1 3h0m14 3h0m0 0h0m7 4h0m0-12h0m10 2h0m2 5h0m11 0h0m20 2h0m24-1h0m-56 14h0m1-9h0m2 4h0m16 5h0m1 4h0m0 8h0m11 2h0m2-6h0m2-2h0m7 3h0m10 9h0m21-4h0m16 3h0m0 1h0m107-7h0m-173 10h0m62 0h0m5 3h0m3 5h0m2-7h0m8 9h0m9-3h0m2-6h0m2 1h0m3 8h0m16 0h0m-25 7h0m3-4h0m1 8h0m18-8h0m19 11h0m29-3h0m-64 11h0m36 2h0m2 2h0m1 1h0m1-4h0m1 5h0m9-4h0m1 5h0m1 4h0m18 8h0m1 1h0m4-8h0m11 8h0m-26 5h0m19 5h0m4 0h0m3-8h0m3 2h0m2-1h0m1 7h0m13-1h0m0-6h0m1 12h0m16-1h0m-29 5h0m9-2h0m4 5h0m10-5h0m8 2h0m-414 30h0"/>
<path stroke="#2a788e" d="M307 1226h0m-3 103h0m14-1h0m13-3h0m-35 8h0m7 9h0m20 0h0m13-12h0m7 9h0m11 0h0m3 2h0m-38 3h0m17 1h0m5 4h0m10-1h0m16-1h0m7 2h0m0 6h0m14-5h0m7 3h0m14-6h0m3 5h0m150 2h0m-185 9h0m31 4h0m5-3h0m4 0h0m17 2h0m10 4h0m-15 4h0m16 7h0m18-8h0m15 7h0m24 3h0m-41 6h0m16 3h0m11 7h0m5-1h0m2 0h0m1-2h0m1 2h0m0-1h0m1 2h0m0-13h0m1 0h0m50 10h0m86-9h0m0 7h0m-144 11h0m1-5h0m4 2h0m23 3h0m3 7h0m16-1h0m1-5h0m7 2h0m3-5h0m7 10h0m5 0h0m-18 10h0m4-6h0m7-3h0m8 1h0m3 2h0m6-2h0m2 5h0m22 1h0m-31 10h0m2-2h0m37 8h0m9-6h0m2 4h0m4 1h0m11 4h0m-25 8h0m7-1h0m1 7h0m4-8h0m12-2h0m5 5h0m3 2h0m7 0h0m10 1h0m-3 14h0m1-7h0m6 5h0m2-4h0m4-1h0m5 6h0m12-4h0m5 8h0m-19 3h0m13-2h0m10 1h0m3 5h0m20 5h0m8 0h0m3 16h0m7-8h0m3 19h0m0 1h0m12 2h0m5-12h0m4 6h0m2 2h0m-277 13h0m21-6h0m249-1h0m2 7h0m-180 50h0"/>
<path stroke="#32b67a" d="M315 1413h0m85-13h0m-84 50h0m-24 16h0m7-8h0m4 0h0m11 8h0m8-8h0m9 11h0m2-3h0m19 3h0m-53 11h0m5-9h0m17 12h0m3-8h0m3 5h0m6 2h0m1-1h0m18-9h0m2-2h0m1 3h0m1 1h0m12 7h0m-62 7h0m2-1h0m17 3h0m8 6h0m21-11h0m5 4h0m14 5h0m48 2h0m8-1h0m-70 14h0m21-10h0m2 2h0m3 8h0m14-9h0m2 6h0m1 5h0m6-2h0m10-9h0m11 4h0m1 5h0m2-10h0m15 9h0m4-8h0m175 8h0m-330 12h0m83-6h0m20 2h0m51 7h0m4-2h0m51 4h0m39-1h0m-83 11h0m4-7h0m9 8h0m39-4h0m15-3h0m4 9h0m0-1h0m-56 9h0m25-2h0m6 6h0m2-4h0m6 2h0m4 4h0m7-5h0m8-5h0m4-2h0m10 7h0m11-3h0m100 8h0m-128 2h0m13 8h0m24-4h0m0-1h0m9 9h0m8-5h0m-286 13h0m34-1h0m245-1h0m2 8h0m2-3h0m13-9h0m34 9h0m2 4h0m-68 2h0m22 3h0m18-1h0m13 10h0m21 0h0m2-1h0m4-7h0m26-4h0m-37 24h0m15-11h0m1 3h0m3 1h0m1 1h0m2 6h0m56-5h0m-211 18h0m140-5h0m8 7h0m15-4h0m5 2h0m20-4h0m2 4h0m6-7h0m0 6h0m23-8h0m-43 20h0m22 1h0m4-6h0m11 8h0m1-2h0m15 0h0m1 3h0m2-11h0m3 2h0m-38 14h0m34-2h0m13 4h0m1 1h0m1-5h0m4 3h0"/>
<path stroke="#306a8e" d="M363 1218h0m204 61h0m-273 17h0m3-8h0m2 10h0m1-1h0m7 2h0m2-4h0m1-1h0m0 5h0m8 1h0m5 1h0m20 0h0m17 0h0m-69 6h0m7 7h0m1-3h0m7-8h0m8 12h0m4-4h0m13 3h0m23-1h0m-52 5h0m34 2h0m16-3h0m4 0h0m20 12h0m10 0h0m25-1h0m6-6h0m4 7h0m-55 6h0m25-2h0m5-3h0m5 3h0m2 5h0m0 3h0m7-2h0m1 1h0m12-3h0m1 3h0m2-2h0m4 1h0m6 4h0m2-1h0m1-6h0m2-1h0m4 4h0m-15 10h0m11 2h0m15-3h0m6 3h0m3 0h0m10 6h0m1-12h0m14 4h0m-37 11h0m10 0h0m17 5h0m15 2h0m8-1h0m0 6h0m13 5h0m3 3h0m1 2h0m1 3h0m2-2h0m14-1h0m6 0h0m8 3h0m-22 3h0m16 8h0m12-1h0m1-5h0m10-1h0m8 17h0m0-6h0m9 6h0m4-6h0m3 13h0m3-2h0m6 2h0m3-7h0m1-3h0m10 8h0m4-6h0m1 2h0m-33 12h0m31 8h0m0-2h0m4-4h0m6 2h0m0-6h0m8 9h0m2-4h0m0-3h0m29 7h0m-50 7h0m3-3h0m15 0h0m7 0h0m20 2h0m16 0h0m13 6h0m-33 5h0m6 0h0m6 5h0m5 0h0m10-1h0m0-5h0m15 8h0m8-8h0m11 1h0m8 10h0m-45 5h0m21 2h0m8-4h0m1 8h0m0-5h0m3 3h0m0 4h0m16-9h0m-13 15h0m3 4h0m7-6h0m0 7h0m2-1h0m2 4h0m3 3h0m6-2h0m1-4h0m1-4h0m1 5h0m4 1h0m0-2h0m5 4h0m-158 106h0m76 17h0m8-5h0"/>
<path stroke="#c8e020" d="M295 1551h0m21-3h0m4 1h0m26 0h0m-52 16h0m6-9h0m1 8h0m0-5h0m5 7h0m6-4h0m21 0h0m3 3h0m24-7h0m7 1h0m8 7h0m8-4h0m-61 17h0m3-9h0m29 0h0m1-1h0m1 7h0m8 2h0m9-10h0m0 12h0m2-11h0m1 0h0m25 11h0m2 0h0m17 1h0m4-4h0m-63 14h0m17 0h0m20-2h0m14 3h0m1-7h0m6 3h0m2-6h0m3 12h0m-17 11h0m30-9h0m17 5h0m11 3h0m4-2h0m21 5h0m11-10h0m-67 14h0m9 6h0m29-4h0m0 5h0m3 1h0m2-2h0m7-5h0m1 9h0m1-7h0m9 5h0m12 2h0m3-7h0m3 7h0m38-2h0m-63 5h0m3 1h0m17 3h0m4 0h0m3 8h0m12-10h0m2 4h0m7-5h0m5 0h0m0 8h0m12 0h0m9-1h0m-173 16h0m123-2h0m32-6h0m0 2h0m12 0h0m14 8h0m6-7h0m28 6h0m-31 10h0m5-5h0m0 6h0m12-1h0m17 1h0m2 3h0m46-9h0m-351 13h0m283-1h0m34 2h0m3 0h0"/>
<path stroke="#4ac16d" d="M344 1480h0m-52 11h0m3 3h0m48-7h0m-9 13h0m2 2h0m32-3h0m2 11h0m16-10h0m63 10h0m-116 8h0m18-2h0m5-3h0m14 10h0m2-2h0m15 4h0m7-10h0m21 8h0m4-4h0m4-4h0m21-2h0m-42 17h0m4 8h0m7-10h0m6 3h0m1 4h0m2-8h0m5 10h0m11 2h0m94 0h0m-104 3h0m36 7h0m1 1h0m1 2h0m3-8h0m5-4h0m1 11h0m10-9h0m1 11h0m38 0h0m132-9h0m-192 19h0m8-8h0m0 7h0m22 0h0m2 0h0m2-4h0m3 2h0m22-4h0m1 9h0m4 0h0m1-3h0m3 3h0m35-3h0m-160 13h0m104-7h0m2 6h0m33 5h0m6 1h0m3-12h0m12 8h0m9 4h0m12-3h0m-124 6h0m88 6h0m1-4h0m9 8h0m14-8h0m11-3h0m8 5h0m10 5h0m7-9h0m-11 18h0m1-2h0m13 5h0m5 0h0m19-3h0m9 2h0m-49 8h0m22 6h0m2 2h0m4-8h0m5 5h0m7-3h0m2-1h0m14 6h0m1 0h0m26-7h0m27 11h0m-215 12h0m94 2h0m84-5h0m7-2h0m23 15h0m1 0h0m2 4h0m10-8h0m9 11h0m-24 2h0m8-1h0m17 2h0m2-1h0m6 10h0m1-6h0m0-1h0m12 0h0m5 4h0m3 0h0m1 4h0m-36 3h0"/>
<path stroke="#33638d" d="M302 1268h0m-9 19h0m0-5h0m3 1h0m7-7h0m4 3h0m8 1h0m32 7h0m-49 2h0m3 8h0m27 0h0m1-3h0m0 1h0m7 2h0m2 2h0m27-4h0m39-3h0m-75 17h0m8-6h0m11 5h0m7 5h0m6-9h0m0 3h0m1-5h0m2 4h0m7 6h0m0-6h0m1 6h0m3 1h0m23-2h0m6-9h0m10 8h0m-28 8h0m16 8h0m17-6h0m1 8h0m2-8h0m8 7h0m3-8h0m-3 11h0m18 12h0m8-1h0m4 0h0m5-11h0m6 3h0m0 10h0m12-5h0m2 5h0m6-1h0m11-3h0m7 4h0m3 0h0m-55 5h0m6-2h0m5 4h0m12-2h0m2 7h0m1-9h0m11 5h0m7 4h0m4-6h0m3 4h0m7-4h0m9 1h0m7 2h0m-26 7h0m33 5h0m25 7h0m-10 10h0m1-8h0m7 7h0m13 0h0m18 2h0m3-2h0m0 4h0m7-7h0m4 7h0m-35 6h0m11 0h0m2 0h0m2 5h0m8 4h0m5-9h0m0 0h0m12 2h0m20 3h0m-21 12h0m9-3h0m2-1h0m4-2h0m1 3h0m10 1h0m6 2h0m1-1h0m-7 19h0m13-10h0m2 2h0m2-3h0m10 12h0m5-3h0m7 1h0m7-8h0m18 9h0m-8 16h0m5-9h0m4-1h0m1 8h0m0-7h0m5 0h0m-6 17h0m18-5h0m2 6h0m2 2h0m9-1h0m-30 5h0m49 2h0m3 10h0m-3 4h0m1 6h0m-166 73h0"/>
<path stroke="#482979" d="M387 1189h0m7 0h0m55-1h0m-72 9h0m23-3h0m2-1h0m22 4h0m23 6h0m8-2h0m-57 6h0m26 9h0m12-10h0m12 6h0m6-6h0m3 6h0m31 4h0m1 0h0m17 1h0m-63 9h0m3 1h0m2-7h0m26 2h0m2 7h0m33-6h0m0 17h0m8 1h0m8-5h0m9 2h0m33 5h0m9-7h0m-64 13h0m23-2h0m0-1h0m24 10h0m17-9h0m7 8h0m7-2h0m-21 7h0m16 4h0m14 3h0m5 5h0m6-8h0m15 7h0m-46 8h0m20-3h0m8 7h0m11-5h0m6-1h0m12 8h0m2-2h0m15 2h0m-34 15h0m28-12h0m1 12h0m15 0h0m12-2h0m-34 8h0m16-3h0m5-1h0m10 6h0m7 3h0m3 4h0m26-5h0m-11 7h0m2 2h0m14 6h0m2 2h0m5 1h0m1-7h0m2-5h0m2 13h0m4 6h0m1 1h0m13-4h0m2 7h0m3 1h0m2 2h0m5-4h0m-19 8h0m9-1h0m4 4h0m6-3h0m1 2h0m0 0h0"/>
<path stroke="#22a884" d="M464 1376h0m-170 43h0m1 8h0m0 14h0m5-1h0m12-9h0m2 10h0m196 0h0m-215 9h0m10-7h0m1 0h0m7-1h0m9 7h0m3 0h0m8 3h0m12-4h0m0 5h0m22 1h0m2-3h0m191 2h0m-265 13h0m7-8h0m34 1h0m3 5h0m10-8h0m1 9h0m8 4h0m5-12h0m4 10h0m6-3h0m5 3h0m17-3h0m20 4h0m16 1h0m5-5h0m1-2h0m-142 12h0m59 9h0m8-3h0m3-7h0m16 7h0m5-5h0m9-5h0m1 12h0m7-11h0m2 0h0m8 3h0m13-4h0m2 10h0m6-5h0m0 4h0m153-5h0m-226 18h0m20 3h0m5-3h0m21-3h0m13-5h0m6 13h0m5-6h0m4-6h0m12 9h0m2-5h0m4-2h0m1-2h0m5-1h0m22 12h0m10-2h0m-177 8h0m131-2h0m23 2h0m12 0h0m18 4h0m-96 18h0m54-12h0m7 8h0m39 4h0m7-5h0m4 5h0m4-6h0m3-6h0m11 11h0m181-1h0m-156 7h0m5 4h0m12-3h0m1 8h0m1-7h0m5 8h0m1-4h0m-28 7h0m5 10h0m13-8h0m1 8h0m4 0h0m2-6h0m10 2h0m12 2h0m5 0h0m15 0h0m12 2h0m81-12h0m-116 18h0m13-1h0m6 0h0m0-3h0m2 0h0m3 8h0m2-5h0m5 7h0m7-1h0m2-6h0m4 5h0m5 3h0m1-2h0m-41 13h0m24-2h0m10 0h0m12-2h0m6-2h0m0-2h0m6 12h0m4-2h0m-152 16h0m119-11h0m28-1h0m1 0h0m4 6h0m4 6h0m2-9h0m0 2h0m7 0h0m2-2h0m10-3h0m1 1h0m2 6h0m2 1h0m8 4h0m4 1h0m9-2h0m-35 4h0m6 5h0m0-1h0m3 6h0m22-2h0m3-1h0m1-4h0m2 0h0m0 5h0m3-6h0m4 3h0m3-1h0m0 2h0m2 5h0m2-7h0m20 3h0m-120 16h0m73 0h0m19-4h0m7 2h0m8-3h0m3 6h0m10-3h0m-42 8h0m23 1h0m18-2h0"/>
<path stroke="#228d8d" d="M327 1336h0m-35 22h0m20 5h0m1 7h0m22-3h0m-43 5h0m9 11h0m1-2h0m7 4h0m1-1h0m3-9h0m20 6h0m1-5h0m1 0h0m3 4h0m1-4h0m10 9h0m12-2h0m-65 8h0m2-2h0m40 1h0m15 1h0m1 0h0m9 6h0m2 0h0m31 1h0m0-9h0m3 5h0m10-1h0m4 0h0m-27 11h0m4 5h0m15-2h0m9 0h0m18 6h0m5-1h0m0-9h0m2 10h0m5-13h0m-65 21h0m5-6h0m6 1h0m34 6h0m3-3h0m17 0h0m3 4h0m3-5h0m11 0h0m6 8h0m23-7h0m10 6h0m145-1h0m-225 7h0m22-2h0m5-1h0m6 3h0m15 0h0m23 5h0m2-6h0m10 9h0m2-2h0m1-6h0m2 1h0m4 6h0m-33 11h0m30-1h0m2-2h0m0 4h0m5 0h0m2-4h0m1-1h0m5 6h0m2-8h0m3 6h0m13-1h0m5 3h0m16 4h0m16-9h0m-68 13h0m4 0h0m3 0h0m11-1h0m11 9h0m2-11h0m1 8h0m3-6h0m2 2h0m2 0h0m6 9h0m3-4h0m10-5h0m15 5h0m2-8h0m3 8h0m-35 6h0m3-1h0m30 6h0m12-3h0m8 9h0m1-5h0m4 4h0m9-5h0m3 5h0m-38 6h0m4-2h0m1 2h0m11 3h0m4-3h0m16-3h0m7 2h0m3-2h0m3 2h0m2 8h0m7 3h0m1-13h0m-244 22h0m225-6h0m1 8h0m0-9h0m8-1h0m2 9h0m2 2h0m11-9h0m3 3h0m7 6h0m2-1h0m2-3h0m-20 8h0m2 2h0m9-3h0m1 0h0m5 0h0m1 9h0m0-3h0m5 1h0m3 3h0m9-9h0m7 8h0m26 1h0m-194 15h0m153-10h0m5 5h0m3-1h0m22 2h0m11-1h0m1 5h0m3-3h0m5 4h0m9-8h0m12 5h0m0 4h0m2-2h0m9-1h0m-53 4h0m20 10h0m13-8h0m1 6h0m0-1h0m12 1h0m1 1h0m5-9h0m-11 14h0m14 7h0m-196 10h0m77 28h0m16 41h0"/>
<path stroke="#b2dd2d" d="M296 1530h0m9 8h0m9-10h0m-13 15h0m1 9h0m2-4h0m15 1h0m8-6h0m5 1h0m1 5h0m-26 5h0m4 3h0m21 7h0m1-2h0m2 4h0m4 1h0m3-11h0m3-1h0m24 8h0m15 3h0m1 0h0m12-4h0m25 3h0m-75 16h0m3-5h0m39-1h0m11-5h0m8 1h0m7 9h0m7-8h0m1 6h0m-68 7h0m22-2h0m9 4h0m9-3h0m4-1h0m25 5h0m4-1h0m1 3h0m0-7h0m4 9h0m0-10h0m2 0h0m9 12h0m1-2h0m7 1h0m3-1h0m3 0h0m2-7h0m7 0h0m8 9h0m37 1h0m-71 2h0m11 0h0m6 1h0m9-2h0m19 3h0m8-3h0m16 12h0m2 0h0m0-2h0m-25 8h0m12-2h0m27 3h0m6 8h0m1-8h0m5-2h0m2 1h0m26 3h0m-46 19h0m21-8h0m12-1h0m4 4h0m6 1h0m6-3h0m0 8h0m7-3h0m1 3h0m2-3h0m7 1h0m-74 12h0m30 1h0m4-10h0m12 5h0m28-4h0m12 12h0m17-1h0m26 1h0m-47 9h0m7 3h0m1-2h0m1-2h0m23-5h0m26 5h0m-26 8h0"/>
<path stroke="#8ed645" d="M310 1503h0m6 17h0m7 8h0m1 2h0m21-3h0m0 12h0m4-3h0m1-10h0m27 10h0m-71 8h0m21-4h0m7 7h0m9 6h0m7-2h0m15 0h0m4-5h0m2 0h0m3 3h0m5-2h0m3-7h0m8 10h0m13-5h0m3 8h0m5-3h0m-35 13h0m4 3h0m13-5h0m18 1h0m7-2h0m3 7h0m7-4h0m1-2h0m1 3h0m2-10h0m20 10h0m36 3h0m-110 6h0m16 2h0m28-7h0m3 5h0m16-2h0m12 9h0m8-5h0m21 3h0m-18 4h0m17 11h0m6-10h0m4 7h0m11-5h0m5-1h0m3 4h0m7 6h0m-38 2h0m12 9h0m18-9h0m3 3h0m7-3h0m0 3h0m7 10h0m4-8h0m18 5h0m2 0h0m17 2h0m-207 4h0m102 11h0m44-4h0m27-1h0m20 2h0m5-10h0m8 9h0m1-1h0m10 2h0m3-1h0m2-1h0m3-7h0m3 10h0m21 1h0m-189 2h0m97 0h0m57 12h0m8-10h0m4 0h0m3 5h0m15-4h0m1 2h0m5 5h0m-213 17h0m195-9h0m11-4h0m22 9h0m3-1h0m1 3h0m2 2h0m2-5h0m23-2h0m-55 8h0m26 0h0m1 5h0m20-5h0m13 10h0m3-6h0m2 9h0m5-10h0m16 3h0m3 1h0m-32 7h0m2 1h0"/>
<path stroke="#dae319" d="M292 1560h0m0 1h0m7-2h0m11 5h0m2-4h0m3 7h0m4-5h0m5-5h0m12 1h0m4 9h0m38-1h0m-85 14h0m15-4h0m3-8h0m0 5h0m18 5h0m2 2h0m11-6h0m13 6h0m28-7h0m-61 16h0m12-2h0m6-3h0m12 11h0m25-11h0m11-1h0m2 8h0m5-1h0m5-6h0m9 7h0m11-4h0m21 2h0m2 6h0m-103 7h0m39-3h0m28 8h0m8-5h0m4-4h0m1 1h0m2 5h0m9-3h0m4 1h0m10 0h0m24 4h0m2-1h0m-102 11h0m60 1h0m9 4h0m9-10h0m2-1h0m4 0h0m13 1h0m16 8h0m23-9h0m-162 14h0m55 2h0m36 7h0m13-6h0m12 5h0m11-4h0m43 5h0m13-2h0m37 5h0m-269 12h0m89-10h0m6 7h0m21-7h0m70 5h0m6 2h0m1 1h0m10-7h0m0 1h0m13 0h0m4 7h0m3-3h0m9-3h0m0 2h0m17 3h0m6-2h0m2 3h0m6 3h0m3 1h0m0-6h0m3 6h0m9 0h0m10-1h0m-292 15h0m37-6h0m14 6h0m54-2h0m40 0h0m68-8h0m2 0h0m14 9h0m21-11h0m30 10h0m1-10h0m5 6h0m20-5h0m1 5h0m-188 8h0m140-1h0m16 2h0m30 0h0m34 0h0"/>
</g>
<g fill="none" stroke-linecap="round" stroke-width="12.8">
<path stroke="#3dbc74" d="M1285 1396h0m-393 30h0m395-5h0m-438 72h0m-1 44h0m266 2h0m-254 5h0m1 7h0m5-8h0m8 6h0m102 23h0m51 18h0m-127 11h0m172-2h0m12 0h0m223 3h0m-440 19h0m254-7h0m-149 22h0m-109 11h0m2 1h0m336-5h0m-355 15h0m48 7h0m10 0h0m10-2h0"/>
<path stroke="#33638d" d="M976 1218h0m106 49h0m-206 15h0m172 59h0m-161 15h0m63-11h0m205 11h0m-165 47h0m268-2h0m-407 52h0m221-8h0m112 17h0m-315 14h0m437 4h0m-441 14h0m101 1h0m-111 3h0m25 9h0m55-9h0m102 3h0m-57 19h0m12-3h0m44 21h0m34-11h0m-3 19h0m1-2h0m18 3h0m153-7h0m37 0h0m-172 26h0m30 5h0m38 20h0m31 6h0m21 7h0m19-2h0m29-2h0m-21 20h0m58 3h0m-41 2h0m21 2h0m-80 17h0"/>
<path stroke="#b2dd2d" d="M846 1576h0m3 2h0m32 3h0m360-11h0m-388 19h0m33-3h0m2 1h0m52-4h0m12 8h0m-91 12h0m88-6h0m28 8h0m14 4h0m61 0h0m-83 4h0m5 5h0m7-3h0m78 4h0m29 2h0m-195 14h0m72-6h0m52-5h0m34 8h0m47 2h0m34 0h0m-188 14h0m68 2h0m8-8h0m77 0h0m71 8h0m-148 13h0m25-1h0m17-2h0m20 2h0m9-10h0m90 5h0m14 6h0m-87 3h0m1 0h0"/>
<path stroke="#4ac16d" d="M1045 1272h0m150 28h0m-176 32h0m10 4h0m-22 42h0m141 33h0m107 21h0m4-4h0m-348 41h0m244 9h0m-234 40h0m5-2h0m116 12h0m-185 20h0m18 4h0m43-2h0m-30 11h0m2-4h0m16 0h0m14 2h0m18 6h0m30 15h0m47-1h0m9 9h0m20 8h0m18 0h0m104 10h0m119 16h0m-334 4h0m188 9h0m37-2h0m67-8h0m-384 35h0m54-1h0m11 5h0"/>
<path stroke="#5ac864" d="M850 1333h0m111 100h0m59 13h0m-29 58h0m316 1h0m-40 18h0m-120 5h0m-292 24h0m3-9h0m33 11h0m4 2h0m8 5h0m35 5h0m5 9h0m10 3h0m-4 6h0m54-1h0m135 19h0m97-5h0m-268 25h0m56 6h0m99 1h0m21 4h0m8-1h0m5 6h0m40 0h0m29 11h0m-8 7h0m21 5h0m21 4h0"/>
<path stroke="#20938c" d="M979 1260h0m3 14h0m70 3h0m156 69h0m-322 120h0m19 50h0m178 3h0m-240 8h0m56 5h0m34 5h0m26 1h0m21 0h0m-58 7h0m64-2h0m28 9h0m150-7h0m-158 19h0m199 5h0m-101 19h0m8-1h0m80 28h0m-148 10h0m-45 24h0m155-8h0m111 10h0"/>
<path stroke="#277f8e" d="M1072 1269h0m-163 144h0m-66 41h0m130-3h0m16 12h0m44-1h0m-84 8h0m3 6h0m-65 8h0m32 20h0m-60 15h0m203 0h0m120-1h0m25-6h0m-293 18h0m80 18h0m24 2h0m61 18h0m98 2h0m51 9h0m-70 15h0m74 1h0m-238 2h0m118 4h0m61 3h0m112 16h0m-7 4h0m-395 22h0m384-8h0m30 0h0"/>
<path stroke="#414487" d="M1182 1348h0m-124 31h0m165 19h0m-218 16h0m182 22h0m-274 12h0m31 12h0m342 3h0m-368 10h0m52 8h0m15 18h0m78 11h0m39-11h0m8 7h0m47 0h0m-20 13h0m114 0h0m-137 14h0m35-2h0m-114 18h0m164-9h0m-147 14h0m126 3h0m5-3h0m17 12h0m58 7h0m14 7h0m6 7h0m-87 50h0"/>
<path stroke="#443a83" d="M1068 1215h0m-166 63h0m370 11h0m-292 91h0m-119 39h0m8 5h0m53 2h0m88-12h0m228 11h0m-349 12h0m9 1h0m1 2h0m11-6h0m8 6h0m21-1h0m18 11h0m27-6h0m-20 18h0m5 6h0m16-12h0m34 11h0m-129 10h0m26-2h0m50-1h0m29-4h0m24 6h0m30-4h0m147-1h0m-175 19h0m97 3h0m-226 9h0m221 2h0m3 0h0m2 5h0m4-9h0m66-2h0m-46 16h0m14 4h0m15-3h0m-219 12h0m212 7h0m3-7h0m13 3h0m13 8h0m54 12h0m-51 6h0m11 6h0m4 3h0m33-4h0m26-1h0m11 19h0m8-3h0m1-2h0m11 10h0"/>
<path stroke="#c8e020" d="M846 1340h0m209 124h0m-169 32h0m-39 70h0m5 10h0m8 3h0m9 0h0m2 0h0m23-2h0m20 14h0m209-6h0m-210 14h0m46 9h0m-111 15h0m64 0h0m23-12h0m67-1h0m13 13h0m1-10h0m-151 18h0m1 1h0m50 2h0m13-3h0m83 1h0m14-3h0m17-3h0m5 10h0m13-8h0m45-1h0m-156 24h0m47-7h0m35 3h0m91 3h0m-177 12h0m26-7h0m2 8h0m21-9h0m22 5h0m55 5h0m35-11h0m47-1h0m29 7h0m9 3h0m-89 5h0m51 1h0"/>
<path stroke="#24868e" d="M875 1404h0m-1 31h0m188 13h0m-123 17h0m75-7h0m-159 46h0m147 6h0m-94 27h0m28-11h0m3 9h0m132 14h0m-216 12h0m131 0h0m61 7h0m21 8h0m36-1h0m29 5h0m27-7h0m-32 13h0m92 9h0m-124 1h0m148 34h0m-322 32h0"/>
<path stroke="#440154" d="M965 1244h0m212-5h0m-178 12h0m49 16h0m-9 41h0m-143 42h0m203-3h0m-75 14h0m278 175h0"/>
<path stroke="#481f70" d="M1049 1187h0m-113 15h0m10 0h0m13 0h0m55-1h0m58-2h0m-224 7h0m71 8h0m20 2h0m22-9h0m57-2h0m26-1h0m72 13h0m-235 11h0m60-9h0m13 7h0m12 2h0m27 3h0m83-10h0m-21 16h0m2-4h0m5 7h0m3 5h0m5-4h0m51 2h0m-266 13h0m103 2h0m12-3h0m15-1h0m35-8h0m26 0h0m59 0h0m85 5h0m-348 9h0m68 2h0m58 8h0m56 0h0m38-1h0m0-4h0m23-5h0m33 6h0m-273 18h0m15-8h0m5 0h0m29 6h0m6-1h0m74 5h0m5-7h0m1-1h0m74 0h0m34-1h0m7-2h0m0 1h0m5 3h0m5-5h0m2 6h0m29 2h0m0-7h0m-180 20h0m62 0h0m100-3h0m1 8h0m4-7h0m55 2h0m23-5h0m32 2h0m7 7h0m-387 12h0m18 4h0m3-10h0m9 4h0m45 0h0m27-6h0m42 6h0m8-6h0m18 5h0m27 2h0m173 5h0m4-12h0m5 8h0m-382 11h0m42 6h0m4-2h0m43-8h0m5 11h0m6-5h0m5 0h0m20-4h0m45 3h0m7-5h0m7 4h0m45 2h0m121 4h0m78 1h0m-400 7h0m3 0h0m43 0h0m11-2h0m19-1h0m9 6h0m15-3h0m5-6h0m24 7h0m16-2h0m22 7h0m146-8h0m3-3h0m75 11h0m15-9h0m-373 16h0m96 7h0m61 0h0m47-1h0m3 2h0m23-4h0m21 3h0m5-8h0m51 5h0m13-1h0m78-4h0m-432 17h0m30-3h0m90 8h0m19-10h0m40-2h0m6 1h0m21 10h0m55-7h0m57 2h0m12 7h0m59-6h0m-412 17h0m5 3h0m129-10h0m84 5h0m13 0h0m48-5h0m10 6h0m24-4h0m89-4h0m1 9h0m-312 8h0m11 5h0m5-3h0m6 2h0m11 0h0m36-5h0m15 7h0m65-10h0m70 6h0m36 6h0m30-1h0m10-10h0m44 11h0m-362 10h0m16-1h0m10-6h0m37 12h0m31-11h0m89 10h0m17-4h0m68-5h0m44 0h0m-230 11h0m13 5h0m5 0h0m30-3h0m0 11h0m7-13h0m29 1h0m18 5h0m181-5h0m13 8h0m-429 16h0m226 2h0m1-10h0m14 2h0m4 7h0m92-3h0m4-4h0m37 0h0m17 6h0m-244 12h0m7-1h0m37 5h0m4-5h0m52 4h0m4-2h0m6-6h0m122 3h0m-191 7h0m101 13h0m77-2h0m49-3h0m-211 11h0m59 0h0m2-1h0m13 2h0m25 7h0m14-9h0m7 5h0m42-4h0m13 3h0m16 5h0m4-7h0m9 0h0m-169 8h0m56 0h0m12 2h0m57 4h0m8 0h0m5 5h0m35-11h0m0 7h0m14-2h0m4 3h0m-134 6h0m48 4h0m35 5h0m48-4h0m-217 11h0m106 10h0m32-2h0m44 1h0m39-6h0m-109 11h0m53 7h0m4-2h0m11-1h0m16 2h0m10-3h0m7 1h0m-54 8h0m54 5h0m2 4h0m-58 14h0"/>
<path stroke="#1fa187" d="M1107 1222h0m-155 79h0m4 37h0m-82 139h0m123-2h0m-14 20h0m-39 15h0m-31 9h0m-35 15h0m11-3h0m49-4h0m103 21h0m18-4h0m-49 18h0m11-2h0m153 2h0m59-6h0m-239 15h0m141 6h0m131 9h0m-150 17h0m6 0h0m21 10h0m21 7h0m50 21h0m-335 18h0"/>
<path stroke="#69cd5b" d="M915 1523h0m154-3h0m-14 19h0m-64 1h0m-106 24h0m235-2h0m-230 9h0m58 4h0m22 12h0m24 2h0m-107 9h0m147 8h0m52 12h0m180-1h0m42 1h0m-214 7h0m0 3h0m28 4h0m154 3h0m-406 7h0m171 0h0m145 9h0m-321 7h0m70 1h0m278 2h0m-265 6h0m330 0h0"/>
<path stroke="#28ae80" d="M1112 1256h0m-99 35h0m164 93h0m54 48h0m-273 42h0m-81 11h0m191 5h0m-209 25h0m51-2h0m-63 25h0m32-1h0m248 1h0m-272 4h0m32 5h0m5-4h0m185 10h0m-122 9h0m19 0h0m1 5h0m-97 3h0m76 0h0m61 5h0m36 15h0m6 0h0m26 11h0m5-3h0m22 4h0m4-1h0m71 2h0m-208 11h0m3 2h0m232 4h0m-285 10h0m200 6h0m20-12h0m-288 35h0m284 0h0m119-4h0m-390 11h0"/>
<path stroke="#22a884" d="M1012 1190h0m-17 100h0m178 117h0m8 10h0m-4 16h0m-251 31h0m-68 59h0m173-2h0m22-7h0m-179 17h0m52 4h0m-40 14h0m14-6h0m4-1h0m14 9h0m38 10h0m25 2h0m141 1h0m-117 5h0m157-1h0m-302 27h0m196-10h0m203 9h0m-180 15h0m63 7h0m17 5h0m66 15h0m9 5h0m-321 16h0m120 4h0m267-2h0m-176 8h0"/>
<path stroke="#dae319" d="M926 1545h0m-67 47h0m1 3h0m9-6h0m237 6h0m-179 12h0m4-7h0m12 4h0m-81 17h0m16-9h0m21 6h0m14-6h0m72 9h0m47 1h0m4-2h0m4-6h0m32 8h0m-207 3h0m21 9h0m52-10h0m3 6h0m3 1h0m3 0h0m1 3h0m9 1h0m16 1h0m14-3h0m11-7h0m5 7h0m23-5h0m-83 20h0m35 0h0m70 1h0m30 1h0m44-1h0m-177 10h0m169-3h0m-63 10h0m120 1h0"/>
<path stroke="#460b5e" d="M899 1211h0m7 1h0m16 4h0m107-6h0m53-1h0m-228 33h0m258 0h0m114-10h0m-155 14h0m-156 17h0m21 5h0m62 1h0m53-4h0m113-1h0m14 7h0m-226 8h0m235 1h0m19 5h0m-54 15h0m-246 3h0m244 4h0m47-1h0m68 2h0m15 6h0m-384 12h0m381 1h0m13 2h0m-448 9h0m328 4h0m2-10h0m10 7h0m49 2h0m9-7h0m-258 10h0m201 9h0m-171 14h0m77-7h0m53 11h0m162 36h0m-69 9h0m-125 24h0m156-2h0m-351 17h0m174-9h0m36 3h0m63-1h0m61 21h0m55-11h0m-12 66h0m11-9h0m-79 57h0"/>
<path stroke="#365c8d" d="M977 1216h0m-90 65h0m245 4h0m76 31h0m88 16h0m-141 45h0m-202 14h0m100-2h0m160-1h0m-332 33h0m215 0h0m-239 25h0m18 12h0m15 10h0m48-9h0m-55 14h0m52 6h0m26-2h0m15 6h0m5-3h0m-104 8h0m90 5h0m27-1h0m-142 8h0m73 0h0m81-2h0m-24 18h0m36 9h0m5-4h0m17 2h0m68 0h0m-37 14h0m41 7h0m26 4h0m8-8h0m15 25h0m16 0h0m7 0h0m-127 5h0m52 6h0m28-5h0m18 7h0m3-9h0m131 9h0m-173 5h0m105 7h0m14 7h0m2 0h0m43 12h0m19 8h0m-24 16h0m-358 32h0"/>
<path stroke="#a0da39" d="M1016 1287h0m-102 91h0m-42 131h0m-27 13h0m407-3h0m-385 10h0m409 21h0m-330 43h0m48 1h0m117 0h0m47-2h0m32 3h0m-257 4h0m47-2h0m41 9h0m22 1h0m8-5h0m-207 13h0m14-4h0m32 11h0m4 0h0m6 0h0m134-8h0m0 2h0m3-4h0m50 2h0m4 9h0m-143 6h0m53-2h0m19 3h0m86 3h0m17-8h0m8 10h0m-265 10h0m57 5h0m12-3h0m8-2h0m91 5h0m90-11h0m39 6h0m133-2h0m-314 19h0m3 0h0m10-8h0m9 1h0m117-3h0m55 13h0"/>
<path stroke="#7ad151" d="M887 1562h0m-20 10h0m107 10h0m8 5h0m16 5h0m16 1h0m48 15h0m29 5h0m0 0h0m-246 20h0m24 2h0m59 2h0m4-6h0m198 6h0m-261 9h0m18-5h0m27 2h0m63 7h0m178-12h0m27 11h0m6-4h0m-296 8h0m26 3h0m2 2h0m4-1h0m1-3h0m20-1h0m3 8h0m13 3h0m60-5h0m182 3h0m10-9h0m-232 14h0m2-1h0"/>
<path stroke="#2c718e" d="M1281 1315h0m-168 14h0m69-4h0m-265 41h0m61 10h0m325 3h0m-359 11h0m78 16h0m173 24h0m-274 29h0m161-3h0m196 27h0m-405 14h0m26-6h0m16 6h0m107-4h0m-131 14h0m33-6h0m36 18h0m8 3h0m12 15h0m14-5h0m20 1h0m13 3h0m23 1h0m6-1h0m192 3h0m-180 9h0m1-3h0m61-3h0m23 8h0m-103 7h0m4 3h0m43 18h0m11-10h0m16 3h0m56 16h0m122-4h0m-153 26h0m16-8h0m98 21h0m19 0h0m-394 32h0"/>
<path stroke="#32b67a" d="M912 1259h0m249 100h0m-253 42h0m-1 23h0m3 14h0m236 12h0m-10 20h0m-277 18h0m178 10h0m42 10h0m-193 33h0m10 12h0m126-9h0m32 2h0m-141 12h0m23 4h0m23 4h0m58-3h0m-113 15h0m71-10h0m4 4h0m38 3h0m-3 8h0m3 0h0m20 12h0m8 0h0m22-1h0m98-11h0m-93 16h0m21 4h0m-231 19h0m243-6h0m26-3h0m52 14h0m95 3h0m-373 16h0m301-7h0m37 8h0m-397 10h0m409-2h0"/>
<path stroke="#3e4c8a" d="M1016 1213h0m-26 25h0m-24 14h0m-2 26h0m-21 18h0m245 7h0m-310 20h0m252 18h0m-130 21h0m-103 13h0m191 23h0m41 8h0m106 1h0m-368 34h0m-14 8h0m37 10h0m23 10h0m40-5h0m-94 9h0m79-3h0m340 3h0m-302 12h0m1 10h0m37-4h0m-99 8h0m118 3h0m5 3h0m53 2h0m177-7h0m-236 20h0m11 2h0m38 3h0m17-5h0m47-7h0m-36 16h0m63 15h0m22 18h0m17 8h0m38 19h0m51 15h0m7 3h0m-464 56h0"/>
<path stroke="#fde725" d="M903 1603h0m50 1h0m1 12h0m16 7h0m1 1h0m4 3h0m7-2h0m72 26h0m3-5h0m14 2h0m8-7h0m2 0h0m18 8h0m36 13h0"/>
<path stroke="#8ed645" d="M942 1333h0m188 36h0m-285 181h0m0 8h0m14 8h0m25 14h0m17 1h0m5-3h0m76 12h0m142 5h0m-176 1h0m42 0h0m46 16h0m53 14h0m23 11h0m-188 11h0m46-5h0m1-2h0m153 0h0m31-2h0m-167 24h0m4-8h0m63 5h0m19 0h0m106-8h0m29 3h0m48 10h0m-210 3h0"/>
<path stroke="#306a8e" d="M1093 1278h0m87 32h0m-73 42h0m98-5h0m-317 20h0m196-3h0m-10 21h0m177-12h0m-3 20h0m-400 34h0m58-9h0m257 1h0m-287 21h0m170-11h0m124 4h0m44 1h0m-25 17h0m49-4h0m-334 18h0m-18 22h0m33-1h0m148 10h0m233-9h0m-348 13h0m73 4h0m247 6h0m-295 5h0m31 6h0m55-2h0m52 1h0m-118 17h0m45-6h0m124 3h0m-45 24h0m1 2h0m16 1h0m133-7h0m-66 14h0m14 17h0m21 31h0m57 1h0m-7 10h0"/>
<path stroke="#ece51b" d="M851 1595h0m-3 3h0m49 7h0m8 0h0m12-2h0m7 5h0m-7 3h0m-41 22h0m22-6h0m95 2h0m16 1h0m24 5h0m12-10h0m-78 14h0m19 7h0m42 4h0m71-12h0m3 6h0m-54 12h0m1-2h0m23 9h0m4-3h0m13-4h0m24 12h0"/>
<path stroke="#228d8d" d="M852 1428h0m25 22h0m-21 8h0m3 41h0m74 0h0m-84 31h0m108 17h0m38-3h0m20 1h0m13 6h0m-42 9h0m87 25h0m75 2h0m115-2h0m-130 17h0m38-4h0m-293 24h0m309 0h0m1-2h0m20 3h0m31-13h0m-17 22h0"/>
<path stroke="#3a538b" d="M924 1287h0m190 42h0m59-11h0m79 1h0m-323 37h0m-7 2h0m306 6h0m72 29h0m-190 14h0m92 8h0m66 24h0m-406 11h0m32-1h0m49 1h0m268-7h0m63 7h0m-399 11h0m21-1h0m13 3h0m2-1h0m21-5h0m63 7h0m98 3h0m-155 5h0m10 1h0m238-1h0m-334 26h0m2 6h0m117-4h0m14 3h0m25 10h0m70 7h0m2 8h0m190 0h0m-121 16h0m48 21h0m89-6h0m-325 10h0m230 5h0m66 6h0m-27 14h0m49 1h0m-7 4h0m21 16h0m-118 9h0m125 40h0"/>
<path stroke="#482979" d="M975 1194h0m86 4h0m-217 10h0m155 19h0m31-1h0m39-7h0m-204 23h0m44 9h0m33-2h0m-51 24h0m100-10h0m-54 17h0m206 1h0m-283 18h0m124-3h0m-112 15h0m6-3h0m10 0h0m178-2h0m15 4h0m136-6h0m-361 14h0m19-1h0m42 1h0m207-1h0m77 5h0m-229 15h0m-118 18h0m12 15h0m258-1h0m-253 12h0m11-5h0m4 5h0m146-1h0m38-4h0m-190 20h0m7-1h0m62-6h0m47 2h0m64 2h0m128 1h0m-299 16h0m56 3h0m41-10h0m40 7h0m-166 8h0m36 3h0m28-3h0m6-1h0m60 7h0m9-9h0m15 3h0m175-1h0m2 5h0m25 4h0m-259 8h0m49-3h0m10 1h0m30-2h0m59 10h0m19-1h0m91-7h0m3-4h0m-250 15h0m92 10h0m11-7h0m51 1h0m-220 9h0m154 10h0m5-3h0m3-1h0m15 4h0m0-3h0m16-7h0m27 12h0m95-8h0m-128 13h0m11-3h0m68 4h0m19 11h0m-47 14h0m36 7h0m1-3h0m36 6h0m27-4h0m-40 14h0m61-3h0m4-2h0m2 11h0m-38 7h0m29 5h0m44 1h0m-105 7h0m3-1h0m16-4h0m8 20h0m9-5h0m17 8h0m44-9h0m-97 28h0m101 0h0"/>
<path stroke="#46327e" d="M1042 1263h0m-78 77h0m263-2h0m-124 6h0m129 15h0m-151 13h0m-231 19h0m326 6h0m-312 14h0m72-8h0m56 10h0m-74 1h0m-10 22h0m16 4h0m10-9h0m29 9h0m63-1h0m29-4h0m-174 16h0m44-6h0m17 2h0m18-4h0m38 9h0m33 3h0m22-4h0m-64 13h0m10-6h0m15 1h0m0 0h0m119 10h0m-93 9h0m21-6h0m26 8h0m53-4h0m36-3h0m-52 22h0m7-8h0m11 20h0m156 4h0m-163 4h0m37-3h0m6 4h0m87 6h0m-40 13h0m-32 10h0m10-2h0m5 2h0m12-1h0m4 9h0m15-1h0m32 0h0m-16 12h0m25-1h0m18 3h0m-80 6h0m8-3h0m31 13h0m39 10h0m-20 11h0m3 9h0"/>
<path stroke="#2a788e" d="M954 1213h0m19 170h0m-57 14h0m10 1h0m140 40h0m3 3h0m95 6h0m-315 47h0m58-9h0m75 3h0m149 7h0m-33 15h0m36-9h0m-187 14h0m8 10h0m15-2h0m211-2h0m-211 13h0m21 1h0m315 1h0m-290 15h0m56 1h0m-148 25h0m169 4h0m12 8h0m7-4h0m26 1h0m37-2h0m81 3h0m-55 16h0m4 0h0m41 8h0"/>
<path stroke="#1f9a8a" d="M1104 1214h0m-166 113h0m125 24h0m162 6h0m-370 68h0m449 27h0m-376 14h0m78-4h0m-61 34h0m23 1h0m18 12h0m-134 21h0m215 2h0m34 5h0m-192 8h0m23 2h0m37 18h0m38-4h0m301 0h0m-188 11h0m-58 13h0m69 20h0m157-4h0m-215 15h0m77-4h0m4 1h0m-39 19h0m-75 27h0m213-6h0"/>
<path stroke="#481668" d="M1002 1188h0m218-1h0m-284 15h0m27-5h0m-117 17h0m27-5h0m5-4h0m22 6h0m107-5h0m20 2h0m14 8h0m59-1h0m-240 5h0m2 4h0m18 4h0m3-10h0m29 13h0m63-13h0m54 6h0m58-4h0m29 9h0m87 2h0m-351 5h0m67 9h0m5-3h0m113-3h0m45-3h0m-68 23h0m122-4h0m-271 6h0m65 5h0m208 6h0m-147 6h0m23 9h0m45-9h0m37 2h0m113 0h0m-354 13h0m6-3h0m58 5h0m108-6h0m3 12h0m1-12h0m5 9h0m6-6h0m85 7h0m9 1h0m5-2h0m58-5h0m29 5h0m-312 4h0m0 5h0m114 3h0m30 5h0m1-7h0m83 0h0m2 3h0m16 3h0m6-10h0m8 0h0m11 1h0m21-2h0m17 5h0m29 7h0m-240 9h0m41 5h0m17-3h0m19-2h0m41 5h0m22-12h0m6 11h0m6-1h0m78-3h0m39 2h0m-406 16h0m9 0h0m11-3h0m127 4h0m51-13h0m35 0h0m12 5h0m18 1h0m2-2h0m7 7h0m2-2h0m30 0h0m6 2h0m36-10h0m16 11h0m5-9h0m34 3h0m3-6h0m-436 14h0m101 5h0m16-5h0m121 8h0m15-6h0m5 4h0m10-3h0m22 3h0m3-4h0m30 2h0m20-4h0m14 3h0m64-2h0m4 11h0m37-3h0m2-5h0m-452 11h0m6 5h0m3-1h0m104 1h0m1 0h0m78 3h0m22-9h0m7 12h0m9 0h0m91-3h0m28-8h0m7 5h0m50 1h0m25-5h0m13-2h0m-372 15h0m24-1h0m7 0h0m60 7h0m24 6h0m8-8h0m5-5h0m230 0h0m6 9h0m-378 6h0m99 2h0m51-3h0m13 10h0m74-6h0m86 0h0m32 4h0m15 1h0m4 4h0m-345 7h0m105 6h0m42-1h0m13-4h0m10 0h0m76-6h0m5 6h0m106 0h0m-258 12h0m5-3h0m47-2h0m94 12h0m51-10h0m7 3h0m14 3h0m6-1h0m4-5h0m3 4h0m-150 17h0m47-1h0m29-4h0m45 9h0m19-8h0m18 1h0m24-3h0m-272 12h0m61 5h0m21 7h0m9-13h0m33 10h0m48 0h0m72-10h0m18 4h0m-128 17h0m35 3h0m10-2h0m55-2h0m5 7h0m-115 5h0m2 8h0m46-5h0m22-6h0m0 9h0m66 1h0m-286 4h0m99 9h0m31-5h0m75-5h0m6 1h0m5 4h0m14 4h0m37 2h0m8 0h0m-50 16h0m23-8h0m48 17h0m-17 9h0"/>
<path stroke="#c8e020" d="M1284 1429h0m-346 98h0m345 3h0m-437 45h0m1 14h0m16-6h0m25 12h0m7-12h0m56 6h0m-49 20h0m39-6h0m6 2h0m-83 10h0m96 8h0m53-10h0m23 6h0m-156 17h0m24-3h0m2 0h0m38 0h0m6 0h0m18 4h0m17-1h0m26-2h0m3-7h0m4 5h0m17 2h0m12 0h0m36 3h0m13-7h0m-196 9h0m82 1h0m2 0h0m26 8h0m30-2h0m10-7h0m93 10h0m-186 8h0m23 1h0m39 7h0m48-8h0m62 2h0m33 4h0m2-8h0m56 7h0m-190 6h0m18-2h0m92 0h0"/>
<path stroke="#2c718e" d="M993 1256h0m-113 4h0m214 30h0m-147 25h0m5-4h0m65 11h0m188 6h0m-318 17h0m137 33h0m4 22h0m-131 14h0m-31 17h0m265 8h0m69 15h0m-312 27h0m-43 10h0m38-5h0m-6 17h0m4-3h0m268 4h0m10 1h0m-280 14h0m54-5h0m64-1h0m20 11h0m111-9h0m-182 16h0m51 4h0m35 2h0m-16 8h0m-24 32h0m65 1h0m55-7h0m173 4h0m-68 42h0m80 6h0m-224 13h0m124-10h0"/>
<path stroke="#460b5e" d="M888 1199h0m49-7h0m158 3h0m1 1h0m-86 16h0m131 25h0m-162 13h0m101 1h0m-118 14h0m133 8h0m42-5h0m26-4h0m-305 19h0m67-9h0m96 7h0m88 3h0m-99 17h0m55-1h0m-74 7h0m157 7h0m43-11h0m21 0h0m3-1h0m-362 15h0m35 2h0m85 9h0m86-10h0m110 10h0m-216 14h0m127 0h0m64 0h0m164-4h0m-452 13h0m57 2h0m332-8h0m41 7h0m22 3h0m-378 4h0m13 11h0m47-10h0m-75 13h0m22 12h0m177-5h0m14-2h0m78 6h0m-221 9h0m65 5h0m121-10h0m17-1h0m45 12h0m47-8h0m-294 9h0m152 6h0m25 1h0m52-4h0m80-3h0m-208 26h0m39-10h0m83 2h0m-109 24h0m86 7h0m28 40h0m18 17h0m46 31h0m16-4h0m-46 51h0"/>
<path stroke="#69cd5b" d="M1091 1406h0m-203 160h0m0-3h0m194 2h0m23-10h0m-150 27h0m17 6h0m168-6h0m-107 19h0m10 4h0m9-2h0m38 6h0m-178 13h0m207-5h0m14 19h0m-243 14h0m290-6h0m-292 17h0m392 4h0m-83 1h0m73 1h0"/>
<path stroke="#306a8e" d="M991 1206h0m-29 16h0m125 16h0m25 62h0m-249 21h0m338-4h0m-328 32h0m46 5h0m183 3h0m196-9h0m-170 31h0m-122 20h0m47-13h0m-148 46h0m44-3h0m17 20h0m231-6h0m-351 22h0m59 4h0m279-10h0m-332 17h0m55-6h0m101 4h0m94 8h0m53-10h0m-221 15h0m-28 16h0m88 0h0m285 7h0m-362 14h0m91-9h0m15 5h0m-24 8h0m25 7h0m47-2h0m22 0h0m177-2h0m-234 13h0m5-4h0m94 28h0m57 11h0m-4 4h0m-5 17h0m23 22h0"/>
<path stroke="#b2dd2d" d="M1179 1508h0m-334 58h0m368-5h0m-356 20h0m1 0h0m29 6h0m39-1h0m15 1h0m-80 16h0m129 6h0m73-1h0m-215 2h0m26 10h0m16-8h0m9 2h0m98-3h0m1 2h0m17 5h0m-166 15h0m10-3h0m56 2h0m7 4h0m2 0h0m30-4h0m9-3h0m32-4h0m21 11h0m10-6h0m-108 9h0m27 6h0m18-7h0m10 12h0m7-11h0m8 7h0m0-1h0m70-5h0m12 4h0m32 3h0m2-1h0m7 1h0m25 3h0m-195 2h0m43 9h0m2-5h0m4-1h0m44 9h0m6-6h0m39-1h0m9 5h0m57-10h0m20 11h0m31-3h0m-135 8h0"/>
<path stroke="#2a788e" d="M967 1296h0m127 31h0m-105 61h0m128 18h0m17-3h0m-205 21h0m16 19h0m139 1h0m1 10h0m-240 12h0m89 7h0m35 6h0m-86 6h0m77 12h0m14-1h0m139-10h0m-224 13h0m31 9h0m213 14h0m-102 16h0m93 0h0m53-8h0m-107 29h0m38 16h0m22 8h0m8 6h0m22-2h0m43 22h0m54-10h0m-56 27h0m87 8h0"/>
<path stroke="#4ac16d" d="M1147 1243h0m-189 18h0m317 122h0m-104 23h0m-153 122h0m-116 30h0m17 9h0m11-5h0m15 19h0m29-4h0m200-9h0m-176 24h0m7 1h0m9-8h0m134 0h0m98 19h0m-153 10h0m14 2h0m23 4h0m13 6h0m10 3h0m13-3h0m16 14h0m48 9h0m10 1h0m66-1h0m-421 11h0m130-3h0m39 2h0m201 0h0m19 4h0m-396 5h0"/>
<path stroke="#5ac864" d="M924 1510h0m253-12h0m-170 15h0m-137 39h0m187-4h0m34-8h0m-166 23h0m15 5h0m60 19h0m5 6h0m112-11h0m-237 18h0m139 4h0m44-1h0m36 8h0m3 7h0m-163 15h0m216-6h0m3 2h0m15 4h0m109 2h0m-90 6h0m6 0h0m14 6h0m-335 12h0m31 1h0m21 0h0"/>
<path stroke="#440154" d="M875 1231h0m166 14h0m-31 10h0m134 21h0m-67 34h0m58 21h0m44 16h0m102 19h0m-280 32h0m231 54h0m6 121h0m67 26h0"/>
<path stroke="#481668" d="M856 1189h0m96-1h0m-100 9h0m22 6h0m3-8h0m6 3h0m41-2h0m29-2h0m38 3h0m44-5h0m8-2h0m17 7h0m-214 13h0m61 4h0m6-10h0m0 13h0m64-1h0m111-8h0m30 3h0m-262 14h0m1 4h0m12-8h0m48-3h0m34 7h0m11-2h0m11 6h0m7-2h0m49 2h0m-184 14h0m22-5h0m116 5h0m12 0h0m22 1h0m28-1h0m8 1h0m0-11h0m43 6h0m-227 17h0m54 3h0m13-8h0m2 7h0m57-4h0m8-3h0m41 8h0m28-11h0m20 4h0m57-3h0m10 5h0m-281 9h0m15 6h0m41 2h0m16-7h0m11 8h0m9-11h0m107 9h0m8-9h0m43 5h0m10-2h0m24-2h0m11 4h0m14 5h0m18 0h0m-280 10h0m192 5h0m3-7h0m41-2h0m4 7h0m24 1h0m-318 15h0m5 1h0m132-6h0m17-2h0m76-2h0m43 0h0m25 1h0m52 8h0m-320 4h0m86 11h0m6-12h0m70 9h0m104 1h0m8-1h0m10-4h0m95 3h0m-423 18h0m69-10h0m3 10h0m33-10h0m1 10h0m65-11h0m2-1h0m35 2h0m107 3h0m8-6h0m70 1h0m-394 25h0m43-10h0m51-2h0m88 13h0m28-4h0m164-4h0m-364 14h0m15-4h0m4 7h0m2 0h0m2 5h0m49-13h0m26 0h0m20 5h0m70 6h0m27-4h0m29-7h0m45 13h0m6-4h0m30 2h0m2 0h0m6-2h0m42-9h0m6 11h0m12-7h0m-351 15h0m59 1h0m73 0h0m8 4h0m111 0h0m2-7h0m12 6h0m7-6h0m1 2h0m15 3h0m7 4h0m33-11h0m23 7h0m47 2h0m-461 4h0m9 11h0m60-11h0m16 9h0m0 0h0m26-1h0m1 2h0m81-10h0m39 3h0m32 2h0m26 1h0m41-1h0m3-4h0m53 1h0m6 10h0m14-7h0m24-5h0m2 4h0m-322 11h0m76 1h0m10 10h0m31-5h0m29-6h0m0 9h0m125 1h0m22-6h0m-248 21h0m16-5h0m12-4h0m35 2h0m50 8h0m31 0h0m5-13h0m37 2h0m8 1h0m1 9h0m6-1h0m-259 5h0m97 5h0m60 0h0m24-6h0m38 10h0m108-1h0m-274 5h0m79 8h0m93 0h0m16-3h0m60 4h0m26-6h0m5-1h0m-133 15h0m13 7h0m18-3h0m20 4h0m66 0h0m47-2h0m-187 10h0m50-6h0m35 3h0m60-3h0m39 8h0m-212 6h0m90 5h0m66 4h0m26 2h0m11-6h0m-106 12h0m47 3h0m6-4h0m51 1h0m25 7h0m-104 6h0m13 5h0m3 5h0m31-6h0m17 4h0m-387 28h0m381-10h0m10 0h0m-349 20h0m330-4h0m39 5h0m8 1h0m5 5h0m-71 23h0"/>
<path stroke="#ece51b" d="M865 1568h0m10 21h0m247 9h0m-240 20h0m78 7h0m13-1h0m4 2h0m4 2h0m3 2h0m9 5h0m32-3h0m-79 9h0m22 6h0m108-3h0m-18 11h0m35-2h0m8 0h0m9 3h0m16 3h0m5 1h0m29 0h0m-98 8h0m41 0h0"/>
<path stroke="#228d8d" d="M941 1437h0m-57 32h0m-26 15h0m53 24h0m28-5h0m-50 18h0m43 1h0m-34 8h0m24 9h0m174 0h0m-166 2h0m122 37h0m42-1h0m8-7h0m51 2h0m-5 22h0m15 11h0m43-8h0m-7 24h0m73-11h0m29 12h0m-147 10h0m30 19h0"/>
<path stroke="#482979" d="M1041 1196h0m-133 21h0m1-2h0m33 5h0m70 11h0m-25 5h0m47 0h0m-128 27h0m8 36h0m62-11h0m75 9h0m34-2h0m42 4h0m-179 11h0m101-1h0m222 1h0m-70 19h0m13-6h0m73-6h0m3 9h0m-434 4h0m33 0h0m340 1h0m-337 21h0m60-2h0m88 1h0m111 1h0m-300 15h0m37 0h0m26-6h0m19 4h0m53-7h0m1 7h0m-123 19h0m152-11h0m171 12h0m-291 2h0m11 11h0m52-11h0m92 12h0m64-6h0m-182 14h0m7-2h0m3 4h0m43-3h0m12-3h0m30 5h0m17-8h0m151 6h0m47 6h0m-357 6h0m15 9h0m48-13h0m1 13h0m7-13h0m29 3h0m4 8h0m1-6h0m0-5h0m77 6h0m80 1h0m23 4h0m16-8h0m5 2h0m-259 10h0m52 1h0m73 7h0m8 1h0m-128 7h0m37 7h0m56-2h0m115-6h0m-142 13h0m58 2h0m47 10h0m3-4h0m89-4h0m-253 17h0m114-6h0m32 10h0m13-11h0m2 1h0m14 4h0m95 1h0m-126 11h0m63 2h0m20-6h0m-22 17h0m2 7h0m9-3h0m4 5h0m129-1h0m-19 7h0m-81 10h0m9 11h0m21-8h0m18 8h0m-13 8h0m33 0h0m1 2h0m12 3h0m4-4h0m12 20h0m7-5h0m7-2h0m-8 16h0m3 0h0m5 3h0"/>
<path stroke="#a0da39" d="M1026 1214h0m130 149h0m-62 77h0m144 2h0m-361 88h0m89-2h0m-120 32h0m62 20h0m1-4h0m17 4h0m382 7h0m-446 19h0m83-6h0m74 4h0m15 3h0m-142 14h0m106-3h0m31-1h0m9 4h0m47 2h0m-237 2h0m3 2h0m6 9h0m2 1h0m13-8h0m34 6h0m2-11h0m102 3h0m20 4h0m7 5h0m-164 2h0m14 9h0m22 4h0m37-12h0m3 10h0m3-1h0m9 0h0m54-8h0m25 9h0m40 0h0m16-3h0m22-7h0m6 2h0m2 8h0m19-7h0m-198 18h0m17-3h0m4 7h0m87-12h0m146 0h0m23 6h0m11 4h0m-9 5h0"/>
<path stroke="#1fa187" d="M1016 1236h0m188 181h0m-335 33h0m-9 81h0m13 6h0m2-10h0m17 5h0m21 13h0m39 4h0m171 4h0m50-3h0m-222 7h0m164 19h0m-2 32h0m5-6h0m25 11h0m44 5h0m94 17h0m-150 28h0m173-3h0m4 4h0m1-6h0"/>
<path stroke="#3e4c8a" d="M934 1249h0m85 23h0m155 8h0m-199 10h0m-116 13h0m247 11h0m-115 9h0m-99 17h0m144 6h0m-147 22h0m12 0h0m17 56h0m-73 9h0m15-2h0m265 7h0m-278 10h0m38 4h0m332-9h0m-240 24h0m-104 7h0m114 9h0m35-5h0m-76 13h0m158 23h0m-23 15h0m-23 15h0m66 0h0m23 1h0m73 20h0m-55 3h0m68 4h0m30 9h0m-197 8h0m175-4h0m18-2h0m4 12h0m9-10h0m13 9h0m-22 8h0"/>
<path stroke="#22a884" d="M1016 1262h0m-65 44h0m86 42h0m17 62h0m199 28h0m-82 19h0m-214 53h0m124 4h0m76-1h0m-260 32h0m30 4h0m-51 18h0m51-13h0m5 4h0m18 4h0m-57 15h0m106 0h0m114-8h0m11 1h0m-219 14h0m120 2h0m31-4h0m7 6h0m64 2h0m107-3h0m47 15h0m-247 15h0m91-4h0m3-1h0m25-1h0m8 10h0m0 0h0m71 8h0m-320 10h0m344 11h0m8-9h0m-255 13h0"/>
<path stroke="#dae319" d="M862 1595h0m29-7h0m20-4h0m4 10h0m6 0h0m180-7h0m-257 22h0m13-6h0m55 1h0m7 4h0m49 1h0m26-2h0m-107 8h0m21-4h0m16 6h0m2 0h0m34 6h0m28-13h0m59 11h0m-88 13h0m30-2h0m36 0h0m39 3h0m-21 14h0m2-8h0m20 5h0m6 2h0m0-2h0m58-3h0m-88 19h0m15-2h0m14 5h0m30-8h0m79 1h0m0 9h0"/>
<path stroke="#28ae80" d="M1096 1208h0m-164 160h0m112 68h0m-61 18h0m322-9h0m-281 52h0m259-8h0m-318 28h0m-43 9h0m-42 17h0m7 1h0m110-1h0m-51 27h0m150 0h0m-213 24h0m141-11h0m22 6h0m-133 9h0m214 7h0m141-7h0m-132 13h0m39 21h0m65 15h0m-392 16h0m13 2h0"/>
<path stroke="#365c8d" d="M1113 1269h0m64 8h0m-67 28h0m-183 50h0m96 13h0m-55 35h0m63-2h0m18 12h0m123-8h0m-77 12h0m107 7h0m-354 26h0m185-3h0m112-5h0m-253 21h0m207-1h0m-228 21h0m10-6h0m58-2h0m8 6h0m35-3h0m144 2h0m-152 4h0m47 18h0m223-2h0m-379 15h0m94 9h0m66-8h0m45 2h0m204 20h0m-53 9h0m-205 17h0m136-1h0m153 3h0m-155 5h0m48 6h0m23 1h0m35-2h0m-246 12h0m191 5h0m59-10h0m48 0h0m-216 14h0m179 10h0m30 12h0m7 8h0"/>
<path stroke="#277f8e" d="M882 1295h0m68 146h0m-27 38h0m-51 31h0m29-7h0m54 21h0m-52 2h0m75 11h0m45-6h0m-53 17h0m52-2h0m14 3h0m5 18h0m23-2h0m9 5h0m33 7h0m147 3h0m-97 5h0m24 5h0m-70 13h0m8-5h0m80 4h0m-33 12h0m80 8h0m17 0h0m47-11h0m-43 21h0m-185 13h0m144 18h0"/>
<path stroke="#32b67a" d="M920 1259h0m-5 48h0m-2 29h0m5 0h0m165 14h0m-96 39h0m26 9h0m92-2h0m-25 32h0m-28 14h0m-205 28h0m58 2h0m9 20h0m130 3h0m-159 19h0m99 5h0m281 3h0m-340 16h0m51 24h0m55 19h0m13-5h0m13-5h0m117 1h0m-120 25h0m25-1h0m88 5h0m-34 18h0m87-5h0m-126 19h0m54-6h0m11-3h0m50 27h0m11-11h0m41 12h0"/>
<path stroke="#3dbc74" d="M892 1189h0m89 171h0m53 117h0m-116 31h0m185-9h0m-188 38h0m-15 12h0m73 18h0m-19 11h0m33-1h0m2-5h0m158 2h0m-104 17h0m4 5h0m6 7h0m23 0h0m79-4h0m16 8h0m-315 7h0m338-2h0m-28 17h0m34 16h0m-181 8h0m259 1h0m-359 14h0m364-2h0"/>
<path stroke="#24868e" d="M967 1449h0m32 32h0m67-9h0m-151 51h0m18-4h0m-28 16h0m16-5h0m4 4h0m12-1h0m93 14h0m-1 10h0m15 5h0m5 0h0m33 14h0m71 2h0m-109 12h0m37-5h0m10 6h0m92-8h0m-230 21h0m168 1h0m72 10h0m50 7h0m-353 10h0m338-1h0m-198 18h0m159-1h0m77-9h0"/>
<path stroke="#20938c" d="M1162 1277h0m-245 29h0m-2 159h0m14-9h0m-60 26h0m115-4h0m126 29h0m-261 13h0m96 23h0m14 10h0m30 12h0m34 3h0m-120 18h0m183-4h0m214 27h0m-142 1h0m13 11h0m89-3h0m-35 13h0m-311 17h0m33 11h0m101-6h0m3 11h0m228-10h0"/>
<path stroke="#fde725" d="M869 1528h0m-4 61h0m1 2h0m48 7h0m-4 14h0m27 2h0m41 12h0m46 10h0m43-3h0m-58 8h0m56 6h0m32 13h0m32 2h0m84 5h0"/>
<path stroke="#414487" d="M889 1268h0m138 19h0m-34 15h0m69 5h0m136 22h0m8-4h0m59 4h0m-106 9h0m-7 6h0m149 10h0m-200 22h0m134 9h0m-111 5h0m-171 10h0m10 13h0m122 5h0m-237 13h0m1 3h0m40 6h0m11 14h0m47-1h0m-29 3h0m45 6h0m2 1h0m8-2h0m18-1h0m-40 22h0m7-11h0m48 9h0m12-9h0m55 23h0m37 14h0m136-6h0m-182 10h0m25 0h0m-4 26h0m102-2h0m-13 12h0m-30 12h0m46-3h0m70 28h0"/>
<path stroke="#3a538b" d="M848 1242h0m189 21h0m200 28h0m-22 37h0m-229 27h0m142 31h0m155 2h0m16 14h0m-445 55h0m13 9h0m24-1h0m61 14h0m37-9h0m-34 27h0m24 0h0m15-12h0m287 0h0m-408 22h0m117 0h0m15-7h0m38 14h0m128 2h0m-32 35h0m32-1h0m-21 8h0m20 8h0m6-9h0m-66 13h0m118 7h0m-1 18h0m20-6h0m0-6h0m35 2h0m22 12h0"/>
<path stroke="#33638d" d="M856 1205h0m59-1h0m20 34h0m-25 61h0m-47 4h0m185 30h0m47 11h0m182 30h0m-359 23h0m22-10h0m88 4h0m141-3h0m36 0h0m-86 22h0m101 17h0m-315 12h0m262-4h0m-249 11h0m194 3h0m-270 13h0m13-4h0m22 4h0m63-2h0m-25 20h0m-36 15h0m143-7h0m-71 16h0m111-2h0m-90 17h0m27-4h0m4 3h0m12 7h0m41-1h0m3 1h0m120-4h0m73-9h0m-210 16h0m113 9h0m-87 6h0m9 0h0m2 3h0m18 6h0m34 20h0m11-2h0m14 1h0m120 14h0m-64 11h0m6 4h0m-44 14h0"/>
<path stroke="#46327e" d="M878 1213h0m180 78h0m188 43h0m-346 37h0m-34 22h0m402-4h0m-409 21h0m5-8h0m5 11h0m8-3h0m37-4h0m1-1h0m-56 10h0m39 9h0m2 1h0m13 0h0m90 0h0m-87 5h0m14 0h0m24 0h0m5 6h0m-84 13h0m12-2h0m81 8h0m19-11h0m13 0h0m22 4h0m31 0h0m11 2h0m137-6h0m-309 20h0m104-7h0m27 5h0m24-1h0m23-1h0m16 3h0m-137 19h0m89-7h0m20 5h0m-46 4h0m55 26h0m83-9h0m8 1h0m5 19h0m1-9h0m11 10h0m31 1h0m3-11h0m6 26h0m36-4h0m-76 7h0m29 11h0m24-5h0m7-1h0m26 18h0m3-9h0m27 24h0m2-7h0m7 6h0m-87 18h0"/>
<path stroke="#7ad151" d="M853 1384h0m-6 119h0m110 28h0m68 24h0m-164 14h0m47 5h0m13-2h0m4 18h0m44-3h0m8 1h0m4-1h0m8 1h0m29 6h0m2 2h0m5 9h0m169 2h0m-91 16h0m-156 12h0m-78 8h0m33 3h0m271-4h0m9 4h0m-274 8h0m41 5h0m165 4h0m132-1h0m-284 5h0m13-1h0"/>
<path stroke="#8ed645" d="M929 1317h0m342 117h0m-412 88h0m109 11h0m-114 31h0m25-8h0m101-2h0m53 8h0m61-2h0m-164 24h0m38 0h0m28 7h0m144-1h0m-132 10h0m-158 21h0m175-3h0m74-4h0m53-3h0m-293 20h0m1-1h0m237 1h0m66 3h0m126-4h0m-401 11h0m88 2h0m47 3h0m73 2h0m78-4h0m-222 9h0m25 11h0m222-10h0m40 7h0m32 3h0m-294 2h0m28 0h0m269 1h0"/>
<path stroke="#443a83" d="M1110 1338h0m-85 7h0m-22 23h0m129 3h0m-252 37h0m8 16h0m40-5h0m-58 9h0m20 3h0m6-1h0m8 11h0m20-7h0m22-5h0m260 4h0m92-4h0m-375 23h0m9-8h0m3 2h0m21 3h0m-100 8h0m129 12h0m13-6h0m21 5h0m-162 3h0m137 12h0m67-2h0m4-6h0m1 5h0m121-4h0m-117 20h0m10-11h0m209 5h0m-200 13h0m7 2h0m22 4h0m6 3h0m16 8h0m165-8h0m-322 17h0m139-1h0m42 10h0m30 0h0m101 1h0m-277 10h0m112 0h0m19-5h0m16 7h0m42-9h0m19 20h0m29 3h0m-19 40h0m30 4h0"/>
<path stroke="#481f70" d="M870 1189h0m173-1h0m-190 12h0m24-3h0m53 2h0m28 1h0m24-8h0m49 4h0m23 4h0m3-10h0m-162 23h0m35-5h0m5 9h0m36-13h0m6 1h0m65 6h0m17 6h0m13-2h0m-200 8h0m4-1h0m16-4h0m76 5h0m70-1h0m9 0h0m63 1h0m-231 17h0m60 3h0m27-4h0m126-3h0m37 0h0m110 1h0m-395 18h0m47 3h0m84-2h0m4-3h0m2 6h0m69-1h0m26 0h0m12-11h0m39 8h0m21-3h0m-304 9h0m21-1h0m20 3h0m2 7h0m107-9h0m42 8h0m6-6h0m2 2h0m113 7h0m26-9h0m-300 11h0m13 0h0m102 10h0m24 0h0m35 3h0m77-6h0m14-6h0m41 11h0m2-3h0m-329 12h0m18-6h0m1-1h0m15 10h0m14-10h0m47 4h0m34-1h0m30 9h0m32-12h0m28 12h0m114-6h0m-257 18h0m15-7h0m58 10h0m14-3h0m6-2h0m22-3h0m81 2h0m19-1h0m9-3h0m10 0h0m4 3h0m67-6h0m13 9h0m-384 17h0m11-11h0m45 1h0m77 4h0m43 3h0m59-2h0m12 4h0m-228 3h0m19 11h0m9-6h0m7 1h0m30 5h0m57-8h0m42 6h0m10 4h0m5-8h0m9 5h0m30-7h0m7 8h0m28-1h0m-300 7h0m20 7h0m21 2h0m37-2h0m29-9h0m80 2h0m2 1h0m2 7h0m12-4h0m52 5h0m14-10h0m37 4h0m32 1h0m11 2h0m6-7h0m16-1h0m3-1h0m28 6h0m52-5h0m-441 21h0m39 2h0m11 0h0m17-3h0m30-2h0m11 1h0m3-2h0m46 0h0m6 2h0m36 2h0m79-6h0m5 2h0m6-1h0m50 7h0m17 3h0m95-5h0m-400 6h0m4 13h0m63-4h0m80 2h0m4-4h0m17-6h0m60 8h0m62-8h0m28 9h0m-225 5h0m6 11h0m13-6h0m21 7h0m27-13h0m24 12h0m18-3h0m29 0h0m13 4h0m5-10h0m48 6h0m50-7h0m5 11h0m8-3h0m9-3h0m-364 8h0m24-1h0m18 0h0m22 1h0m116 5h0m65-3h0m10 9h0m11-8h0m13-4h0m2 3h0m8 3h0m68-1h0m-382 9h0m79 6h0m24 6h0m35-7h0m37-4h0m13 4h0m0 6h0m39-10h0m3 2h0m26-1h0m19 11h0m8 0h0m9-11h0m26 7h0m24-1h0m6 2h0m36-9h0m28 8h0m-357 7h0m94 0h0m26 11h0m7-10h0m1-3h0m48 1h0m3 0h0m72 12h0m-88 13h0m62-2h0m1-6h0m9-2h0m47 4h0m9-3h0m10 0h0m24 4h0m39-5h0m-386 20h0m161-6h0m45 8h0m12-9h0m7 12h0m24-1h0m14-11h0m19 12h0m8-8h0m33 2h0m21-4h0m-166 11h0m66 11h0m39 0h0m11-3h0m56 0h0m35 3h0m-196 11h0m88-8h0m6 13h0m28-13h0m41 1h0m18 2h0m-146 12h0m35 2h0m9 0h0m28-2h0m13 1h0m44 8h0m35-1h0m-135 6h0m34-1h0m7 6h0m18 7h0m1-3h0m25 3h0m40-3h0m-192 10h0m107 1h0m44 2h0m40 3h0m-71 13h0m60-8h0m-82 22h0m-151 15h0m230 21h0"/>
<path stroke="#1f9a8a" d="M1134 1234h0m40 139h0m109 34h0m-140 20h0m-217 56h0m260 0h0m-238 26h0m52-1h0m32 8h0m7 7h0m122-1h0m-137 16h0m-100 8h0m-32 21h0m1 0h0m39-12h0m106 11h0m45 26h0m184 1h0m-402 14h0m367-8h0m-378 21h0m390-10h0m-27 15h0m26 18h0m25-3h0m19 7h0m20 13h0"/>
<path stroke="#306a8e" d="M860 1226h0m106-8h0m-49 60h0m21 2h0m14 1h0m-78 26h0m399 20h0m-19 13h0m-240 18h0m248 2h0m-242 12h0m89 0h0m-66 37h0m-103 33h0m211 12h0m-61 5h0m-142 11h0m229 11h0m-316 9h0m17 0h0m81 1h0m-99 15h0m29-4h0m293-3h0m-266 15h0m147 14h0m159 11h0m77 12h0m-281 4h0m25 5h0m165 0h0m-16 21h0m14 2h0m-1 18h0m43 18h0m14-1h0m40 12h0m-31 19h0"/>
<path stroke="#3dbc74" d="M851 1307h0m417 4h0m-47 94h0m-209 80h0m233 20h0m-374 14h0m186 13h0m209 8h0m-377 18h0m14 0h0m28 8h0m6 0h0m10 15h0m63-4h0m9 13h0m11 3h0m4 0h0m-2 3h0m-107 19h0m161 0h0m12-1h0m6-3h0m7-1h0m30 11h0m-217 4h0m229 2h0m1 0h0m10 1h0m20 5h0m0-1h0m48 14h0m21-7h0m43 11h0m-417 3h0m7 7h0m359-5h0m37 4h0m4 4h0"/>
<path stroke="#a0da39" d="M1082 1350h0m-15 80h0m-117 109h0m6 6h0m55 9h0m-115 37h0m3 5h0m8 3h0m34 3h0m43-1h0m23 0h0m-164 12h0m16 3h0m-7 14h0m4 5h0m37-6h0m0 8h0m185-12h0m22 6h0m-147 20h0m91-13h0m75 11h0m9-4h0m23 6h0m8-2h0m22-3h0m-266 12h0m17-1h0m265-4h0m-226 15h0"/>
<path stroke="#b2dd2d" d="M1019 1330h0m202 30h0m-215 203h0m15 4h0m267-3h0m-406 14h0m1 2h0m12-6h0m180 7h0m-211 3h0m44 1h0m54 6h0m173-1h0m-197 18h0m25-2h0m-80 9h0m21 8h0m14-9h0m112 3h0m2-7h0m54 13h0m-240 11h0m47-6h0m4 4h0m13 1h0m9-9h0m16 11h0m67-11h0m1 7h0m7 0h0m94-1h0m-212 9h0m23 0h0m18 1h0m6 8h0m22 2h0m1-3h0m16-6h0m18 1h0m49 5h0m65-5h0m46 0h0m-209 14h0m10 9h0m4-12h0m74 9h0"/>
<path stroke="#2a788e" d="M869 1225h0m240 188h0m-239 21h0m81 4h0m-44 11h0m139 16h0m-186 12h0m94-3h0m-105 26h0m36 8h0m5 3h0m5-2h0m26 1h0m53-3h0m56 4h0m51-11h0m60 8h0m-158 8h0m179-1h0m-165 22h0m137-2h0m35-4h0m-149 21h0m38 1h0m6-1h0m-54 10h0m37 0h0m224-4h0m-172 21h0m18-9h0m65 7h0m6-6h0m-59 14h0m102 2h0m-24 20h0m41 2h0m54-8h0m-254 12h0m168-2h0m64 12h0"/>
<path stroke="#69cd5b" d="M1151 1320h0m-173 209h0m-131 36h0m7-9h0m6 0h0m13 10h0m162-11h0m-160 24h0m54-10h0m134 45h0m9 4h0m35 0h0m147 2h0m-388 16h0m60-3h0m119 4h0m101-3h0m-288 5h0m69 9h0m21 3h0m120 0h0m91-8h0m25-2h0m-312 13h0m28 7h0m305-2h0m-228 8h0"/>
<path stroke="#2c718e" d="M1028 1302h0m158 7h0m-215 37h0m6 10h0m-102 29h0m12-9h0m53 9h0m-78 4h0m326 3h0m-259 8h0m-7 19h0m276 5h0m-347 11h0m28 0h0m41 19h0m245 0h0m7-9h0m-225 62h0m46 3h0m189-3h0m-246 6h0m4 0h0m210 12h0m-112 17h0m4 11h0m157-2h0m-115 3h0m-6 15h0m216 5h0m-136 18h0m13 0h0m-54 8h0m62 19h0m40-9h0m1 10h0m72-1h0m15 5h0m-321 43h0"/>
<path stroke="#481668" d="M1010 1188h0m78 1h0m-183 1h0m35 2h0m80 4h0m36-2h0m2 8h0m17 1h0m14-7h0m-234 12h0m2 9h0m99-1h0m3-1h0m59-1h0m36-7h0m-208 18h0m50 6h0m11-4h0m15-8h0m1 0h0m26 6h0m80 0h0m10-5h0m9 1h0m2 2h0m12 0h0m7 0h0m17 1h0m8 0h0m-234 15h0m28-6h0m34 2h0m2 1h0m27 4h0m11-4h0m96 7h0m13-8h0m-159 17h0m105 5h0m11-6h0m33-1h0m14 3h0m88 3h0m-262 6h0m41-2h0m30 8h0m62 2h0m63-4h0m30-3h0m33 7h0m11-5h0m-283 22h0m16-13h0m8 1h0m24 5h0m16-2h0m133 2h0m4-1h0m48 7h0m35-9h0m18 5h0m27-4h0m4 3h0m-374 18h0m7-2h0m32-1h0m5 3h0m17-3h0m26-1h0m42 2h0m30 2h0m6-10h0m93 1h0m23 1h0m-277 23h0m17 1h0m4 0h0m13-8h0m32 1h0m4 0h0m33-6h0m13 8h0m21-5h0m152 8h0m58-2h0m76-3h0m-427 17h0m34-4h0m11 4h0m26 3h0m25-9h0m18 5h0m26-5h0m25 0h0m12 10h0m31-3h0m0-9h0m202 2h0m-398 17h0m14-4h0m37 3h0m106-4h0m47 7h0m4-8h0m5 13h0m31-10h0m1-2h0m23 5h0m27-2h0m7 8h0m33-3h0m4 1h0m74-8h0m11 4h0m-418 10h0m13 6h0m87 0h0m56-2h0m132-5h0m109 5h0m27-4h0m-418 14h0m35-1h0m0 0h0m48 0h0m96 0h0m6 5h0m129 6h0m41-1h0m8-9h0m1 3h0m57 7h0m-352 2h0m30 4h0m6 7h0m131-10h0m112 6h0m30 0h0m56 1h0m2 3h0m-368 6h0m13 5h0m46-6h0m20 11h0m3-6h0m11-1h0m12 5h0m84-9h0m56 9h0m0-2h0m37 2h0m1-4h0m10 1h0m36-5h0m17 10h0m-272 6h0m2 0h0m12 1h0m2-4h0m30 2h0m73 7h0m57-6h0m11 0h0m20-4h0m30 8h0m23 4h0m27 0h0m-271 8h0m57-2h0m33-4h0m57-1h0m19 3h0m37 2h0m0 8h0m9-6h0m41-3h0m4 9h0m-194 2h0m14 7h0m27 3h0m16-8h0m35 10h0m79-10h0m13 7h0m27-5h0m-146 15h0m17 7h0m49-7h0m6 5h0m24-3h0m33-7h0m-190 21h0m26-4h0m15 5h0m8-9h0m2 13h0m2-13h0m14 7h0m14-2h0m91 5h0m-44 7h0m18-2h0m11 5h0m51-4h0m-95 12h0m9 12h0m21 15h0m-42 2h0m17-1h0m-89 40h0m113-11h0"/>
<path stroke="#3e4c8a" d="M982 1237h0m88 8h0m-153 3h0m236 17h0m-293 14h0m23 22h0m18-2h0m90 43h0m212 0h0m61-5h0m-303 30h0m128-9h0m-216 26h0m69 8h0m-63 48h0m231-7h0m128-4h0m-319 15h0m-65 22h0m6-9h0m17 2h0m15 2h0m23 8h0m11-3h0m-43 12h0m15-2h0m72 5h0m163-1h0m-252 16h0m22-12h0m46 10h0m47-5h0m32-5h0m202 7h0m-284 20h0m78-4h0m278-1h0m-410 9h0m151 24h0m103 15h0m3 6h0m49-4h0m33 9h0m-29 29h0m90 6h0m-8 24h0"/>
<path stroke="#277f8e" d="M889 1386h0m-4 31h0m7 14h0m16 26h0m3 18h0m-65 17h0m44 10h0m191 5h0m-202 16h0m336-2h0m-260 17h0m16 11h0m59 2h0m12 1h0m64-10h0m-121 12h0m112 8h0m179 5h0m-144 13h0m88-12h0m-276 23h0m307-1h0m-160 8h0m191 7h0m-56 18h0m13-10h0m4 7h0m-130 31h0m16-5h0m44 3h0"/>
<path stroke="#482979" d="M1008 1201h0m71-4h0m-177 38h0m50 10h0m25-12h0m-119 13h0m36 13h0m30-11h0m18 9h0m203 16h0m-231 5h0m28 7h0m187-4h0m33 3h0m28-2h0m-340 6h0m171 1h0m-57 26h0m169-12h0m-55 23h0m88-8h0m-282 23h0m45-9h0m7-2h0m58 1h0m-31 24h0m9-9h0m153 4h0m3-4h0m-77 19h0m62 1h0m99-8h0m-361 18h0m30 7h0m11-7h0m10 9h0m167-8h0m-218 12h0m21 9h0m26 0h0m12-9h0m27 1h0m93 2h0m52-4h0m67 7h0m5 4h0m83-4h0m-349 11h0m21 2h0m24 4h0m26-5h0m-60 9h0m85 4h0m50-1h0m16 2h0m15 2h0m1 2h0m2-8h0m70 5h0m82 4h0m-304 6h0m22 2h0m13-6h0m22 3h0m10 8h0m14-5h0m3-6h0m18 8h0m8-2h0m0 5h0m29 1h0m13-4h0m38-5h0m29 8h0m53-9h0m-213 17h0m26-4h0m48-1h0m132 2h0m-169 15h0m52 0h0m20 5h0m146-1h0m25 16h0m-209 8h0m55 0h0m19 2h0m24 7h0m0-9h0m141 6h0m14 0h0m-176 11h0m17 4h0m27 1h0m23-2h0m2 2h0m108 0h0m-135 5h0m46 10h0m24-8h0m33-1h0m-158 16h0m84 6h0m32-11h0m6 9h0m-64 18h0m49-12h0m0 6h0m15 6h0m12-10h0m19 6h0m23-7h0m8 13h0m-12 18h0m8-4h0"/>
<path stroke="#1f9a8a" d="M954 1283h0m-7 30h0m34 50h0m70-5h0m-131 47h0m290 36h0m-312 7h0m1 2h0m7 5h0m40 14h0m-66 16h0m72 0h0m93 9h0m-193 35h0m121 2h0m-64 17h0m107 9h0m11 17h0m8-6h0m71 17h0m134 0h0m-110 13h0m70-2h0m23 3h0m-286 12h0m259 11h0m-4 2h0m-40 33h0m142-1h0"/>
<path stroke="#dae319" d="M917 1536h0m151 28h0m-222 16h0m218-12h0m-213 17h0m5 3h0m10-6h0m85 10h0m-104 12h0m6-2h0m43-1h0m32 8h0m-50 3h0m10 4h0m56-4h0m3 3h0m-73 22h0m94-8h0m29 7h0m42 9h0m1 4h0m57-9h0m13 10h0m1-7h0m-92 22h0m3-13h0m34 3h0m12 9h0m4 0h0m7-10h0m45-1h0m46 15h0m2-2h0"/>
<path stroke="#481f70" d="M922 1189h0m144 0h0m-192 5h0m6 3h0m7 3h0m5-7h0m4 2h0m29 7h0m13-7h0m46 3h0m23 3h0m70-7h0m-219 21h0m117-3h0m68 5h0m0-1h0m32-2h0m31-5h0m-246 17h0m68-5h0m7-2h0m25 4h0m22 2h0m46 5h0m3-5h0m60-5h0m3-2h0m-224 27h0m47-13h0m20 5h0m73 1h0m31 2h0m9 5h0m22 0h0m2-8h0m-222 18h0m68-5h0m94-4h0m55 1h0m1 10h0m34 1h0m3 1h0m58-11h0m53 11h0m-334 4h0m6 10h0m74-13h0m47 4h0m60-2h0m20 10h0m4-2h0m72-2h0m24-7h0m-331 19h0m70 3h0m33 1h0m47-10h0m10 4h0m87 3h0m25-2h0m6 5h0m16-7h0m-199 16h0m3-5h0m5 10h0m12-1h0m2-7h0m36-1h0m72 1h0m0 10h0m4-11h0m112 7h0m15 4h0m-326 9h0m34-3h0m1 6h0m97 2h0m30-8h0m13 0h0m5 0h0m56-3h0m49 7h0m55-8h0m17 2h0m-363 21h0m5-1h0m20-7h0m30 12h0m33-9h0m38 1h0m38 4h0m22 0h0m82 0h0m39 3h0m13-4h0m4 2h0m52-2h0m28 3h0m-417 3h0m22 3h0m13-3h0m38 3h0m7 0h0m32 6h0m7 4h0m4-8h0m9-2h0m81 4h0m35 0h0m55 1h0m31-4h0m-337 17h0m18-1h0m10 7h0m34-12h0m17 2h0m12 2h0m3-2h0m78 2h0m20 0h0m24 3h0m132-5h0m2 10h0m4-9h0m55 3h0m13 2h0m-438 9h0m20 9h0m50-10h0m198 7h0m8-9h0m18 5h0m22-6h0m33 11h0m11 2h0m1-11h0m29 7h0m-350 13h0m9 4h0m26-5h0m46-2h0m13 8h0m40 0h0m119-3h0m57 1h0m17-4h0m80 2h0m-442 9h0m49 7h0m24-1h0m118-3h0m3-4h0m0-3h0m18 7h0m52-4h0m2 3h0m28-2h0m1 0h0m56 0h0m-344 13h0m54 6h0m54 3h0m70-7h0m87 5h0m45-7h0m4-2h0m35 12h0m10-1h0m30 0h0m9 1h0m-297 3h0m5 1h0m2-2h0m40 8h0m18-6h0m16 0h0m1 1h0m14 6h0m7-9h0m25 10h0m3-2h0m4-6h0m14 4h0m13 6h0m141-13h0m35 12h0m-253 4h0m27 4h0m41-6h0m17 8h0m6-6h0m57 3h0m18 8h0m44-9h0m13 2h0m13 6h0m-206 12h0m7-7h0m38 9h0m8-2h0m9-10h0m21 4h0m26 5h0m39-3h0m40-4h0m16 1h0m0-1h0m1 7h0m16-6h0m-283 14h0m98 3h0m11-1h0m5 2h0m38-3h0m74 1h0m37 7h0m15-2h0m-203 14h0m114-1h0m21 0h0m1-1h0m4 5h0m19-12h0m13 10h0m2-11h0m21 13h0m17-10h0m-186 17h0m39 7h0m1-10h0m38 10h0m11-5h0m18 5h0m1-4h0m1-3h0m-48 21h0m26-8h0m80 5h0m-53 6h0m18 7h0m18 13h0m18 22h0m18 18h0m-33 35h0"/>
<path stroke="#46327e" d="M1145 1263h0m-296 20h0m236 56h0m-201 20h0m-1 23h0m-3 16h0m17-6h0m-25 12h0m63 7h0m9 0h0m147 2h0m-209 13h0m12-7h0m36 2h0m21 1h0m26 0h0m20-3h0m-144 21h0m78-12h0m124 7h0m-101 13h0m24-3h0m7 2h0m47-4h0m17 10h0m-22 9h0m29 4h0m-39 8h0m154-3h0m-76 13h0m52 6h0m-72 10h0m33 3h0m9 5h0m33 1h0m-43 14h0m113-4h0m-168 12h0m137 5h0m13 0h0m29 3h0m14-6h0m-65 8h0m6 11h0m39-9h0m26 8h0m10 7h0m3-1h0m25 6h0m-7 11h0m7 1h0"/>
<path stroke="#fde725" d="M848 1587h0m12 13h0m48 9h0m8-10h0m-73 15h0m8 1h0m59-1h0m70 16h0m23-1h0m2-5h0m3 12h0m0-1h0m3-1h0m7-6h0m13 5h0m15 16h0m4-9h0m17 7h0m-1 9h0m98 11h0m38 0h0"/>
<path stroke="#33638d" d="M947 1189h0m77 6h0m52 51h0m-124 19h0m-8 13h0m-57 16h0m30 0h0m236 12h0m-283 99h0m30 12h0m23-3h0m-12 38h0m310-8h0m-272 20h0m184 5h0m122-13h0m4 9h0m-389 18h0m21-5h0m6 2h0m133-8h0m-176 13h0m24 2h0m8 2h0m53 3h0m271-7h0m-362 14h0m359 3h0m-239 15h0m35 6h0m96 23h0m6 14h0m53 5h0m-8 4h0m4-1h0m38 17h0m19 9h0m14 7h0m23 7h0m-52 35h0"/>
<path stroke="#32b67a" d="M1158 1314h0m-107 83h0m-30 34h0m-64 106h0m68 5h0m-68 18h0m115 4h0m-111 7h0m33 1h0m144 8h0m104-4h0m-192 7h0m33 17h0m5 1h0m183 1h0m-132 24h0m75 9h0m-102 5h0m69-2h0m59 12h0m-396 4h0m21 1h0m55 1h0m12 3h0m-12 7h0"/>
<path stroke="#228d8d" d="M974 1462h0m47 30h0m69 11h0m-220 15h0m5 2h0m53 5h0m47-12h0m187 10h0m-264 4h0m65-1h0m-23 15h0m39 10h0m13 4h0m34 3h0m114 43h0m49-2h0m10 5h0m57 40h0m40 7h0"/>
<path stroke="#440154" d="M1036 1214h0m-189 71h0m374-5h0m54 30h0m-49 32h0m45 37h0m-14 25h0m-29 44h0m28 53h0"/>
<path stroke="#443a83" d="M1042 1302h0m259 23h0m-86 12h0m-277 14h0m166 34h0m-245 19h0m298 2h0m98 2h0m-400 11h0m1-5h0m3 8h0m19-7h0m-7 22h0m16-6h0m3-2h0m22 15h0m32 12h0m44 4h0m3 4h0m1-5h0m4 7h0m15-1h0m5 5h0m24 9h0m7-4h0m8 7h0m17-7h0m90 0h0m-218 11h0m154 10h0m4 0h0m19-1h0m-107 15h0m95-8h0m42 1h0m-99 19h0m72-4h0m17 5h0m15-8h0m-45 11h0m32 6h0m26 25h0m42-3h0m3 0h0m36 11h0m25 12h0m24 29h0"/>
<path stroke="#8ed645" d="M1279 1313h0m-58 110h0m-301 102h0m95 16h0m-146 26h0m163-5h0m16 2h0m-163 8h0m16 9h0m7-5h0m7 16h0m58-5h0m-66 20h0m25-10h0m222 4h0m31 6h0m-174 12h0m41 1h0m3-8h0m3 10h0m41-4h0m-233 7h0m41-1h0m163 0h0m83 13h0m-275 4h0m283 5h0m26 2h0m-217 11h0m7 3h0m11 3h0m26-2h0m204-8h0m-7 11h0m48 1h0"/>
<path stroke="#460b5e" d="M1104 1205h0m-227 21h0m146 4h0m199 1h0m-181 5h0m78-3h0m-207 26h0m7-2h0m-64 5h0m297 19h0m54-7h0m-215 28h0m180 4h0m53 4h0m-195 18h0m126-8h0m99 3h0m-121 19h0m116 0h0m47-9h0m-426 18h0m231-6h0m177 6h0m-372 8h0m305 5h0m15 7h0m-320 5h0m51 8h0m168-1h0m23-3h0m138-6h0m-109 24h0m-174 11h0m249 2h0m-169 11h0m213 1h0m-164 8h0m100-2h0m41 10h0m27 0h0m-155 12h0m69 0h0m18 18h0m49 8h0m-96 7h0m10 13h0m41 13h0m17 0h0m20-2h0m-147 22h0"/>
<path stroke="#c8e020" d="M1111 1463h0m-258 62h0m151 27h0m-158 9h0m18 26h0m9 1h0m51 4h0m-50 6h0m18 1h0m28 1h0m3 4h0m13-7h0m24 8h0m62 3h0m-173 12h0m1-3h0m77 6h0m13-3h0m12-9h0m53 5h0m23 3h0m-119 14h0m77-4h0m-89 18h0m52-9h0m116 13h0m17-12h0m22 8h0m35-8h0m8 6h0m-154 19h0m29-9h0m7 3h0m27 1h0m32 1h0m22 3h0m20-8h0m1-1h0m18 0h0m30 0h0"/>
<path stroke="#365c8d" d="M887 1194h0m71 100h0m328 55h0m-118 62h0m-311 63h0m101 9h0m-29 8h0m50-4h0m106 5h0m44-2h0m103 1h0m-296 10h0m255 19h0m-235 6h0m71 10h0m33 2h0m141 9h0m-102 12h0m70-5h0m-39 26h0m61-10h0m17-1h0m-25 18h0m63-5h0m-3 23h0m28-1h0m-23 7h0m10 23h0m44 5h0"/>
<path stroke="#22a884" d="M1226 1289h0m-315 207h0m-66 35h0m45 1h0m34 7h0m6-3h0m78 12h0m128-2h0m73-2h0m-226 20h0m32-9h0m-51 16h0m109-1h0m-56 12h0m80 12h0m162-12h0m-131 30h0m7 6h0m70 22h0m34 8h0m-391 17h0m24-1h0m74-7h0m231 11h0"/>
<path stroke="#28ae80" d="M1031 1232h0m13 25h0m202 45h0m-289 130h0m101 3h0m-187 12h0m-18 33h0m101 26h0m17 54h0m150-6h0m-86 24h0m76-8h0m-55 15h0m9 10h0m5-1h0m6-4h0m15-3h0m29-4h0m-38 15h0m-37 24h0m91-6h0m15-6h0m-278 19h0m78 22h0m-87 13h0m19-10h0m389-1h0m4 7h0"/>
<path stroke="#1fa187" d="M1052 1242h0m-108 100h0m84-11h0m-131 79h0m289 24h0m-235 57h0m52-2h0m-134 18h0m70-2h0m81 1h0m-57 37h0m171 9h0m-188 4h0m27 8h0m30-1h0m-127 10h0m117-2h0m24 1h0m3-1h0m197 9h0m45 8h0m-173 8h0m10 3h0m-137 14h0m285 23h0m-75 9h0m74-5h0m-27 25h0m68-8h0m-428 11h0"/>
<path stroke="#5ac864" d="M1078 1215h0m-82 11h0m43 57h0m101 128h0m-61 24h0m78-7h0m-193 51h0m-92 22h0m197 47h0m-170 16h0m23 3h0m129-9h0m-116 13h0m19 9h0m112-6h0m-172 20h0m69-9h0m19 8h0m0-10h0m17 8h0m39-1h0m4 2h0m107 2h0m20 1h0m-100 14h0m104-5h0m-86 8h0m51 17h0m0 2h0m47 4h0m-308 7h0m5 2h0m102 7h0m217-2h0m-305 5h0m5 8h0m13-10h0m319 9h0m2-7h0"/>
<path stroke="#7ad151" d="M1101 1422h0m58 29h0m-317 103h0m47 11h0m67 15h0m-57 2h0m39 21h0m64-4h0m63 9h0m87-7h0m-267 21h0m171-7h0m44-1h0m4 5h0m-188 12h0m181-5h0m13 5h0m31-7h0m-270 27h0m50-6h0m9 4h0m208-5h0m61 3h0m-286 17h0m0 0h0m5-7h0m41-2h0m35 9h0m19-11h0m194 1h0m11 0h0m-303 12h0"/>
<path stroke="#ece51b" d="M873 1592h0m13-10h0m-39 24h0m17 1h0m35 1h0m33-6h0m-14 10h0m5 4h0m13 2h0m40 0h0m5 4h0m1-5h0m25 1h0m-21 19h0m30-11h0m-36 22h0m99 3h0"/>
<path stroke="#3a538b" d="M862 1190h0m28 12h0m173 4h0m-170 53h0m165 25h0m100 2h0m-243 59h0m160 18h0m-2 19h0m-133 5h0m-46 20h0m73 0h0m105 9h0m-210 30h0m24 6h0m114 2h0m276-2h0m-427 13h0m30 3h0m2-10h0m27 25h0m27-10h0m22-2h0m32 14h0m12 9h0m175-5h0m61 9h0m-172 39h0m12-7h0m155 1h0m-125 15h0m50-2h0m23 34h0m47 9h0m14 3h0m26 8h0m7 2h0m9 8h0m-15 2h0"/>
<path stroke="#20938c" d="M870 1213h0m2 68h0m107 115h0m222 47h0m-270 24h0m-51 13h0m29-7h0m14 50h0m-25 16h0m40 13h0m324-1h0m-320 4h0m75 11h0m0-8h0m7 4h0m21-3h0m79-1h0m149-2h0m-261 21h0m69-6h0m87 2h0m76 6h0m-257 3h0m103 9h0m30-8h0m-223 25h0m262 1h0m-291 14h0m324-10h0m16 5h0m40 4h0m2 10h0m42 6h0m6 17h0m-115 13h0"/>
<path stroke="#24868e" d="M1101 1310h0m-243 119h0m6 32h0m57-3h0m31 26h0m3 27h0m-101 3h0m45 2h0m-32 12h0m10 0h0m95 14h0m223 1h0m-117 22h0m1 13h0m19-6h0m116-2h0m-170 20h0m91 4h0m12-10h0m99 10h0m-65 12h0m12 10h0m-264 8h0m354 14h0"/>
<path stroke="#414487" d="M1111 1213h0m-77 27h0m80 14h0m-124 30h0m38-2h0m166 18h0m-311 8h0m103-3h0m59-2h0m-180 64h0m121 23h0m202 4h0m-251 15h0m235-5h0m125-2h0m-448 20h0m136 5h0m268-2h0m-384 4h0m12 1h0m20 0h0m149 4h0m-164 15h0m16-1h0m-5 12h0m53 1h0m19 3h0m18 3h0m19-4h0m8 6h0m-61 13h0m33-10h0m39 17h0m33 1h0m-101 31h0m124 0h0m35-3h0m138 7h0m-107 6h0m-9 18h0m8-4h0m50 7h0m-43 8h0m117 17h0m23 12h0m-43 14h0"/>
<path stroke="#4ac16d" d="M1038 1237h0m49 25h0m-95 17h0m133 74h0m-88 68h0m-74 98h0m24-7h0m220 37h0m-332 16h0m2-8h0m69 4h0m58-6h0m-96 14h0m21 6h0m58-4h0m6 5h0m-13 7h0m161 11h0m-63 12h0m18 11h0m-221 33h0m104-4h0m205-7h0m11 3h0m-315 17h0m16 1h0m16-3h0m351 6h0"/>
<path stroke="#306a8e" d="M1140 1305h0m13 17h0m-303 19h0m414-5h0m13 7h0m-98 23h0m123 2h0m-30 10h0m-226 20h0m-72 15h0m88-1h0m67-12h0m137 7h0m-329 8h0m-59 18h0m74 4h0m-73 30h0m24-7h0m9-2h0m-70 25h0m44-1h0m0-10h0m93-2h0m66 0h0m-149 17h0m89 4h0m111 6h0m-68 14h0m-40 4h0m223 9h0m-245 11h0m77 9h0m5 2h0m31 1h0m3 6h0m-93 14h0m135-3h0m10 6h0m-42 21h0m123 2h0m4 16h0m29 13h0m19-5h0m31 4h0m5 11h0"/>
<path stroke="#365c8d" d="M904 1245h0m24 42h0m28 10h0m216 3h0m-13 22h0m-124 17h0m268 3h0m-431 2h0m48 3h0m198 31h0m41 6h0m-283 17h0m372 9h0m-144 13h0m148 0h0m5 0h0m-172 9h0m-125 10h0m36 1h0m-92 39h0m24-9h0m26 4h0m-94 14h0m52 0h0m73 0h0m-64 8h0m59 9h0m2-4h0m1 5h0m15-9h0m203-2h0m79 11h0m-214 15h0m-109 9h0m78 2h0m47-5h0m46 1h0m-32 10h0m14 8h0m-94 14h0m121 0h0m34-9h0m-43 15h0m64 6h0m-3 13h0m70 5h0m19-6h0m-151 19h0m121-3h0m38 46h0"/>
<path stroke="#4ac16d" d="M1060 1375h0m-127 46h0m-46 32h0m8 2h0m188 10h0m149 5h0m-374 68h0m11 10h0m89-8h0m142 10h0m180 1h0m-381 3h0m258 2h0m-263 12h0m187 7h0m52-6h0m11 16h0m-205 22h0m198 11h0m163 1h0m8-4h0m-160 12h0m-247 22h0m123-10h0m175 2h0m-265 24h0m22-10h0m43 4h0m241-3h0m20 0h0m-326 10h0"/>
<path stroke="#443a83" d="M1007 1312h0m43 4h0m-159 45h0m-34 36h0m211 9h0m-174 21h0m39 0h0m-79 5h0m14 4h0m19 0h0m37-6h0m11 11h0m40-1h0m100-5h0m-136 13h0m37 1h0m47-5h0m257 9h0m-371 10h0m52 0h0m53 0h0m17-2h0m-168 15h0m124-1h0m48 0h0m49-5h0m4 4h0m18 3h0m-36 12h0m29 6h0m28 2h0m-63 8h0m65 0h0m-32 27h0m17 7h0m32-1h0m55-2h0m5 0h0m-27 7h0m8 5h0m39 9h0m0 4h0m2-1h0m-17 8h0m40 1h0m27 11h0m21 29h0m-49 34h0"/>
<path stroke="#3a538b" d="M945 1207h0m181 30h0m-206 10h0m278 106h0m-99 55h0m-184 9h0m-8 14h0m258 4h0m-319 13h0m31 5h0m149-9h0m168 9h0m-287 5h0m-59 16h0m104-2h0m-77 22h0m11-8h0m47 7h0m73 2h0m115-9h0m35 4h0m-181 9h0m10 4h0m43 8h0m7-1h0m51 1h0m100 0h0m-177 1h0m64 0h0m68 0h0m-88 17h0m10 7h0m-210 9h0m263-1h0m0 7h0m13 1h0m16 9h0m47-6h0m-285 13h0m338 10h0m-65 17h0m52-13h0m4 3h0m65-1h0"/>
<path stroke="#28ae80" d="M1194 1265h0m-323 104h0m38 105h0m219 10h0m-217 15h0m65-1h0m-54 17h0m95 10h0m228 0h0m-106 14h0m-182 9h0m174-2h0m-186 13h0m254-4h0m-222 23h0m1-5h0m11 8h0m233-8h0m-136 25h0m221 6h0m-104 30h0m24 7h0m-363 19h0m307 6h0"/>
<path stroke="#b2dd2d" d="M894 1290h0m6 240h0m36 12h0m-46 32h0m-17 16h0m92 2h0m12 2h0m7 13h0m-133 13h0m5 2h0m28-2h0m4-4h0m15 7h0m77-12h0m20 0h0m88 12h0m-190 13h0m3-5h0m17 1h0m4 3h0m56 1h0m27-12h0m15 13h0m63-7h0m-179 20h0m40-9h0m43-2h0m57 9h0m127 2h0m-233 5h0m19-2h0m34-1h0m34 1h0m22 1h0m40 5h0m63 0h0m6-1h0m-153 10h0"/>
<path stroke="#2a788e" d="M960 1278h0m19 60h0m9 89h0m-121 15h0m134 13h0m87 14h0m64 4h0m-303 34h0m14-4h0m6 2h0m14 0h0m17 3h0m10 8h0m73 9h0m-92 2h0m74 7h0m29-7h0m135 1h0m65 8h0m72 1h0m-411 6h0m184 10h0m177-7h0m-289 18h0m203 2h0m70-3h0m-93 9h0m13 4h0m1-1h0m8 5h0m21-4h0m20 2h0m55 16h0m18 7h0m-163 25h0m201 6h0m-334 21h0"/>
<path stroke="#24868e" d="M898 1453h0m178 27h0m-157 28h0m-16 8h0m22 9h0m46-5h0m-52 11h0m14-4h0m8 0h0m39 5h0m34 3h0m6-1h0m123 1h0m-161 7h0m12 6h0m182-7h0m-131 24h0m6-6h0m28 17h0m63-1h0m48 16h0m10 31h0m81 24h0"/>
<path stroke="#5ac864" d="M928 1292h0m-54 53h0m325 134h0m-279 36h0m98 6h0m83 26h0m-202 8h0m37 13h0m25 12h0m12 1h0m2-7h0m83-6h0m52 8h0m-171 11h0m2 1h0m27-3h0m24 6h0m19 7h0m128 39h0m-292 5h0m4 7h0m5-11h0m322 1h0m48 7h0"/>
<path stroke="#22a884" d="M1299 1374h0m-370 50h0m312-7h0m-303 41h0m-64 25h0m48-2h0m151-5h0m-45 10h0m-141 14h0m-2 24h0m1-6h0m-43 16h0m127 1h0m-104 14h0m22-8h0m44 5h0m21 12h0m6 0h0m8 20h0m9-10h0m25 5h0m16 1h0m229 5h0m-265 8h0m30 5h0m29-9h0m19 8h0m10 3h0m17 4h0m20 5h0m165-5h0m-91 18h0m-26 17h0m-303 24h0m280-5h0m17 8h0m41-3h0m105 3h0m3 3h0"/>
<path stroke="#3dbc74" d="M1002 1220h0m-123 206h0m-10 42h0m387-8h0m-316 65h0m107-3h0m-185 14h0m291 15h0m-72 14h0m-81 9h0m8 18h0m77 15h0m52 14h0m70 0h0m-54 3h0m-138 20h0m48-4h0m0 6h0m131-6h0m-322 21h0m18 4h0m33-2h0m15 5h0"/>
<path stroke="#1f9a8a" d="M1225 1284h0m-281 23h0m-18 40h0m140 88h0m40 67h0m-229 36h0m39 1h0m-11 2h0m102 2h0m105 10h0m-82 14h0m50-12h0m179 7h0m-410 21h0m299 16h0m15 8h0m114-8h0m-409 15h0m308 5h0m73 21h0m6 4h0m17 5h0m-214 16h0m-197 1h0"/>
<path stroke="#20938c" d="M1273 1348h0m-62 18h0m97 55h0m-372 67h0m-75 19h0m77 2h0m175 2h0m-261 8h0m61 17h0m28 5h0m14 6h0m15 9h0m5 9h0m0-6h0m86-4h0m45-1h0m-62 23h0m61 3h0m78-6h0m-38 29h0m64 15h0m10 4h0m9 9h0m-276 30h0"/>
<path stroke="#277f8e" d="M1102 1403h0m-190 37h0m-68 53h0m0 5h0m20 5h0m3-1h0m4 7h0m309-1h0m-278 14h0m20-2h0m30 14h0m60 0h0m171-1h0m-183 10h0m15-1h0m55 17h0m43 3h0m-67 14h0m9-8h0m70 9h0m127 4h0m-105 14h0m45-1h0m-312 10h0m21 4h0m298 0h0m54 11h0m34 7h0m17 14h0m2 8h0m-185 5h0"/>
<path stroke="#440154" d="M1045 1204h0m10 6h0m-130 11h0m129 16h0m191 89h0m-318 21h0m58 11h0m78 17h0"/>
<path stroke="#dae319" d="M1018 1563h0m-157 13h0m12 4h0m-10 13h0m2-3h0m0 3h0m13 1h0m6 0h0m21 1h0m35-5h0m-72 11h0m48-4h0m12 3h0m-43 15h0m11-5h0m48 12h0m4-9h0m39-2h0m4 2h0m4 1h0m14-2h0m21 7h0m-55 9h0m13 6h0m91-5h0m0 2h0m-142 13h0m57-5h0m56 2h0m7 6h0m8-8h0m15 8h0m73-2h0m-102 15h0m6-4h0m107 2h0m8-4h0m-54 14h0"/>
<path stroke="#69cd5b" d="M1116 1279h0m-255 208h0m-12 64h0m69-8h0m17-3h0m120 6h0m-200 9h0m9 9h0m217-1h0m28 1h0m-261 9h0m34 2h0m46-6h0m8 4h0m7 0h0m20 1h0m2 5h0m38 8h0m92-5h0m-239 16h0m224 8h0m-2 5h0m39 10h0m2-2h0m-170 16h0m140-10h0m6 0h0m17 10h0m45-8h0m-309 21h0m23-6h0m70 22h0m319 3h0"/>
<path stroke="#228d8d" d="M999 1463h0m-87 27h0m94-3h0m14-1h0m-116 37h0m112-5h0m-113 18h0m29-7h0m5 0h0m37-1h0m-14 26h0m6 3h0m215 7h0m-188 8h0m175 32h0m78 3h0m-58 10h0m27 1h0m82-6h0m-52 20h0m-253 31h0m97-7h0"/>
<path stroke="#1fa187" d="M974 1218h0m257 148h0m-364 24h0m268 0h0m-193 57h0m88 21h0m139 40h0m63 5h0m-259 22h0m46-4h0m22-1h0m5-2h0m-105 13h0m2 9h0m12 1h0m61-1h0m146-2h0m91-8h0m-297 14h0m26 7h0m17 3h0m136-1h0m-144 11h0m35 2h0m152 23h0m-229 46h0m288-7h0m11 4h0m10 6h0m4 3h0m14 0h0m17-1h0m-119 18h0"/>
<path stroke="#c8e020" d="M1115 1343h0m-236 179h0m12 7h0m134 33h0m-173 17h0m9-10h0m-7 13h0m20 8h0m19-6h0m27 4h0m-15 13h0m18-4h0m31 4h0m18-3h0m28 10h0m-96 15h0m51-6h0m30-6h0m6 10h0m5-4h0m14-3h0m197 6h0m-311 4h0m41 6h0m45 7h0m44-12h0m15-1h0m75 12h0m-149 6h0m9 6h0m47-9h0m42 9h0m-68 16h0m63-1h0m31-8h0m52-3h0m3 5h0m15-4h0m-113 14h0m168 0h0"/>
<path stroke="#460b5e" d="M1011 1189h0m-16 10h0m-120 6h0m124-1h0m58 5h0m81 4h0m-21 18h0m-241 4h0m33 3h0m43 5h0m1 1h0m23-4h0m32 4h0m-160 10h0m45-7h0m54 17h0m58 4h0m79-2h0m113 7h0m-90 1h0m-60 23h0m71-4h0m15 2h0m93-2h0m-264 20h0m102 2h0m139-2h0m-222 7h0m2-3h0m34 9h0m17-7h0m115 8h0m96 2h0m28-1h0m-50 6h0m18 1h0m60 5h0m-435 10h0m38-2h0m25-3h0m5 10h0m222-2h0m9-8h0m103 9h0m16-10h0m-416 17h0m91-2h0m32 1h0m43 5h0m17-2h0m40 19h0m11-10h0m-182 20h0m87-2h0m287 3h0m-87 7h0m97 0h0m-172 20h0m59-1h0m-64 22h0m160-5h0m1-2h0m-129 29h0m62 2h0m22 0h0m43 2h0m11 11h0"/>
<path stroke="#8ed645" d="M845 1552h0m20 5h0m1 5h0m6 0h0m64 4h0m-16 15h0m14-8h0m214-5h0m-223 15h0m28 1h0m4 8h0m40 3h0m19-3h0m67-8h0m-189 18h0m5 7h0m123-7h0m-3 9h0m26 0h0m20 4h0m32 4h0m-179 8h0m79 1h0m111 1h0m14 8h0m-209 7h0m22 5h0m17-7h0m173 9h0m39 0h0m4-7h0m-229 12h0m21 7h0m22-1h0m57-1h0m171 2h0m-157 3h0m210 0h0"/>
<path stroke="#46327e" d="M1002 1237h0m-85 64h0m11 12h0m64 23h0m301 14h0m-442 49h0m331-7h0m-297 14h0m213 7h0m-251 14h0m26-6h0m24-6h0m33 11h0m14-10h0m10 9h0m-73 4h0m39 1h0m22 8h0m5-9h0m22 3h0m-90 17h0m83 0h0m0-7h0m5 4h0m7-1h0m87 10h0m87-4h0m113-9h0m-341 25h0m23-9h0m45 1h0m34 7h0m29-10h0m-19 21h0m17-5h0m42 7h0m3 0h0m10 1h0m33 1h0m-54 6h0m33 0h0m55 9h0m-89 3h0m78 1h0m-56 16h0m2 7h0m33-3h0m57 4h0m84-8h0m-91 21h0m15-9h0m8 24h0m16 1h0m23 7h0m9 13h0m10-4h0"/>
<path stroke="#32b67a" d="M1138 1374h0m-121 83h0m-17 18h0m2 47h0m-157 9h0m31 13h0m5-4h0m5 4h0m68 3h0m-14 20h0m348-2h0m-345 3h0m64 12h0m134-3h0m-108 17h0m32 5h0m17 4h0m198 1h0m-183 6h0m35 6h0m-144 16h0m31-5h0m96 5h0m31-3h0m59 3h0m8 5h0m41-6h0m-281 14h0m-129 20h0m15-5h0m20 0h0m371-8h0m26 8h0m29-6h0m-448 13h0"/>
<path stroke="#33638d" d="M880 1215h0m130 11h0m-142 10h0m54 32h0m-76 19h0m297 18h0m92 10h0m-375 17h0m99 19h0m247 6h0m45 3h0m-241 35h0m67 18h0m-219 2h0m166 7h0m141 9h0m64 4h0m-221 19h0m147 1h0m-310 12h0m30-4h0m341-4h0m-339 16h0m1-4h0m280 11h0m-272 8h0m10 6h0m156-4h0m87-5h0m-159 17h0m5-5h0m-138 17h0m117 6h0m18-5h0m34 3h0m81 4h0m-83 5h0m64 9h0m7 1h0m1 0h0m-29 6h0m3 1h0m170-3h0m69 2h0m-162 22h0m63-6h0m-239 14h0m261 8h0m2 8h0m34 7h0m6-2h0m23 22h0m15 23h0m-80 12h0"/>
<path stroke="#ece51b" d="M983 1560h0m-98 30h0m-43 13h0m10-7h0m21 13h0m13-8h0m2 2h0m33 1h0m39 3h0m201-10h0m7 3h0m-247 19h0m25 3h0m10-10h0m9 5h0m11 3h0m26-4h0m14 17h0m201-5h0m-291 23h0m48-8h0m42 1h0m88-1h0m10 8h0m-91 9h0m42 1h0m3 3h0m20-3h0m11 3h0"/>
<path stroke="#7ad151" d="M1044 1299h0m-157 201h0m403 15h0m-422 55h0m239 11h0m-243 8h0m78-6h0m61 22h0m36-6h0m4-2h0m12 5h0m47 3h0m-44 5h0m-152 25h0m209-7h0m14 6h0m-263 10h0m7-6h0m1 3h0m4 3h0m32 7h0m70-3h0m203-6h0m3 4h0m24 4h0m-295 14h0m34-1h0m36-3h0m170 1h0m73-3h0m15 1h0"/>
<path stroke="#2c718e" d="M970 1272h0m40 26h0m264 54h0m-381 74h0m378-2h0m-84 39h0m-302 8h0m32 2h0m244 4h0m-275 19h0m19-4h0m9-1h0m130-3h0m11 6h0m167-7h0m-319 20h0m36-7h0m186 11h0m-188 3h0m6 10h0m16-10h0m1 10h0m8-1h0m84 12h0m6 0h0m132 3h0m-54 12h0m-222 15h0m18-4h0m205 9h0m162 7h0m-162 5h0m5 4h0m80 12h0m18 9h0m59 8h0m8 10h0"/>
<path stroke="#482979" d="M940 1189h0m-59 4h0m97 4h0m-80 12h0m-7 32h0m39 13h0m-75 14h0m77 5h0m98-6h0m-166 7h0m110 9h0m7-5h0m-68 23h0m79-9h0m4 8h0m-84 3h0m144 6h0m66 4h0m24-9h0m21 5h0m-278 11h0m17-3h0m-58 17h0m424 6h0m-349 5h0m44 12h0m50-6h0m118-1h0m145 3h0m-434 5h0m18 7h0m79 4h0m90-3h0m28-8h0m46 8h0m-216 15h0m83-4h0m131 4h0m181 0h0m9-1h0m-449 17h0m7-10h0m2 2h0m39 5h0m12-3h0m1 0h0m57 3h0m38 1h0m109-5h0m118 5h0m-365 8h0m46 10h0m20-7h0m279 2h0m-273 17h0m19-3h0m333 5h0m-441 10h0m74-6h0m24 8h0m20 1h0m13-8h0m78 7h0m93 2h0m22-13h0m26 4h0m-249 12h0m84 5h0m45 2h0m110-9h0m25 1h0m-141 16h0m2 2h0m26-3h0m4 2h0m6 3h0m27-6h0m59 8h0m40-4h0m-163 15h0m7-4h0m8 6h0m34-7h0m15 12h0m67-7h0m98-1h0m-210 19h0m1-6h0m28 7h0m9-8h0m31 4h0m-14 10h0m6 5h0m31 16h0m33 3h0m11 5h0m6-4h0m37 12h0m-37 8h0m1-4h0m10-2h0m29 10h0m14-3h0m-49 8h0m48 20h0m13 6h0m7 15h0"/>
<path stroke="#481668" d="M959 1189h0m-4 4h0m7 10h0m28-4h0m31-7h0m36 10h0m-127 2h0m-81 17h0m19 3h0m11 1h0m28-1h0m43 3h0m20-3h0m73-1h0m29 6h0m-116 13h0m51 1h0m11-9h0m61 2h0m2 3h0m-226 15h0m6 0h0m74-3h0m4 5h0m42-10h0m33 4h0m21 9h0m2-7h0m1-2h0m54 4h0m5-1h0m5-7h0m-230 25h0m6-6h0m43 8h0m168-3h0m3 0h0m29 0h0m61 3h0m14-9h0m-296 23h0m20-2h0m67 0h0m86-2h0m5-9h0m38 5h0m8-3h0m28 0h0m8 7h0m11-5h0m89 9h0m-408 2h0m104 4h0m50 8h0m14-8h0m65-4h0m21 8h0m38-8h0m55 0h0m2 11h0m11-12h0m-222 22h0m98 2h0m2 0h0m1-8h0m45 11h0m58-9h0m34 7h0m27-11h0m-364 27h0m55 0h0m25-7h0m76 4h0m13 3h0m21-2h0m41-2h0m36-4h0m53-3h0m91 7h0m-388 13h0m27 1h0m43-1h0m0-2h0m25 5h0m68-2h0m98-9h0m4 1h0m32 12h0m21 0h0m62-1h0m8-7h0m-428 14h0m75 4h0m16-1h0m51-6h0m81 7h0m31-4h0m43 8h0m25-6h0m-302 19h0m115-5h0m26 1h0m2 0h0m45-4h0m9 2h0m8 6h0m32-3h0m20-7h0m4 5h0m27-3h0m2 7h0m5-9h0m91 3h0m10 1h0m-424 11h0m86 10h0m92-7h0m62 3h0m88-3h0m37 7h0m32-3h0m-167 10h0m124 4h0m75-10h0m2 7h0m6-2h0m-255 21h0m2-9h0m5-2h0m87-1h0m126 12h0m10-11h0m20 5h0m-278 20h0m106 0h0m67 1h0m74-13h0m7 8h0m-191 8h0m73 7h0m14-3h0m119-1h0m8 3h0m-320 6h0m147 8h0m15-4h0m20 6h0m17 1h0m27-6h0m15-4h0m-45 14h0m62 1h0m30 6h0m32-6h0m-125 17h0m22-5h0m47 5h0m4 6h0m10-3h0m1-7h0m4 11h0m25-2h0m16-1h0m0-2h0m-151 10h0m38-1h0m26 0h0m49 7h0m13 4h0m-97 3h0m1-1h0m47 7h0m23 3h0m-25 5h0m8-1h0m6 8h0m7 9h0m62 74h0"/>
<path stroke="#481f70" d="M875 1198h0m3-1h0m52 0h0m28 4h0m-73 15h0m57-3h0m16-6h0m18 9h0m14-10h0m10-1h0m1 7h0m13 2h0m17-5h0m-129 18h0m85-5h0m40 0h0m-160 19h0m4 2h0m24-9h0m75 6h0m66 0h0m1 1h0m17-8h0m62 9h0m0-1h0m-254 9h0m2 9h0m1-9h0m5 8h0m93-5h0m27-5h0m2-2h0m160 9h0m79-9h0m-361 23h0m2-3h0m12 0h0m10-2h0m48 0h0m24 0h0m5 4h0m17-3h0m58 7h0m82-6h0m62 1h0m-343 20h0m9-7h0m17 1h0m69 4h0m26-7h0m37-1h0m38 5h0m20-1h0m2 0h0m19 2h0m-222 14h0m1 2h0m18-1h0m0-1h0m1-3h0m21-1h0m279 5h0m18-10h0m-355 19h0m24 6h0m6-9h0m16-1h0m38 4h0m118-2h0m22 1h0m16 8h0m125-11h0m33 8h0m-399 12h0m34 3h0m11-10h0m14 9h0m52 1h0m12-5h0m17 6h0m10-2h0m0-8h0m0 10h0m1-11h0m3 12h0m55-8h0m50 7h0m16-2h0m24-7h0m-251 12h0m84 7h0m1 3h0m271-8h0m27 5h0m7-2h0m-433 14h0m77 4h0m48 3h0m36-8h0m9 3h0m38 2h0m20-3h0m24-4h0m84 6h0m17-4h0m9 7h0m31-11h0m66 2h0m-426 15h0m4 7h0m18 3h0m3-3h0m1 0h0m13-1h0m9-4h0m24 1h0m7 3h0m9-1h0m13-5h0m23-1h0m33-2h0m35 10h0m4 2h0m5-7h0m5-1h0m81 8h0m7 0h0m48-1h0m3-6h0m8 3h0m48 4h0m5 0h0m-443 2h0m1 12h0m1-2h0m5-6h0m3 5h0m7 4h0m31-7h0m21 5h0m68-9h0m2 10h0m14-3h0m31-5h0m21 3h0m3 5h0m20-12h0m54 8h0m19-3h0m87-5h0m34 12h0m22-11h0m-365 26h0m43-6h0m29-7h0m28 6h0m17-2h0m44 3h0m14 6h0m38-9h0m2-1h0m110 6h0m16-9h0m23 10h0m-396 11h0m18 4h0m43-10h0m2 9h0m66 1h0m42-3h0m109-5h0m90-2h0m43 5h0m-396 18h0m55 1h0m147-8h0m15 3h0m13 0h0m19 1h0m20 6h0m3-4h0m25-9h0m51 4h0m9 0h0m9 0h0m29 0h0m-243 14h0m9 4h0m2 2h0m45-7h0m68 8h0m6-8h0m23 9h0m36-6h0m4-4h0m1 9h0m-146 5h0m4-1h0m6 7h0m8-1h0m29-1h0m12-4h0m27 9h0m33-3h0m44-7h0m5 11h0m-173 11h0m9-1h0m4-4h0m25 5h0m11-2h0m31 2h0m28-5h0m8 4h0m5 2h0m13 3h0m9-3h0m2 3h0m35-12h0m23 11h0m-197 13h0m6-9h0m47 5h0m12-4h0m13 6h0m18-7h0m-247 21h0m174-4h0m30 7h0m32-5h0m25-3h0m33 7h0m1-7h0m32 21h0m-92 15h0m64 0h0m13-4h0m14-4h0m-434 12h0m384 8h0m29 3h0m25-2h0m2-10h0m0 5h0m-61 8h0m44 65h0m12-2h0"/>
<path stroke="#414487" d="M859 1195h0m73 25h0m208 56h0m20 1h0m-296 22h0m36-8h0m52 6h0m200 11h0m-141 24h0m228 17h0m-123 22h0m79-10h0m80 10h0m-179 11h0m194 6h0m-375 22h0m19 7h0m-63 17h0m9 4h0m23 0h0m292-1h0m59-6h0m-337 12h0m190 0h0m35 6h0m121 2h0m-401 12h0m58-1h0m6 2h0m26-5h0m2 3h0m3-3h0m33 3h0m11 1h0m11 1h0m23-4h0m-18 16h0m37 5h0m165-9h0m-185 24h0m11-3h0m5-3h0m11 2h0m106-7h0m65 6h0m-348 8h0m196 3h0m144-4h0m21 5h0m-333 10h0m127 7h0m73 7h0m-259 32h0m61-1h0m275 3h0m7 1h0m32 2h0m5-1h0m34 12h0m21 13h0"/>
<path stroke="#a0da39" d="M1245 1416h0m-207 47h0m-174 110h0m-15 22h0m8-12h0m47 1h0m21 20h0m46-3h0m23 1h0m50 3h0m68-8h0m-259 26h0m153-13h0m54 11h0m7 0h0m102-10h0m-296 16h0m26 4h0m3 5h0m1 1h0m64-6h0m166 1h0m-233 19h0m165-5h0m18-1h0m2-4h0m99 9h0m-31 10h0m27-8h0m22 7h0"/>
<path stroke="#fde725" d="M880 1595h0m61-1h0m-48 9h0m34 5h0m-32 7h0m4-4h0m51 5h0m23 12h0m49-1h0m17 10h0m182-4h0m-192 6h0m19 0h0m27 10h0m0-5h0m10 10h0m17 1h0m21 8h0"/>
<path stroke="#3e4c8a" d="M962 1210h0m122 2h0m-183 7h0m213 23h0m-218 59h0m166 42h0m-133 42h0m-45 29h0m113 13h0m-23 7h0m199-4h0m-318 18h0m46-1h0m106 7h0m83-1h0m195-3h0m-184 10h0m-163 10h0m349 11h0m-327 8h0m63 18h0m12-3h0m72 16h0m29 1h0m-167 7h0m54-2h0m64 4h0m0 12h0m89 9h0m-245 7h0m257 5h0m55 14h0m-206 14h0m179-5h0m5 2h0m8 1h0m33-1h0m0 5h0m16 2h0m28-3h0m-35 5h0m21 2h0m-151 22h0"/>
<path stroke="#482979" d="M859 1214h0m180 25h0m5 2h0m-187 11h0m43-6h0m-4 32h0m143 2h0m-86 13h0m97 0h0m52 1h0m-145 8h0m19 5h0m-111 13h0m189 3h0m44 3h0m42-1h0m6 2h0m122 0h0m-341 6h0m61 5h0m9-6h0m26-2h0m1 3h0m106 1h0m79 0h0m-319 11h0m92-1h0m20 2h0m26 11h0m120-1h0m-270 5h0m13 3h0m2-6h0m232 9h0m1-3h0m-266 11h0m94 1h0m55-1h0m8 1h0m157-3h0m-301 23h0m0-6h0m13 0h0m40-3h0m244-1h0m50 4h0m-358 20h0m7-10h0m33 2h0m32 10h0m1-4h0m37-1h0m10-4h0m32 0h0m30 2h0m3 3h0m89 5h0m-236 2h0m1 0h0m9 0h0m5-1h0m34 10h0m17-6h0m74-1h0m13 8h0m68 2h0m-272 14h0m88-11h0m47 2h0m36 1h0m20-1h0m6 4h0m20-7h0m-177 25h0m157-11h0m34 0h0m2 6h0m19 2h0m65 3h0m14-6h0m-129 15h0m8-1h0m1 2h0m150 5h0m-103 12h0m78-11h0m24 9h0m52 1h0m-132 13h0m14-8h0m-125 18h0m34 2h0m125 2h0m2-1h0m-22 10h0m42-1h0m1 4h0m77 16h0m20 2h0m-57 15h0m16-9h0m8-3h0m23 8h0m10 0h0m-5 29h0m-172 27h0m12 4h0m148 8h0m17 6h0"/>
<path stroke="#dae319" d="M1040 1574h0m-152 16h0m15-4h0m2 1h0m-13 15h0m1 0h0m30 4h0m28-4h0m-85 16h0m74-6h0m2 5h0m1 0h0m2 6h0m38-3h0m39 3h0m-154 9h0m46-3h0m40-5h0m1 0h0m6 7h0m9 5h0m18-9h0m54 7h0m19-8h0m15 10h0m-103 6h0m34 7h0m145 2h0m-134 3h0m24-1h0m5 0h0m78 11h0m25-12h0m4 0h0m1 1h0m-53 13h0"/>
<path stroke="#481f70" d="M985 1188h0m40 1h0m42 0h0m-221 4h0m208 5h0m-103 9h0m36 10h0m22-2h0m-146 6h0m51 1h0m18 7h0m23 1h0m27-1h0m89-9h0m38 2h0m-211 13h0m71 7h0m92 1h0m-156 10h0m67 4h0m8-10h0m127 2h0m-188 13h0m89 10h0m41-8h0m5 7h0m35 0h0m35-3h0m-281 18h0m14-2h0m11-4h0m46-3h0m1 7h0m2-6h0m5 3h0m5 4h0m82-11h0m35 9h0m6 3h0m28-11h0m51-1h0m6 7h0m16 5h0m-304 10h0m5 2h0m108-8h0m22 1h0m2-3h0m10 13h0m51-9h0m114 1h0m-290 16h0m32-1h0m13-4h0m1 1h0m46 7h0m9 0h0m91-7h0m31 5h0m1 2h0m17-7h0m23-2h0m27 10h0m53-8h0m23-1h0m11-2h0m12 4h0m-409 10h0m115 12h0m9 1h0m20-1h0m73-4h0m22-7h0m17 7h0m10 2h0m51-7h0m103 1h0m-417 20h0m46-3h0m16 5h0m56-2h0m17-7h0m10 6h0m3 3h0m12-1h0m19-1h0m15-6h0m15 9h0m7-9h0m17 9h0m20-11h0m1 10h0m57-7h0m23 4h0m31 2h0m8-9h0m43-2h0m-408 24h0m108 2h0m39 0h0m31-10h0m4 3h0m3-1h0m22 1h0m9 5h0m9-3h0m62-2h0m5-2h0m8 8h0m72-5h0m3 3h0m8-4h0m2 5h0m12 1h0m4-1h0m30-10h0m10 5h0m-437 21h0m19-10h0m26 3h0m4 2h0m7 6h0m21-12h0m33 1h0m12 6h0m9-1h0m33-2h0m195 2h0m7 0h0m1-2h0m-344 13h0m33 1h0m8 6h0m8-2h0m4 1h0m18-2h0m21-4h0m5-3h0m1 12h0m49-8h0m41 6h0m26-6h0m39 0h0m36 0h0m55-3h0m14 7h0m-339 5h0m65 4h0m11-4h0m29 8h0m5 2h0m15-9h0m16 11h0m2-2h0m6 1h0m42-1h0m15-9h0m26 2h0m5 3h0m44-6h0m19 13h0m11-5h0m-301 19h0m14-3h0m56-3h0m10-1h0m33 2h0m24-2h0m4 7h0m7-13h0m25 13h0m28-6h0m30 1h0m27 5h0m42-11h0m4 3h0m52 2h0m-373 11h0m8 0h0m71 6h0m2-5h0m19 4h0m4-5h0m54 1h0m2-3h0m8-2h0m6 10h0m21 1h0m37-6h0m8 0h0m112 8h0m13-5h0m-269 19h0m25-10h0m24 0h0m205 1h0m17 7h0m-236 3h0m33 4h0m34 5h0m119-6h0m16 10h0m1-1h0m38-10h0m4 2h0m-190 14h0m37 3h0m20-4h0m17 8h0m50-3h0m25-2h0m47-2h0m-159 11h0m2 8h0m23-5h0m26 2h0m35-2h0m5-4h0m3 7h0m54-5h0m23 6h0m1-1h0m-199 14h0m59 5h0m9-12h0m19 13h0m7-3h0m6-1h0m-285 8h0m256 4h0m19-2h0m29 5h0m52-1h0m7-2h0m23 0h0m6-6h0m-77 24h0m-79 14h0m97-4h0m44 5h0m4-7h0m3 5h0m10 2h0m-68 2h0m65 7h0m3-7h0"/>
<path stroke="#440154" d="M868 1210h0m308 82h0m-267 48h0m332 31h0m-298 7h0m299 29h0m30 93h0m-163 17h0"/>
<path stroke="#365c8d" d="M1002 1268h0m-28 24h0m-106 17h0m433 24h0m-372 14h0m251 34h0m32-3h0m-272 35h0m106-2h0m26-6h0m-45 32h0m32-6h0m-182 34h0m-30 10h0m108 10h0m2-1h0m94 2h0m-126 12h0m36 11h0m113 2h0m180-13h0m-110 24h0m162-2h0m-234 16h0m-31 9h0m98-5h0m3 8h0m6 4h0m-220 14h0m235-9h0m21 24h0m20-4h0m-8 10h0m12-2h0m3 3h0m73 15h0m-22 8h0m19 3h0m13 6h0m6-9h0m-4 31h0"/>
<path stroke="#24868e" d="M845 1511h0m39-6h0m88 22h0m-2 16h0m206 5h0m-148 14h0m19-8h0m8 3h0m180 6h0m-120 6h0m6 10h0m-37 9h0m31 5h0m-36 22h0m32-5h0m68 8h0m1-7h0m38 0h0m20 14h0m16 1h0m26 27h0"/>
<path stroke="#22a884" d="M1013 1270h0m-15 28h0m268 27h0m-188 101h0m-157 82h0m163 15h0m-211 14h0m82-7h0m-66 14h0m6-3h0m10 2h0m17 8h0m4-1h0m4-1h0m68-7h0m-23 14h0m13 9h0m4 13h0m13-5h0m190-1h0m-144 12h0m165-2h0m-241 22h0m13-2h0m113 4h0m43-10h0m-6 15h0m79 1h0m-28 25h0m45-7h0m3 22h0"/>
<path stroke="#33638d" d="M1055 1248h0m-202 49h0m67 45h0m29-4h0m113 15h0m227-1h0m-93 48h0m-278 15h0m50 1h0m-115 42h0m19 5h0m5 5h0m8 2h0m35 6h0m190-6h0m77 11h0m-313 4h0m57 11h0m127-4h0m157-4h0m-261 18h0m19-6h0m61 0h0m7 9h0m10-3h0m254-7h0m-297 21h0m31-8h0m34 13h0m-212 6h0m172-1h0m157 16h0m107 3h0m-185 13h0m40 4h0m153 0h0m-146 10h0m3-3h0m5-3h0m50 20h0m-42 8h0m99 18h0m26 4h0m-59 13h0m66 3h0m-424 5h0"/>
<path stroke="#460b5e" d="M854 1203h0m87-9h0m131 9h0m-35 1h0m31 5h0m-197 11h0m129-2h0m127 18h0m-190 20h0m17 3h0m43-6h0m91 9h0m24 11h0m-249 21h0m22-1h0m352 0h0m6-1h0m-292 19h0m59 1h0m38 0h0m86-3h0m72 6h0m3-4h0m15 4h0m16 0h0m-201 14h0m164-11h0m-182 19h0m60-1h0m119 6h0m104-10h0m-321 17h0m132 5h0m127-10h0m20 10h0m-323 27h0m85 15h0m116-1h0m-142 5h0m292 9h0m-182 5h0m20 0h0m105 3h0m45 9h0m-29 3h0m-61 25h0m8-3h0m93 2h0m-159 16h0m151 1h0m-65 36h0"/>
<path stroke="#306a8e" d="M859 1220h0m134 13h0m39 40h0m109 9h0m-59 34h0m-127 30h0m123 43h0m-234 23h0m423-10h0m-145 53h0m-226 12h0m52-3h0m-70 8h0m118 6h0m-62 17h0m58 19h0m17 8h0m19-9h0m153 3h0m21 2h0m-349 10h0m149 3h0m83 6h0m93-8h0m-124 15h0m6 6h0m51 2h0m15 11h0m160 1h0m-156 7h0m52 9h0m37-5h0m-21 17h0m3-1h0m56 3h0m42-12h0m-39 35h0m11-6h0m22 16h0"/>
<path stroke="#1f9a8a" d="M1113 1280h0m50 10h0m17 18h0m-122 28h0m62 26h0m-269 45h0m121 61h0m-88 15h0m424 11h0m-439 26h0m124 5h0m64-13h0m-198 18h0m26 9h0m24 8h0m84 3h0m1-2h0m164 2h0m-192 11h0m114 20h0m77-3h0m-200 5h0m163 15h0m-45 21h0m109-1h0m-220 13h0m247-6h0"/>
<path stroke="#2c718e" d="M843 1201h0m18 18h0m69 4h0m89 15h0m-135 76h0m25-1h0m180 15h0m-182 11h0m120 13h0m-141 13h0m112-5h0m120 63h0m-269 14h0m104 2h0m125 27h0m208-9h0m-285 15h0m-127 28h0m49 4h0m30 5h0m294-3h0m-253 16h0m244-6h0m-208 18h0m1-6h0m110 8h0m-203 10h0m9 4h0m144-1h0m113-3h0m-201 8h0m73 2h0m185 4h0m-83 43h0m9-6h0m5 4h0m15-5h0m28 15h0m7 9h0m17 1h0m2-1h0m-214 12h0"/>
<path stroke="#2a788e" d="M849 1196h0m279 142h0m-210 19h0m41-7h0m39 57h0m-91 58h0m78-2h0m-99 44h0m24-3h0m22 10h0m20 2h0m8 7h0m8-6h0m-81 19h0m131-10h0m144 11h0m31-4h0m112-6h0m-332 21h0m57-2h0m37-3h0m131-1h0m-116 20h0m22 5h0m192-9h0m-444 16h0m248 4h0m7-6h0m26 0h0m142 3h0m-215 9h0m72 0h0m16 3h0m48 19h0m-10 9h0m94 16h0m-30 10h0m41 1h0"/>
<path stroke="#277f8e" d="M917 1367h0m-69 133h0m2 3h0m47 0h0m-25 11h0m53 7h0m178 3h0m-245 14h0m60-7h0m73 8h0m-81 2h0m24 5h0m75 3h0m16 0h0m50 2h0m62-10h0m-151 14h0m91 1h0m23 26h0m-127 17h0"/>
<path stroke="#c8e020" d="M1239 1259h0m-286 130h0m68 175h0m-134 27h0m18 4h0m26-4h0m31 18h0m-46 6h0m10 6h0m72-11h0m75 12h0m-191 12h0m47-6h0m45 4h0m118-4h0m162 7h0m-303 8h0m3 5h0m18-7h0m31 9h0m2 1h0m3-1h0m20-10h0m5 10h0m56-7h0m27 8h0m-117 12h0m19-6h0m56 7h0m54-6h0m32 2h0"/>
<path stroke="#1fa187" d="M992 1229h0m29 82h0m-100 130h0m32 2h0m1 2h0m343 16h0m-351 54h0m224 5h0m-117 22h0m-111 15h0m90 10h0m-61 3h0m52 3h0m33 6h0m60 13h0m40 0h0m-298 14h0m249-4h0m3-1h0m32 6h0m0-2h0m125 0h0m35-1h0m-150 12h0m29 3h0m7 8h0m120 4h0m-61 7h0m2 3h0"/>
<path stroke="#3dbc74" d="M920 1217h0m354 104h0m-18 16h0m-315 13h0m-69 70h0m3 38h0m-21 18h0m424 13h0m-342 43h0m-86 10h0m16 3h0m14 7h0m29 13h0m135-7h0m252 5h0m-309 14h0m42 17h0m16 1h0m-127 8h0m156-2h0m45 15h0m8 3h0m9-5h0m26 8h0m-27 4h0m49 9h0m82-9h0m-412 22h0m38 17h0m15 1h0"/>
<path stroke="#20938c" d="M932 1330h0m-51 75h0m-24 48h0m32-1h0m266 2h0m-204 13h0m-10 15h0m136-11h0m-146 15h0m28 23h0m-61 10h0m206 0h0m5 18h0m39 2h0m-214 3h0m33 4h0m109 8h0m-37 16h0m8-2h0m40 10h0m67-7h0m-266 18h0m320 3h0m-77 15h0m32-10h0m138 6h0m-113 21h0m89 16h0m10 16h0"/>
<path stroke="#ece51b" d="M863 1580h0m-9 12h0m6-1h0m66 6h0m42 10h0m0-5h0m-65 19h0m40-3h0m1-4h0m31-3h0m27 6h0m-7 27h0m19 1h0m3 6h0m10-4h0m0-2h0m51-3h0m10 5h0m-100 12h0m124-7h0m38 12h0m6-5h0"/>
<path stroke="#228d8d" d="M922 1451h0m51 7h0m-47 36h0m116 1h0m-167 19h0m9 7h0m29-1h0m8-3h0m197 7h0m-202 13h0m19-6h0m7 3h0m141-7h0m50 12h0m-132 6h0m3 20h0m29-1h0m21 8h0m151 0h0m-208 22h0m130-2h0m6-1h0m-272 8h0m318 10h0m-73 11h0m34-1h0m90 11h0m1-5h0m19-1h0m12 6h0m-410 35h0m89-7h0"/>
<path stroke="#8ed645" d="M1056 1355h0m45-1h0m183 35h0m-369 31h0m-14 16h0m-27 83h0m64 28h0m-84 15h0m6-8h0m27 8h0m143-4h0m21 6h0m89 3h0m-254 6h0m24 1h0m214 20h0m-113 10h0m-166 9h0m15 0h0m179 1h0m13-2h0m196 1h0m-381 16h0m24 6h0m69 0h0m105-7h0m65 2h0m8 7h0m78-9h0m9 3h0m-377 13h0m44 5h0m1-7h0m46 0h0m252 4h0m36 4h0m-309 6h0m60 6h0m221-6h0m25-1h0m16 3h0m-257 8h0m289 1h0"/>
<path stroke="#5ac864" d="M1026 1282h0m-24 145h0m-99 97h0m-50 28h0m209-6h0m24-2h0m-232 15h0m56 14h0m38 17h0m4-7h0m37-1h0m30 14h0m28 4h0m49 12h0m6 10h0m7-6h0m65 1h0m21-1h0m53-5h0m-392 26h0m286-6h0m14 2h0m-300 17h0m223-7h0m116 2h0m-288 10h0m43 10h0m43-1h0m233-10h0"/>
<path stroke="#b2dd2d" d="M849 1235h0m115 315h0m99 18h0m-169 20h0m5 0h0m48 1h0m-13 14h0m26-1h0m1 0h0m45-5h0m17 9h0m-159 15h0m55-4h0m106-4h0m23 6h0m-195 8h0m4-3h0m41 3h0m2 7h0m19 3h0m6-8h0m52 0h0m12 7h0m66 0h0m13 0h0m39-4h0m2 2h0m-194 5h0m21-1h0m59 8h0m66-5h0m52 4h0m44 4h0m21-2h0m-178 6h0m13-1h0m9 1h0m17 1h0m6 7h0m165 1h0m4 0h0m-201 4h0"/>
<path stroke="#443a83" d="M904 1254h0m191 9h0m106 107h0m-336 38h0m53-1h0m340-1h0m-411 8h0m9 7h0m19 2h0m3 0h0m39 0h0m75 9h0m-112 10h0m56 5h0m8-3h0m27-2h0m269 5h0m-377 16h0m81-6h0m50 8h0m74-6h0m-3 15h0m-59 23h0m52-9h0m42 6h0m1 3h0m-2 2h0m18 17h0m34-1h0m7 22h0m3-11h0m50 1h0m-16 21h0m27 2h0m24 3h0m-39 17h0m27-2h0m6 0h0m40 13h0m5-5h0m20 5h0m-35 19h0"/>
<path stroke="#481668" d="M906 1187h0m95 2h0m-145 10h0m48-4h0m34-2h0m43 8h0m19 2h0m35-5h0m23 5h0m14 0h0m10-11h0m9 5h0m-235 19h0m19 1h0m25-3h0m141-9h0m-154 26h0m97-6h0m19-1h0m55 6h0m11-9h0m1 2h0m-205 18h0m10-9h0m17 2h0m20 1h0m21 2h0m36-2h0m38 2h0m94 7h0m-239 12h0m16-7h0m44 5h0m50-7h0m74 6h0m42-7h0m40 6h0m1-5h0m14 6h0m-286 14h0m3-2h0m44-1h0m34-3h0m9-1h0m98 10h0m8-5h0m69-5h0m11 5h0m19 2h0m2-2h0m8-2h0m-316 19h0m6-7h0m28 7h0m51-3h0m-88 11h0m8 4h0m39 3h0m60-1h0m9-1h0m8-5h0m15 8h0m41-5h0m106 3h0m10-3h0m4-1h0m41 3h0m17 1h0m1-6h0m-343 24h0m48-1h0m8-11h0m9 10h0m8-7h0m52-1h0m58 1h0m37 3h0m120-3h0m30 1h0m1-3h0m4 8h0m21-5h0m6 4h0m12 1h0m-311 11h0m18-3h0m16 7h0m18-5h0m45 7h0m61-10h0m8 6h0m26-8h0m24 9h0m18-6h0m27 3h0m40-4h0m13-2h0m22 13h0m-445 11h0m13 1h0m50-2h0m112-9h0m8 8h0m4 3h0m29-3h0m21-8h0m43 8h0m111 2h0m31 2h0m23-3h0m-371 10h0m67 2h0m16-3h0m5 3h0m15-6h0m28 4h0m50-1h0m31 5h0m3-5h0m58-2h0m12 5h0m24-3h0m-292 17h0m50-1h0m53 4h0m12-9h0m68 5h0m55-2h0m97 7h0m7-6h0m-138 21h0m21-5h0m16-7h0m11 6h0m0 3h0m21 3h0m2-8h0m58-4h0m15 10h0m-386 15h0m9-5h0m34 6h0m14-5h0m30 0h0m154 6h0m17-10h0m50 4h0m8 0h0m61 2h0m14-5h0m-358 14h0m107-2h0m3 0h0m105 11h0m90-12h0m56 0h0m-152 18h0m27 2h0m94-4h0m4 1h0m-203 21h0m39-2h0m38 4h0m120-11h0m17-1h0m12 12h0m2-3h0m-185 15h0m20 0h0m64-1h0m22 7h0m14 2h0m-83 16h0m53 5h0m11-11h0m23-1h0m58 3h0m10 5h0m-111 7h0m16 6h0m15-2h0m62 3h0m15 1h0m-85 12h0m50-7h0m35 15h0m-15 21h0m-7 68h0"/>
<path stroke="#46327e" d="M971 1219h0m8 8h0m20 24h0m101 2h0m-222 137h0m13 0h0m31-3h0m95 6h0m-164 13h0m31-1h0m12 8h0m55-3h0m-104 9h0m41 5h0m5 2h0m29-10h0m-50 12h0m30 2h0m45 7h0m5-1h0m39 3h0m34 2h0m15 5h0m0-1h0m55 3h0m174 7h0m-310 13h0m52-3h0m15 3h0m-184 5h0m97 10h0m38-12h0m42 4h0m54-4h0m8 10h0m3 11h0m20 2h0m13 1h0m8-8h0m22 14h0m2-2h0m7 11h0m-180 5h0m171 7h0m4-4h0m1 3h0m25-6h0m38 7h0m16 11h0m64 2h0m-63 18h0m58 0h0m-73 4h0m16 3h0m19 3h0m7-5h0m-282 19h0m263-7h0m38 4h0m23 3h0"/>
<path stroke="#32b67a" d="M1051 1243h0m48 56h0m32-5h0m102 80h0m-97 70h0m-253 22h0m132-8h0m-108 18h0m-35 15h0m127 5h0m-86 13h0m20-6h0m123 30h0m-179 9h0m12 3h0m138-5h0m31 12h0m-125 14h0m106-11h0m252 11h0m-383 4h0m46-1h0m205 4h0m-108 11h0m121 10h0m45-12h0m-145 14h0m31 10h0m57 19h0m62 9h0m10-8h0m-371 22h0m12-10h0m315 2h0m63 11h0m-399 6h0m439 7h0"/>
<path stroke="#3a538b" d="M1065 1249h0m-116 43h0m108 45h0m168 6h0m-157 7h0m123 39h0m104 17h0m-240 16h0m123 17h0m-318 4h0m1 12h0m1-5h0m37 8h0m261 11h0m8 0h0m1-6h0m-286 13h0m43 5h0m17-2h0m0-2h0m49-3h0m253 2h0m-265 16h0m70-1h0m2 4h0m53-1h0m134 0h0m-266 10h0m188 21h0m-179 7h0m242-5h0m36 24h0m-223 3h0m97 8h0m31 1h0m69-5h0m24 5h0m-54 37h0m86 7h0m-44 18h0"/>
<path stroke="#69cd5b" d="M894 1536h0m-33 29h0m17 0h0m15-11h0m30 9h0m8 10h0m127-5h0m81 11h0m-165 13h0m78 2h0m56-4h0m-179 14h0m116 4h0m28-4h0m56 0h0m-57 6h0m70 13h0m-287 2h0m402 5h0m-376 20h0m152-7h0m162 6h0m1-5h0m24 5h0m-315 3h0m44 14h0"/>
<path stroke="#28ae80" d="M976 1360h0m-68 72h0m-43 34h0m54 10h0m236-2h0m123-2h0m-433 58h0m6 6h0m245-9h0m-193 24h0m0-1h0m13 11h0m22-4h0m4 2h0m22 3h0m64-2h0m93-3h0m-165 13h0m33 0h0m7 4h0m-3 12h0m67-1h0m19-1h0m16 17h0m25 7h0m8-7h0m95 8h0m-234 12h0m167-3h0m11-4h0m-287 12h0m280 5h0m28-1h0m62 5h0m22 9h0m9-6h0m-69 22h0m79 1h0"/>
<path stroke="#a0da39" d="M851 1511h0m-2 12h0m46-6h0m-29 9h0m101 23h0m-103 8h0m7 9h0m3-3h0m3 9h0m26 4h0m14 2h0m195 1h0m-11 12h0m-188 17h0m86-6h0m46 7h0m-7 1h0m6 9h0m25 0h0m94-5h0m22 2h0m-324 15h0m246 1h0m34 4h0m124-2h0m-323 14h0m16-8h0m24 0h0m97 4h0m99 4h0m4 0h0m-202 15h0m11-7h0m55 8h0m122-11h0m36 10h0"/>
<path stroke="#7ad151" d="M875 1579h0m51-11h0m39 5h0m67-2h0m-120 12h0m4-1h0m14 1h0m36 2h0m20 7h0m4-3h0m107 2h0m-73 12h0m4-7h0m37 10h0m-27 8h0m155 5h0m-77 13h0m41 2h0m-311 7h0m69 8h0m279 2h0m73-9h0m-384 19h0m6-4h0m36 5h0m310-5h0m64-1h0"/>
<path stroke="#fde725" d="M939 1605h0m-77 14h0m46-9h0m23 12h0m12-8h0m3-3h0m33 16h0m5 12h0m49 2h0m19 7h0m8-5h0m-34 14h0m10 1h0m18 0h0m22 5h0m25-4h0m23 2h0m24-1h0m6 3h0m-11 4h0m5 1h0"/>
<path stroke="#4ac16d" d="M904 1352h0m376-1h0m-390 66h0m-5 101h0m-12 13h0m-1 18h0m130-1h0m-137 12h0m65 3h0m21 1h0m134 1h0m-231 7h0m196-1h0m-71 13h0m30 3h0m11-2h0m30 9h0m105 0h0m33 2h0m13 3h0m72 10h0m-402 3h0m242 4h0m7 2h0m17 1h0m3-2h0m73-2h0m-39 12h0m114 3h0m-79 16h0m-333 10h0m50 7h0m12-6h0m296-5h0m3 3h0m-304 12h0m340-1h0"/>
<path stroke="#3e4c8a" d="M1067 1192h0m-53 52h0m-21 3h0m230 33h0m-169 34h0m-61 14h0m12 30h0m-67 54h0m52 0h0m85 0h0m114 13h0m39-1h0m-115 4h0m69 12h0m-329 15h0m5-12h0m36 19h0m22-5h0m36-1h0m0 12h0m14-2h0m1 2h0m269-11h0m28 2h0m-408 15h0m156 9h0m-29 11h0m52-3h0m45 10h0m224 19h0m-365 7h0m36 0h0m312 4h0m-102 21h0m-46 5h0m49 8h0m38 0h0m-104 8h0m32-4h0m47 2h0m77 22h0m17 2h0m-100 39h0"/>
<path stroke="#414487" d="M999 1193h0m-52 27h0m-91 56h0m49 50h0m323 6h0m-333 17h0m314 32h0m67 2h0m-388 8h0m115-5h0m-45 41h0m-70 3h0m54 4h0m102-4h0m-143 14h0m-52 22h0m51-5h0m57 1h0m0 2h0m52 4h0m-116 5h0m41 7h0m53-1h0m60 0h0m-135 10h0m19-4h0m68 0h0m52 7h0m3-1h0m10 0h0m50 4h0m-14 9h0m-224 33h0m249-10h0m22 8h0m3-7h0m18 11h0m13 28h0m23-10h0m105 0h0m-86 20h0m8 2h0m26-5h0m21 5h0m-51 6h0m27 1h0m18 7h0m22-1h0m-8 6h0m0 10h0"/>
</g>
<g fill="none" stroke-linecap="round" stroke-width="14.2">
<path stroke="#3e4c8a" d="M1461 1372h0"/>
<path stroke="#a0da39" d="M1465 1533h0m-41 41h0m33-6h0m42 7h0m6-1h0m-75 10h0m56 9h0m128-3h0m4-2h0m2 4h0m-143 15h0m82 10h0m36 1h0m167-1h0m-163 16h0m84-4h0m-279 16h0m65 3h0m-55 7h0m1-1h0m1 2h0m13 6h0m5-2h0m16 2h0m289 0h0m-326 5h0m43 7h0m4-3h0m18-2h0m33 4h0m36-1h0m2 2h0"/>
<path stroke="#7ad151" d="M1441 1532h0m60-2h0m25 0h0m-26 10h0m-47 19h0m28 1h0m50 4h0m23 8h0m44 34h0m-141 6h0m197 1h0m13 2h0m-266 52h0m8 0h0m12-1h0m2 7h0m1-5h0m5 9h0m11 1h0m19-2h0"/>
<path stroke="#4ac16d" d="M1450 1505h0m27-7h0m-9 29h0m-69 142h0"/>
<path stroke="#22a884" d="M1468 1462h0m245 78h0m-235 107h0"/>
<path stroke="#32b67a" d="M1407 1488h0m358 50h0m-294 111h0m-51 22h0"/>
<path stroke="#8ed645" d="M1481 1546h0m-29 19h0m13-3h0m58 27h0m119 14h0m-243 49h0m2 13h0m17-2h0m2-3h0m30 5h0m31-7h0m79 5h0m-120 10h0m1 4h0m13 1h0m18 0h0m19-2h0m3-2h0m2 1h0m13 0h0m208-8h0"/>
<path stroke="#c8e020" d="M1446 1573h0m-18 19h0m25 1h0m36-6h0m20 1h0m38 5h0m-114 16h0m32-7h0m18 4h0m16 2h0m7-12h0m1 7h0m29 3h0m55-1h0m6 0h0m18-3h0m13 0h0m0-1h0m-225 17h0m111-2h0m14-2h0m16-4h0m1 12h0m3-8h0m44 5h0m25 3h0m-205 10h0m2 2h0m38-8h0m28 2h0m18 2h0m18-5h0m56 7h0m21-3h0m25-4h0m6 8h0m43-6h0m8-1h0m28 9h0m-288 10h0m8-1h0m8-2h0m59-2h0m93-2h0m-156 18h0m13 9h0m21-4h0m17-6h0m22 5h0m2 0h0m2 5h0m4-11h0m21 10h0m30-8h0m48 4h0m6-5h0m22-2h0m120 0h0m-300 18h0m42 2h0m4-4h0m20-2h0m8 4h0m8 1h0m6 1h0m10-2h0m5-5h0m3 10h0m17-2h0m14-1h0m13-7h0m0 1h0m34 4h0m34 6h0m57-7h0m69 1h0"/>
<path stroke="#1f9a8a" d="M1544 1385h0m-15 13h0m-40 36h0m289 67h0m-279 22h0m179 128h0"/>
<path stroke="#228d8d" d="M1541 1389h0"/>
<path stroke="#ece51b" d="M1406 1578h0m66 12h0m-52 10h0m15 6h0m75-1h0m-97 14h0m2-8h0m25 8h0m1 4h0m31-2h0m86-4h0m9 3h0m-168 11h0m16-4h0m12-1h0m64 8h0m163 0h0m45-7h0m-266 17h0m11-2h0m30 1h0m1 3h0m19-7h0m12-1h0m35 12h0m7-6h0m11 5h0m22 1h0m95-6h0m16-3h0m35 1h0m-259 13h0m43 0h0m19-1h0m28 7h0m20 1h0m7-5h0m1-3h0m1 2h0m118 0h0m-166 10h0m1 0h0m56 4h0m8 3h0m30-4h0m64 4h0m52 5h0"/>
<path stroke="#3dbc74" d="M1472 1438h0m-45 59h0m8 155h0m34 9h0"/>
<path stroke="#dae319" d="M1398 1586h0m34 5h0m16-5h0m58 9h0m-103 13h0m22-12h0m19 10h0m6-9h0m10 4h0m-59 17h0m4 0h0m12-1h0m55 4h0m2-2h0m52 1h0m2-4h0m185 3h0m-311 7h0m4 5h0m3-4h0m0 3h0m53-5h0m11 10h0m20-3h0m24-1h0m0-2h0m12-2h0m48 8h0m70-5h0m28-1h0m-259 16h0m7-3h0m10 4h0m3-7h0m4 6h0m2-4h0m5 8h0m13-6h0m34 5h0m19 2h0m28-8h0m34 2h0m35 4h0m5-10h0m47 6h0m20 7h0m3-4h0m33 3h0m-306 4h0m74 11h0m4-12h0m22 5h0m7 6h0m48-3h0m49-3h0m7 1h0m13-7h0m172 11h0m-254 9h0m14-6h0m1 8h0m11-4h0m2 8h0m17-7h0m19 5h0m2-10h0m8 4h0m21 7h0m18-1h0m33-1h0m6-3h0m58-4h0"/>
<path stroke="#1fa187" d="M1571 1425h0m-24 12h0m94-2h0m61 22h0"/>
<path stroke="#277f8e" d="M1521 1527h0"/>
<path stroke="#fde725" d="M1436 1608h0m-3 14h0m28-2h0m57 2h0m4-9h0m-49 19h0m40-8h0m23 8h0m10-8h0m17 2h0m116 4h0m-253 19h0m87-3h0m60 3h0m20-6h0m51 3h0m-87 14h0m2-2h0m11 1h0m43-7h0m17 0h0m22 5h0m16 3h0m12 5h0m8-1h0m4-9h0m-121 12h0m20 1h0m78 5h0m15 4h0m5-1h0m35-1h0m1-5h0"/>
<path stroke="#69cd5b" d="M1429 1490h0m35 29h0m29 0h0m-56 21h0m43 11h0m-26 11h0m363 13h0m-90 10h0m-224 61h0m143 7h0m-243 19h0m3 4h0m2-9h0m2 0h0m22 1h0m3 4h0m3 2h0m15-1h0m141-2h0"/>
<path stroke="#5ac864" d="M1402 1513h0m174 18h0m-56 130h0m133 1h0m31-2h0m-276 17h0m8-6h0m9 5h0m2-2h0m11-7h0"/>
<path stroke="#b2dd2d" d="M1462 1579h0m18 13h0m56-2h0m86 2h0m4-1h0m-221 8h0m37-2h0m43 5h0m96 5h0m69 0h0m-214 13h0m57-3h0m17-7h0m22 5h0m10 4h0m77 0h0m27 1h0m11 0h0m7-8h0m19-2h0m38 5h0m-310 11h0m103-1h0m82 8h0m156 16h0m-349 5h0m12-2h0m29 13h0m3-4h0m8 4h0m9 0h0m9-9h0m33 2h0m64 4h0m83 1h0m104 0h0m55-3h0m7 4h0m-348 6h0m17 0h0m5-2h0m7 1h0m4 1h0m3 6h0m6-1h0m10 1h0m11-4h0m4 4h0m7 0h0m8-6h0m1 1h0m22-2h0m12 3h0m20 5h0m4 0h0m2 1h0m1-6h0m23 5h0"/>
<path stroke="#28ae80" d="M1585 1496h0m128 30h0m-89 82h0m167 16h0m0 46h0"/>
<path stroke="#1f9a8a" d="M1413 1400h0m17 29h0m267 43h0"/>
<path stroke="#c8e020" d="M1408 1553h0m-2 2h0m13 8h0m6 3h0m21-11h0m-45 23h0m43 1h0m4-1h0m-19 15h0m34-5h0m11 4h0m74 17h0m22-11h0m23 6h0m7-3h0m-141 21h0m2-9h0m42 1h0m19 6h0m15-3h0m17 4h0m58-10h0m-211 20h0m62-6h0m1 9h0m69-4h0m84 2h0m74-3h0m41 8h0m54-2h0m-343 3h0m24 7h0m1-7h0m13 11h0m7-7h0m38 7h0m13 1h0m7-6h0m33 7h0m35-10h0m35-1h0m5 8h0m2-10h0m79 5h0m40-3h0m71 9h0m-406 16h0m24-7h0m4-5h0m15 11h0m4-12h0m75 0h0m73 0h0m90 11h0m27-4h0m16-7h0m-271 15h0m15 1h0m6 8h0m1 0h0m12-7h0m1 5h0m12 0h0m5-1h0m4-5h0m23-2h0m6 9h0m13 0h0m2-3h0m4 2h0m0 2h0m49-2h0m33-2h0m28 0h0m30 5h0"/>
<path stroke="#28ae80" d="M1508 1405h0m178 49h0m-70 4h0m-108 15h0m136 3h0m-106 16h0m-64 103h0"/>
<path stroke="#a0da39" d="M1464 1570h0m43 11h0m64 0h0m-72 12h0m5-11h0m63 8h0m-155 10h0m148 5h0m36-1h0m17-3h0m1-2h0m28-3h0m101 10h0m-290 14h0m297 4h0m-328 18h0m-23 16h0m3-5h0m6 10h0m11-2h0m29 3h0m34-8h0m7 8h0m30-9h0m11 10h0m-126 1h0m12 0h0m23 6h0m11 4h0m8-5h0m3-5h0m3 4h0m12-1h0m3 6h0m14 0h0m5-1h0m1-5h0m8 5h0m3-1h0m6-7h0m102 6h0"/>
<path stroke="#fde725" d="M1412 1599h0m-7 14h0m23 7h0m92 2h0m126 1h0m-239 5h0m12-1h0m190 10h0m-144 2h0m26 9h0m53-3h0m135 1h0m-202 13h0m24 1h0m9-2h0m2 0h0m29-1h0m13-3h0m76-2h0m9 3h0m78 7h0m-97 4h0m19 9h0m9-3h0m4 1h0m12 0h0m0 4h0m14-3h0"/>
<path stroke="#ece51b" d="M1481 1607h0m26 13h0m2-3h0m26 4h0m36-9h0m2 11h0m0-13h0m44 2h0m-145 19h0m18-2h0m2-2h0m9 7h0m45-5h0m20 6h0m12-3h0m61 3h0m50 0h0m-265 4h0m8 3h0m40-3h0m1 5h0m5 1h0m3-3h0m9 9h0m17-10h0m7 3h0m12 5h0m13-11h0m94 12h0m40 0h0m-225 3h0m24 7h0m3 1h0m24-9h0m39 7h0m3-6h0m24-1h0m8 9h0m5-2h0m21-2h0m49 8h0m80-7h0m-183 12h0m12-1h0m34 5h0m4 2h0m1-6h0m1 7h0m8-2h0m9 0h0m7 0h0m23-6h0m1 1h0m7 0h0m4 1h0m44 3h0m44 2h0m24 0h0m8-3h0m12 5h0"/>
<path stroke="#69cd5b" d="M1413 1538h0m108 12h0m83 12h0m5 3h0m83 9h0m36 8h0m-324 89h0m5 5h0m22 2h0m18-1h0m34 0h0"/>
<path stroke="#8ed645" d="M1400 1520h0m1 0h0m77 25h0m-17 15h0m-10 8h0m41 0h0m177 20h0m-222 10h0m55 5h0m123 1h0m-104 10h0m102-1h0m23 1h0m162 18h0m-391 41h0m37-1h0m8-6h0m5 1h0m1 8h0m16-3h0"/>
<path stroke="#1fa187" d="M1448 1439h0m182 9h0m-32 13h0"/>
<path stroke="#4ac16d" d="M1465 1470h0m49 46h0m103 19h0m-207 138h0"/>
<path stroke="#22a884" d="M1460 1485h0m99 27h0m161 157h0"/>
<path stroke="#b2dd2d" d="M1434 1561h0m35 20h0m8 9h0m2 5h0m2-12h0m75 8h0m-137 8h0m30 10h0m41 0h0m164 4h0m6-3h0m89 8h0m-307 9h0m117-1h0m3 9h0m72-7h0m18 0h0m41 5h0m48-6h0m16 5h0m6-4h0m-356 12h0m21 2h0m20 5h0m3 3h0m1-9h0m116-3h0m163 1h0m23-1h0m59 7h0m-384 7h0m2 9h0m2-1h0m5 3h0m16-7h0m7 6h0m10-10h0m3 4h0m1-1h0m8 9h0m28-5h0m10-1h0m18-2h0m28 7h0m2 2h0m20-1h0m0-8h0m50-2h0m3 0h0m41 9h0m11-7h0m80-4h0m-324 16h0m48-1h0m0 6h0m7 5h0m11-2h0m4 1h0m10-6h0m6 3h0m1-2h0m6-6h0m3 11h0m34-5h0m18 0h0m8 0h0m20 5h0m189-3h0"/>
<path stroke="#dae319" d="M1486 1605h0m3-9h0m3 2h0m30 8h0m80 3h0m-196 14h0m14-4h0m28 0h0m100-5h0m22 3h0m81 2h0m-218 5h0m23 2h0m19 5h0m29 3h0m4-6h0m15 7h0m-122 6h0m45-1h0m0-2h0m30 0h0m7 7h0m81-5h0m1 8h0m39-9h0m67 11h0m8-2h0m26 1h0m-266 5h0m13-2h0m53 13h0m7-2h0m19-1h0m8 1h0m88 0h0m7-8h0m2 10h0m15 0h0m19 0h0m10-9h0m54 4h0m61 5h0m-283 1h0m48 10h0m11-10h0m60 2h0m11 4h0m10 4h0m22-2h0m105-2h0m36 6h0"/>
<path stroke="#5ac864" d="M1499 1490h0m-83 29h0m29-3h0m277 18h0m-101 34h0m116 7h0m-21 23h0m75 1h0m-384 77h0m9-6h0m12 3h0"/>
<path stroke="#32b67a" d="M1519 1503h0m164 11h0"/>
<path stroke="#3dbc74" d="M1418 1468h0m43 28h0m96 9h0m-109 141h0m220-3h0"/>
<path stroke="#7ad151" d="M1464 1536h0m-32 27h0m69 4h0m44-9h0m-51 14h0m23-3h0m69 4h0m75 16h0m-247 79h0m9 8h0m18 2h0m1-8h0m0-2h0m74 7h0m30 2h0"/>
<path stroke="#28ae80" d="M1722 1500h0"/>
<path stroke="#32b67a" d="M1626 1492h0m-45 25h0m-159 98h0m66 14h0"/>
<path stroke="#dae319" d="M1403 1599h0m4 8h0m6 1h0m8-7h0m70 6h0m34-1h0m72-7h0m-168 13h0m29-1h0m25 3h0m12-3h0m30 12h0m23-3h0m65-2h0m-202 7h0m37 7h0m36-2h0m9 4h0m9-7h0m9 4h0m4 0h0m7 0h0m72 2h0m70-5h0m-257 15h0m32 8h0m2-10h0m6 6h0m3-6h0m53 8h0m31-1h0m78-6h0m35 5h0m-156 11h0m4 3h0m22-1h0m38 0h0m13 4h0m12-2h0m4 2h0m1-4h0m1-5h0m53-1h0m3 6h0m4-3h0m29-5h0m15 3h0m17 3h0m38 0h0m30 3h0m-265 5h0m33 9h0m9-4h0m55 3h0m6 3h0m3-4h0m30-4h0m5 7h0m17-2h0m6 4h0m5-2h0m18-10h0m4 7h0m19 1h0m13-3h0m34-1h0m9 5h0m8 1h0m27-5h0m16 4h0"/>
<path stroke="#b2dd2d" d="M1463 1564h0m-54 8h0m50 5h0m134 1h0m-139 8h0m32 7h0m11-2h0m59 3h0m28 1h0m-146 5h0m8 1h0m61-5h0m39 3h0m15 3h0m50-6h0m30 4h0m-208 19h0m62-8h0m25 9h0m13-9h0m70 11h0m30-12h0m-215 25h0m149-8h0m8-2h0m9 2h0m37-2h0m13 11h0m-229 2h0m79 2h0m-81 20h0m35-7h0m14 3h0m33 0h0m12 0h0m18 9h0m6-4h0m6 3h0m4-3h0m42-8h0m48 8h0m74-6h0m64 2h0m-268 12h0m5-1h0m22 4h0m32 0h0m4-3h0m12-3h0m42 2h0m18 10h0m52-2h0"/>
<path stroke="#22a884" d="M1464 1420h0m29 37h0m294 31h0m-386 189h0"/>
<path stroke="#8ed645" d="M1408 1529h0m49 9h0m-46 13h0m15 1h0m-1 13h0m33-4h0m7-3h0m104 9h0m47-8h0m-106 20h0m118-4h0m26-3h0m-109 16h0m16-1h0m-45 11h0m18-1h0m37 15h0m141 4h0m-177 31h0m-91 17h0m96 8h0"/>
<path stroke="#1fa187" d="M1593 1423h0m-45 9h0m141 6h0"/>
<path stroke="#c8e020" d="M1399 1566h0m39 4h0m-13 15h0m1 3h0m40 0h0m11-1h0m16-2h0m74 2h0m-157 10h0m15-1h0m11 9h0m8-2h0m67 4h0m8-11h0m0 3h0m15 7h0m80 3h0m-121 2h0m27 3h0m22 8h0m70-11h0m-196 22h0m18 3h0m45-3h0m27-9h0m34 0h0m37 5h0m88 4h0m68-2h0m21-3h0m-347 20h0m11-5h0m3 4h0m14 1h0m16-1h0m0 1h0m39-3h0m40-5h0m19 6h0m45 1h0m2-8h0m36 3h0m42-1h0m93-2h0m13 12h0m-353 1h0m9 13h0m13-7h0m1-6h0m19 9h0m2-7h0m2 5h0m7 0h0m27 4h0m57 2h0m7-7h0m17-1h0m28-5h0m11 8h0m14 0h0m26-5h0m155 4h0m-320 9h0m2-1h0m19 9h0m23-4h0m7 4h0m3 2h0m7-12h0m16 5h0m8 3h0m15-5h0m11-1h0m4 9h0m23-6h0m32-1h0m4 2h0m2-5h0m4-1h0m1 2h0m35 5h0m11-5h0m58-2h0"/>
<path stroke="#4ac16d" d="M1405 1481h0m218 37h0m-197 21h0m279 21h0m-272 47h0m117 19h0m-149 51h0m6-1h0m39 1h0"/>
<path stroke="#3dbc74" d="M1437 1431h0m248 96h0m94 4h0m-377 141h0m105-1h0"/>
<path stroke="#a0da39" d="M1509 1535h0m-110 17h0m43-3h0m-28 13h0m71-6h0m24 13h0m6 1h0m33 8h0m-121 14h0m68 0h0m2-7h0m8 0h0m10 8h0m10-6h0m5 21h0m39-11h0m1 11h0m40-1h0m5-3h0m32 0h0m3 1h0m-33 16h0m111 12h0m-249 16h0m-78 9h0m37 1h0m19-1h0m84 5h0m69-3h0m-174 11h0m19 3h0m5-2h0m2-4h0m15-1h0m34 2h0m8 6h0m0 2h0m105-6h0"/>
<path stroke="#33638d" d="M1814 1551h0"/>
<path stroke="#69cd5b" d="M1477 1503h0m-9 44h0m0 18h0m226 1h0m-291 101h0m2 2h0m71 7h0"/>
<path stroke="#20938c" d="M1438 1394h0m188 17h0m-30 40h0"/>
<path stroke="#5ac864" d="M1483 1523h0m141 12h0m-221 13h0m239 6h0m5 6h0m95 2h0m-251 8h0m245 16h0m-166 78h0m-164 12h0m7-6h0m18 3h0"/>
<path stroke="#1f9a8a" d="M1442 1431h0m221 20h0m-51 157h0"/>
<path stroke="#7ad151" d="M1485 1549h0m-23 16h0m209 17h0m-23 18h0m-53 19h0m-191 50h0m8 4h0m6-4h0m7-3h0m3 12h0m13-6h0m14-4h0m6 9h0m6-3h0m37 2h0m136 1h0"/>
<path stroke="#fde725" d="M1440 1596h0m-10 22h0m15 1h0m66 0h0m-100 6h0m57 6h0m23-4h0m-57 15h0m17 1h0m20 2h0m36-7h0m5 2h0m8-1h0m77 11h0m145 1h0m-218 12h0m46 0h0m4-8h0m6 8h0m6-8h0m1 2h0m128 0h0m16 7h0m48-5h0m-207 13h0m83 0h0m15 4h0m4-5h0m1 0h0m30 7h0m7-9h0"/>
<path stroke="#ece51b" d="M1402 1596h0m2 13h0m17-9h0m10 8h0m45 0h0m72-2h0m-31 11h0m7-7h0m81 11h0m-191 10h0m6-5h0m28-2h0m1 2h0m24 9h0m67 1h0m23-8h0m24-2h0m15 4h0m-196 16h0m11-6h0m76 0h0m21 8h0m8-6h0m15-3h0m3 4h0m25 2h0m6 6h0m20-5h0m1 3h0m7 1h0m46 0h0m12-9h0m-239 14h0m26-3h0m28 2h0m43 0h0m20 6h0m35-2h0m52 0h0m10-5h0m21 2h0m-99 18h0m3-1h0m18-4h0m8 1h0m10-2h0m14 7h0m37-2h0m2 4h0m67 2h0m19-11h0m24 9h0m20 0h0m38-6h0"/>
<path stroke="#24868e" d="M1546 1464h0"/>
<path stroke="#277f8e" d="M1440 1365h0"/>
<path stroke="#4ac16d" d="M1514 1479h0m-69 21h0m87 3h0m-84 11h0m-35 161h0m7 1h0"/>
<path stroke="#28ae80" d="M1401 1411h0m33 7h0m7 56h0m252 20h0m-68 29h0m-45 21h0m-68 82h0m-83 42h0m71 9h0m14-6h0"/>
<path stroke="#5ac864" d="M1439 1478h0m87 37h0m279 1h0m-257 17h0m-70 11h0m170 12h0m-212 119h0m25-2h0"/>
<path stroke="#ece51b" d="M1608 1576h0m-194 13h0m76-3h0m-58 10h0m32 4h0m42 8h0m-94 7h0m14 4h0m49 0h0m10 1h0m99-6h0m21 7h0m-177 10h0m21 6h0m9-8h0m6 2h0m33 4h0m2 0h0m46-5h0m35 4h0m89-4h0m15-2h0m5 9h0m34-5h0m-315 13h0m45-5h0m22 1h0m9 4h0m9-3h0m23 6h0m2 3h0m3-13h0m77 5h0m25-5h0m24 0h0m14 12h0m12-6h0m-162 19h0m9-2h0m20-4h0m28 8h0m2-12h0m8 11h0m45-4h0m28-3h0m50 6h0m20-7h0m-133 16h0m3 4h0m12-5h0m0 7h0m11-2h0m7-8h0m21 8h0m3-1h0m26-1h0m12 1h0m19-1h0m10-4h0m49-3h0m12 10h0m22-3h0m13 3h0"/>
<path stroke="#c8e020" d="M1400 1567h0m82-6h0m-50 12h0m29-5h0m-40 26h0m33 0h0m69-2h0m28-2h0m4-3h0m-114 9h0m0 4h0m30-1h0m12 5h0m3-4h0m15 6h0m96 3h0m93-1h0m-235 11h0m27-4h0m7 4h0m45-4h0m27 2h0m14-1h0m19 4h0m7-8h0m15 11h0m10 0h0m61-1h0m70-3h0m-320 15h0m61-9h0m12 7h0m1 1h0m58 0h0m88-1h0m62-1h0m36 3h0m-354 6h0m56 2h0m23 2h0m73 6h0m23-9h0m34 4h0m49 2h0m2 4h0m2-11h0m15 7h0m19 1h0m60-6h0m-344 21h0m3-4h0m52-2h0m11-1h0m23 5h0m6-4h0m3 2h0m4-2h0m3 0h0m7 5h0m18-5h0m11 8h0m19-10h0m4 5h0m25-6h0m15 2h0m12 5h0m5 0h0m17 1h0m57 3h0m59-9h0m27 0h0m-308 17h0m43 4h0m22-11h0m3 11h0m20-3h0m2-5h0m9-2h0m16 7h0m46-1h0m41-6h0m40 7h0m19-7h0m53-1h0"/>
<path stroke="#1fa187" d="M1648 1434h0m127 45h0m-359 16h0"/>
<path stroke="#b2dd2d" d="M1406 1558h0m7-3h0m51 35h0m15-2h0m167 7h0m-175 8h0m60-1h0m71 0h0m-178 8h0m12 9h0m120-3h0m36-3h0m98 6h0m33 2h0m1-1h0m-199 7h0m69 1h0m7-1h0m85 1h0m2 0h0m40 6h0m6-2h0m36 1h0m-354 14h0m172-7h0m11 7h0m49 0h0m186-1h0m-381 8h0m12 4h0m1 6h0m3-6h0m8 0h0m1-3h0m2 0h0m2 6h0m1-1h0m37 0h0m4-6h0m4 5h0m6 4h0m49-4h0m35 6h0m145-13h0m4 12h0m1 0h0m-319 10h0m24-3h0m28-2h0m15 8h0m17-3h0m10-6h0m2 8h0m9-1h0m33 1h0m10 1h0m1-3h0m2 2h0m6-6h0m75-4h0m61 12h0m84-12h0"/>
<path stroke="#8ed645" d="M1456 1558h0m88 11h0m90 9h0m170 11h0m-366 17h0m84 20h0m-77 25h0m49 0h0m-72 7h0m10 6h0m194-9h0m-214 11h0m25 7h0m6-4h0m2-3h0m7 1h0m22 4h0m9 3h0m0 4h0m10-2h0m12 0h0m14 2h0m6-4h0m30 1h0m16-2h0m126-1h0"/>
<path stroke="#fde725" d="M1461 1604h0m73 4h0m92 14h0m-186 10h0m1 3h0m81-8h0m-59 13h0m31-1h0m6 1h0m33 3h0m83 5h0m68 0h0m-148 11h0m2-6h0m74 7h0m15 3h0m16-2h0m143-3h0m-242 10h0m100 1h0m4-3h0m38 12h0m23-1h0m93 1h0"/>
<path stroke="#dae319" d="M1433 1570h0m33 9h0m-48 14h0m43-2h0m37-4h0m81 3h0m-141 7h0m19 6h0m47 4h0m1-1h0m-103 13h0m4 4h0m12-1h0m5-4h0m12-2h0m5-4h0m5 1h0m27 1h0m15 8h0m34 0h0m47-3h0m105-1h0m-273 9h0m21 7h0m6 0h0m14 2h0m2-1h0m2-6h0m9 6h0m18-4h0m5 0h0m17-4h0m72 3h0m25 5h0m1-4h0m146 1h0m-339 8h0m11 3h0m16-2h0m10-3h0m3 10h0m11-7h0m31-2h0m16 5h0m48 3h0m2 1h0m2-4h0m4-5h0m66 1h0m20 11h0m2 0h0m38-1h0m67 1h0m-309 10h0m25-8h0m2 10h0m30-10h0m18-1h0m23 8h0m8-7h0m12-1h0m21 1h0m0 9h0m24 2h0m11-11h0m13 10h0m15-6h0m113 2h0m22-2h0m29-1h0m-272 18h0m28-3h0m26 3h0m10 0h0m15-1h0m18-1h0m61-1h0m33-3h0m56 4h0m38 2h0"/>
<path stroke="#3dbc74" d="M1421 1450h0m32-5h0m156 85h0m-167 101h0m92 20h0"/>
<path stroke="#22a884" d="M1464 1399h0m52 16h0m-72 32h0m88 3h0m40 22h0m201 12h0m-322 68h0"/>
<path stroke="#1f9a8a" d="M1696 1431h0m37 130h0m-236 85h0"/>
<path stroke="#69cd5b" d="M1432 1528h0m98 6h0m8 31h0m17-7h0m89 2h0m69 8h0m-289 63h0m-4 38h0m14 9h0m1-6h0m13 4h0m13-5h0"/>
<path stroke="#a0da39" d="M1505 1553h0m-58 7h0m155 14h0m-88 21h0m-92 11h0m157 3h0m32-10h0m21 6h0m55 0h0m-172 5h0m110 3h0m-105 16h0m3 5h0m98-8h0m-118 13h0m-102 26h0m5-7h0m7 5h0m4 2h0m9-8h0m3-4h0m0 10h0m0-1h0m6 3h0m32 0h0m33-2h0m3 1h0m26-9h0m14 10h0m-119 8h0m9-2h0m4-2h0m6-1h0m4 2h0m25 5h0m7 3h0m1-6h0m2-5h0m1 10h0m44 0h0m28 1h0m19 0h0"/>
<path stroke="#32b67a" d="M1626 1505h0m56 170h0"/>
<path stroke="#7ad151" d="M1461 1550h0m30 29h0m194 36h0m109 11h0m-363 36h0m34 2h0m-43 3h0m9 6h0m10-2h0m16 5h0m3-5h0m0 3h0m34 1h0"/>
<path stroke="#20938c" d="M1495 1398h0m90 128h0m-154 151h0"/>
</g>
<path d="M783.0 287.7H258.5V824.8H783.0" fill="none" stroke="#000" stroke-width="2.7"/>
<path d="M783.0 286.4V826.1" stroke="#959595" stroke-width="1.4"/>
<path d="M287.6 825.6v11.5M521.0 825.6v11.5M754.4 825.6v11.5M257.7 316.0h-11.5M257.7 396.1h-11.5M257.7 476.2h-11.5M257.7 556.4h-11.5M257.7 636.5h-11.5M257.7 716.6h-11.5M257.7 796.7h-11.5" stroke="#000" stroke-width="2.6" fill="none"/>
<rect x="808.9" y="287.7" width="525.6" height="537.3" fill="none" stroke="#000" stroke-width="2.7"/>
<path d="M837.9 825.8v11.5M1071.6 825.8v11.5M1305.3 825.8v11.5M808.1 316.0h-11.5M808.1 396.1h-11.5M808.1 476.2h-11.5M808.1 556.4h-11.5M808.1 636.5h-11.5M808.1 716.6h-11.5M808.1 796.7h-11.5" stroke="#000" stroke-width="2.6" fill="none"/>
<rect x="1363.3" y="290.0" width="524.7" height="537.6" fill="none" stroke="#000" stroke-width="2.7"/>
<path d="M1393.0 828.4v11.5M1625.0 828.4v11.5M1857.0 828.4v11.5M1362.5 311.2h-11.5M1362.5 393.9h-11.5M1362.5 476.6h-11.5M1362.5 559.2h-11.5M1362.5 641.9h-11.5M1362.5 724.6h-11.5M1362.5 807.3h-11.5" stroke="#000" stroke-width="2.6" fill="none"/>
<rect x="260.0" y="1159.5" width="526.0" height="536.8" fill="none" stroke="#000" stroke-width="2.7"/>
<path d="M289.0 1697.1v11.5M522.6 1697.1v11.5M756.3 1697.1v11.5M259.2 1187.3h-11.5M259.2 1267.5h-11.5M259.2 1347.6h-11.5M259.2 1427.8h-11.5M259.2 1507.9h-11.5M259.2 1588.0h-11.5M259.2 1668.2h-11.5" stroke="#000" stroke-width="2.6" fill="none"/>
<rect x="812.9" y="1159.5" width="526.7" height="536.8" fill="none" stroke="#000" stroke-width="2.7"/>
<path d="M842.3 1697.1v11.5M1075.8 1697.1v11.5M1309.2 1697.1v11.5M812.1 1187.3h-11.5M812.1 1267.5h-11.5M812.1 1347.6h-11.5M812.1 1427.8h-11.5M812.1 1507.9h-11.5M812.1 1588.0h-11.5M812.1 1668.2h-11.5" stroke="#000" stroke-width="2.6" fill="none"/>
<rect x="1367.6" y="1161.9" width="522.0" height="536.9" fill="none" stroke="#000" stroke-width="2.7"/>
<path d="M1398.1 1699.6v11.5M1630.2 1699.6v11.5M1862.4 1699.6v11.5M1366.8 1182.9h-11.5M1366.8 1265.5h-11.5M1366.8 1348.0h-11.5M1366.8 1430.6h-11.5M1366.8 1513.2h-11.5M1366.8 1595.7h-11.5M1366.8 1678.3h-11.5" stroke="#000" stroke-width="2.6" fill="none"/>
<rect x="281.4" y="214.2" width="472.4" height="46.1" fill="url(#vg)" stroke="#3b3b3b" stroke-width="2.4"/>
<path d="M312.8 213.5v-11M428.6 213.5v-11M554.4 213.5v-11M680.1 213.5v-11" stroke="#1c1c1c" stroke-width="2.2" fill="none"/>
<text x="291.6" y="192.2" font-size="38.9" textLength="39.6" lengthAdjust="spacingAndGlyphs">-1</text>
<text x="419.7" y="192.4" font-size="38.9" textLength="21.7" lengthAdjust="spacingAndGlyphs">0</text>
<text x="548.9" y="192.2" font-size="38.9" textLength="18.4" lengthAdjust="spacingAndGlyphs">1</text>
<text x="672.8" y="193.2" font-size="38.9" textLength="22.1" lengthAdjust="spacingAndGlyphs">2</text>
<rect x="831.4" y="214.5" width="472.2" height="45.8" fill="url(#vg)" stroke="#3b3b3b" stroke-width="2.4"/>
<path d="M862.1 213.8v-11M996.0 213.8v-11M1140.7 213.8v-11M1280.4 213.8v-11" stroke="#1c1c1c" stroke-width="2.2" fill="none"/>
<text x="832.8" y="197.5" font-size="38.9" textLength="59.7" lengthAdjust="spacingAndGlyphs">7.5</text>
<text x="983.9" y="193.3" font-size="38.9" textLength="23.4" lengthAdjust="spacingAndGlyphs">8</text>
<text x="1110.9" y="194.0" font-size="38.9" textLength="59.3" lengthAdjust="spacingAndGlyphs">8.5</text>
<text x="1268.1" y="196.2" font-size="38.9" textLength="23.9" lengthAdjust="spacingAndGlyphs">9</text>
<rect x="1390.9" y="215.9" width="472.3" height="45.9" fill="url(#vg)" stroke="#3b3b3b" stroke-width="2.4"/>
<path d="M1505.4 215.2v-11M1645.1 215.2v-11M1785.1 215.2v-11" stroke="#1c1c1c" stroke-width="2.2" fill="none"/>
<text x="1496.3" y="196.9" font-size="38.9" textLength="21.2" lengthAdjust="spacingAndGlyphs">5</text>
<text x="1616.0" y="197.0" font-size="38.9" textLength="59.7" lengthAdjust="spacingAndGlyphs">7.5</text>
<text x="1763.9" y="195.3" font-size="38.9" textLength="44.8" lengthAdjust="spacingAndGlyphs">10</text>
<rect x="287.1" y="1085.0" width="472.2" height="46.2" fill="url(#vg)" stroke="#3b3b3b" stroke-width="2.4"/>
<path d="M484.8 1084.3v-11M662.8 1084.3v-11" stroke="#1c1c1c" stroke-width="2.2" fill="none"/>
<text x="475.2" y="1067.7" font-size="38.9" textLength="19.2" lengthAdjust="spacingAndGlyphs">1</text>
<text x="652.4" y="1069.0" font-size="38.9" textLength="22.7" lengthAdjust="spacingAndGlyphs">2</text>
<rect x="841.5" y="1085.0" width="472.0" height="46.2" fill="url(#vg)" stroke="#3b3b3b" stroke-width="2.4"/>
<path d="M951.1 1084.3v-11M1085.0 1084.3v-11M1235.7 1084.3v-11" stroke="#1c1c1c" stroke-width="2.2" fill="none"/>
<text x="941.9" y="1067.2" font-size="38.9" textLength="24.2" lengthAdjust="spacingAndGlyphs">7</text>
<text x="1056.1" y="1068.2" font-size="38.9" textLength="59.7" lengthAdjust="spacingAndGlyphs">7.5</text>
<text x="1223.7" y="1067.4" font-size="38.9" textLength="24.4" lengthAdjust="spacingAndGlyphs">8</text>
<rect x="1389.3" y="1084.0" width="472.6" height="45.8" fill="url(#vg)" stroke="#3b3b3b" stroke-width="2.4"/>
<path d="M1452.8 1083.3v-11M1568.3 1083.3v-11M1689.7 1083.3v-11M1815.6 1083.3v-11" stroke="#1c1c1c" stroke-width="2.2" fill="none"/>
<text x="1441.6" y="1069.4" font-size="38.9" textLength="21.8" lengthAdjust="spacingAndGlyphs">5</text>
<text x="1548.1" y="1067.4" font-size="38.9" textLength="44.3" lengthAdjust="spacingAndGlyphs">10</text>
<text x="1670.9" y="1065.3" font-size="38.9" textLength="44.4" lengthAdjust="spacingAndGlyphs">15</text>
<text x="1789.6" y="1067.4" font-size="38.9" textLength="45.9" lengthAdjust="spacingAndGlyphs">20</text>
<text x="144.1" y="329.3" font-size="38.9" textLength="86.8" lengthAdjust="spacingAndGlyphs">−0.8</text>
<text x="144.1" y="409.4" font-size="38.9" textLength="86.6" lengthAdjust="spacingAndGlyphs">−1.0</text>
<text x="144.1" y="489.5" font-size="38.9" textLength="87.2" lengthAdjust="spacingAndGlyphs">−1.2</text>
<text x="144.1" y="569.6" font-size="38.9" textLength="86.2" lengthAdjust="spacingAndGlyphs">−1.4</text>
<text x="144.1" y="649.8" font-size="38.9" textLength="86.8" lengthAdjust="spacingAndGlyphs">−1.6</text>
<text x="144.1" y="729.9" font-size="38.9" textLength="86.8" lengthAdjust="spacingAndGlyphs">−1.8</text>
<text x="144.1" y="810.0" font-size="38.9" textLength="86.6" lengthAdjust="spacingAndGlyphs">−2.0</text>
<text x="145.5" y="1200.6" font-size="38.9" textLength="86.9" lengthAdjust="spacingAndGlyphs">−0.8</text>
<text x="145.5" y="1280.8" font-size="38.9" textLength="86.7" lengthAdjust="spacingAndGlyphs">−1.0</text>
<text x="145.5" y="1360.9" font-size="38.9" textLength="87.3" lengthAdjust="spacingAndGlyphs">−1.2</text>
<text x="145.5" y="1441.0" font-size="38.9" textLength="86.3" lengthAdjust="spacingAndGlyphs">−1.4</text>
<text x="145.5" y="1521.2" font-size="38.9" textLength="86.9" lengthAdjust="spacingAndGlyphs">−1.6</text>
<text x="145.5" y="1601.3" font-size="38.9" textLength="86.9" lengthAdjust="spacingAndGlyphs">−1.8</text>
<text x="145.5" y="1681.5" font-size="38.9" textLength="86.7" lengthAdjust="spacingAndGlyphs">−2.0</text>
<text x="280.1" y="879.2" font-size="38.9" textLength="19.7" lengthAdjust="spacingAndGlyphs">1</text>
<text x="509.1" y="879.2" font-size="38.9" textLength="24.4" lengthAdjust="spacingAndGlyphs">2</text>
<text x="740.4" y="879.2" font-size="38.9" textLength="21.8" lengthAdjust="spacingAndGlyphs">3</text>
<text x="832.9" y="879.7" font-size="38.9" textLength="19.9" lengthAdjust="spacingAndGlyphs">1</text>
<text x="1061.8" y="879.7" font-size="38.9" textLength="23.1" lengthAdjust="spacingAndGlyphs">2</text>
<text x="1293.9" y="879.7" font-size="38.9" textLength="21.1" lengthAdjust="spacingAndGlyphs">3</text>
<text x="1382.3" y="881.7" font-size="38.9" textLength="21.7" lengthAdjust="spacingAndGlyphs">1</text>
<text x="1613.8" y="881.7" font-size="38.9" textLength="22.7" lengthAdjust="spacingAndGlyphs">2</text>
<text x="1846.5" y="881.7" font-size="38.9" textLength="21.8" lengthAdjust="spacingAndGlyphs">3</text>
<text x="278.3" y="1751.1" font-size="38.9" textLength="21.7" lengthAdjust="spacingAndGlyphs">1</text>
<text x="511.4" y="1751.1" font-size="38.9" textLength="22.7" lengthAdjust="spacingAndGlyphs">2</text>
<text x="745.8" y="1751.1" font-size="38.9" textLength="21.8" lengthAdjust="spacingAndGlyphs">3</text>
<text x="831.6" y="1751.1" font-size="38.9" textLength="21.7" lengthAdjust="spacingAndGlyphs">1</text>
<text x="1064.5" y="1751.1" font-size="38.9" textLength="22.7" lengthAdjust="spacingAndGlyphs">2</text>
<text x="1298.7" y="1751.1" font-size="38.9" textLength="21.8" lengthAdjust="spacingAndGlyphs">3</text>
<text x="1387.4" y="1753.4" font-size="38.9" textLength="21.7" lengthAdjust="spacingAndGlyphs">1</text>
<text x="1619.0" y="1753.4" font-size="38.9" textLength="22.7" lengthAdjust="spacingAndGlyphs">2</text>
<text x="1851.9" y="1753.4" font-size="38.9" textLength="21.8" lengthAdjust="spacingAndGlyphs">3</text>
<text x="683.6" y="347.9" font-size="39.5" textLength="54.9" lengthAdjust="spacingAndGlyphs">(a)</text>
<text x="1234.7" y="345.8" font-size="39.5" textLength="56.2" lengthAdjust="spacingAndGlyphs">(b)</text>
<text x="1792.5" y="358.5" font-size="39.5" textLength="54.9" lengthAdjust="spacingAndGlyphs">(c)</text>
<text x="689.1" y="1228.5" font-size="39.5" textLength="56.4" lengthAdjust="spacingAndGlyphs">(d)</text>
<text x="1236.8" y="1226.1" font-size="39.5" textLength="55.3" lengthAdjust="spacingAndGlyphs">(e)</text>
<text x="1771.8" y="1219.6" font-size="39.5" textLength="46.4" lengthAdjust="spacingAndGlyphs">(f)</text>
<text x="299.6" y="84.0" font-size="45.6" textLength="417.5" lengthAdjust="spacingAndGlyphs">Topographic profile</text>
<text x="395.7" y="138.8" font-size="45.6" textLength="240.8" lengthAdjust="spacingAndGlyphs">RMSE (log)</text>
<text x="309.2" y="967.6" font-size="45.6" textLength="417.7" lengthAdjust="spacingAndGlyphs">Topographic profile</text>
<text x="405.3" y="1022.4" font-size="45.6" textLength="241.1" lengthAdjust="spacingAndGlyphs">RMSE (log)</text>
<text x="860.9" y="70.0" font-size="31.2" textLength="34.5" lengthAdjust="spacingAndGlyphs">10</text>
<text x="895.3" y="87.6" font-size="45.6" textLength="364.8" lengthAdjust="spacingAndGlyphs">Be concentration</text>
<text x="871.6" y="141.2" font-size="45.6" textLength="391.4" lengthAdjust="spacingAndGlyphs">profile RMSE (log)</text>
<text x="880.2" y="941.9" font-size="31.2" textLength="34.6" lengthAdjust="spacingAndGlyphs">10</text>
<text x="914.7" y="959.6" font-size="45.6" textLength="364.8" lengthAdjust="spacingAndGlyphs">Be concentration</text>
<text x="883.8" y="1013.2" font-size="45.6" textLength="390.6" lengthAdjust="spacingAndGlyphs">profile RMSE (log)</text>
<text x="1418.0" y="84.8" font-size="45.6" textLength="396.1" lengthAdjust="spacingAndGlyphs">Accepted negative</text>
<text x="1480.1" y="138.7" font-size="45.6" textLength="288.1" lengthAdjust="spacingAndGlyphs">log-likelihood</text>
<text x="1416.6" y="952.9" font-size="45.6" textLength="397.0" lengthAdjust="spacingAndGlyphs">Accepted negative</text>
<text x="1477.6" y="1006.0" font-size="45.6" textLength="288.5" lengthAdjust="spacingAndGlyphs">log-likelihood</text>
<g transform="translate(59.0 1322.1) rotate(-90)"><text x="-0.3" y="0.0" font-size="53.2" textLength="585.0" lengthAdjust="spacingAndGlyphs">Wave height decay rate</text><text x="602.2" y="0.0" font-size="53.2" textLength="73.8" lengthAdjust="spacingAndGlyphs" font-style="italic">(a)</text></g>
<g transform="translate(1955.7 341.8) rotate(90)"><text x="-4.5" y="0.0" font-size="53.2" textLength="204.0" lengthAdjust="spacingAndGlyphs">Bideford</text></g>
<g transform="translate(1954.0 1245.9) rotate(90)"><text x="-2.4" y="0.0" font-size="53.2" textLength="159.1" lengthAdjust="spacingAndGlyphs">Scalby</text></g>
<text x="779.8" y="1849.0" font-size="53.2" textLength="466.3" lengthAdjust="spacingAndGlyphs">Material resistance</text><text x="1263.3" y="1849.0" font-size="53.2" textLength="75.9" lengthAdjust="spacingAndGlyphs" font-style="italic">(b)</text>
</svg></body></html>
